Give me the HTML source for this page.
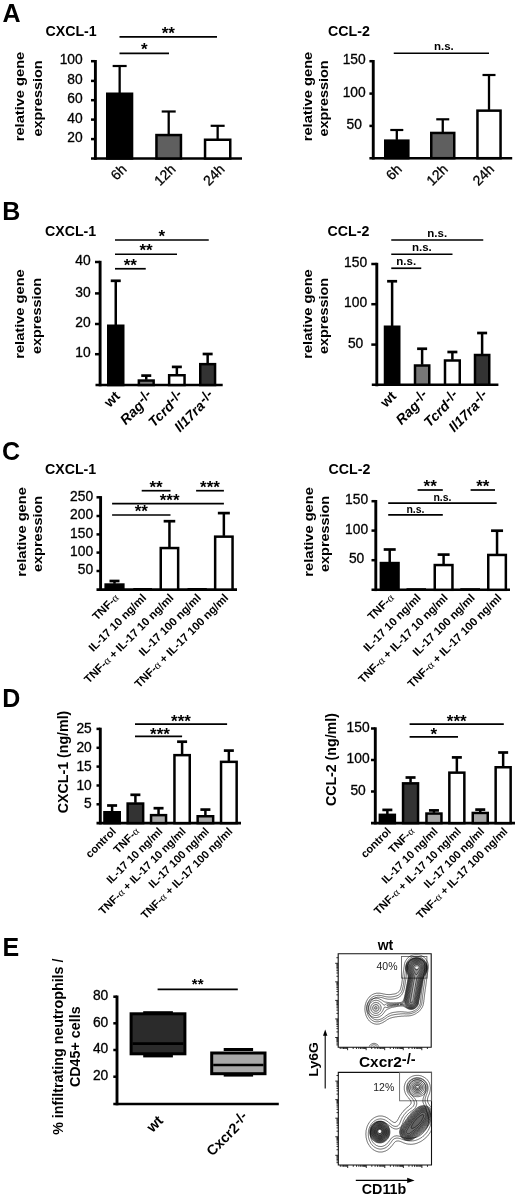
<!DOCTYPE html>
<html><head><meta charset="utf-8"><title>Figure</title>
<style>
html,body{margin:0;padding:0;background:#fff;}
svg{display:block;}
svg text{font-family:'Liberation Sans', Arial, Helvetica, sans-serif;}
</style></head>
<body>
<svg width="520" height="1200" viewBox="0 0 520 1200">
<rect width="520" height="1200" fill="#fff"/>
<text x="2.4" y="21.5" font-size="25" font-weight="bold">A</text>
<text x="45.5" y="35.8" font-size="14.2" font-weight="bold">CXCL-1</text>
<text transform="translate(24.3,96.5) rotate(-90)" font-size="13.2" font-weight="bold" text-anchor="middle" textLength="89.5" lengthAdjust="spacingAndGlyphs">relative gene</text>
<text transform="translate(42.2,98.5) rotate(-90)" font-size="13.2" font-weight="bold" text-anchor="middle" textLength="76" lengthAdjust="spacingAndGlyphs">expression</text>
<line x1="95.4" y1="60" x2="95.4" y2="159.8" stroke="#000" stroke-width="2.9"/>
<line x1="91" y1="61.2" x2="95.4" y2="61.2" stroke="#000" stroke-width="2.5"/>
<text x="82.7" y="64.4" font-size="13.8" text-anchor="end" stroke="#000" stroke-width="0.3">100</text>
<line x1="91" y1="80.9" x2="95.4" y2="80.9" stroke="#000" stroke-width="2.5"/>
<text x="82.7" y="84.1" font-size="13.8" text-anchor="end" stroke="#000" stroke-width="0.3">80</text>
<line x1="91" y1="100.2" x2="95.4" y2="100.2" stroke="#000" stroke-width="2.5"/>
<text x="82.7" y="103.4" font-size="13.8" text-anchor="end" stroke="#000" stroke-width="0.3">60</text>
<line x1="91" y1="119.6" x2="95.4" y2="119.6" stroke="#000" stroke-width="2.5"/>
<text x="82.7" y="122.8" font-size="13.8" text-anchor="end" stroke="#000" stroke-width="0.3">40</text>
<line x1="91" y1="139.1" x2="95.4" y2="139.1" stroke="#000" stroke-width="2.5"/>
<text x="82.7" y="142.3" font-size="13.8" text-anchor="end" stroke="#000" stroke-width="0.3">20</text>
<line x1="91" y1="158.5" x2="242" y2="158.5" stroke="#000" stroke-width="2.6"/>
<rect x="107.25" y="93.75" width="24.8" height="64.75" fill="#000" stroke="#000" stroke-width="2.5"/>
<line x1="119.65" y1="93" x2="119.65" y2="66" stroke="#000" stroke-width="2.3"/>
<line x1="112.65" y1="66" x2="126.65" y2="66" stroke="#000" stroke-width="2.2"/>
<rect x="156.45" y="135.05" width="24.5" height="23.45" fill="#5f5f5f" stroke="#000" stroke-width="2.5"/>
<line x1="168.7" y1="134.3" x2="168.7" y2="111.5" stroke="#000" stroke-width="2.3"/>
<line x1="161.7" y1="111.5" x2="175.7" y2="111.5" stroke="#000" stroke-width="2.2"/>
<rect x="205.05" y="139.75" width="25.2" height="18.75" fill="#fff" stroke="#000" stroke-width="2.5"/>
<line x1="217.65" y1="139" x2="217.65" y2="125.8" stroke="#000" stroke-width="2.3"/>
<line x1="210.65" y1="125.8" x2="224.65" y2="125.8" stroke="#000" stroke-width="2.2"/>
<line x1="119.5" y1="36.8" x2="217" y2="36.8" stroke="#000" stroke-width="1.7"/>
<text x="168.25" y="38.6" font-size="17" font-weight="bold" text-anchor="middle">**</text>
<line x1="119.5" y1="53.3" x2="169" y2="53.3" stroke="#000" stroke-width="1.7"/>
<text x="144.25" y="55.1" font-size="17" font-weight="bold" text-anchor="middle">*</text>
<text transform="translate(127.4,170) rotate(-45)" font-size="14" text-anchor="end" stroke="#000" stroke-width="0.3">6h</text>
<text transform="translate(176.5,170) rotate(-45)" font-size="14" text-anchor="end" stroke="#000" stroke-width="0.3">12h</text>
<text transform="translate(225.4,170) rotate(-45)" font-size="14" text-anchor="end" stroke="#000" stroke-width="0.3">24h</text>
<text x="328" y="35.8" font-size="14.2" font-weight="bold">CCL-2</text>
<text transform="translate(311.7,96.5) rotate(-90)" font-size="13.2" font-weight="bold" text-anchor="middle" textLength="89.5" lengthAdjust="spacingAndGlyphs">relative gene</text>
<text transform="translate(328.1,98.5) rotate(-90)" font-size="13.2" font-weight="bold" text-anchor="middle" textLength="76" lengthAdjust="spacingAndGlyphs">expression</text>
<line x1="373.25" y1="60" x2="373.25" y2="159.5" stroke="#000" stroke-width="2.9"/>
<line x1="369.4" y1="61.2" x2="373.25" y2="61.2" stroke="#000" stroke-width="2.5"/>
<text x="354.2" y="64.4" font-size="13.8" text-anchor="middle" stroke="#000" stroke-width="0.3">150</text>
<line x1="369.4" y1="93.6" x2="373.25" y2="93.6" stroke="#000" stroke-width="2.5"/>
<text x="354.2" y="96.8" font-size="13.8" text-anchor="middle" stroke="#000" stroke-width="0.3">100</text>
<line x1="369.4" y1="125.9" x2="373.25" y2="125.9" stroke="#000" stroke-width="2.5"/>
<text x="354.2" y="129.1" font-size="13.8" text-anchor="middle" stroke="#000" stroke-width="0.3">50</text>
<line x1="369.4" y1="158.2" x2="512.2" y2="158.2" stroke="#000" stroke-width="2.6"/>
<rect x="385.25" y="140.65" width="23.1" height="17.55" fill="#000" stroke="#000" stroke-width="2.5"/>
<line x1="396.8" y1="139.9" x2="396.8" y2="130" stroke="#000" stroke-width="2.3"/>
<line x1="390.3" y1="130" x2="403.3" y2="130" stroke="#000" stroke-width="2.2"/>
<rect x="431.25" y="132.95" width="23" height="25.25" fill="#5f5f5f" stroke="#000" stroke-width="2.5"/>
<line x1="442.75" y1="132.2" x2="442.75" y2="119.3" stroke="#000" stroke-width="2.3"/>
<line x1="436.25" y1="119.3" x2="449.25" y2="119.3" stroke="#000" stroke-width="2.2"/>
<rect x="477.45" y="110.65" width="23.1" height="47.55" fill="#fff" stroke="#000" stroke-width="2.5"/>
<line x1="489" y1="109.9" x2="489" y2="75" stroke="#000" stroke-width="2.3"/>
<line x1="482.5" y1="75" x2="495.5" y2="75" stroke="#000" stroke-width="2.2"/>
<line x1="393.75" y1="53.25" x2="489" y2="53.25" stroke="#000" stroke-width="1.7"/>
<text x="443.88" y="50.05" font-size="11.5" font-weight="bold" text-anchor="middle">n.s.</text>
<text transform="translate(402.8,170) rotate(-45)" font-size="14" text-anchor="end" stroke="#000" stroke-width="0.3">6h</text>
<text transform="translate(448.7,170) rotate(-45)" font-size="14" text-anchor="end" stroke="#000" stroke-width="0.3">12h</text>
<text transform="translate(495,170) rotate(-45)" font-size="14" text-anchor="end" stroke="#000" stroke-width="0.3">24h</text>
<text x="2.2" y="220.2" font-size="25" font-weight="bold">B</text>
<text x="45" y="235.5" font-size="14.2" font-weight="bold">CXCL-1</text>
<text transform="translate(24.4,314) rotate(-90)" font-size="13.2" font-weight="bold" text-anchor="middle" textLength="89.5" lengthAdjust="spacingAndGlyphs">relative gene</text>
<text transform="translate(41.3,316) rotate(-90)" font-size="13.2" font-weight="bold" text-anchor="middle" textLength="76" lengthAdjust="spacingAndGlyphs">expression</text>
<line x1="100.1" y1="260.8" x2="100.1" y2="386.3" stroke="#000" stroke-width="2.9"/>
<line x1="95" y1="262" x2="100.1" y2="262" stroke="#000" stroke-width="2.5"/>
<text x="90.6" y="265.2" font-size="13.8" text-anchor="end" stroke="#000" stroke-width="0.3">40</text>
<line x1="95" y1="293.4" x2="100.1" y2="293.4" stroke="#000" stroke-width="2.5"/>
<text x="90.6" y="296.6" font-size="13.8" text-anchor="end" stroke="#000" stroke-width="0.3">30</text>
<line x1="95" y1="324" x2="100.1" y2="324" stroke="#000" stroke-width="2.5"/>
<text x="90.6" y="327.2" font-size="13.8" text-anchor="end" stroke="#000" stroke-width="0.3">20</text>
<line x1="95" y1="354.2" x2="100.1" y2="354.2" stroke="#000" stroke-width="2.5"/>
<text x="90.6" y="357.4" font-size="13.8" text-anchor="end" stroke="#000" stroke-width="0.3">10</text>
<line x1="95.5" y1="385" x2="222.7" y2="385" stroke="#000" stroke-width="2.6"/>
<rect x="108.25" y="325.75" width="15" height="59.25" fill="#000" stroke="#000" stroke-width="2.5"/>
<line x1="115.75" y1="325" x2="115.75" y2="280.8" stroke="#000" stroke-width="2.5"/>
<line x1="110.75" y1="280.8" x2="120.75" y2="280.8" stroke="#000" stroke-width="2.7"/>
<rect x="138.85" y="380.55" width="14.8" height="4.45" fill="#777777" stroke="#000" stroke-width="2.5"/>
<line x1="146.25" y1="379.8" x2="146.25" y2="375.6" stroke="#000" stroke-width="2.5"/>
<line x1="141.25" y1="375.6" x2="151.25" y2="375.6" stroke="#000" stroke-width="2.7"/>
<rect x="169.15" y="375.25" width="15.4" height="9.75" fill="#fff" stroke="#000" stroke-width="2.5"/>
<line x1="176.85" y1="374.5" x2="176.85" y2="366.9" stroke="#000" stroke-width="2.5"/>
<line x1="171.85" y1="366.9" x2="181.85" y2="366.9" stroke="#000" stroke-width="2.7"/>
<rect x="200.25" y="364.15" width="14.8" height="20.85" fill="#333333" stroke="#000" stroke-width="2.5"/>
<line x1="207.65" y1="363.4" x2="207.65" y2="354" stroke="#000" stroke-width="2.5"/>
<line x1="202.65" y1="354" x2="212.65" y2="354" stroke="#000" stroke-width="2.7"/>
<line x1="115" y1="240" x2="208.75" y2="240" stroke="#000" stroke-width="1.7"/>
<text x="161.88" y="241.8" font-size="17" font-weight="bold" text-anchor="middle">*</text>
<line x1="115" y1="254.25" x2="177" y2="254.25" stroke="#000" stroke-width="1.7"/>
<text x="146" y="256.05" font-size="17" font-weight="bold" text-anchor="middle">**</text>
<line x1="115" y1="268.75" x2="145.75" y2="268.75" stroke="#000" stroke-width="1.7"/>
<text x="130.38" y="270.55" font-size="17" font-weight="bold" text-anchor="middle">**</text>
<text transform="translate(120.7,397) rotate(-45)" font-size="14" font-weight="bold" text-anchor="end">wt</text>
<text transform="translate(154.2,397) rotate(-45)" font-size="14" font-weight="bold" text-anchor="end"><tspan font-style="italic">Rag</tspan><tspan dx="0.6" dy="-3" font-style="normal">-/-</tspan></text>
<text transform="translate(184.8,397) rotate(-45)" font-size="14" font-weight="bold" text-anchor="end"><tspan font-style="italic">Tcrd</tspan><tspan dx="0.6" dy="-3" font-style="normal">-/-</tspan></text>
<text transform="translate(215.6,397) rotate(-45)" font-size="14" font-weight="bold" text-anchor="end"><tspan font-style="italic">Il17ra</tspan><tspan dx="0.6" dy="-3" font-style="normal">-/-</tspan></text>
<text x="327.5" y="235.5" font-size="14.2" font-weight="bold">CCL-2</text>
<text transform="translate(312.1,314) rotate(-90)" font-size="13.2" font-weight="bold" text-anchor="middle" textLength="89.5" lengthAdjust="spacingAndGlyphs">relative gene</text>
<text transform="translate(328.4,316) rotate(-90)" font-size="13.2" font-weight="bold" text-anchor="middle" textLength="76" lengthAdjust="spacingAndGlyphs">expression</text>
<line x1="376.8" y1="262.8" x2="376.8" y2="386.3" stroke="#000" stroke-width="2.9"/>
<line x1="371.3" y1="264" x2="376.8" y2="264" stroke="#000" stroke-width="2.5"/>
<text x="355.6" y="267.2" font-size="13.8" text-anchor="middle" stroke="#000" stroke-width="0.3">150</text>
<line x1="371.3" y1="304.2" x2="376.8" y2="304.2" stroke="#000" stroke-width="2.5"/>
<text x="355.6" y="307.4" font-size="13.8" text-anchor="middle" stroke="#000" stroke-width="0.3">100</text>
<line x1="371.3" y1="344.6" x2="376.8" y2="344.6" stroke="#000" stroke-width="2.5"/>
<text x="355.6" y="347.8" font-size="13.8" text-anchor="middle" stroke="#000" stroke-width="0.3">50</text>
<line x1="371.8" y1="384.7" x2="498.4" y2="384.7" stroke="#000" stroke-width="2.6"/>
<rect x="385" y="326.75" width="14.25" height="57.95" fill="#000" stroke="#000" stroke-width="2.5"/>
<line x1="392.12" y1="326" x2="392.12" y2="281.25" stroke="#000" stroke-width="2.5"/>
<line x1="387.12" y1="281.25" x2="397.12" y2="281.25" stroke="#000" stroke-width="2.7"/>
<rect x="415" y="365.5" width="14.25" height="19.2" fill="#777777" stroke="#000" stroke-width="2.5"/>
<line x1="422.12" y1="364.75" x2="422.12" y2="348.75" stroke="#000" stroke-width="2.5"/>
<line x1="417.12" y1="348.75" x2="427.12" y2="348.75" stroke="#000" stroke-width="2.7"/>
<rect x="445" y="360.5" width="14.75" height="24.2" fill="#fff" stroke="#000" stroke-width="2.5"/>
<line x1="452.38" y1="359.75" x2="452.38" y2="352" stroke="#000" stroke-width="2.5"/>
<line x1="447.38" y1="352" x2="457.38" y2="352" stroke="#000" stroke-width="2.7"/>
<rect x="475" y="355" width="14.25" height="29.7" fill="#333333" stroke="#000" stroke-width="2.5"/>
<line x1="482.12" y1="354.25" x2="482.12" y2="333" stroke="#000" stroke-width="2.5"/>
<line x1="477.12" y1="333" x2="487.12" y2="333" stroke="#000" stroke-width="2.7"/>
<line x1="391.25" y1="240" x2="483.25" y2="240" stroke="#000" stroke-width="1.7"/>
<text x="437.25" y="236.8" font-size="11.5" font-weight="bold" text-anchor="middle">n.s.</text>
<line x1="391.25" y1="254.25" x2="452.5" y2="254.25" stroke="#000" stroke-width="1.7"/>
<text x="421.88" y="251.05" font-size="11.5" font-weight="bold" text-anchor="middle">n.s.</text>
<line x1="391.25" y1="268.25" x2="421.25" y2="268.25" stroke="#000" stroke-width="1.7"/>
<text x="406.25" y="265.05" font-size="11.5" font-weight="bold" text-anchor="middle">n.s.</text>
<text transform="translate(397,397) rotate(-45)" font-size="14" font-weight="bold" text-anchor="end">wt</text>
<text transform="translate(430,397) rotate(-45)" font-size="14" font-weight="bold" text-anchor="end"><tspan font-style="italic">Rag</tspan><tspan dx="0.6" dy="-3" font-style="normal">-/-</tspan></text>
<text transform="translate(460.4,397) rotate(-45)" font-size="14" font-weight="bold" text-anchor="end"><tspan font-style="italic">Tcrd</tspan><tspan dx="0.6" dy="-3" font-style="normal">-/-</tspan></text>
<text transform="translate(490,397) rotate(-45)" font-size="14" font-weight="bold" text-anchor="end"><tspan font-style="italic">Il17ra</tspan><tspan dx="0.6" dy="-3" font-style="normal">-/-</tspan></text>
<text x="2" y="460.2" font-size="25" font-weight="bold">C</text>
<text x="45" y="474.3" font-size="14.2" font-weight="bold">CXCL-1</text>
<text transform="translate(25.6,531.9) rotate(-90)" font-size="13.2" font-weight="bold" text-anchor="middle" textLength="89.5" lengthAdjust="spacingAndGlyphs">relative gene</text>
<text transform="translate(41.7,533.9) rotate(-90)" font-size="13.2" font-weight="bold" text-anchor="middle" textLength="76" lengthAdjust="spacingAndGlyphs">expression</text>
<line x1="100.6" y1="496.1" x2="100.6" y2="590.9" stroke="#000" stroke-width="2.9"/>
<line x1="96.5" y1="497.3" x2="100.6" y2="497.3" stroke="#000" stroke-width="2.5"/>
<text x="93.1" y="500.5" font-size="13.8" text-anchor="end" stroke="#000" stroke-width="0.3">250</text>
<line x1="96.5" y1="516" x2="100.6" y2="516" stroke="#000" stroke-width="2.5"/>
<text x="93.1" y="519.2" font-size="13.8" text-anchor="end" stroke="#000" stroke-width="0.3">200</text>
<line x1="96.5" y1="534.4" x2="100.6" y2="534.4" stroke="#000" stroke-width="2.5"/>
<text x="93.1" y="537.6" font-size="13.8" text-anchor="end" stroke="#000" stroke-width="0.3">150</text>
<line x1="96.5" y1="552.6" x2="100.6" y2="552.6" stroke="#000" stroke-width="2.5"/>
<text x="93.1" y="555.8" font-size="13.8" text-anchor="end" stroke="#000" stroke-width="0.3">100</text>
<line x1="96.5" y1="571" x2="100.6" y2="571" stroke="#000" stroke-width="2.5"/>
<text x="93.1" y="574.2" font-size="13.8" text-anchor="end" stroke="#000" stroke-width="0.3">50</text>
<line x1="96.5" y1="589.6" x2="237" y2="589.6" stroke="#000" stroke-width="2.6"/>
<rect x="105.65" y="584.55" width="17.7" height="5.05" fill="#000" stroke="#000" stroke-width="2.5"/>
<line x1="114.5" y1="583.8" x2="114.5" y2="581" stroke="#000" stroke-width="2.5"/>
<line x1="109.5" y1="581" x2="119.5" y2="581" stroke="#000" stroke-width="2.7"/>
<rect x="133.3" y="588" width="18.7" height="1.6" fill="#000"/>
<rect x="160.75" y="548.05" width="17.4" height="41.55" fill="#fff" stroke="#000" stroke-width="2.5"/>
<line x1="169.45" y1="547.3" x2="169.45" y2="521.2" stroke="#000" stroke-width="2.5"/>
<line x1="163.65" y1="521.2" x2="175.25" y2="521.2" stroke="#000" stroke-width="2.7"/>
<rect x="187.5" y="588" width="19.3" height="1.6" fill="#000"/>
<rect x="215.15" y="536.65" width="17.4" height="52.95" fill="#fff" stroke="#000" stroke-width="2.5"/>
<line x1="223.85" y1="535.9" x2="223.85" y2="513.1" stroke="#000" stroke-width="2.5"/>
<line x1="217.85" y1="513.1" x2="229.85" y2="513.1" stroke="#000" stroke-width="2.7"/>
<line x1="141.7" y1="490.7" x2="170.5" y2="490.7" stroke="#000" stroke-width="1.7"/>
<text x="156.1" y="492.5" font-size="17" font-weight="bold" text-anchor="middle">**</text>
<line x1="196.1" y1="490.7" x2="223.9" y2="490.7" stroke="#000" stroke-width="1.7"/>
<text x="210" y="492.5" font-size="17" font-weight="bold" text-anchor="middle">***</text>
<line x1="112.1" y1="503.7" x2="223.9" y2="503.7" stroke="#000" stroke-width="1.7"/>
<text x="169.6" y="505.5" font-size="17" font-weight="bold" text-anchor="middle">***</text>
<line x1="112.1" y1="515" x2="170.5" y2="515" stroke="#000" stroke-width="1.7"/>
<text x="141.3" y="516.8" font-size="17" font-weight="bold" text-anchor="middle">**</text>
<text transform="translate(119.5,598.5) rotate(-45)" font-size="11.4" font-weight="bold" text-anchor="end">TNF-<tspan font-family="'Liberation Serif', serif" font-weight="normal">&#945;</tspan></text>
<text transform="translate(146.9,598.5) rotate(-45)" font-size="11.4" font-weight="bold" text-anchor="end">IL-17 10 ng/ml</text>
<text transform="translate(174.3,598.5) rotate(-45)" font-size="11.4" font-weight="bold" text-anchor="end">TNF-<tspan font-family="'Liberation Serif', serif" font-weight="normal">&#945;</tspan> + IL-17 10 ng/ml</text>
<text transform="translate(201.7,598.5) rotate(-45)" font-size="11.4" font-weight="bold" text-anchor="end">IL-17 100 ng/ml</text>
<text transform="translate(229.1,598.5) rotate(-45)" font-size="11.4" font-weight="bold" text-anchor="end">TNF-<tspan font-family="'Liberation Serif', serif" font-weight="normal">&#945;</tspan> + IL-17 100 ng/ml</text>
<text x="328.5" y="474.3" font-size="14.2" font-weight="bold">CCL-2</text>
<text transform="translate(312.8,531.9) rotate(-90)" font-size="13.2" font-weight="bold" text-anchor="middle" textLength="89.5" lengthAdjust="spacingAndGlyphs">relative gene</text>
<text transform="translate(329.3,533.9) rotate(-90)" font-size="13.2" font-weight="bold" text-anchor="middle" textLength="76" lengthAdjust="spacingAndGlyphs">expression</text>
<line x1="375.8" y1="500" x2="375.8" y2="591.1" stroke="#000" stroke-width="2.9"/>
<line x1="371.5" y1="501.2" x2="375.8" y2="501.2" stroke="#000" stroke-width="2.5"/>
<text x="356.6" y="504.4" font-size="13.8" text-anchor="middle" stroke="#000" stroke-width="0.3">150</text>
<line x1="371.5" y1="530.6" x2="375.8" y2="530.6" stroke="#000" stroke-width="2.5"/>
<text x="356.6" y="533.8" font-size="13.8" text-anchor="middle" stroke="#000" stroke-width="0.3">100</text>
<line x1="371.5" y1="560.2" x2="375.8" y2="560.2" stroke="#000" stroke-width="2.5"/>
<text x="356.6" y="563.4" font-size="13.8" text-anchor="middle" stroke="#000" stroke-width="0.3">50</text>
<line x1="371.5" y1="589.8" x2="510" y2="589.8" stroke="#000" stroke-width="2.6"/>
<rect x="380.85" y="563.05" width="17.7" height="26.75" fill="#000" stroke="#000" stroke-width="2.5"/>
<line x1="389.7" y1="562.3" x2="389.7" y2="549.5" stroke="#000" stroke-width="2.5"/>
<line x1="383.7" y1="549.5" x2="395.7" y2="549.5" stroke="#000" stroke-width="2.7"/>
<rect x="406.5" y="588.2" width="19.5" height="1.6" fill="#000"/>
<rect x="434.75" y="565.05" width="17.7" height="24.75" fill="#fff" stroke="#000" stroke-width="2.5"/>
<line x1="443.6" y1="564.3" x2="443.6" y2="554.6" stroke="#000" stroke-width="2.5"/>
<line x1="437.6" y1="554.6" x2="449.6" y2="554.6" stroke="#000" stroke-width="2.7"/>
<rect x="460.3" y="588.2" width="19.7" height="1.6" fill="#000"/>
<rect x="488.25" y="554.95" width="17.6" height="34.85" fill="#fff" stroke="#000" stroke-width="2.5"/>
<line x1="497.05" y1="554.2" x2="497.05" y2="530.7" stroke="#000" stroke-width="2.5"/>
<line x1="491.05" y1="530.7" x2="503.05" y2="530.7" stroke="#000" stroke-width="2.7"/>
<line x1="417.6" y1="490" x2="442.8" y2="490" stroke="#000" stroke-width="1.7"/>
<text x="430.2" y="491.8" font-size="17" font-weight="bold" text-anchor="middle">**</text>
<line x1="470.6" y1="490" x2="495" y2="490" stroke="#000" stroke-width="1.7"/>
<text x="482.8" y="491.8" font-size="17" font-weight="bold" text-anchor="middle">**</text>
<line x1="388.2" y1="503.2" x2="496.7" y2="503.2" stroke="#000" stroke-width="1.7"/>
<text x="442.45" y="501.2" font-size="10.5" font-weight="bold" text-anchor="middle">n.s.</text>
<line x1="388.2" y1="514.9" x2="442.8" y2="514.9" stroke="#000" stroke-width="1.7"/>
<text x="415.5" y="512.9" font-size="10.5" font-weight="bold" text-anchor="middle">n.s.</text>
<text transform="translate(394.7,598.5) rotate(-45)" font-size="11.4" font-weight="bold" text-anchor="end">TNF-<tspan font-family="'Liberation Serif', serif" font-weight="normal">&#945;</tspan></text>
<text transform="translate(421.6,598.5) rotate(-45)" font-size="11.4" font-weight="bold" text-anchor="end">IL-17 10 ng/ml</text>
<text transform="translate(448.5,598.5) rotate(-45)" font-size="11.4" font-weight="bold" text-anchor="end">TNF-<tspan font-family="'Liberation Serif', serif" font-weight="normal">&#945;</tspan> + IL-17 10 ng/ml</text>
<text transform="translate(475.4,598.5) rotate(-45)" font-size="11.4" font-weight="bold" text-anchor="end">IL-17 100 ng/ml</text>
<text transform="translate(502.3,598.5) rotate(-45)" font-size="11.4" font-weight="bold" text-anchor="end">TNF-<tspan font-family="'Liberation Serif', serif" font-weight="normal">&#945;</tspan> + IL-17 100 ng/ml</text>
<text x="2.2" y="706.9" font-size="25" font-weight="bold">D</text>
<text transform="translate(67.6,761.9) rotate(-90)" font-size="14.2" font-weight="bold" text-anchor="middle">CXCL-1 (ng/ml)</text>
<line x1="100.3" y1="727.7" x2="100.3" y2="824.4" stroke="#000" stroke-width="2.9"/>
<line x1="96.5" y1="728.9" x2="100.3" y2="728.9" stroke="#000" stroke-width="2.5"/>
<text x="91.8" y="732.9" font-size="13.8" text-anchor="end" stroke="#000" stroke-width="0.3">25</text>
<line x1="96.5" y1="747.8" x2="100.3" y2="747.8" stroke="#000" stroke-width="2.5"/>
<text x="91.8" y="751.8" font-size="13.8" text-anchor="end" stroke="#000" stroke-width="0.3">20</text>
<line x1="96.5" y1="766.6" x2="100.3" y2="766.6" stroke="#000" stroke-width="2.5"/>
<text x="91.8" y="770.6" font-size="13.8" text-anchor="end" stroke="#000" stroke-width="0.3">15</text>
<line x1="96.5" y1="785.5" x2="100.3" y2="785.5" stroke="#000" stroke-width="2.5"/>
<text x="91.8" y="789.5" font-size="13.8" text-anchor="end" stroke="#000" stroke-width="0.3">10</text>
<line x1="96.5" y1="804.3" x2="100.3" y2="804.3" stroke="#000" stroke-width="2.5"/>
<text x="91.8" y="808.3" font-size="13.8" text-anchor="end" stroke="#000" stroke-width="0.3">5</text>
<line x1="96.5" y1="823.1" x2="241" y2="823.1" stroke="#000" stroke-width="2.6"/>
<rect x="104.45" y="812.25" width="15.3" height="10.85" fill="#000" stroke="#000" stroke-width="2.5"/>
<line x1="112.1" y1="811.5" x2="112.1" y2="805.5" stroke="#000" stroke-width="2.5"/>
<line x1="107.1" y1="805.5" x2="117.1" y2="805.5" stroke="#000" stroke-width="2.7"/>
<rect x="127.65" y="803.55" width="15.5" height="19.55" fill="#333333" stroke="#000" stroke-width="2.5"/>
<line x1="135.4" y1="802.8" x2="135.4" y2="794.8" stroke="#000" stroke-width="2.5"/>
<line x1="130.4" y1="794.8" x2="140.4" y2="794.8" stroke="#000" stroke-width="2.7"/>
<rect x="151.05" y="815.15" width="15" height="7.95" fill="#a8a8a8" stroke="#000" stroke-width="2.5"/>
<line x1="158.55" y1="814.4" x2="158.55" y2="808.2" stroke="#000" stroke-width="2.5"/>
<line x1="153.55" y1="808.2" x2="163.55" y2="808.2" stroke="#000" stroke-width="2.7"/>
<rect x="174.45" y="755.15" width="15.3" height="67.95" fill="#fff" stroke="#000" stroke-width="2.5"/>
<line x1="182.1" y1="754.4" x2="182.1" y2="741.7" stroke="#000" stroke-width="2.5"/>
<line x1="177.1" y1="741.7" x2="187.1" y2="741.7" stroke="#000" stroke-width="2.7"/>
<rect x="197.65" y="816.25" width="15.5" height="6.85" fill="#a8a8a8" stroke="#000" stroke-width="2.5"/>
<line x1="205.4" y1="815.5" x2="205.4" y2="809.6" stroke="#000" stroke-width="2.5"/>
<line x1="200.4" y1="809.6" x2="210.4" y2="809.6" stroke="#000" stroke-width="2.7"/>
<rect x="221.05" y="761.85" width="15.6" height="61.25" fill="#fff" stroke="#000" stroke-width="2.5"/>
<line x1="228.85" y1="761.1" x2="228.85" y2="750.6" stroke="#000" stroke-width="2.5"/>
<line x1="223.85" y1="750.6" x2="233.85" y2="750.6" stroke="#000" stroke-width="2.7"/>
<line x1="135" y1="724.2" x2="227.1" y2="724.2" stroke="#000" stroke-width="1.7"/>
<text x="181.05" y="727.2" font-size="17" font-weight="bold" text-anchor="middle">***</text>
<line x1="135" y1="736.3" x2="182.1" y2="736.3" stroke="#000" stroke-width="1.7"/>
<text x="160.05" y="739.5" font-size="17" font-weight="bold" text-anchor="middle">***</text>
<text transform="translate(116.6,832) rotate(-45)" font-size="11.1" font-weight="bold" text-anchor="end">control</text>
<text transform="translate(139.9,832) rotate(-45)" font-size="11.1" font-weight="bold" text-anchor="end">TNF-<tspan font-family="'Liberation Serif', serif" font-weight="normal">&#945;</tspan></text>
<text transform="translate(163.2,832) rotate(-45)" font-size="11.1" font-weight="bold" text-anchor="end">IL-17 10 ng/ml</text>
<text transform="translate(186.5,832) rotate(-45)" font-size="11.1" font-weight="bold" text-anchor="end">TNF-<tspan font-family="'Liberation Serif', serif" font-weight="normal">&#945;</tspan> + IL-17 10 ng/ml</text>
<text transform="translate(209.8,832) rotate(-45)" font-size="11.1" font-weight="bold" text-anchor="end">IL-17 100 ng/ml</text>
<text transform="translate(233.1,832) rotate(-45)" font-size="11.1" font-weight="bold" text-anchor="end">TNF-<tspan font-family="'Liberation Serif', serif" font-weight="normal">&#945;</tspan> + IL-17 100 ng/ml</text>
<text transform="translate(336.2,759.6) rotate(-90)" font-size="14.2" font-weight="bold" text-anchor="middle">CCL-2 (ng/ml)</text>
<line x1="375.3" y1="727.3" x2="375.3" y2="824.4" stroke="#000" stroke-width="2.9"/>
<line x1="371" y1="728.5" x2="375.3" y2="728.5" stroke="#000" stroke-width="2.5"/>
<text x="358.1" y="731.7" font-size="13.8" text-anchor="middle" stroke="#000" stroke-width="0.3">150</text>
<line x1="371" y1="760" x2="375.3" y2="760" stroke="#000" stroke-width="2.5"/>
<text x="358.1" y="763.2" font-size="13.8" text-anchor="middle" stroke="#000" stroke-width="0.3">100</text>
<line x1="371" y1="791.5" x2="375.3" y2="791.5" stroke="#000" stroke-width="2.5"/>
<text x="358.1" y="794.7" font-size="13.8" text-anchor="middle" stroke="#000" stroke-width="0.3">50</text>
<line x1="371" y1="823.1" x2="515" y2="823.1" stroke="#000" stroke-width="2.6"/>
<rect x="379.85" y="814.85" width="15" height="8.25" fill="#000" stroke="#000" stroke-width="2.5"/>
<line x1="387.35" y1="814.1" x2="387.35" y2="809.9" stroke="#000" stroke-width="2.5"/>
<line x1="382.35" y1="809.9" x2="392.35" y2="809.9" stroke="#000" stroke-width="2.7"/>
<rect x="403.05" y="783.35" width="15" height="39.75" fill="#333333" stroke="#000" stroke-width="2.5"/>
<line x1="410.55" y1="782.6" x2="410.55" y2="777.5" stroke="#000" stroke-width="2.5"/>
<line x1="405.55" y1="777.5" x2="415.55" y2="777.5" stroke="#000" stroke-width="2.7"/>
<rect x="426.45" y="813.55" width="15" height="9.55" fill="#a8a8a8" stroke="#000" stroke-width="2.5"/>
<line x1="433.95" y1="812.8" x2="433.95" y2="810.4" stroke="#000" stroke-width="2.5"/>
<line x1="428.95" y1="810.4" x2="438.95" y2="810.4" stroke="#000" stroke-width="2.7"/>
<rect x="449.35" y="772.65" width="15" height="50.45" fill="#fff" stroke="#000" stroke-width="2.5"/>
<line x1="456.85" y1="771.9" x2="456.85" y2="757.4" stroke="#000" stroke-width="2.5"/>
<line x1="451.85" y1="757.4" x2="461.85" y2="757.4" stroke="#000" stroke-width="2.7"/>
<rect x="472.75" y="812.95" width="15" height="10.15" fill="#a8a8a8" stroke="#000" stroke-width="2.5"/>
<line x1="480.25" y1="812.2" x2="480.25" y2="809.6" stroke="#000" stroke-width="2.5"/>
<line x1="475.25" y1="809.6" x2="485.25" y2="809.6" stroke="#000" stroke-width="2.7"/>
<rect x="495.65" y="767.25" width="15" height="55.85" fill="#fff" stroke="#000" stroke-width="2.5"/>
<line x1="503.15" y1="766.5" x2="503.15" y2="752.5" stroke="#000" stroke-width="2.5"/>
<line x1="498.15" y1="752.5" x2="508.15" y2="752.5" stroke="#000" stroke-width="2.7"/>
<line x1="409.6" y1="724.2" x2="503.8" y2="724.2" stroke="#000" stroke-width="1.7"/>
<text x="456.7" y="727.2" font-size="17" font-weight="bold" text-anchor="middle">***</text>
<line x1="409.6" y1="736.9" x2="458" y2="736.9" stroke="#000" stroke-width="1.7"/>
<text x="433.8" y="739.9" font-size="17" font-weight="bold" text-anchor="middle">*</text>
<text transform="translate(391.8,832) rotate(-45)" font-size="11.1" font-weight="bold" text-anchor="end">control</text>
<text transform="translate(415.1,832) rotate(-45)" font-size="11.1" font-weight="bold" text-anchor="end">TNF-<tspan font-family="'Liberation Serif', serif" font-weight="normal">&#945;</tspan></text>
<text transform="translate(438.4,832) rotate(-45)" font-size="11.1" font-weight="bold" text-anchor="end">IL-17 10 ng/ml</text>
<text transform="translate(461.7,832) rotate(-45)" font-size="11.1" font-weight="bold" text-anchor="end">TNF-<tspan font-family="'Liberation Serif', serif" font-weight="normal">&#945;</tspan> + IL-17 10 ng/ml</text>
<text transform="translate(485,832) rotate(-45)" font-size="11.1" font-weight="bold" text-anchor="end">IL-17 100 ng/ml</text>
<text transform="translate(508.3,832) rotate(-45)" font-size="11.1" font-weight="bold" text-anchor="end">TNF-<tspan font-family="'Liberation Serif', serif" font-weight="normal">&#945;</tspan> + IL-17 100 ng/ml</text>
<text x="2.6" y="955.8" font-size="25" font-weight="bold">E</text>
<text transform="translate(62.5,1046.7) rotate(-90)" font-size="14.3" font-weight="bold" text-anchor="middle">% infiltrating neutrophils /</text>
<text transform="translate(79.7,1046.7) rotate(-90)" font-size="14.3" font-weight="bold" text-anchor="middle">CD45+ cells</text>
<line x1="117" y1="995.5" x2="117" y2="1105.3" stroke="#000" stroke-width="2.9"/>
<line x1="113.3" y1="996.7" x2="117" y2="996.7" stroke="#000" stroke-width="2.5"/>
<text x="108.3" y="999.9" font-size="13.8" text-anchor="end" stroke="#000" stroke-width="0.3">80</text>
<line x1="113.3" y1="1023.3" x2="117" y2="1023.3" stroke="#000" stroke-width="2.5"/>
<text x="108.3" y="1026.5" font-size="13.8" text-anchor="end" stroke="#000" stroke-width="0.3">60</text>
<line x1="113.3" y1="1050" x2="117" y2="1050" stroke="#000" stroke-width="2.5"/>
<text x="108.3" y="1053.2" font-size="13.8" text-anchor="end" stroke="#000" stroke-width="0.3">40</text>
<line x1="113.3" y1="1076.7" x2="117" y2="1076.7" stroke="#000" stroke-width="2.5"/>
<text x="108.3" y="1079.9" font-size="13.8" text-anchor="end" stroke="#000" stroke-width="0.3">20</text>
<line x1="113.3" y1="1104" x2="278.8" y2="1104" stroke="#000" stroke-width="2.6"/>
<line x1="143.2" y1="1012.7" x2="172.9" y2="1012.7" stroke="#000" stroke-width="3"/>
<line x1="143.2" y1="1055.9" x2="172.9" y2="1055.9" stroke="#000" stroke-width="3"/>
<rect x="131.1" y="1013.8" width="53.8" height="40" fill="#2b2b2b" stroke="#000" stroke-width="3"/>
<line x1="132.6" y1="1043.6" x2="183.4" y2="1043.6" stroke="#000" stroke-width="2.6"/>
<line x1="223.7" y1="1049.5" x2="253.1" y2="1049.5" stroke="#000" stroke-width="3"/>
<line x1="223.7" y1="1075.1" x2="253.1" y2="1075.1" stroke="#000" stroke-width="3"/>
<rect x="211.7" y="1053" width="53.3" height="20.7" fill="#a8a8a8" stroke="#000" stroke-width="3"/>
<line x1="213.2" y1="1065" x2="263.5" y2="1065" stroke="#000" stroke-width="2.6"/>
<line x1="157.6" y1="989.3" x2="237.8" y2="989.3" stroke="#000" stroke-width="1.7"/>
<text x="197.7" y="988.8" font-size="15" font-weight="bold" text-anchor="middle">**</text>
<text transform="translate(164,1121.5) rotate(-45)" font-size="14.5" font-weight="bold" text-anchor="end">wt</text>
<text transform="translate(250,1119) rotate(-45)" font-size="14.2" font-weight="bold" text-anchor="end">Cxcr2<tspan dx="0.6" dy="-3" font-style="normal">-/-</tspan></text>
<text x="385.5" y="949.7" font-size="14" font-weight="bold" text-anchor="middle">wt</text>
<text x="359" y="1066.8" font-size="15.4" font-weight="bold">Cxcr2<tspan font-size="95%" dy="-2.5">-/-</tspan></text>
<text transform="translate(318.3,1059.4) rotate(-90)" font-size="12.6" font-weight="bold" text-anchor="middle" textLength="34.5" lengthAdjust="spacingAndGlyphs">Ly6G</text>
<text x="384" y="1194" font-size="14.3" font-weight="bold" text-anchor="middle">CD11b</text>
<line x1="325.2" y1="1088.5" x2="325.2" y2="1034.5" stroke="#000" stroke-width="1.1"/>
<path d="M325.2 1029.4 L323 1035.8 L327.4 1035.8 Z" fill="#000"/>
<line x1="355.8" y1="1180.4" x2="409" y2="1180.4" stroke="#000" stroke-width="1.1"/>
<path d="M414.6 1180.4 L407.2 1177.8 L407.2 1183 Z" fill="#000"/>
<path d="M338.2 953.8 H431.2 V1047.2 H338.2 Z" fill="none" stroke="#111" stroke-width="1.1"/>
<line x1="336.4" y1="1044.88" x2="338.2" y2="1044.88" stroke="#111" stroke-width="0.9"/>
<line x1="340.22" y1="1047.2" x2="340.22" y2="1049" stroke="#111" stroke-width="0.9"/>
<line x1="336.4" y1="1043.08" x2="338.2" y2="1043.08" stroke="#111" stroke-width="0.9"/>
<line x1="342.02" y1="1047.2" x2="342.02" y2="1049" stroke="#111" stroke-width="0.9"/>
<line x1="336.4" y1="1041.62" x2="338.2" y2="1041.62" stroke="#111" stroke-width="0.9"/>
<line x1="343.48" y1="1047.2" x2="343.48" y2="1049" stroke="#111" stroke-width="0.9"/>
<line x1="336.4" y1="1040.37" x2="338.2" y2="1040.37" stroke="#111" stroke-width="0.9"/>
<line x1="344.73" y1="1047.2" x2="344.73" y2="1049" stroke="#111" stroke-width="0.9"/>
<line x1="336.4" y1="1039.3" x2="338.2" y2="1039.3" stroke="#111" stroke-width="0.9"/>
<line x1="345.8" y1="1047.2" x2="345.8" y2="1049" stroke="#111" stroke-width="0.9"/>
<line x1="336.4" y1="1038.35" x2="338.2" y2="1038.35" stroke="#111" stroke-width="0.9"/>
<line x1="346.75" y1="1047.2" x2="346.75" y2="1049" stroke="#111" stroke-width="0.9"/>
<line x1="335.2" y1="1037.5" x2="338.2" y2="1037.5" stroke="#111" stroke-width="0.9"/>
<line x1="347.6" y1="1047.2" x2="347.6" y2="1050.2" stroke="#111" stroke-width="0.9"/>
<line x1="336.4" y1="1031.92" x2="338.2" y2="1031.92" stroke="#111" stroke-width="0.9"/>
<line x1="353.18" y1="1047.2" x2="353.18" y2="1049" stroke="#111" stroke-width="0.9"/>
<line x1="336.4" y1="1028.65" x2="338.2" y2="1028.65" stroke="#111" stroke-width="0.9"/>
<line x1="356.45" y1="1047.2" x2="356.45" y2="1049" stroke="#111" stroke-width="0.9"/>
<line x1="336.4" y1="1026.33" x2="338.2" y2="1026.33" stroke="#111" stroke-width="0.9"/>
<line x1="358.77" y1="1047.2" x2="358.77" y2="1049" stroke="#111" stroke-width="0.9"/>
<line x1="336.4" y1="1024.53" x2="338.2" y2="1024.53" stroke="#111" stroke-width="0.9"/>
<line x1="360.57" y1="1047.2" x2="360.57" y2="1049" stroke="#111" stroke-width="0.9"/>
<line x1="336.4" y1="1023.07" x2="338.2" y2="1023.07" stroke="#111" stroke-width="0.9"/>
<line x1="362.03" y1="1047.2" x2="362.03" y2="1049" stroke="#111" stroke-width="0.9"/>
<line x1="336.4" y1="1021.82" x2="338.2" y2="1021.82" stroke="#111" stroke-width="0.9"/>
<line x1="363.28" y1="1047.2" x2="363.28" y2="1049" stroke="#111" stroke-width="0.9"/>
<line x1="336.4" y1="1020.75" x2="338.2" y2="1020.75" stroke="#111" stroke-width="0.9"/>
<line x1="364.35" y1="1047.2" x2="364.35" y2="1049" stroke="#111" stroke-width="0.9"/>
<line x1="336.4" y1="1019.8" x2="338.2" y2="1019.8" stroke="#111" stroke-width="0.9"/>
<line x1="365.3" y1="1047.2" x2="365.3" y2="1049" stroke="#111" stroke-width="0.9"/>
<line x1="335.2" y1="1018.95" x2="338.2" y2="1018.95" stroke="#111" stroke-width="0.9"/>
<line x1="366.15" y1="1047.2" x2="366.15" y2="1050.2" stroke="#111" stroke-width="0.9"/>
<line x1="336.4" y1="1013.37" x2="338.2" y2="1013.37" stroke="#111" stroke-width="0.9"/>
<line x1="371.73" y1="1047.2" x2="371.73" y2="1049" stroke="#111" stroke-width="0.9"/>
<line x1="336.4" y1="1010.1" x2="338.2" y2="1010.1" stroke="#111" stroke-width="0.9"/>
<line x1="375" y1="1047.2" x2="375" y2="1049" stroke="#111" stroke-width="0.9"/>
<line x1="336.4" y1="1007.78" x2="338.2" y2="1007.78" stroke="#111" stroke-width="0.9"/>
<line x1="377.32" y1="1047.2" x2="377.32" y2="1049" stroke="#111" stroke-width="0.9"/>
<line x1="336.4" y1="1005.98" x2="338.2" y2="1005.98" stroke="#111" stroke-width="0.9"/>
<line x1="379.12" y1="1047.2" x2="379.12" y2="1049" stroke="#111" stroke-width="0.9"/>
<line x1="336.4" y1="1004.52" x2="338.2" y2="1004.52" stroke="#111" stroke-width="0.9"/>
<line x1="380.58" y1="1047.2" x2="380.58" y2="1049" stroke="#111" stroke-width="0.9"/>
<line x1="336.4" y1="1003.27" x2="338.2" y2="1003.27" stroke="#111" stroke-width="0.9"/>
<line x1="381.83" y1="1047.2" x2="381.83" y2="1049" stroke="#111" stroke-width="0.9"/>
<line x1="336.4" y1="1002.2" x2="338.2" y2="1002.2" stroke="#111" stroke-width="0.9"/>
<line x1="382.9" y1="1047.2" x2="382.9" y2="1049" stroke="#111" stroke-width="0.9"/>
<line x1="336.4" y1="1001.25" x2="338.2" y2="1001.25" stroke="#111" stroke-width="0.9"/>
<line x1="383.85" y1="1047.2" x2="383.85" y2="1049" stroke="#111" stroke-width="0.9"/>
<line x1="335.2" y1="1000.4" x2="338.2" y2="1000.4" stroke="#111" stroke-width="0.9"/>
<line x1="384.7" y1="1047.2" x2="384.7" y2="1050.2" stroke="#111" stroke-width="0.9"/>
<line x1="336.4" y1="994.82" x2="338.2" y2="994.82" stroke="#111" stroke-width="0.9"/>
<line x1="390.28" y1="1047.2" x2="390.28" y2="1049" stroke="#111" stroke-width="0.9"/>
<line x1="336.4" y1="991.55" x2="338.2" y2="991.55" stroke="#111" stroke-width="0.9"/>
<line x1="393.55" y1="1047.2" x2="393.55" y2="1049" stroke="#111" stroke-width="0.9"/>
<line x1="336.4" y1="989.23" x2="338.2" y2="989.23" stroke="#111" stroke-width="0.9"/>
<line x1="395.87" y1="1047.2" x2="395.87" y2="1049" stroke="#111" stroke-width="0.9"/>
<line x1="336.4" y1="987.43" x2="338.2" y2="987.43" stroke="#111" stroke-width="0.9"/>
<line x1="397.67" y1="1047.2" x2="397.67" y2="1049" stroke="#111" stroke-width="0.9"/>
<line x1="336.4" y1="985.97" x2="338.2" y2="985.97" stroke="#111" stroke-width="0.9"/>
<line x1="399.13" y1="1047.2" x2="399.13" y2="1049" stroke="#111" stroke-width="0.9"/>
<line x1="336.4" y1="984.72" x2="338.2" y2="984.72" stroke="#111" stroke-width="0.9"/>
<line x1="400.38" y1="1047.2" x2="400.38" y2="1049" stroke="#111" stroke-width="0.9"/>
<line x1="336.4" y1="983.65" x2="338.2" y2="983.65" stroke="#111" stroke-width="0.9"/>
<line x1="401.45" y1="1047.2" x2="401.45" y2="1049" stroke="#111" stroke-width="0.9"/>
<line x1="336.4" y1="982.7" x2="338.2" y2="982.7" stroke="#111" stroke-width="0.9"/>
<line x1="402.4" y1="1047.2" x2="402.4" y2="1049" stroke="#111" stroke-width="0.9"/>
<line x1="335.2" y1="981.85" x2="338.2" y2="981.85" stroke="#111" stroke-width="0.9"/>
<line x1="403.25" y1="1047.2" x2="403.25" y2="1050.2" stroke="#111" stroke-width="0.9"/>
<line x1="336.4" y1="976.27" x2="338.2" y2="976.27" stroke="#111" stroke-width="0.9"/>
<line x1="408.83" y1="1047.2" x2="408.83" y2="1049" stroke="#111" stroke-width="0.9"/>
<line x1="336.4" y1="973" x2="338.2" y2="973" stroke="#111" stroke-width="0.9"/>
<line x1="412.1" y1="1047.2" x2="412.1" y2="1049" stroke="#111" stroke-width="0.9"/>
<line x1="336.4" y1="970.68" x2="338.2" y2="970.68" stroke="#111" stroke-width="0.9"/>
<line x1="414.42" y1="1047.2" x2="414.42" y2="1049" stroke="#111" stroke-width="0.9"/>
<line x1="336.4" y1="968.88" x2="338.2" y2="968.88" stroke="#111" stroke-width="0.9"/>
<line x1="416.22" y1="1047.2" x2="416.22" y2="1049" stroke="#111" stroke-width="0.9"/>
<line x1="336.4" y1="967.42" x2="338.2" y2="967.42" stroke="#111" stroke-width="0.9"/>
<line x1="417.68" y1="1047.2" x2="417.68" y2="1049" stroke="#111" stroke-width="0.9"/>
<line x1="336.4" y1="966.17" x2="338.2" y2="966.17" stroke="#111" stroke-width="0.9"/>
<line x1="418.93" y1="1047.2" x2="418.93" y2="1049" stroke="#111" stroke-width="0.9"/>
<line x1="336.4" y1="965.1" x2="338.2" y2="965.1" stroke="#111" stroke-width="0.9"/>
<line x1="420" y1="1047.2" x2="420" y2="1049" stroke="#111" stroke-width="0.9"/>
<line x1="336.4" y1="964.15" x2="338.2" y2="964.15" stroke="#111" stroke-width="0.9"/>
<line x1="420.95" y1="1047.2" x2="420.95" y2="1049" stroke="#111" stroke-width="0.9"/>
<line x1="335.2" y1="963.3" x2="338.2" y2="963.3" stroke="#111" stroke-width="0.9"/>
<line x1="421.8" y1="1047.2" x2="421.8" y2="1050.2" stroke="#111" stroke-width="0.9"/>
<line x1="336.4" y1="957.72" x2="338.2" y2="957.72" stroke="#111" stroke-width="0.9"/>
<line x1="427.38" y1="1047.2" x2="427.38" y2="1049" stroke="#111" stroke-width="0.9"/>
<path d="M338.3 1072.4 H431.5 V1165 H338.3 Z" fill="none" stroke="#111" stroke-width="1.1"/>
<line x1="336.5" y1="1162.68" x2="338.3" y2="1162.68" stroke="#111" stroke-width="0.9"/>
<line x1="340.32" y1="1165" x2="340.32" y2="1166.8" stroke="#111" stroke-width="0.9"/>
<line x1="336.5" y1="1160.88" x2="338.3" y2="1160.88" stroke="#111" stroke-width="0.9"/>
<line x1="342.12" y1="1165" x2="342.12" y2="1166.8" stroke="#111" stroke-width="0.9"/>
<line x1="336.5" y1="1159.42" x2="338.3" y2="1159.42" stroke="#111" stroke-width="0.9"/>
<line x1="343.58" y1="1165" x2="343.58" y2="1166.8" stroke="#111" stroke-width="0.9"/>
<line x1="336.5" y1="1158.17" x2="338.3" y2="1158.17" stroke="#111" stroke-width="0.9"/>
<line x1="344.83" y1="1165" x2="344.83" y2="1166.8" stroke="#111" stroke-width="0.9"/>
<line x1="336.5" y1="1157.1" x2="338.3" y2="1157.1" stroke="#111" stroke-width="0.9"/>
<line x1="345.9" y1="1165" x2="345.9" y2="1166.8" stroke="#111" stroke-width="0.9"/>
<line x1="336.5" y1="1156.15" x2="338.3" y2="1156.15" stroke="#111" stroke-width="0.9"/>
<line x1="346.85" y1="1165" x2="346.85" y2="1166.8" stroke="#111" stroke-width="0.9"/>
<line x1="335.3" y1="1155.3" x2="338.3" y2="1155.3" stroke="#111" stroke-width="0.9"/>
<line x1="347.7" y1="1165" x2="347.7" y2="1168" stroke="#111" stroke-width="0.9"/>
<line x1="336.5" y1="1149.72" x2="338.3" y2="1149.72" stroke="#111" stroke-width="0.9"/>
<line x1="353.28" y1="1165" x2="353.28" y2="1166.8" stroke="#111" stroke-width="0.9"/>
<line x1="336.5" y1="1146.45" x2="338.3" y2="1146.45" stroke="#111" stroke-width="0.9"/>
<line x1="356.55" y1="1165" x2="356.55" y2="1166.8" stroke="#111" stroke-width="0.9"/>
<line x1="336.5" y1="1144.13" x2="338.3" y2="1144.13" stroke="#111" stroke-width="0.9"/>
<line x1="358.87" y1="1165" x2="358.87" y2="1166.8" stroke="#111" stroke-width="0.9"/>
<line x1="336.5" y1="1142.33" x2="338.3" y2="1142.33" stroke="#111" stroke-width="0.9"/>
<line x1="360.67" y1="1165" x2="360.67" y2="1166.8" stroke="#111" stroke-width="0.9"/>
<line x1="336.5" y1="1140.87" x2="338.3" y2="1140.87" stroke="#111" stroke-width="0.9"/>
<line x1="362.13" y1="1165" x2="362.13" y2="1166.8" stroke="#111" stroke-width="0.9"/>
<line x1="336.5" y1="1139.62" x2="338.3" y2="1139.62" stroke="#111" stroke-width="0.9"/>
<line x1="363.38" y1="1165" x2="363.38" y2="1166.8" stroke="#111" stroke-width="0.9"/>
<line x1="336.5" y1="1138.55" x2="338.3" y2="1138.55" stroke="#111" stroke-width="0.9"/>
<line x1="364.45" y1="1165" x2="364.45" y2="1166.8" stroke="#111" stroke-width="0.9"/>
<line x1="336.5" y1="1137.6" x2="338.3" y2="1137.6" stroke="#111" stroke-width="0.9"/>
<line x1="365.4" y1="1165" x2="365.4" y2="1166.8" stroke="#111" stroke-width="0.9"/>
<line x1="335.3" y1="1136.75" x2="338.3" y2="1136.75" stroke="#111" stroke-width="0.9"/>
<line x1="366.25" y1="1165" x2="366.25" y2="1168" stroke="#111" stroke-width="0.9"/>
<line x1="336.5" y1="1131.17" x2="338.3" y2="1131.17" stroke="#111" stroke-width="0.9"/>
<line x1="371.83" y1="1165" x2="371.83" y2="1166.8" stroke="#111" stroke-width="0.9"/>
<line x1="336.5" y1="1127.9" x2="338.3" y2="1127.9" stroke="#111" stroke-width="0.9"/>
<line x1="375.1" y1="1165" x2="375.1" y2="1166.8" stroke="#111" stroke-width="0.9"/>
<line x1="336.5" y1="1125.58" x2="338.3" y2="1125.58" stroke="#111" stroke-width="0.9"/>
<line x1="377.42" y1="1165" x2="377.42" y2="1166.8" stroke="#111" stroke-width="0.9"/>
<line x1="336.5" y1="1123.78" x2="338.3" y2="1123.78" stroke="#111" stroke-width="0.9"/>
<line x1="379.22" y1="1165" x2="379.22" y2="1166.8" stroke="#111" stroke-width="0.9"/>
<line x1="336.5" y1="1122.32" x2="338.3" y2="1122.32" stroke="#111" stroke-width="0.9"/>
<line x1="380.68" y1="1165" x2="380.68" y2="1166.8" stroke="#111" stroke-width="0.9"/>
<line x1="336.5" y1="1121.07" x2="338.3" y2="1121.07" stroke="#111" stroke-width="0.9"/>
<line x1="381.93" y1="1165" x2="381.93" y2="1166.8" stroke="#111" stroke-width="0.9"/>
<line x1="336.5" y1="1120" x2="338.3" y2="1120" stroke="#111" stroke-width="0.9"/>
<line x1="383" y1="1165" x2="383" y2="1166.8" stroke="#111" stroke-width="0.9"/>
<line x1="336.5" y1="1119.05" x2="338.3" y2="1119.05" stroke="#111" stroke-width="0.9"/>
<line x1="383.95" y1="1165" x2="383.95" y2="1166.8" stroke="#111" stroke-width="0.9"/>
<line x1="335.3" y1="1118.2" x2="338.3" y2="1118.2" stroke="#111" stroke-width="0.9"/>
<line x1="384.8" y1="1165" x2="384.8" y2="1168" stroke="#111" stroke-width="0.9"/>
<line x1="336.5" y1="1112.62" x2="338.3" y2="1112.62" stroke="#111" stroke-width="0.9"/>
<line x1="390.38" y1="1165" x2="390.38" y2="1166.8" stroke="#111" stroke-width="0.9"/>
<line x1="336.5" y1="1109.35" x2="338.3" y2="1109.35" stroke="#111" stroke-width="0.9"/>
<line x1="393.65" y1="1165" x2="393.65" y2="1166.8" stroke="#111" stroke-width="0.9"/>
<line x1="336.5" y1="1107.03" x2="338.3" y2="1107.03" stroke="#111" stroke-width="0.9"/>
<line x1="395.97" y1="1165" x2="395.97" y2="1166.8" stroke="#111" stroke-width="0.9"/>
<line x1="336.5" y1="1105.23" x2="338.3" y2="1105.23" stroke="#111" stroke-width="0.9"/>
<line x1="397.77" y1="1165" x2="397.77" y2="1166.8" stroke="#111" stroke-width="0.9"/>
<line x1="336.5" y1="1103.77" x2="338.3" y2="1103.77" stroke="#111" stroke-width="0.9"/>
<line x1="399.23" y1="1165" x2="399.23" y2="1166.8" stroke="#111" stroke-width="0.9"/>
<line x1="336.5" y1="1102.52" x2="338.3" y2="1102.52" stroke="#111" stroke-width="0.9"/>
<line x1="400.48" y1="1165" x2="400.48" y2="1166.8" stroke="#111" stroke-width="0.9"/>
<line x1="336.5" y1="1101.45" x2="338.3" y2="1101.45" stroke="#111" stroke-width="0.9"/>
<line x1="401.55" y1="1165" x2="401.55" y2="1166.8" stroke="#111" stroke-width="0.9"/>
<line x1="336.5" y1="1100.5" x2="338.3" y2="1100.5" stroke="#111" stroke-width="0.9"/>
<line x1="402.5" y1="1165" x2="402.5" y2="1166.8" stroke="#111" stroke-width="0.9"/>
<line x1="335.3" y1="1099.65" x2="338.3" y2="1099.65" stroke="#111" stroke-width="0.9"/>
<line x1="403.35" y1="1165" x2="403.35" y2="1168" stroke="#111" stroke-width="0.9"/>
<line x1="336.5" y1="1094.07" x2="338.3" y2="1094.07" stroke="#111" stroke-width="0.9"/>
<line x1="408.93" y1="1165" x2="408.93" y2="1166.8" stroke="#111" stroke-width="0.9"/>
<line x1="336.5" y1="1090.8" x2="338.3" y2="1090.8" stroke="#111" stroke-width="0.9"/>
<line x1="412.2" y1="1165" x2="412.2" y2="1166.8" stroke="#111" stroke-width="0.9"/>
<line x1="336.5" y1="1088.48" x2="338.3" y2="1088.48" stroke="#111" stroke-width="0.9"/>
<line x1="414.52" y1="1165" x2="414.52" y2="1166.8" stroke="#111" stroke-width="0.9"/>
<line x1="336.5" y1="1086.68" x2="338.3" y2="1086.68" stroke="#111" stroke-width="0.9"/>
<line x1="416.32" y1="1165" x2="416.32" y2="1166.8" stroke="#111" stroke-width="0.9"/>
<line x1="336.5" y1="1085.22" x2="338.3" y2="1085.22" stroke="#111" stroke-width="0.9"/>
<line x1="417.78" y1="1165" x2="417.78" y2="1166.8" stroke="#111" stroke-width="0.9"/>
<line x1="336.5" y1="1083.97" x2="338.3" y2="1083.97" stroke="#111" stroke-width="0.9"/>
<line x1="419.03" y1="1165" x2="419.03" y2="1166.8" stroke="#111" stroke-width="0.9"/>
<line x1="336.5" y1="1082.9" x2="338.3" y2="1082.9" stroke="#111" stroke-width="0.9"/>
<line x1="420.1" y1="1165" x2="420.1" y2="1166.8" stroke="#111" stroke-width="0.9"/>
<line x1="336.5" y1="1081.95" x2="338.3" y2="1081.95" stroke="#111" stroke-width="0.9"/>
<line x1="421.05" y1="1165" x2="421.05" y2="1166.8" stroke="#111" stroke-width="0.9"/>
<line x1="335.3" y1="1081.1" x2="338.3" y2="1081.1" stroke="#111" stroke-width="0.9"/>
<line x1="421.9" y1="1165" x2="421.9" y2="1168" stroke="#111" stroke-width="0.9"/>
<line x1="336.5" y1="1075.52" x2="338.3" y2="1075.52" stroke="#111" stroke-width="0.9"/>
<line x1="427.48" y1="1165" x2="427.48" y2="1166.8" stroke="#111" stroke-width="0.9"/>
<rect x="401.5" y="956.5" width="25.4" height="21.6" fill="none" stroke="#666" stroke-width="0.9"/>
<rect x="399.6" y="1072.4" width="31.9" height="28.4" fill="none" stroke="#666" stroke-width="0.9"/>
<text x="387" y="970.3" font-size="10.5" text-anchor="middle" fill="#222">40%</text>
<text x="383.8" y="1091.3" font-size="10.5" text-anchor="middle" fill="#222">12%</text>
<defs><clipPath id="cp1"><rect x="338.8" y="954.4" width="91.8" height="92.2"/></clipPath><clipPath id="cp2"><rect x="338.9" y="1073" width="92" height="91.5"/></clipPath></defs>
<path d="M378.8 1024.0 L378.2 1024.1 L377.8 1024.1 L377.2 1024.2 L376.8 1024.2 L376.2 1024.2 L375.8 1024.1 L375.2 1024.0 L375.0 1024.0 L374.5 1023.9 L374.0 1023.8 L373.8 1023.7 L373.3 1023.5 L373.0 1023.4 L372.7 1023.2 L372.2 1023.0 L372.0 1022.9 L371.8 1022.7 L371.4 1022.5 L371.0 1022.2 L370.8 1022.1 L370.5 1021.9 L370.2 1021.7 L370.0 1021.4 L369.8 1021.2 L369.5 1021.0 L369.2 1020.7 L369.0 1020.4 L368.8 1020.1 L368.5 1019.8 L368.2 1019.5 L368.1 1019.2 L367.9 1019.0 L367.7 1018.8 L367.5 1018.4 L367.3 1018.0 L367.1 1017.8 L367.0 1017.5 L366.8 1017.1 L366.6 1016.8 L366.5 1016.5 L366.3 1016.0 L366.2 1015.8 L366.0 1015.3 L365.9 1015.0 L365.8 1014.5 L365.7 1014.2 L365.5 1013.8 L365.5 1013.5 L365.4 1013.0 L365.3 1012.5 L365.2 1012.2 L365.1 1011.8 L365.1 1011.2 L365.0 1010.8 L365.0 1010.5 L364.9 1010.0 L364.9 1009.5 L364.9 1009.0 L364.9 1008.5 L364.9 1008.0 L365.0 1007.5 L365.0 1007.1 L365.0 1006.8 L365.1 1006.2 L365.2 1005.8 L365.2 1005.3 L365.3 1005.0 L365.4 1004.5 L365.5 1004.2 L365.6 1003.8 L365.8 1003.3 L365.8 1003.0 L366.0 1002.5 L366.1 1002.2 L366.2 1001.9 L366.4 1001.5 L366.5 1001.2 L366.7 1000.8 L366.9 1000.5 L367.0 1000.2 L367.2 999.8 L367.4 999.5 L367.6 999.2 L367.8 999.0 L368.0 998.6 L368.2 998.3 L368.5 998.0 L368.7 997.8 L368.9 997.5 L369.1 997.2 L369.3 997.0 L369.6 996.8 L369.8 996.5 L370.1 996.2 L370.4 996.0 L370.7 995.8 L371.0 995.5 L371.2 995.3 L371.5 995.1 L371.8 995.0 L372.1 994.8 L372.5 994.5 L372.8 994.4 L373.1 994.2 L373.5 994.1 L373.8 994.0 L374.2 993.8 L374.5 993.7 L375.0 993.6 L375.3 993.5 L375.8 993.4 L376.2 993.3 L376.6 993.2 L377.0 993.2 L377.5 993.2 L378.0 993.2 L378.5 993.2 L379.0 993.2 L379.5 993.2 L380.0 993.2 L380.2 993.3 L380.8 993.3 L381.2 993.4 L381.6 993.5 L382.0 993.6 L382.5 993.7 L382.8 993.8 L383.2 993.9 L383.8 994.0 L384.0 994.0 L384.5 994.1 L385.0 994.2 L385.2 994.3 L385.8 994.3 L386.2 994.4 L386.8 994.5 L387.0 994.5 L387.5 994.5 L388.0 994.6 L388.5 994.6 L389.0 994.6 L389.5 994.6 L390.0 994.5 L390.5 994.5 L390.8 994.5 L391.2 994.4 L391.8 994.4 L392.2 994.3 L392.7 994.2 L393.0 994.2 L393.5 994.1 L394.0 994.0 L394.2 994.0 L394.8 993.9 L395.2 993.8 L395.5 993.7 L396.0 993.5 L396.2 993.4 L396.6 993.2 L397.0 993.1 L397.2 992.9 L397.6 992.8 L397.9 992.5 L398.2 992.3 L398.5 992.0 L398.8 991.8 L399.0 991.5 L399.2 991.2 L399.4 991.0 L399.6 990.8 L399.8 990.5 L400.0 990.1 L400.1 989.8 L400.3 989.5 L400.5 989.0 L400.6 988.8 L400.7 988.2 L400.8 988.0 L400.9 987.5 L401.0 987.2 L401.1 986.8 L401.2 986.2 L401.3 986.0 L401.4 985.5 L401.5 985.0 L401.5 984.8 L401.6 984.2 L401.7 983.8 L401.8 983.5 L401.8 983.0 L401.9 982.5 L402.0 982.0 L402.0 981.8 L402.1 981.2 L402.2 980.8 L402.2 980.2 L402.3 980.0 L402.3 979.5 L402.4 979.0 L402.5 978.5 L402.5 978.2 L402.6 977.8 L402.6 977.2 L402.7 976.8 L402.8 976.5 L402.8 976.0 L402.9 975.5 L403.0 975.0 L403.0 974.7 L403.1 974.2 L403.1 973.8 L403.2 973.2 L403.2 972.9 L403.3 972.5 L403.4 972.0 L403.4 971.5 L403.5 971.1 L403.6 970.8 L403.6 970.2 L403.7 969.8 L403.8 969.3 L403.8 969.0 L403.9 968.5 L403.9 968.0 L404.0 967.5 L404.0 967.2 L404.1 966.8 L404.2 966.2 L404.2 965.8 L404.3 965.5 L404.4 965.0 L404.4 964.5 L404.5 964.1 L404.6 963.8 L404.7 963.2 L404.8 963.0 L404.9 962.5 L405.0 962.2 L405.2 961.8 L405.3 961.5 L405.5 961.2 L405.7 960.8 L405.9 960.5 L406.0 960.2 L406.2 959.9 L406.5 959.5 L406.7 959.2 L406.9 959.0 L407.1 958.8 L407.3 958.5 L407.5 958.2 L407.8 958.0 L408.0 957.8 L408.3 957.5 L408.6 957.2 L408.9 957.0 L409.2 956.8 L409.5 956.6 L409.8 956.4 L410.0 956.2 L410.4 956.0 L410.8 955.8 L411.0 955.7 L411.4 955.5 L411.8 955.4 L412.0 955.2 L412.5 955.1 L412.8 955.0 L413.2 954.9 L413.7 954.8 L414.0 954.7 L414.5 954.6 L415.0 954.5 L415.3 954.5 L415.8 954.5 L416.2 954.5 L416.8 954.5 L417.2 954.5 L417.5 954.5 L418.0 954.6 L418.5 954.7 L418.9 954.8 L419.2 954.8 L419.8 955.0 L420.0 955.0 L420.5 955.2 L420.8 955.3 L421.2 955.5 L421.5 955.6 L421.8 955.8 L422.2 956.0 L422.5 956.2 L422.8 956.3 L423.0 956.5 L423.4 956.8 L423.7 957.0 L424.0 957.2 L424.2 957.5 L424.5 957.7 L424.8 957.9 L425.0 958.2 L425.2 958.4 L425.5 958.7 L425.7 959.0 L425.9 959.2 L426.1 959.5 L426.3 959.8 L426.5 960.1 L426.7 960.5 L426.9 960.8 L427.0 961.0 L427.2 961.5 L427.4 961.8 L427.5 962.1 L427.7 962.5 L427.8 962.8 L427.9 963.2 L428.0 963.7 L428.1 964.0 L428.2 964.5 L428.2 965.0 L428.3 965.2 L428.3 965.8 L428.3 966.2 L428.3 966.8 L428.3 967.2 L428.3 967.8 L428.2 968.0 L428.2 968.5 L428.1 969.0 L428.0 969.5 L428.0 969.8 L427.9 970.2 L427.9 970.8 L427.8 971.2 L427.8 971.6 L427.7 972.0 L427.6 972.5 L427.6 973.0 L427.5 973.4 L427.4 973.8 L427.4 974.2 L427.3 974.8 L427.2 975.2 L427.2 975.5 L427.1 976.0 L427.1 976.5 L427.0 977.0 L427.0 977.2 L426.9 977.8 L426.8 978.2 L426.8 978.7 L426.7 979.0 L426.6 979.5 L426.6 980.0 L426.5 980.5 L426.5 980.8 L426.4 981.2 L426.3 981.8 L426.3 982.2 L426.2 982.5 L426.2 983.0 L426.1 983.5 L426.0 984.0 L426.0 984.2 L425.9 984.8 L425.8 985.2 L425.8 985.8 L425.7 986.0 L425.7 986.5 L425.6 987.0 L425.5 987.5 L425.5 987.8 L425.4 988.2 L425.4 988.8 L425.3 989.2 L425.2 989.6 L425.2 990.0 L425.1 990.5 L425.1 991.0 L425.0 991.4 L425.0 991.8 L424.9 992.2 L424.8 992.8 L424.8 993.2 L424.7 993.5 L424.7 994.0 L424.6 994.5 L424.5 995.0 L424.5 995.2 L424.4 995.8 L424.4 996.2 L424.3 996.8 L424.3 997.2 L424.2 997.5 L424.2 998.0 L424.1 998.5 L424.0 999.0 L424.0 999.4 L424.0 999.8 L423.9 1000.2 L423.8 1000.8 L423.8 1001.2 L423.8 1001.6 L423.7 1002.0 L423.6 1002.5 L423.6 1003.0 L423.5 1003.5 L423.4 1003.8 L423.3 1004.2 L423.2 1004.6 L423.1 1005.0 L423.0 1005.4 L422.9 1005.8 L422.8 1006.0 L422.6 1006.5 L422.4 1006.8 L422.2 1007.1 L422.1 1007.5 L421.9 1007.8 L421.8 1008.0 L421.5 1008.4 L421.3 1008.8 L421.1 1009.0 L420.9 1009.2 L420.7 1009.5 L420.5 1009.8 L420.2 1010.1 L420.0 1010.4 L419.8 1010.6 L419.5 1010.9 L419.2 1011.1 L419.0 1011.4 L418.8 1011.6 L418.5 1011.8 L418.2 1012.0 L417.9 1012.2 L417.6 1012.5 L417.2 1012.7 L417.0 1012.9 L416.8 1013.1 L416.5 1013.2 L416.0 1013.5 L415.8 1013.7 L415.5 1013.8 L415.1 1014.0 L414.8 1014.2 L414.5 1014.3 L414.0 1014.5 L413.8 1014.6 L413.4 1014.8 L413.0 1014.9 L412.7 1015.0 L412.2 1015.2 L412.0 1015.2 L411.5 1015.4 L411.0 1015.5 L410.8 1015.6 L410.2 1015.7 L409.8 1015.7 L409.5 1015.8 L409.0 1015.8 L408.5 1015.9 L408.0 1015.9 L407.5 1015.9 L407.0 1016.0 L406.5 1016.0 L406.0 1016.0 L405.5 1016.0 L405.2 1016.0 L404.8 1016.0 L404.2 1016.0 L403.8 1016.1 L403.2 1016.1 L402.8 1016.1 L402.2 1016.2 L401.8 1016.2 L401.2 1016.2 L401.0 1016.3 L400.5 1016.3 L400.0 1016.4 L399.5 1016.4 L399.0 1016.5 L398.7 1016.5 L398.2 1016.6 L397.8 1016.6 L397.2 1016.7 L396.8 1016.8 L396.5 1016.8 L396.0 1016.9 L395.5 1016.9 L395.1 1017.0 L394.8 1017.1 L394.2 1017.1 L393.8 1017.2 L393.5 1017.3 L393.0 1017.4 L392.5 1017.5 L392.2 1017.6 L391.8 1017.7 L391.5 1017.8 L391.0 1017.9 L390.8 1018.0 L390.2 1018.2 L390.0 1018.3 L389.5 1018.5 L389.2 1018.6 L389.0 1018.8 L388.5 1019.0 L388.2 1019.2 L388.0 1019.3 L387.6 1019.5 L387.2 1019.7 L387.0 1019.9 L386.8 1020.1 L386.5 1020.2 L386.1 1020.5 L385.8 1020.7 L385.5 1020.9 L385.2 1021.1 L385.0 1021.2 L384.6 1021.5 L384.2 1021.7 L384.0 1021.9 L383.8 1022.0 L383.3 1022.2 L383.0 1022.4 L382.8 1022.6 L382.4 1022.8 L382.0 1022.9 L381.8 1023.1 L381.3 1023.2 L381.0 1023.4 L380.7 1023.5 L380.2 1023.6 L379.9 1023.8 L379.5 1023.9 L379.0 1024.0 L378.8 1024.0Z M377.8 1050.0 L377.2 1050.0 L376.8 1050.1 L376.2 1050.1 L375.8 1050.1 L375.2 1050.1 L374.8 1050.1 L374.2 1050.1 L373.8 1050.1 L373.2 1050.1 L372.8 1050.1 L372.2 1050.1 L371.8 1050.1 L371.2 1050.1 L370.8 1050.0 L370.2 1050.0 L370.0 1049.8 L369.8 1049.5 L369.7 1049.2 L369.5 1048.8 L369.4 1048.5 L369.3 1048.0 L369.3 1047.5 L369.3 1047.0 L369.4 1046.5 L369.5 1046.2 L369.7 1045.8 L369.8 1045.5 L370.0 1045.2 L370.2 1045.0 L370.5 1044.7 L370.8 1044.5 L371.1 1044.2 L371.5 1044.0 L371.8 1043.9 L372.0 1043.8 L372.5 1043.6 L372.9 1043.5 L373.2 1043.4 L373.8 1043.4 L374.2 1043.4 L374.8 1043.4 L375.1 1043.5 L375.5 1043.6 L376.0 1043.8 L376.2 1043.9 L376.5 1044.0 L376.9 1044.2 L377.2 1044.5 L377.5 1044.7 L377.8 1045.0 L378.0 1045.2 L378.2 1045.5 L378.3 1045.8 L378.5 1046.2 L378.6 1046.5 L378.7 1047.0 L378.7 1047.5 L378.7 1048.0 L378.6 1048.5 L378.5 1048.8 L378.3 1049.2 L378.2 1049.5 L378.0 1049.8 L377.8 1050.0Z M378.2 1021.8 L377.8 1021.8 L377.2 1021.8 L376.8 1021.8 L376.2 1021.8 L375.8 1021.8 L375.5 1021.7 L375.0 1021.6 L374.7 1021.5 L374.2 1021.4 L373.9 1021.2 L373.5 1021.1 L373.2 1021.0 L372.9 1020.8 L372.5 1020.5 L372.2 1020.4 L372.0 1020.2 L371.7 1020.0 L371.4 1019.8 L371.1 1019.5 L370.8 1019.2 L370.6 1019.0 L370.3 1018.8 L370.1 1018.5 L369.9 1018.2 L369.7 1018.0 L369.5 1017.7 L369.2 1017.4 L369.0 1017.0 L368.8 1016.8 L368.7 1016.5 L368.5 1016.1 L368.3 1015.8 L368.2 1015.5 L368.0 1015.1 L367.9 1014.8 L367.8 1014.4 L367.6 1014.0 L367.5 1013.7 L367.4 1013.2 L367.2 1012.8 L367.2 1012.5 L367.1 1012.0 L367.0 1011.6 L366.9 1011.2 L366.9 1010.8 L366.8 1010.2 L366.8 1009.8 L366.8 1009.2 L366.8 1008.8 L366.8 1008.2 L366.8 1007.8 L366.8 1007.2 L366.9 1006.8 L367.0 1006.2 L367.0 1006.0 L367.1 1005.5 L367.2 1005.0 L367.3 1004.8 L367.4 1004.2 L367.5 1004.0 L367.7 1003.5 L367.8 1003.2 L368.0 1002.8 L368.1 1002.5 L368.2 1002.1 L368.4 1001.8 L368.6 1001.5 L368.8 1001.1 L369.0 1000.8 L369.1 1000.5 L369.3 1000.2 L369.5 1000.0 L369.8 999.6 L370.0 999.3 L370.2 999.0 L370.5 998.8 L370.8 998.5 L371.0 998.3 L371.2 998.0 L371.5 997.8 L371.8 997.6 L372.0 997.4 L372.2 997.2 L372.6 997.0 L373.0 996.8 L373.2 996.6 L373.5 996.5 L374.0 996.3 L374.2 996.1 L374.6 996.0 L375.0 995.9 L375.4 995.8 L375.8 995.7 L376.2 995.6 L376.6 995.5 L377.0 995.4 L377.5 995.4 L378.0 995.4 L378.5 995.3 L379.0 995.4 L379.5 995.4 L380.0 995.4 L380.5 995.5 L380.8 995.5 L381.2 995.6 L381.8 995.7 L382.0 995.8 L382.5 995.9 L382.9 996.0 L383.2 996.1 L383.8 996.2 L384.0 996.3 L384.5 996.4 L384.9 996.5 L385.2 996.6 L385.8 996.7 L386.2 996.8 L386.5 996.8 L387.0 996.9 L387.5 996.9 L388.0 997.0 L388.5 997.0 L389.0 997.0 L389.5 997.0 L390.0 997.0 L390.5 997.0 L391.0 996.9 L391.5 996.9 L392.0 996.8 L392.5 996.8 L392.8 996.7 L393.2 996.7 L393.8 996.6 L394.2 996.5 L394.5 996.4 L395.0 996.3 L395.4 996.2 L395.8 996.1 L396.2 996.0 L396.5 995.9 L397.0 995.8 L397.2 995.6 L397.6 995.5 L398.0 995.3 L398.2 995.1 L398.5 995.0 L398.9 994.8 L399.2 994.5 L399.5 994.2 L399.8 994.0 L400.0 993.8 L400.2 993.5 L400.5 993.2 L400.6 993.0 L400.8 992.8 L401.0 992.5 L401.2 992.1 L401.4 991.8 L401.6 991.5 L401.8 991.1 L401.9 990.8 L402.0 990.5 L402.2 990.0 L402.3 989.8 L402.4 989.2 L402.5 989.0 L402.6 988.5 L402.8 988.1 L402.8 987.8 L402.9 987.2 L403.0 986.9 L403.1 986.5 L403.2 986.0 L403.2 985.6 L403.3 985.2 L403.4 984.8 L403.5 984.2 L403.5 984.0 L403.6 983.5 L403.7 983.0 L403.7 982.5 L403.8 982.2 L403.8 981.8 L403.9 981.2 L404.0 980.8 L404.0 980.5 L404.1 980.0 L404.2 979.5 L404.2 979.0 L404.3 978.8 L404.3 978.2 L404.4 977.8 L404.5 977.2 L404.5 977.0 L404.6 976.5 L404.7 976.0 L404.7 975.5 L404.8 975.2 L404.8 974.8 L404.9 974.2 L405.0 973.8 L405.0 973.5 L405.1 973.0 L405.1 972.5 L405.2 972.0 L405.2 971.7 L405.3 971.2 L405.4 970.8 L405.5 970.2 L405.5 969.9 L405.6 969.5 L405.6 969.0 L405.7 968.5 L405.8 968.1 L405.8 967.8 L405.9 967.2 L405.9 966.8 L406.0 966.4 L406.0 966.0 L406.1 965.5 L406.2 965.0 L406.2 964.6 L406.3 964.2 L406.5 963.8 L406.5 963.5 L406.7 963.0 L406.8 962.8 L407.0 962.3 L407.1 962.0 L407.2 961.7 L407.5 961.3 L407.7 961.0 L407.8 960.8 L408.0 960.5 L408.2 960.2 L408.5 959.9 L408.8 959.6 L409.0 959.3 L409.2 959.1 L409.5 958.9 L409.8 958.7 L410.0 958.4 L410.3 958.2 L410.6 958.0 L411.0 957.8 L411.2 957.6 L411.5 957.5 L411.9 957.2 L412.2 957.1 L412.5 957.0 L413.0 956.8 L413.2 956.7 L413.8 956.6 L414.2 956.5 L414.5 956.4 L415.0 956.4 L415.5 956.3 L416.0 956.3 L416.5 956.3 L417.0 956.3 L417.5 956.3 L418.0 956.4 L418.4 956.5 L418.8 956.6 L419.2 956.7 L419.5 956.8 L420.0 957.0 L420.2 957.1 L420.7 957.2 L421.0 957.4 L421.2 957.6 L421.6 957.8 L422.0 958.0 L422.2 958.2 L422.5 958.4 L422.8 958.6 L423.0 958.8 L423.2 959.0 L423.5 959.2 L423.8 959.5 L424.0 959.8 L424.2 960.1 L424.5 960.4 L424.8 960.7 L424.9 961.0 L425.1 961.2 L425.2 961.6 L425.5 962.0 L425.6 962.2 L425.8 962.6 L425.9 963.0 L426.0 963.3 L426.1 963.8 L426.2 964.2 L426.3 964.5 L426.4 965.0 L426.5 965.5 L426.5 965.8 L426.5 966.2 L426.5 966.8 L426.5 967.2 L426.5 967.5 L426.4 968.0 L426.3 968.5 L426.3 969.0 L426.2 969.2 L426.2 969.8 L426.1 970.2 L426.0 970.8 L426.0 971.0 L425.9 971.5 L425.9 972.0 L425.8 972.5 L425.8 972.8 L425.7 973.2 L425.6 973.8 L425.5 974.2 L425.5 974.6 L425.4 975.0 L425.4 975.5 L425.3 976.0 L425.2 976.4 L425.2 976.8 L425.1 977.2 L425.1 977.8 L425.0 978.1 L425.0 978.5 L424.9 979.0 L424.8 979.5 L424.8 979.9 L424.7 980.2 L424.6 980.8 L424.6 981.2 L424.5 981.7 L424.5 982.0 L424.4 982.5 L424.3 983.0 L424.3 983.5 L424.2 983.8 L424.2 984.2 L424.1 984.8 L424.0 985.2 L424.0 985.5 L423.9 986.0 L423.8 986.5 L423.8 987.0 L423.7 987.2 L423.7 987.8 L423.6 988.2 L423.5 988.8 L423.5 989.0 L423.4 989.5 L423.4 990.0 L423.3 990.5 L423.2 990.8 L423.2 991.2 L423.1 991.8 L423.1 992.2 L423.0 992.7 L423.0 993.0 L422.9 993.5 L422.8 994.0 L422.8 994.5 L422.7 994.8 L422.7 995.2 L422.6 995.8 L422.6 996.2 L422.5 996.8 L422.5 997.0 L422.4 997.5 L422.4 998.0 L422.3 998.5 L422.3 999.0 L422.2 999.2 L422.2 999.8 L422.1 1000.2 L422.1 1000.8 L422.0 1001.2 L422.0 1001.5 L421.9 1002.0 L421.9 1002.5 L421.8 1003.0 L421.8 1003.3 L421.7 1003.8 L421.5 1004.2 L421.4 1004.5 L421.3 1005.0 L421.2 1005.2 L421.0 1005.7 L420.9 1006.0 L420.7 1006.2 L420.5 1006.7 L420.3 1007.0 L420.2 1007.2 L420.0 1007.5 L419.8 1007.9 L419.5 1008.2 L419.3 1008.5 L419.1 1008.8 L418.9 1009.0 L418.6 1009.2 L418.4 1009.5 L418.2 1009.8 L417.9 1010.0 L417.6 1010.2 L417.3 1010.5 L417.0 1010.7 L416.8 1010.9 L416.5 1011.1 L416.2 1011.3 L415.9 1011.5 L415.5 1011.8 L415.2 1011.9 L415.0 1012.0 L414.6 1012.2 L414.2 1012.4 L414.0 1012.5 L413.5 1012.7 L413.2 1012.9 L412.8 1013.0 L412.5 1013.1 L412.1 1013.2 L411.8 1013.4 L411.2 1013.5 L411.0 1013.5 L410.5 1013.7 L410.0 1013.7 L409.8 1013.8 L409.2 1013.8 L408.8 1013.9 L408.2 1013.9 L407.8 1013.9 L407.2 1013.9 L406.8 1013.9 L406.2 1013.9 L405.8 1013.9 L405.2 1013.9 L404.8 1013.8 L404.2 1013.8 L403.8 1013.8 L403.2 1013.8 L402.8 1013.8 L402.2 1013.8 L401.8 1013.8 L401.2 1013.9 L400.8 1013.9 L400.2 1013.9 L399.8 1014.0 L399.3 1014.0 L399.0 1014.0 L398.5 1014.1 L398.0 1014.1 L397.5 1014.2 L397.0 1014.2 L396.8 1014.3 L396.2 1014.3 L395.8 1014.4 L395.2 1014.5 L395.0 1014.5 L394.5 1014.6 L394.0 1014.7 L393.7 1014.8 L393.2 1014.8 L392.8 1015.0 L392.5 1015.0 L392.0 1015.1 L391.6 1015.2 L391.2 1015.3 L390.8 1015.5 L390.5 1015.6 L390.1 1015.8 L389.8 1015.9 L389.5 1016.0 L389.0 1016.2 L388.8 1016.3 L388.4 1016.5 L388.0 1016.7 L387.8 1016.9 L387.5 1017.0 L387.2 1017.2 L386.8 1017.5 L386.5 1017.7 L386.2 1017.9 L386.0 1018.0 L385.7 1018.2 L385.4 1018.5 L385.0 1018.8 L384.8 1018.9 L384.5 1019.1 L384.2 1019.3 L383.9 1019.5 L383.5 1019.7 L383.2 1019.9 L383.0 1020.0 L382.6 1020.2 L382.2 1020.4 L382.0 1020.5 L381.6 1020.8 L381.2 1020.9 L381.0 1021.0 L380.5 1021.2 L380.2 1021.3 L379.8 1021.4 L379.5 1021.5 L379.0 1021.6 L378.5 1021.7 L378.2 1021.8Z M375.2 1050.0 L374.8 1050.0 L374.2 1050.0 L373.8 1050.0 L373.2 1050.0 L372.8 1050.0 L372.5 1049.9 L372.2 1049.8 L371.8 1049.5 L371.6 1049.2 L371.3 1049.0 L371.2 1048.8 L371.0 1048.4 L370.9 1048.0 L370.8 1047.5 L370.9 1047.0 L371.0 1046.6 L371.2 1046.2 L371.3 1046.0 L371.6 1045.8 L371.8 1045.5 L372.2 1045.2 L372.5 1045.1 L372.8 1045.0 L373.2 1044.8 L373.8 1044.8 L374.0 1044.7 L374.2 1044.8 L374.8 1044.8 L375.2 1045.0 L375.5 1045.1 L375.8 1045.2 L376.2 1045.5 L376.4 1045.8 L376.7 1046.0 L376.8 1046.2 L377.0 1046.6 L377.1 1047.0 L377.2 1047.5 L377.1 1048.0 L377.0 1048.4 L376.8 1048.8 L376.7 1049.0 L376.4 1049.2 L376.2 1049.5 L375.8 1049.8 L375.5 1049.9 L375.2 1050.0Z M378.5 1019.8 L378.0 1019.8 L377.5 1019.9 L377.0 1019.9 L376.5 1019.8 L376.0 1019.8 L375.8 1019.7 L375.2 1019.6 L374.9 1019.5 L374.5 1019.4 L374.2 1019.2 L373.8 1019.0 L373.5 1018.9 L373.2 1018.8 L372.9 1018.5 L372.5 1018.2 L372.2 1018.0 L372.0 1017.8 L371.8 1017.6 L371.5 1017.3 L371.2 1017.1 L371.0 1016.8 L370.8 1016.5 L370.6 1016.2 L370.4 1016.0 L370.2 1015.7 L370.0 1015.3 L369.8 1015.0 L369.7 1014.8 L369.5 1014.3 L369.3 1014.0 L369.2 1013.8 L369.1 1013.2 L369.0 1013.0 L368.8 1012.5 L368.8 1012.2 L368.7 1011.8 L368.6 1011.2 L368.5 1010.9 L368.4 1010.5 L368.4 1010.0 L368.4 1009.5 L368.3 1009.0 L368.4 1008.5 L368.4 1008.0 L368.4 1007.5 L368.5 1007.0 L368.5 1006.8 L368.6 1006.2 L368.7 1005.8 L368.8 1005.5 L368.9 1005.0 L369.0 1004.6 L369.1 1004.2 L369.2 1003.9 L369.4 1003.5 L369.5 1003.2 L369.8 1002.8 L369.9 1002.5 L370.0 1002.2 L370.2 1001.9 L370.5 1001.5 L370.7 1001.2 L370.9 1001.0 L371.1 1000.8 L371.3 1000.5 L371.5 1000.2 L371.8 1000.0 L372.0 999.8 L372.3 999.5 L372.6 999.2 L372.9 999.0 L373.2 998.8 L373.5 998.6 L373.8 998.5 L374.1 998.2 L374.5 998.1 L374.8 998.0 L375.2 997.8 L375.5 997.7 L376.0 997.5 L376.2 997.5 L376.8 997.4 L377.2 997.3 L377.5 997.2 L378.0 997.2 L378.5 997.2 L379.0 997.2 L379.5 997.2 L379.9 997.2 L380.2 997.3 L380.8 997.4 L381.2 997.5 L381.5 997.5 L382.0 997.6 L382.4 997.8 L382.8 997.8 L383.2 998.0 L383.5 998.1 L384.0 998.2 L384.2 998.3 L384.8 998.5 L385.0 998.5 L385.5 998.7 L385.8 998.8 L386.2 998.8 L386.8 999.0 L387.0 999.0 L387.5 999.1 L388.0 999.2 L388.5 999.2 L389.0 999.2 L389.4 999.2 L389.8 999.3 L390.2 999.3 L390.5 999.2 L391.0 999.2 L391.5 999.2 L392.0 999.2 L392.5 999.1 L393.0 999.0 L393.3 999.0 L393.8 998.9 L394.2 998.8 L394.7 998.8 L395.0 998.7 L395.5 998.6 L395.8 998.5 L396.2 998.4 L396.6 998.2 L397.0 998.1 L397.3 998.0 L397.8 997.8 L398.0 997.7 L398.4 997.5 L398.8 997.3 L399.0 997.1 L399.2 997.0 L399.6 996.8 L399.9 996.5 L400.2 996.2 L400.5 996.0 L400.7 995.8 L401.0 995.5 L401.2 995.2 L401.4 995.0 L401.6 994.8 L401.8 994.5 L402.0 994.2 L402.2 993.8 L402.4 993.5 L402.6 993.2 L402.8 992.9 L402.9 992.5 L403.1 992.2 L403.2 991.8 L403.4 991.5 L403.5 991.2 L403.6 990.8 L403.8 990.4 L403.9 990.0 L404.0 989.6 L404.1 989.2 L404.2 988.8 L404.3 988.5 L404.4 988.0 L404.5 987.5 L404.5 987.2 L404.6 986.8 L404.7 986.2 L404.8 986.0 L404.8 985.5 L404.9 985.0 L405.0 984.5 L405.0 984.2 L405.1 983.8 L405.2 983.2 L405.2 982.9 L405.3 982.5 L405.4 982.0 L405.4 981.5 L405.5 981.1 L405.6 980.8 L405.6 980.2 L405.7 979.8 L405.8 979.4 L405.8 979.0 L405.9 978.5 L405.9 978.0 L406.0 977.6 L406.0 977.2 L406.1 976.8 L406.2 976.2 L406.2 975.8 L406.3 975.5 L406.4 975.0 L406.4 974.5 L406.5 974.0 L406.5 973.8 L406.6 973.2 L406.7 972.8 L406.7 972.2 L406.8 972.0 L406.8 971.5 L406.9 971.0 L407.0 970.5 L407.0 970.2 L407.1 969.8 L407.2 969.2 L407.2 968.8 L407.3 968.5 L407.3 968.0 L407.4 967.5 L407.5 967.0 L407.5 966.8 L407.6 966.2 L407.6 965.8 L407.7 965.2 L407.8 965.0 L407.9 964.5 L408.0 964.0 L408.1 963.8 L408.2 963.3 L408.4 963.0 L408.5 962.7 L408.7 962.2 L408.9 962.0 L409.0 961.8 L409.2 961.4 L409.5 961.1 L409.8 960.8 L410.0 960.5 L410.2 960.3 L410.5 960.0 L410.8 959.8 L411.0 959.6 L411.2 959.4 L411.5 959.2 L411.9 959.0 L412.2 958.8 L412.5 958.7 L412.9 958.5 L413.2 958.4 L413.6 958.2 L414.0 958.1 L414.5 958.0 L414.8 958.0 L415.2 957.9 L415.8 957.8 L416.2 957.8 L416.8 957.8 L417.2 957.9 L417.8 957.9 L418.0 958.0 L418.5 958.1 L419.0 958.2 L419.2 958.3 L419.7 958.5 L420.0 958.7 L420.2 958.8 L420.7 959.0 L421.0 959.2 L421.2 959.4 L421.5 959.6 L421.8 959.8 L422.0 960.0 L422.3 960.2 L422.6 960.5 L422.8 960.8 L423.0 961.0 L423.2 961.3 L423.5 961.7 L423.7 962.0 L423.9 962.2 L424.0 962.5 L424.2 963.0 L424.3 963.2 L424.5 963.7 L424.6 964.0 L424.7 964.5 L424.8 964.8 L424.9 965.2 L424.9 965.8 L425.0 966.2 L425.0 966.8 L424.9 967.2 L424.9 967.8 L424.8 968.2 L424.8 968.7 L424.7 969.0 L424.6 969.5 L424.6 970.0 L424.5 970.5 L424.5 970.8 L424.4 971.2 L424.3 971.8 L424.3 972.2 L424.2 972.5 L424.2 973.0 L424.1 973.5 L424.0 974.0 L424.0 974.2 L423.9 974.8 L423.8 975.2 L423.8 975.8 L423.7 976.0 L423.7 976.5 L423.6 977.0 L423.5 977.5 L423.5 977.8 L423.4 978.2 L423.4 978.8 L423.3 979.2 L423.2 979.5 L423.2 980.0 L423.1 980.5 L423.0 981.0 L423.0 981.3 L422.9 981.8 L422.9 982.2 L422.8 982.8 L422.8 983.1 L422.7 983.5 L422.6 984.0 L422.6 984.5 L422.5 984.9 L422.5 985.2 L422.4 985.8 L422.3 986.2 L422.2 986.7 L422.2 987.0 L422.1 987.5 L422.1 988.0 L422.0 988.5 L422.0 988.8 L421.9 989.2 L421.8 989.8 L421.8 990.2 L421.7 990.5 L421.7 991.0 L421.6 991.5 L421.5 992.0 L421.5 992.3 L421.4 992.8 L421.4 993.2 L421.3 993.8 L421.3 994.2 L421.2 994.5 L421.2 995.0 L421.1 995.5 L421.1 996.0 L421.0 996.5 L421.0 996.8 L420.9 997.2 L420.9 997.8 L420.8 998.2 L420.8 998.8 L420.8 999.1 L420.7 999.5 L420.7 1000.0 L420.6 1000.5 L420.6 1001.0 L420.5 1001.5 L420.5 1001.8 L420.4 1002.2 L420.4 1002.8 L420.3 1003.2 L420.2 1003.5 L420.1 1004.0 L420.0 1004.2 L419.8 1004.8 L419.7 1005.0 L419.5 1005.5 L419.4 1005.8 L419.2 1006.0 L419.0 1006.4 L418.8 1006.8 L418.6 1007.0 L418.4 1007.2 L418.2 1007.5 L418.0 1007.8 L417.8 1008.1 L417.5 1008.3 L417.2 1008.6 L417.0 1008.8 L416.8 1009.1 L416.5 1009.3 L416.2 1009.5 L415.9 1009.8 L415.5 1010.0 L415.2 1010.2 L415.0 1010.3 L414.7 1010.5 L414.3 1010.8 L414.0 1010.9 L413.7 1011.0 L413.2 1011.2 L413.0 1011.3 L412.5 1011.5 L412.2 1011.6 L411.8 1011.7 L411.5 1011.8 L411.0 1011.9 L410.7 1012.0 L410.2 1012.1 L409.8 1012.2 L409.2 1012.2 L408.8 1012.2 L408.5 1012.3 L408.0 1012.3 L407.5 1012.3 L407.2 1012.2 L406.8 1012.2 L406.2 1012.1 L405.8 1012.1 L405.2 1012.0 L404.9 1012.0 L404.5 1012.0 L404.0 1011.9 L403.5 1011.9 L403.0 1011.8 L402.5 1011.8 L402.0 1011.8 L401.7 1011.8 L401.2 1011.7 L400.8 1011.7 L400.2 1011.7 L399.8 1011.7 L399.4 1011.8 L399.0 1011.8 L398.5 1011.8 L398.0 1011.8 L397.5 1011.9 L397.0 1011.9 L396.5 1012.0 L396.2 1012.0 L395.8 1012.1 L395.2 1012.2 L394.8 1012.2 L394.5 1012.3 L394.0 1012.4 L393.5 1012.4 L393.2 1012.5 L392.8 1012.6 L392.2 1012.7 L392.0 1012.8 L391.5 1012.9 L391.2 1013.0 L390.8 1013.2 L390.5 1013.2 L390.0 1013.4 L389.8 1013.5 L389.3 1013.8 L389.0 1013.9 L388.8 1014.0 L388.4 1014.2 L388.0 1014.5 L387.8 1014.6 L387.5 1014.8 L387.2 1015.0 L386.8 1015.2 L386.5 1015.5 L386.2 1015.6 L386.0 1015.8 L385.8 1016.0 L385.5 1016.2 L385.1 1016.5 L384.8 1016.8 L384.5 1017.0 L384.2 1017.1 L384.0 1017.3 L383.7 1017.5 L383.3 1017.8 L383.0 1018.0 L382.8 1018.1 L382.5 1018.3 L382.0 1018.5 L381.8 1018.7 L381.5 1018.8 L381.0 1019.0 L380.8 1019.1 L380.4 1019.2 L380.0 1019.4 L379.6 1019.5 L379.2 1019.6 L378.8 1019.7 L378.5 1019.8Z M374.5 1048.3 L374.2 1048.4 L374.0 1048.4 L373.8 1048.4 L373.5 1048.3 L373.5 1048.2 L373.2 1048.1 L373.2 1048.0 L373.0 1047.8 L373.0 1047.7 L373.0 1047.5 L373.0 1047.3 L373.0 1047.2 L373.2 1047.0 L373.2 1046.9 L373.5 1046.8 L373.5 1046.7 L373.8 1046.6 L374.0 1046.6 L374.2 1046.6 L374.5 1046.7 L374.5 1046.8 L374.8 1046.9 L374.8 1047.0 L375.0 1047.2 L375.0 1047.3 L375.0 1047.5 L375.0 1047.7 L375.0 1047.8 L374.8 1048.0 L374.8 1048.1 L374.5 1048.2 L374.5 1048.3Z" fill="none" stroke="#000" stroke-width="0.6" stroke-linejoin="round" clip-path="url(#cp1)"/>
<path d="M411.8 1008.5 L411.2 1008.5 L410.8 1008.5 L410.5 1008.5 L410.0 1008.4 L409.5 1008.3 L409.2 1008.2 L408.8 1008.1 L408.5 1008.0 L408.0 1007.8 L407.8 1007.6 L407.5 1007.5 L407.1 1007.2 L406.8 1007.0 L406.5 1006.8 L406.2 1006.6 L406.0 1006.4 L405.8 1006.1 L405.5 1005.9 L405.2 1005.6 L405.0 1005.4 L404.8 1005.1 L404.5 1004.9 L404.2 1004.7 L403.8 1004.5 L403.5 1004.5 L403.0 1004.4 L402.5 1004.3 L402.0 1004.3 L401.5 1004.3 L401.0 1004.3 L400.5 1004.3 L400.0 1004.3 L400.0 1004.2 L400.5 1004.2 L401.0 1004.2 L401.5 1004.1 L401.8 1004.0 L402.2 1003.8 L402.5 1003.7 L402.9 1003.5 L403.2 1003.3 L403.5 1003.1 L403.8 1002.9 L403.9 1002.5 L404.0 1002.2 L404.2 1001.8 L404.3 1001.5 L404.4 1001.0 L404.5 1000.7 L404.6 1000.2 L404.8 999.9 L404.9 999.5 L405.0 999.0 L405.0 998.8 L405.2 998.2 L405.2 997.9 L405.3 997.5 L405.4 997.0 L405.5 996.7 L405.6 996.2 L405.7 995.8 L405.8 995.5 L405.8 995.0 L405.9 994.5 L406.0 994.2 L406.1 993.8 L406.2 993.2 L406.2 992.9 L406.3 992.5 L406.4 992.0 L406.5 991.6 L406.6 991.2 L406.7 990.8 L406.7 990.2 L406.8 990.0 L406.9 989.5 L407.0 989.0 L407.0 988.8 L407.1 988.2 L407.2 987.8 L407.3 987.5 L407.4 987.0 L407.4 986.5 L407.5 986.2 L407.6 985.8 L407.7 985.2 L407.8 984.9 L407.8 984.5 L407.9 984.0 L408.0 983.5 L408.0 983.2 L408.1 982.8 L408.2 982.2 L408.3 982.0 L408.4 981.5 L408.5 981.0 L408.5 980.8 L408.6 980.2 L408.7 979.8 L408.8 979.3 L408.8 979.0 L408.9 978.5 L408.9 978.0 L409.0 977.5 L409.0 977.2 L409.0 976.8 L409.0 976.2 L409.0 976.0 L408.9 975.5 L408.8 975.0 L408.8 974.7 L408.6 974.2 L408.5 974.0 L408.3 973.5 L408.2 973.2 L408.0 972.8 L407.9 972.5 L407.8 972.2 L407.6 971.8 L407.5 971.5 L407.3 971.0 L407.2 970.8 L407.0 970.2 L407.0 970.0 L406.9 969.5 L406.8 969.0 L406.8 968.6 L406.7 968.2 L406.7 967.8 L406.7 967.2 L406.8 967.0 L406.8 966.5 L406.9 966.0 L407.0 965.6 L407.1 965.2 L407.2 964.8 L407.4 964.5 L407.5 964.2 L407.7 963.8 L407.9 963.5 L408.0 963.2 L408.2 962.9 L408.5 962.6 L408.8 962.3 L409.0 962.0 L409.2 961.8 L409.5 961.5 L409.7 961.2 L410.0 961.0 L410.2 960.8 L410.5 960.6 L410.8 960.4 L411.1 960.2 L411.5 960.0 L411.8 959.8 L412.0 959.7 L412.5 959.5 L412.8 959.4 L413.2 959.2 L413.5 959.1 L414.0 959.0 L414.2 958.9 L414.8 958.8 L415.2 958.8 L415.5 958.7 L416.0 958.7 L416.5 958.7 L417.0 958.7 L417.5 958.7 L417.8 958.8 L418.2 958.8 L418.8 958.9 L419.2 959.0 L419.5 959.1 L420.0 959.2 L420.2 959.3 L420.7 959.5 L421.0 959.6 L421.2 959.8 L421.7 960.0 L422.0 960.2 L422.2 960.3 L422.5 960.5 L422.9 960.8 L423.2 961.0 L423.5 961.2 L423.7 961.5 L424.0 961.8 L424.2 962.0 L424.4 962.2 L424.6 962.5 L424.8 962.8 L425.0 963.0 L425.2 963.4 L425.5 963.8 L425.6 964.0 L425.8 964.4 L425.9 964.8 L426.0 965.0 L426.2 965.5 L426.2 965.8 L426.3 966.2 L426.4 966.8 L426.5 967.2 L426.5 967.8 L426.5 968.2 L426.4 968.8 L426.4 969.2 L426.3 969.8 L426.2 970.0 L426.1 970.5 L426.0 970.8 L425.8 971.2 L425.7 971.5 L425.5 971.9 L425.3 972.2 L425.2 972.5 L425.0 972.9 L424.8 973.2 L424.6 973.5 L424.5 973.8 L424.2 974.2 L424.1 974.5 L424.0 974.8 L423.8 975.1 L423.6 975.5 L423.4 975.8 L423.2 976.1 L423.1 976.5 L423.0 976.8 L422.8 977.2 L422.6 977.5 L422.5 977.9 L422.4 978.2 L422.2 978.7 L422.2 979.0 L422.1 979.5 L422.0 979.8 L421.9 980.2 L421.8 980.8 L421.7 981.0 L421.6 981.5 L421.5 982.0 L421.5 982.2 L421.4 982.8 L421.3 983.2 L421.2 983.5 L421.2 984.0 L421.1 984.5 L421.0 984.8 L420.9 985.2 L420.8 985.8 L420.8 986.2 L420.7 986.5 L420.6 987.0 L420.5 987.5 L420.5 987.8 L420.4 988.2 L420.3 988.8 L420.2 989.0 L420.1 989.5 L420.0 990.0 L420.0 990.2 L419.9 990.8 L419.8 991.2 L419.8 991.6 L419.7 992.0 L419.6 992.5 L419.5 992.9 L419.4 993.2 L419.4 993.8 L419.3 994.2 L419.2 994.5 L419.1 995.0 L419.0 995.5 L419.0 995.8 L418.9 996.2 L418.8 996.8 L418.7 997.0 L418.7 997.5 L418.6 998.0 L418.5 998.3 L418.4 998.8 L418.3 999.2 L418.2 999.7 L418.2 1000.0 L418.1 1000.5 L418.0 1001.0 L418.0 1001.2 L417.9 1001.8 L417.8 1002.2 L417.7 1002.5 L417.6 1003.0 L417.5 1003.5 L417.5 1003.8 L417.3 1004.2 L417.2 1004.5 L417.0 1005.0 L416.8 1005.2 L416.7 1005.5 L416.5 1005.8 L416.2 1006.1 L416.0 1006.4 L415.8 1006.7 L415.5 1006.9 L415.2 1007.1 L415.0 1007.3 L414.7 1007.5 L414.3 1007.8 L414.0 1007.9 L413.8 1008.0 L413.2 1008.2 L413.0 1008.3 L412.5 1008.4 L412.0 1008.5 L411.8 1008.5Z M376.8 1013.3 L376.2 1013.3 L375.8 1013.4 L375.2 1013.3 L374.8 1013.2 L374.5 1013.2 L374.0 1013.0 L373.8 1012.9 L373.5 1012.8 L373.1 1012.5 L372.8 1012.3 L372.5 1012.1 L372.2 1011.8 L372.0 1011.5 L371.8 1011.2 L371.6 1011.0 L371.5 1010.8 L371.2 1010.3 L371.1 1010.0 L371.0 1009.7 L370.9 1009.2 L370.8 1008.8 L370.7 1008.5 L370.7 1008.0 L370.7 1007.5 L370.8 1007.2 L370.8 1006.8 L370.9 1006.2 L371.0 1006.0 L371.2 1005.5 L371.4 1005.2 L371.5 1005.0 L371.8 1004.6 L372.0 1004.3 L372.2 1004.0 L372.5 1003.8 L372.8 1003.5 L373.0 1003.3 L373.2 1003.2 L373.6 1003.0 L374.0 1002.8 L374.2 1002.7 L374.8 1002.6 L375.0 1002.5 L375.5 1002.4 L376.0 1002.4 L376.5 1002.5 L376.8 1002.5 L377.2 1002.6 L377.6 1002.8 L378.0 1002.9 L378.2 1003.0 L378.6 1003.2 L379.0 1003.5 L379.2 1003.7 L379.5 1004.0 L379.8 1004.2 L380.0 1004.5 L380.2 1004.8 L380.3 1005.0 L380.5 1005.3 L380.7 1005.8 L380.8 1006.0 L381.0 1006.5 L381.0 1006.8 L381.1 1007.2 L381.1 1007.8 L381.1 1008.2 L381.0 1008.8 L381.0 1009.0 L380.8 1009.5 L380.7 1009.8 L380.5 1010.2 L380.4 1010.5 L380.2 1010.8 L380.0 1011.1 L379.8 1011.4 L379.5 1011.7 L379.2 1012.0 L379.0 1012.2 L378.8 1012.4 L378.5 1012.6 L378.2 1012.8 L377.8 1013.0 L377.5 1013.1 L377.0 1013.2 L376.8 1013.3Z M398.8 1004.5 L398.5 1004.5 L398.2 1004.6 L398.0 1004.6 L397.8 1004.6 L397.5 1004.6 L397.2 1004.6 L397.0 1004.5 L396.9 1004.5 L397.0 1004.5 L397.2 1004.5 L397.5 1004.4 L397.8 1004.4 L398.0 1004.4 L398.2 1004.4 L398.5 1004.4 L398.8 1004.5 L398.8 1004.5 L398.8 1004.5Z M388.8 1006.0 L388.2 1006.2 L387.8 1006.2 L387.3 1006.0 L387.2 1005.8 L387.2 1005.2 L387.4 1005.0 L387.8 1004.8 L388.2 1004.8 L388.8 1004.8 L389.2 1004.8 L389.8 1004.8 L390.2 1004.8 L390.8 1004.8 L391.2 1004.8 L391.8 1004.8 L392.2 1004.8 L392.8 1004.8 L393.0 1004.7 L393.5 1004.7 L394.0 1004.7 L394.5 1004.7 L395.0 1004.6 L395.5 1004.6 L396.0 1004.6 L396.5 1004.6 L396.5 1004.8 L396.0 1004.8 L395.5 1004.9 L395.0 1004.9 L394.8 1005.0 L394.2 1005.1 L393.8 1005.1 L393.2 1005.2 L393.0 1005.3 L392.5 1005.3 L392.0 1005.4 L391.5 1005.5 L391.2 1005.5 L390.8 1005.6 L390.2 1005.7 L390.0 1005.8 L389.5 1005.9 L389.0 1006.0 L388.8 1006.0Z" fill="#000" fill-opacity="0.060" fill-rule="evenodd" stroke="none" clip-path="url(#cp1)"/><path d="M412.0 1008.0 L411.5 1008.1 L411.0 1008.1 L410.5 1008.0 L410.2 1008.0 L409.8 1007.9 L409.2 1007.8 L409.0 1007.7 L408.6 1007.5 L408.2 1007.4 L408.0 1007.2 L407.6 1007.0 L407.3 1006.8 L407.0 1006.5 L406.8 1006.3 L406.5 1006.1 L406.2 1005.8 L406.0 1005.5 L405.8 1005.2 L405.6 1005.0 L405.4 1004.8 L405.2 1004.5 L405.0 1004.0 L404.9 1003.8 L404.8 1003.2 L404.8 1002.8 L404.8 1002.2 L404.9 1001.8 L405.0 1001.2 L405.0 1001.0 L405.1 1000.5 L405.2 1000.1 L405.3 999.8 L405.5 999.2 L405.5 999.0 L405.6 998.5 L405.7 998.0 L405.8 997.8 L405.9 997.2 L406.0 996.8 L406.0 996.5 L406.1 996.0 L406.2 995.5 L406.3 995.2 L406.4 994.8 L406.5 994.2 L406.5 994.0 L406.6 993.5 L406.7 993.0 L406.8 992.8 L406.9 992.2 L406.9 991.8 L407.0 991.5 L407.1 991.0 L407.2 990.5 L407.2 990.1 L407.3 989.8 L407.4 989.2 L407.5 988.8 L407.6 988.5 L407.6 988.0 L407.7 987.5 L407.8 987.2 L407.9 986.8 L408.0 986.2 L408.0 986.0 L408.1 985.5 L408.2 985.0 L408.3 984.8 L408.3 984.2 L408.4 983.8 L408.5 983.4 L408.6 983.0 L408.7 982.5 L408.8 982.1 L408.8 981.8 L408.9 981.2 L409.0 980.8 L409.0 980.5 L409.1 980.0 L409.2 979.5 L409.2 979.2 L409.3 978.8 L409.4 978.2 L409.4 977.8 L409.5 977.2 L409.5 977.0 L409.5 976.5 L409.5 976.2 L409.5 975.8 L409.4 975.2 L409.3 974.8 L409.2 974.5 L409.0 974.0 L408.9 973.8 L408.8 973.3 L408.6 973.0 L408.5 972.7 L408.3 972.2 L408.2 972.0 L408.0 971.5 L407.9 971.2 L407.8 970.8 L407.7 970.5 L407.5 970.0 L407.5 969.8 L407.4 969.2 L407.3 968.8 L407.3 968.2 L407.3 967.8 L407.3 967.2 L407.3 966.8 L407.4 966.2 L407.5 965.9 L407.6 965.5 L407.8 965.1 L407.9 964.8 L408.0 964.5 L408.2 964.0 L408.4 963.8 L408.5 963.5 L408.8 963.1 L409.0 962.8 L409.2 962.5 L409.5 962.2 L409.7 962.0 L410.0 961.8 L410.2 961.5 L410.5 961.3 L410.8 961.1 L411.0 960.9 L411.2 960.7 L411.7 960.5 L412.0 960.3 L412.2 960.2 L412.6 960.0 L413.0 959.9 L413.3 959.8 L413.8 959.6 L414.1 959.5 L414.5 959.4 L415.0 959.3 L415.5 959.2 L415.8 959.2 L416.2 959.2 L416.8 959.2 L417.2 959.2 L417.7 959.2 L418.0 959.3 L418.5 959.4 L419.0 959.5 L419.2 959.5 L419.8 959.7 L420.0 959.8 L420.5 960.0 L420.8 960.1 L421.1 960.2 L421.5 960.5 L421.8 960.6 L422.0 960.8 L422.3 961.0 L422.7 961.2 L423.0 961.5 L423.2 961.8 L423.5 962.0 L423.7 962.2 L424.0 962.5 L424.2 962.8 L424.3 963.0 L424.5 963.2 L424.8 963.6 L425.0 964.0 L425.1 964.2 L425.2 964.6 L425.4 965.0 L425.5 965.2 L425.7 965.8 L425.8 966.1 L425.8 966.5 L425.9 967.0 L425.9 967.5 L425.9 968.0 L425.9 968.5 L425.8 969.0 L425.8 969.5 L425.7 969.8 L425.6 970.2 L425.5 970.5 L425.3 971.0 L425.2 971.2 L425.0 971.7 L424.9 972.0 L424.7 972.2 L424.5 972.7 L424.3 973.0 L424.2 973.2 L424.0 973.6 L423.8 974.0 L423.6 974.2 L423.5 974.5 L423.3 975.0 L423.1 975.2 L423.0 975.5 L422.8 976.0 L422.7 976.2 L422.5 976.6 L422.3 977.0 L422.2 977.2 L422.1 977.8 L422.0 978.0 L421.8 978.5 L421.7 978.8 L421.6 979.2 L421.5 979.8 L421.5 980.0 L421.3 980.5 L421.2 981.0 L421.2 981.2 L421.1 981.8 L421.0 982.2 L421.0 982.5 L420.9 983.0 L420.8 983.5 L420.7 983.8 L420.6 984.2 L420.5 984.8 L420.5 985.0 L420.4 985.5 L420.3 986.0 L420.2 986.3 L420.2 986.8 L420.1 987.2 L420.0 987.6 L419.9 988.0 L419.8 988.5 L419.8 989.0 L419.7 989.2 L419.6 989.8 L419.5 990.2 L419.5 990.5 L419.4 991.0 L419.3 991.5 L419.2 991.8 L419.2 992.2 L419.1 992.8 L419.0 993.0 L418.9 993.5 L418.8 994.0 L418.8 994.4 L418.7 994.8 L418.6 995.2 L418.5 995.7 L418.5 996.0 L418.4 996.5 L418.3 997.0 L418.2 997.2 L418.1 997.8 L418.0 998.2 L418.0 998.5 L417.9 999.0 L417.8 999.5 L417.8 999.8 L417.7 1000.2 L417.6 1000.8 L417.5 1001.2 L417.4 1001.5 L417.3 1002.0 L417.3 1002.5 L417.2 1002.8 L417.1 1003.2 L417.0 1003.7 L416.9 1004.0 L416.8 1004.4 L416.6 1004.8 L416.4 1005.0 L416.2 1005.3 L416.0 1005.7 L415.8 1006.0 L415.5 1006.2 L415.2 1006.5 L415.0 1006.7 L414.8 1006.9 L414.5 1007.1 L414.2 1007.2 L413.8 1007.5 L413.5 1007.6 L413.1 1007.8 L412.8 1007.9 L412.2 1008.0 L412.0 1008.0Z M376.0 1011.3 L375.7 1011.2 L375.2 1011.2 L374.8 1011.1 L374.5 1010.9 L374.2 1010.8 L373.8 1010.5 L373.6 1010.2 L373.4 1010.0 L373.2 1009.8 L373.0 1009.4 L372.8 1009.0 L372.8 1008.6 L372.7 1008.2 L372.7 1007.8 L372.7 1007.2 L372.8 1007.0 L373.0 1006.5 L373.1 1006.2 L373.2 1006.0 L373.5 1005.6 L373.8 1005.4 L374.0 1005.2 L374.2 1005.0 L374.7 1004.8 L375.0 1004.7 L375.5 1004.6 L376.0 1004.5 L376.5 1004.6 L376.9 1004.8 L377.2 1004.9 L377.5 1005.0 L377.8 1005.2 L378.0 1005.5 L378.3 1005.8 L378.5 1006.1 L378.7 1006.5 L378.8 1006.8 L378.9 1007.2 L379.0 1007.8 L379.0 1008.2 L378.9 1008.8 L378.8 1009.1 L378.6 1009.5 L378.5 1009.8 L378.2 1010.0 L378.0 1010.3 L377.8 1010.5 L377.5 1010.8 L377.0 1011.0 L376.8 1011.1 L376.2 1011.2 L376.0 1011.3Z" fill="#000" fill-opacity="0.060" fill-rule="evenodd" stroke="none" clip-path="url(#cp1)"/><path d="M411.8 1007.5 L411.2 1007.5 L410.8 1007.5 L410.4 1007.5 L410.0 1007.4 L409.5 1007.3 L409.2 1007.2 L408.8 1007.0 L408.5 1006.9 L408.2 1006.7 L407.9 1006.5 L407.5 1006.2 L407.2 1006.0 L407.0 1005.8 L406.8 1005.5 L406.5 1005.2 L406.3 1005.0 L406.2 1004.8 L406.0 1004.4 L405.8 1004.0 L405.7 1003.8 L405.5 1003.2 L405.5 1003.0 L405.5 1002.5 L405.5 1002.0 L405.5 1001.7 L405.6 1001.2 L405.7 1000.8 L405.8 1000.4 L405.8 1000.0 L406.0 999.5 L406.0 999.2 L406.1 998.8 L406.2 998.2 L406.3 998.0 L406.4 997.5 L406.5 997.0 L406.5 996.8 L406.6 996.2 L406.7 995.8 L406.8 995.5 L406.9 995.0 L407.0 994.5 L407.0 994.2 L407.1 993.8 L407.2 993.2 L407.2 992.9 L407.3 992.5 L407.4 992.0 L407.5 991.6 L407.6 991.2 L407.7 990.8 L407.8 990.3 L407.8 990.0 L407.9 989.5 L408.0 989.0 L408.0 988.8 L408.1 988.2 L408.2 987.8 L408.3 987.5 L408.4 987.0 L408.4 986.5 L408.5 986.2 L408.6 985.8 L408.7 985.2 L408.8 984.9 L408.8 984.5 L408.9 984.0 L409.0 983.5 L409.0 983.2 L409.1 982.8 L409.2 982.2 L409.3 982.0 L409.4 981.5 L409.5 981.0 L409.5 980.8 L409.6 980.2 L409.7 979.8 L409.8 979.3 L409.8 979.0 L409.9 978.5 L409.9 978.0 L410.0 977.5 L410.0 977.2 L410.0 976.8 L410.0 976.2 L410.0 975.8 L410.0 975.5 L409.9 975.0 L409.8 974.5 L409.7 974.2 L409.5 973.8 L409.4 973.5 L409.2 973.0 L409.1 972.8 L409.0 972.4 L408.8 972.0 L408.7 971.8 L408.5 971.2 L408.4 971.0 L408.3 970.5 L408.2 970.2 L408.1 969.8 L408.0 969.4 L407.9 969.0 L407.9 968.5 L407.9 968.0 L407.9 967.5 L407.9 967.0 L408.0 966.5 L408.0 966.2 L408.1 965.8 L408.2 965.4 L408.4 965.0 L408.5 964.8 L408.8 964.3 L408.9 964.0 L409.0 963.8 L409.2 963.4 L409.5 963.1 L409.8 962.8 L410.0 962.5 L410.2 962.3 L410.5 962.0 L410.8 961.8 L411.0 961.6 L411.2 961.4 L411.5 961.2 L411.9 961.0 L412.2 960.8 L412.5 960.7 L412.9 960.5 L413.2 960.3 L413.5 960.2 L414.0 960.1 L414.4 960.0 L414.8 959.9 L415.2 959.8 L415.8 959.8 L416.1 959.8 L416.5 959.7 L417.0 959.7 L417.2 959.8 L417.8 959.8 L418.2 959.9 L418.8 960.0 L419.0 960.0 L419.5 960.2 L419.8 960.3 L420.2 960.5 L420.5 960.6 L420.8 960.8 L421.2 961.0 L421.5 961.1 L421.8 961.3 L422.1 961.5 L422.4 961.8 L422.7 962.0 L422.9 962.2 L423.2 962.5 L423.4 962.8 L423.6 963.0 L423.8 963.2 L424.0 963.5 L424.2 963.9 L424.4 964.2 L424.6 964.5 L424.8 964.9 L424.9 965.2 L425.0 965.6 L425.1 966.0 L425.2 966.5 L425.3 966.8 L425.3 967.2 L425.3 967.8 L425.3 968.2 L425.3 968.8 L425.2 969.0 L425.2 969.5 L425.0 970.0 L425.0 970.2 L424.8 970.8 L424.7 971.0 L424.5 971.4 L424.4 971.8 L424.2 972.0 L424.0 972.4 L423.8 972.8 L423.7 973.0 L423.5 973.4 L423.3 973.8 L423.2 974.0 L423.0 974.3 L422.8 974.8 L422.7 975.0 L422.5 975.4 L422.3 975.8 L422.2 976.0 L422.0 976.5 L421.9 976.8 L421.8 977.1 L421.6 977.5 L421.5 977.8 L421.4 978.2 L421.2 978.6 L421.2 979.0 L421.0 979.5 L421.0 979.8 L420.9 980.2 L420.8 980.8 L420.7 981.0 L420.6 981.5 L420.5 982.0 L420.5 982.2 L420.4 982.8 L420.3 983.2 L420.2 983.5 L420.2 984.0 L420.1 984.5 L420.0 984.8 L419.9 985.2 L419.8 985.8 L419.8 986.2 L419.7 986.5 L419.6 987.0 L419.5 987.5 L419.5 987.8 L419.4 988.2 L419.3 988.8 L419.2 989.0 L419.1 989.5 L419.0 990.0 L419.0 990.2 L418.9 990.8 L418.8 991.2 L418.8 991.6 L418.7 992.0 L418.6 992.5 L418.5 992.9 L418.4 993.2 L418.4 993.8 L418.3 994.2 L418.2 994.5 L418.1 995.0 L418.0 995.5 L418.0 995.8 L417.9 996.2 L417.8 996.8 L417.7 997.0 L417.7 997.5 L417.6 998.0 L417.5 998.3 L417.4 998.8 L417.3 999.2 L417.2 999.7 L417.2 1000.0 L417.1 1000.5 L417.0 1001.0 L417.0 1001.2 L416.9 1001.8 L416.8 1002.2 L416.7 1002.5 L416.6 1003.0 L416.5 1003.5 L416.4 1003.8 L416.3 1004.2 L416.1 1004.5 L416.0 1004.8 L415.8 1005.1 L415.5 1005.5 L415.3 1005.8 L415.0 1006.0 L414.8 1006.2 L414.5 1006.4 L414.2 1006.6 L414.0 1006.8 L413.6 1007.0 L413.2 1007.1 L413.0 1007.2 L412.5 1007.4 L412.0 1007.5 L411.8 1007.5Z M376.2 1009.1 L376.0 1009.1 L375.8 1009.2 L375.5 1009.1 L375.2 1009.0 L375.2 1009.0 L375.0 1008.8 L374.9 1008.8 L374.8 1008.5 L374.8 1008.4 L374.7 1008.2 L374.6 1008.0 L374.6 1007.8 L374.7 1007.5 L374.8 1007.4 L374.8 1007.2 L375.0 1007.0 L375.0 1007.0 L375.2 1006.8 L375.4 1006.8 L375.5 1006.7 L375.8 1006.6 L376.0 1006.7 L376.2 1006.7 L376.3 1006.8 L376.5 1006.9 L376.6 1007.0 L376.8 1007.2 L376.8 1007.2 L376.9 1007.5 L377.0 1007.8 L377.0 1008.0 L376.9 1008.2 L376.8 1008.5 L376.8 1008.6 L376.7 1008.8 L376.5 1008.9 L376.4 1009.0 L376.2 1009.1Z" fill="#000" fill-opacity="0.060" fill-rule="evenodd" stroke="none" clip-path="url(#cp1)"/><path d="M412.5 1006.8 L412.0 1006.9 L411.5 1007.0 L411.0 1007.0 L410.5 1006.9 L410.0 1006.8 L409.7 1006.8 L409.2 1006.6 L409.0 1006.5 L408.5 1006.2 L408.2 1006.1 L408.0 1005.9 L407.8 1005.7 L407.5 1005.4 L407.2 1005.2 L407.0 1004.8 L406.8 1004.5 L406.6 1004.2 L406.5 1004.0 L406.3 1003.5 L406.2 1003.2 L406.1 1002.8 L406.1 1002.2 L406.1 1001.8 L406.2 1001.2 L406.2 1001.0 L406.3 1000.5 L406.5 1000.0 L406.5 999.8 L406.6 999.2 L406.7 998.8 L406.8 998.5 L406.9 998.0 L407.0 997.5 L407.0 997.2 L407.1 996.8 L407.2 996.2 L407.2 996.0 L407.3 995.5 L407.4 995.0 L407.5 994.7 L407.6 994.2 L407.7 993.8 L407.8 993.3 L407.8 993.0 L407.9 992.5 L408.0 992.0 L408.0 991.8 L408.1 991.2 L408.2 990.8 L408.3 990.5 L408.4 990.0 L408.5 989.5 L408.5 989.2 L408.6 988.8 L408.7 988.2 L408.8 988.0 L408.8 987.5 L408.9 987.0 L409.0 986.6 L409.1 986.2 L409.2 985.8 L409.2 985.3 L409.3 985.0 L409.4 984.5 L409.5 984.0 L409.5 983.8 L409.6 983.2 L409.7 982.8 L409.8 982.5 L409.8 982.0 L409.9 981.5 L410.0 981.2 L410.1 980.8 L410.2 980.2 L410.2 979.8 L410.3 979.5 L410.4 979.0 L410.4 978.5 L410.5 978.1 L410.5 977.8 L410.6 977.2 L410.6 976.8 L410.6 976.2 L410.6 975.8 L410.5 975.2 L410.5 975.0 L410.4 974.5 L410.2 974.1 L410.1 973.8 L410.0 973.4 L409.9 973.0 L409.8 972.7 L409.6 972.2 L409.5 972.0 L409.3 971.5 L409.2 971.2 L409.0 970.8 L408.9 970.5 L408.8 970.0 L408.7 969.8 L408.6 969.2 L408.5 968.8 L408.5 968.3 L408.5 968.0 L408.5 967.5 L408.5 967.2 L408.6 966.8 L408.7 966.2 L408.8 965.9 L408.9 965.5 L409.0 965.2 L409.2 964.8 L409.3 964.5 L409.5 964.2 L409.8 963.8 L410.0 963.5 L410.2 963.2 L410.4 963.0 L410.6 962.8 L410.9 962.5 L411.2 962.2 L411.5 962.0 L411.8 961.8 L412.0 961.6 L412.2 961.5 L412.7 961.2 L413.0 961.1 L413.2 961.0 L413.8 960.8 L414.0 960.7 L414.5 960.6 L414.8 960.5 L415.2 960.4 L415.8 960.4 L416.2 960.3 L416.8 960.3 L417.2 960.3 L417.8 960.4 L418.2 960.5 L418.5 960.5 L419.0 960.7 L419.3 960.8 L419.8 960.9 L420.0 961.0 L420.5 961.2 L420.8 961.4 L421.0 961.5 L421.4 961.8 L421.7 962.0 L422.0 962.2 L422.2 962.4 L422.5 962.7 L422.8 962.9 L423.0 963.2 L423.2 963.5 L423.4 963.8 L423.6 964.0 L423.8 964.3 L424.0 964.8 L424.1 965.0 L424.2 965.3 L424.4 965.8 L424.5 966.1 L424.6 966.5 L424.7 967.0 L424.7 967.5 L424.7 968.0 L424.7 968.5 L424.6 969.0 L424.5 969.5 L424.5 969.8 L424.3 970.2 L424.2 970.5 L424.0 971.0 L423.9 971.2 L423.8 971.6 L423.5 972.0 L423.4 972.2 L423.2 972.6 L423.0 973.0 L422.9 973.2 L422.8 973.5 L422.5 974.0 L422.4 974.2 L422.2 974.6 L422.1 975.0 L422.0 975.2 L421.8 975.7 L421.6 976.0 L421.5 976.2 L421.3 976.8 L421.2 977.0 L421.0 977.5 L420.9 977.8 L420.8 978.2 L420.7 978.5 L420.6 979.0 L420.5 979.3 L420.4 979.8 L420.3 980.2 L420.2 980.5 L420.2 981.0 L420.1 981.5 L420.0 981.8 L419.9 982.2 L419.8 982.8 L419.8 983.1 L419.7 983.5 L419.6 984.0 L419.5 984.4 L419.4 984.8 L419.4 985.2 L419.3 985.8 L419.2 986.0 L419.1 986.5 L419.0 987.0 L419.0 987.2 L418.9 987.8 L418.8 988.2 L418.7 988.5 L418.7 989.0 L418.6 989.5 L418.5 989.8 L418.4 990.2 L418.3 990.8 L418.2 991.2 L418.2 991.5 L418.1 992.0 L418.0 992.5 L418.0 992.8 L417.9 993.2 L417.8 993.8 L417.7 994.0 L417.6 994.5 L417.5 995.0 L417.5 995.3 L417.4 995.8 L417.3 996.2 L417.2 996.6 L417.2 997.0 L417.1 997.5 L417.0 998.0 L416.9 998.2 L416.9 998.8 L416.8 999.2 L416.7 999.5 L416.6 1000.0 L416.5 1000.5 L416.5 1000.8 L416.4 1001.2 L416.3 1001.8 L416.2 1002.0 L416.2 1002.5 L416.1 1003.0 L416.0 1003.3 L415.9 1003.8 L415.7 1004.0 L415.5 1004.5 L415.3 1004.8 L415.2 1005.0 L415.0 1005.2 L414.7 1005.5 L414.5 1005.8 L414.2 1006.0 L413.8 1006.2 L413.5 1006.4 L413.2 1006.5 L412.8 1006.7 L412.5 1006.8Z" fill="#000" fill-opacity="0.060" fill-rule="evenodd" stroke="none" clip-path="url(#cp1)"/><path d="M412.0 1006.3 L411.5 1006.3 L411.0 1006.3 L410.5 1006.3 L410.2 1006.2 L409.8 1006.1 L409.5 1006.0 L409.0 1005.8 L408.8 1005.6 L408.5 1005.4 L408.2 1005.2 L408.0 1005.0 L407.8 1004.7 L407.5 1004.4 L407.3 1004.0 L407.1 1003.8 L407.0 1003.4 L406.9 1003.0 L406.8 1002.5 L406.8 1002.0 L406.8 1001.5 L406.9 1001.0 L407.0 1000.6 L407.1 1000.2 L407.2 999.8 L407.2 999.4 L407.3 999.0 L407.4 998.5 L407.5 998.1 L407.6 997.8 L407.7 997.2 L407.8 996.8 L407.8 996.5 L407.9 996.0 L408.0 995.5 L408.0 995.2 L408.1 994.8 L408.2 994.2 L408.3 994.0 L408.4 993.5 L408.5 993.0 L408.5 992.8 L408.6 992.2 L408.7 991.8 L408.8 991.4 L408.8 991.0 L408.9 990.5 L409.0 990.1 L409.1 989.8 L409.2 989.2 L409.2 988.8 L409.3 988.5 L409.4 988.0 L409.5 987.5 L409.5 987.2 L409.6 986.8 L409.7 986.2 L409.8 986.0 L409.8 985.5 L409.9 985.0 L410.0 984.7 L410.1 984.2 L410.2 983.8 L410.2 983.3 L410.3 983.0 L410.4 982.5 L410.5 982.0 L410.5 981.8 L410.6 981.2 L410.7 980.8 L410.8 980.5 L410.9 980.0 L410.9 979.5 L411.0 979.1 L411.1 978.8 L411.1 978.2 L411.2 977.8 L411.2 977.2 L411.2 976.8 L411.3 976.5 L411.2 976.2 L411.2 975.8 L411.2 975.2 L411.1 974.8 L411.0 974.5 L410.9 974.0 L410.8 973.6 L410.6 973.2 L410.5 972.9 L410.4 972.5 L410.2 972.2 L410.1 971.8 L410.0 971.5 L409.8 971.0 L409.7 970.8 L409.5 970.2 L409.5 970.0 L409.3 969.5 L409.3 969.0 L409.2 968.8 L409.2 968.2 L409.2 967.8 L409.2 967.2 L409.2 966.8 L409.3 966.5 L409.4 966.0 L409.5 965.8 L409.7 965.2 L409.8 965.0 L410.0 964.7 L410.2 964.3 L410.4 964.0 L410.6 963.8 L410.8 963.5 L411.1 963.2 L411.3 963.0 L411.6 962.8 L411.9 962.5 L412.2 962.3 L412.5 962.1 L412.8 961.9 L413.1 961.8 L413.5 961.6 L413.8 961.5 L414.2 961.3 L414.5 961.2 L415.0 961.1 L415.5 961.0 L415.8 961.0 L416.2 961.0 L416.8 961.0 L417.2 961.0 L417.5 961.0 L418.0 961.1 L418.5 961.2 L418.8 961.2 L419.2 961.4 L419.5 961.5 L420.0 961.7 L420.2 961.8 L420.5 962.0 L420.9 962.2 L421.2 962.5 L421.5 962.7 L421.8 962.9 L422.0 963.1 L422.2 963.4 L422.5 963.7 L422.8 964.0 L422.9 964.2 L423.1 964.5 L423.2 964.8 L423.5 965.2 L423.6 965.5 L423.8 966.0 L423.8 966.2 L423.9 966.8 L424.0 967.2 L424.0 967.5 L424.0 968.0 L424.0 968.4 L424.0 968.8 L423.9 969.2 L423.8 969.8 L423.7 970.0 L423.5 970.5 L423.4 970.8 L423.2 971.1 L423.1 971.5 L422.9 971.8 L422.8 972.1 L422.6 972.5 L422.4 972.8 L422.2 973.1 L422.1 973.5 L421.9 973.8 L421.8 974.2 L421.6 974.5 L421.5 974.8 L421.3 975.2 L421.2 975.5 L421.0 975.9 L420.8 976.2 L420.7 976.5 L420.5 977.0 L420.4 977.2 L420.3 977.8 L420.2 978.0 L420.1 978.5 L420.0 978.8 L419.9 979.2 L419.8 979.8 L419.7 980.0 L419.6 980.5 L419.5 981.0 L419.5 981.2 L419.4 981.8 L419.3 982.2 L419.2 982.5 L419.1 983.0 L419.0 983.5 L419.0 983.8 L418.9 984.2 L418.8 984.8 L418.8 985.0 L418.7 985.5 L418.6 986.0 L418.5 986.4 L418.4 986.8 L418.3 987.2 L418.2 987.7 L418.2 988.0 L418.1 988.5 L418.0 989.0 L418.0 989.2 L417.9 989.8 L417.8 990.2 L417.7 990.5 L417.6 991.0 L417.6 991.5 L417.5 991.8 L417.4 992.2 L417.3 992.8 L417.2 993.1 L417.2 993.5 L417.1 994.0 L417.0 994.5 L416.9 994.8 L416.9 995.2 L416.8 995.8 L416.7 996.0 L416.6 996.5 L416.5 997.0 L416.5 997.2 L416.4 997.8 L416.3 998.2 L416.2 998.5 L416.2 999.0 L416.1 999.5 L416.0 999.9 L415.9 1000.2 L415.8 1000.8 L415.8 1001.2 L415.7 1001.5 L415.6 1002.0 L415.5 1002.5 L415.5 1002.8 L415.4 1003.2 L415.2 1003.5 L415.0 1004.0 L414.9 1004.2 L414.7 1004.5 L414.5 1004.8 L414.2 1005.1 L414.0 1005.3 L413.8 1005.5 L413.4 1005.8 L413.0 1005.9 L412.8 1006.1 L412.2 1006.2 L412.0 1006.3Z" fill="#000" fill-opacity="0.060" fill-rule="evenodd" stroke="none" clip-path="url(#cp1)"/><path d="M412.0 1005.5 L411.5 1005.6 L411.0 1005.6 L410.5 1005.5 L410.2 1005.5 L409.8 1005.3 L409.5 1005.2 L409.2 1005.0 L408.8 1004.8 L408.6 1004.5 L408.4 1004.2 L408.2 1004.0 L408.0 1003.7 L407.8 1003.2 L407.7 1003.0 L407.6 1002.5 L407.6 1002.0 L407.6 1001.5 L407.7 1001.0 L407.8 1000.7 L407.8 1000.2 L407.9 999.8 L408.0 999.5 L408.1 999.0 L408.2 998.5 L408.2 998.2 L408.3 997.8 L408.4 997.2 L408.5 996.8 L408.6 996.5 L408.7 996.0 L408.8 995.5 L408.8 995.2 L408.9 994.8 L409.0 994.2 L409.0 994.0 L409.1 993.5 L409.2 993.0 L409.3 992.8 L409.4 992.2 L409.4 991.8 L409.5 991.5 L409.6 991.0 L409.7 990.5 L409.8 990.1 L409.8 989.8 L409.9 989.2 L410.0 988.8 L410.1 988.5 L410.1 988.0 L410.2 987.5 L410.3 987.2 L410.4 986.8 L410.5 986.2 L410.5 986.0 L410.6 985.5 L410.7 985.0 L410.8 984.7 L410.8 984.2 L410.9 983.8 L411.0 983.4 L411.1 983.0 L411.2 982.5 L411.2 982.0 L411.3 981.8 L411.4 981.2 L411.5 980.8 L411.5 980.5 L411.6 980.0 L411.7 979.5 L411.8 979.2 L411.8 978.8 L411.9 978.2 L411.9 977.8 L412.0 977.2 L412.0 976.8 L412.0 976.2 L412.0 975.8 L411.9 975.2 L411.8 974.8 L411.7 974.5 L411.6 974.0 L411.5 973.7 L411.4 973.2 L411.2 972.9 L411.1 972.5 L411.0 972.2 L410.8 971.8 L410.8 971.5 L410.6 971.0 L410.5 970.8 L410.3 970.2 L410.2 970.0 L410.1 969.5 L410.0 969.0 L410.0 968.8 L409.9 968.2 L409.9 967.8 L410.0 967.2 L410.0 966.9 L410.1 966.5 L410.2 966.0 L410.3 965.8 L410.5 965.3 L410.7 965.0 L410.8 964.8 L411.0 964.5 L411.2 964.1 L411.5 963.8 L411.8 963.6 L412.0 963.4 L412.2 963.1 L412.5 963.0 L412.8 962.8 L413.2 962.5 L413.5 962.4 L413.8 962.2 L414.2 962.0 L414.5 962.0 L415.0 961.8 L415.4 961.8 L415.8 961.7 L416.2 961.7 L416.8 961.7 L417.2 961.7 L417.8 961.7 L418.0 961.8 L418.5 961.9 L418.8 962.0 L419.2 962.2 L419.5 962.3 L420.0 962.5 L420.2 962.7 L420.5 962.8 L420.8 963.0 L421.1 963.2 L421.4 963.5 L421.6 963.8 L421.8 964.0 L422.0 964.2 L422.2 964.5 L422.5 964.9 L422.7 965.2 L422.8 965.5 L423.0 966.0 L423.0 966.2 L423.2 966.8 L423.2 967.2 L423.3 967.5 L423.3 968.0 L423.2 968.3 L423.2 968.8 L423.1 969.2 L423.0 969.7 L422.9 970.0 L422.8 970.4 L422.6 970.8 L422.5 971.0 L422.3 971.5 L422.1 971.8 L422.0 972.0 L421.8 972.5 L421.6 972.8 L421.5 973.0 L421.3 973.5 L421.2 973.8 L421.0 974.2 L420.9 974.5 L420.8 974.8 L420.5 975.2 L420.4 975.5 L420.2 975.9 L420.1 976.2 L420.0 976.5 L419.8 977.0 L419.7 977.2 L419.5 977.8 L419.4 978.0 L419.3 978.5 L419.2 978.8 L419.1 979.2 L419.0 979.8 L418.9 980.0 L418.8 980.5 L418.8 981.0 L418.7 981.2 L418.6 981.8 L418.5 982.2 L418.5 982.5 L418.4 983.0 L418.3 983.5 L418.2 983.8 L418.1 984.2 L418.0 984.8 L418.0 985.0 L417.9 985.5 L417.8 986.0 L417.8 986.3 L417.7 986.8 L417.6 987.2 L417.5 987.7 L417.4 988.0 L417.3 988.5 L417.3 989.0 L417.2 989.2 L417.1 989.8 L417.0 990.2 L417.0 990.5 L416.9 991.0 L416.8 991.5 L416.7 991.8 L416.7 992.2 L416.6 992.8 L416.5 993.1 L416.4 993.5 L416.3 994.0 L416.2 994.4 L416.2 994.8 L416.1 995.2 L416.0 995.8 L416.0 996.0 L415.9 996.5 L415.8 997.0 L415.7 997.2 L415.6 997.8 L415.5 998.2 L415.5 998.5 L415.4 999.0 L415.3 999.5 L415.2 999.8 L415.2 1000.2 L415.1 1000.8 L415.0 1001.2 L414.9 1001.5 L414.9 1002.0 L414.8 1002.5 L414.7 1002.8 L414.6 1003.2 L414.5 1003.5 L414.2 1003.9 L414.0 1004.2 L413.8 1004.5 L413.5 1004.8 L413.2 1004.9 L413.0 1005.1 L412.7 1005.2 L412.2 1005.4 L412.0 1005.5Z" fill="#000" fill-opacity="0.060" fill-rule="evenodd" stroke="none" clip-path="url(#cp1)"/><path d="M412.0 1004.5 L411.5 1004.6 L411.0 1004.6 L410.5 1004.6 L410.2 1004.5 L409.8 1004.2 L409.5 1004.0 L409.2 1003.8 L409.0 1003.5 L408.8 1003.2 L408.7 1003.0 L408.6 1002.5 L408.5 1002.0 L408.6 1001.5 L408.7 1001.0 L408.8 1000.6 L408.8 1000.2 L408.9 999.8 L409.0 999.3 L409.1 999.0 L409.2 998.5 L409.2 998.0 L409.3 997.8 L409.4 997.2 L409.5 996.8 L409.5 996.5 L409.6 996.0 L409.7 995.5 L409.8 995.2 L409.9 994.8 L409.9 994.2 L410.0 994.0 L410.1 993.5 L410.2 993.0 L410.2 992.6 L410.3 992.2 L410.4 991.8 L410.5 991.3 L410.6 991.0 L410.6 990.5 L410.7 990.0 L410.8 989.8 L410.9 989.2 L411.0 988.8 L411.0 988.5 L411.1 988.0 L411.2 987.5 L411.2 987.2 L411.3 986.8 L411.4 986.2 L411.5 985.9 L411.6 985.5 L411.7 985.0 L411.8 984.5 L411.8 984.2 L411.9 983.8 L412.0 983.2 L412.0 983.0 L412.1 982.5 L412.2 982.0 L412.3 981.8 L412.4 981.2 L412.4 980.8 L412.5 980.4 L412.6 980.0 L412.7 979.5 L412.7 979.0 L412.8 978.8 L412.8 978.2 L412.9 977.8 L412.9 977.2 L412.9 976.8 L412.9 976.2 L412.8 975.8 L412.8 975.2 L412.7 975.0 L412.6 974.5 L412.5 974.2 L412.4 973.8 L412.2 973.4 L412.1 973.0 L412.0 972.6 L411.9 972.2 L411.8 971.8 L411.6 971.5 L411.5 971.2 L411.3 970.8 L411.2 970.5 L411.1 970.0 L411.0 969.7 L410.9 969.2 L410.8 968.8 L410.8 968.2 L410.8 967.8 L410.8 967.2 L410.9 966.8 L411.0 966.4 L411.1 966.0 L411.2 965.7 L411.5 965.2 L411.6 965.0 L411.8 964.8 L412.0 964.5 L412.3 964.2 L412.5 964.0 L412.8 963.8 L413.1 963.5 L413.5 963.3 L413.8 963.1 L414.0 963.0 L414.5 962.8 L414.8 962.7 L415.2 962.6 L415.8 962.5 L416.0 962.5 L416.5 962.4 L417.0 962.5 L417.4 962.5 L417.8 962.5 L418.2 962.7 L418.5 962.8 L419.0 962.9 L419.2 963.0 L419.7 963.2 L420.0 963.5 L420.2 963.6 L420.5 963.8 L420.8 964.1 L421.0 964.3 L421.2 964.6 L421.5 964.9 L421.7 965.2 L421.8 965.5 L422.0 965.8 L422.2 966.2 L422.2 966.6 L422.3 967.0 L422.4 967.5 L422.4 968.0 L422.4 968.5 L422.3 969.0 L422.2 969.3 L422.1 969.8 L422.0 970.1 L421.8 970.5 L421.7 970.8 L421.5 971.2 L421.4 971.5 L421.2 971.8 L421.0 972.2 L420.9 972.5 L420.7 972.8 L420.5 973.2 L420.4 973.5 L420.2 973.9 L420.1 974.2 L420.0 974.5 L419.8 975.0 L419.7 975.2 L419.5 975.6 L419.3 976.0 L419.2 976.2 L419.0 976.6 L418.8 977.0 L418.7 977.2 L418.6 977.8 L418.5 978.0 L418.3 978.5 L418.2 978.9 L418.2 979.2 L418.0 979.8 L418.0 980.0 L417.9 980.5 L417.8 981.0 L417.7 981.2 L417.6 981.8 L417.5 982.2 L417.5 982.5 L417.4 983.0 L417.3 983.5 L417.2 983.8 L417.2 984.2 L417.1 984.8 L417.0 985.2 L416.9 985.5 L416.8 986.0 L416.8 986.5 L416.7 986.8 L416.6 987.2 L416.5 987.8 L416.5 988.0 L416.4 988.5 L416.3 989.0 L416.2 989.2 L416.2 989.8 L416.1 990.2 L416.0 990.6 L415.9 991.0 L415.8 991.5 L415.8 991.9 L415.7 992.2 L415.6 992.8 L415.5 993.2 L415.5 993.5 L415.4 994.0 L415.3 994.5 L415.2 994.8 L415.1 995.2 L415.0 995.8 L415.0 996.0 L414.9 996.5 L414.8 997.0 L414.8 997.3 L414.7 997.8 L414.6 998.2 L414.5 998.7 L414.4 999.0 L414.3 999.5 L414.3 1000.0 L414.2 1000.2 L414.1 1000.8 L414.0 1001.2 L414.0 1001.5 L413.9 1002.0 L413.8 1002.5 L413.7 1002.8 L413.5 1003.2 L413.4 1003.5 L413.2 1003.8 L412.9 1004.0 L412.6 1004.2 L412.2 1004.4 L412.0 1004.5Z" fill="#000" fill-opacity="0.060" fill-rule="evenodd" stroke="none" clip-path="url(#cp1)"/><path d="M411.5 1003.0 L411.0 1003.0 L410.8 1002.9 L410.5 1002.8 L410.2 1002.5 L410.1 1002.0 L410.2 1001.5 L410.3 1001.2 L410.4 1000.8 L410.5 1000.2 L410.5 1000.0 L410.6 999.5 L410.7 999.0 L410.8 998.7 L410.8 998.2 L410.9 997.8 L411.0 997.4 L411.1 997.0 L411.2 996.5 L411.2 996.0 L411.3 995.8 L411.4 995.2 L411.5 994.8 L411.5 994.5 L411.6 994.0 L411.7 993.5 L411.8 993.2 L411.9 992.8 L412.0 992.2 L412.0 992.0 L412.1 991.5 L412.2 991.0 L412.2 990.7 L412.3 990.2 L412.4 989.8 L412.5 989.3 L412.6 989.0 L412.7 988.5 L412.7 988.0 L412.8 987.8 L412.9 987.2 L413.0 986.8 L413.0 986.5 L413.1 986.0 L413.2 985.5 L413.3 985.2 L413.4 984.8 L413.4 984.2 L413.5 983.9 L413.6 983.5 L413.7 983.0 L413.8 982.6 L413.8 982.2 L413.9 981.8 L414.0 981.2 L414.0 981.0 L414.1 980.5 L414.2 980.0 L414.2 979.5 L414.3 979.2 L414.3 978.8 L414.4 978.2 L414.4 977.8 L414.3 977.2 L414.3 976.8 L414.2 976.5 L414.1 976.0 L414.0 975.5 L413.9 975.2 L413.8 974.8 L413.7 974.5 L413.5 974.0 L413.4 973.8 L413.3 973.2 L413.2 973.0 L413.0 972.5 L412.9 972.2 L412.8 971.8 L412.7 971.5 L412.5 971.1 L412.4 970.8 L412.2 970.4 L412.1 970.0 L412.0 969.6 L411.9 969.2 L411.8 968.8 L411.8 968.2 L411.8 967.8 L411.8 967.2 L411.9 966.8 L412.0 966.5 L412.2 966.0 L412.3 965.8 L412.5 965.5 L412.8 965.2 L413.0 964.9 L413.2 964.6 L413.5 964.4 L413.8 964.2 L414.1 964.0 L414.5 963.8 L414.8 963.7 L415.2 963.6 L415.5 963.5 L416.0 963.4 L416.5 963.4 L417.0 963.4 L417.5 963.5 L417.8 963.5 L418.2 963.6 L418.5 963.8 L419.0 964.0 L419.2 964.1 L419.5 964.3 L419.8 964.5 L420.1 964.8 L420.3 965.0 L420.5 965.2 L420.8 965.6 L421.0 966.0 L421.1 966.2 L421.2 966.7 L421.3 967.0 L421.4 967.5 L421.4 968.0 L421.4 968.5 L421.3 969.0 L421.2 969.2 L421.1 969.8 L421.0 970.0 L420.8 970.5 L420.7 970.8 L420.5 971.0 L420.3 971.5 L420.1 971.8 L420.0 972.0 L419.8 972.5 L419.6 972.8 L419.5 973.1 L419.3 973.5 L419.2 973.8 L419.0 974.2 L418.9 974.5 L418.8 974.8 L418.5 975.2 L418.3 975.5 L418.2 975.8 L418.0 976.0 L417.8 976.4 L417.6 976.8 L417.4 977.0 L417.2 977.4 L417.1 977.8 L417.0 978.0 L416.8 978.5 L416.7 978.8 L416.6 979.2 L416.5 979.5 L416.4 980.0 L416.3 980.5 L416.2 980.8 L416.1 981.2 L416.0 981.8 L416.0 982.0 L415.9 982.5 L415.8 983.0 L415.7 983.2 L415.6 983.8 L415.5 984.2 L415.5 984.5 L415.4 985.0 L415.3 985.5 L415.2 985.8 L415.2 986.2 L415.1 986.8 L415.0 987.1 L414.9 987.5 L414.8 988.0 L414.8 988.5 L414.7 988.8 L414.6 989.2 L414.5 989.8 L414.5 990.0 L414.4 990.5 L414.3 991.0 L414.2 991.2 L414.1 991.8 L414.0 992.2 L414.0 992.5 L413.9 993.0 L413.8 993.5 L413.8 993.9 L413.7 994.2 L413.6 994.8 L413.5 995.2 L413.4 995.5 L413.4 996.0 L413.3 996.5 L413.2 996.8 L413.1 997.2 L413.0 997.8 L413.0 998.0 L412.9 998.5 L412.8 999.0 L412.8 999.3 L412.7 999.8 L412.6 1000.2 L412.5 1000.7 L412.4 1001.0 L412.3 1001.5 L412.3 1002.0 L412.2 1002.2 L412.0 1002.7 L411.8 1002.9 L411.5 1003.0Z" fill="#000" fill-opacity="0.060" fill-rule="evenodd" stroke="none" clip-path="url(#cp1)"/><path d="M416.5 974.5 L416.0 974.5 L415.8 974.4 L415.5 974.2 L415.2 973.9 L415.0 973.5 L414.9 973.2 L414.8 972.9 L414.6 972.5 L414.5 972.2 L414.2 971.8 L414.1 971.5 L414.0 971.2 L413.8 970.8 L413.6 970.5 L413.5 970.2 L413.3 969.8 L413.2 969.5 L413.1 969.0 L413.0 968.5 L413.0 968.1 L413.0 968.0 L413.0 967.5 L413.2 967.0 L413.2 966.7 L413.5 966.2 L413.7 966.0 L413.9 965.8 L414.1 965.5 L414.4 965.2 L414.8 965.0 L415.0 964.9 L415.4 964.8 L415.8 964.6 L416.2 964.6 L416.8 964.6 L417.2 964.6 L417.8 964.7 L418.0 964.8 L418.4 965.0 L418.8 965.2 L419.0 965.4 L419.2 965.7 L419.5 966.0 L419.7 966.2 L419.8 966.5 L420.0 966.9 L420.1 967.2 L420.2 967.8 L420.2 968.2 L420.1 968.8 L420.0 969.1 L419.9 969.5 L419.8 969.8 L419.5 970.2 L419.4 970.5 L419.2 970.8 L419.0 971.2 L418.8 971.5 L418.6 971.8 L418.5 972.0 L418.2 972.4 L418.0 972.8 L417.9 973.0 L417.7 973.2 L417.5 973.6 L417.2 974.0 L417.0 974.2 L416.8 974.4 L416.5 974.5Z" fill="#000" fill-opacity="0.060" fill-rule="evenodd" stroke="none" clip-path="url(#cp1)"/><path d="M417.0 969.8 L416.5 969.9 L416.0 969.8 L415.8 969.6 L415.5 969.4 L415.2 969.0 L415.1 968.8 L415.0 968.2 L415.1 967.8 L415.2 967.3 L415.5 967.0 L415.8 966.8 L416.0 966.7 L416.5 966.5 L417.0 966.6 L417.4 966.8 L417.7 967.0 L417.9 967.2 L418.0 967.5 L418.1 968.0 L418.1 968.5 L418.0 968.8 L417.8 969.2 L417.5 969.5 L417.2 969.7 L417.0 969.8Z" fill="#000" fill-opacity="0.060" fill-rule="evenodd" stroke="none" clip-path="url(#cp1)"/><path d="M376.8 1017.5 L376.2 1017.6 L375.8 1017.6 L375.2 1017.5 L374.8 1017.5 L374.5 1017.5 L374.0 1017.4 L373.5 1017.2 L373.2 1017.2 L372.8 1017.0 L372.5 1016.9 L372.2 1016.8 L371.8 1016.5 L371.5 1016.4 L371.2 1016.2 L370.9 1016.0 L370.5 1015.8 L370.2 1015.5 L370.0 1015.3 L369.8 1015.1 L369.5 1014.8 L369.2 1014.5 L369.0 1014.2 L368.8 1014.0 L368.6 1013.8 L368.5 1013.5 L368.2 1013.2 L368.0 1012.8 L367.9 1012.5 L367.8 1012.2 L367.5 1011.8 L367.4 1011.5 L367.3 1011.0 L367.2 1010.8 L367.1 1010.2 L367.0 1010.0 L366.9 1009.5 L366.8 1009.0 L366.8 1008.5 L366.8 1008.0 L366.8 1007.5 L366.8 1007.0 L366.9 1006.5 L367.0 1006.0 L367.0 1005.8 L367.1 1005.2 L367.2 1004.8 L367.4 1004.5 L367.5 1004.1 L367.7 1003.8 L367.8 1003.5 L368.0 1003.1 L368.2 1002.8 L368.3 1002.5 L368.5 1002.2 L368.8 1001.9 L369.0 1001.6 L369.2 1001.3 L369.5 1001.0 L369.7 1000.8 L370.0 1000.5 L370.2 1000.3 L370.5 1000.1 L370.8 999.9 L371.0 999.7 L371.3 999.5 L371.8 999.3 L372.0 999.1 L372.3 999.0 L372.8 998.8 L373.0 998.7 L373.5 998.6 L373.8 998.5 L374.2 998.4 L374.8 998.3 L375.1 998.2 L375.5 998.2 L376.0 998.2 L376.5 998.2 L376.8 998.3 L377.2 998.3 L377.8 998.4 L378.1 998.5 L378.5 998.6 L378.9 998.8 L379.2 998.9 L379.6 999.0 L380.0 999.2 L380.2 999.3 L380.6 999.5 L381.0 999.7 L381.2 999.9 L381.5 1000.0 L381.8 1000.2 L382.2 1000.5 L382.5 1000.7 L382.8 1000.8 L383.0 1001.0 L383.4 1001.2 L383.8 1001.5 L384.0 1001.6 L384.4 1001.8 L384.8 1001.9 L385.2 1002.0 L385.5 1002.1 L386.0 1002.1 L386.5 1002.2 L387.0 1002.2 L387.2 1002.3 L387.8 1002.4 L388.2 1002.5 L388.5 1002.5 L389.0 1002.6 L389.5 1002.7 L390.0 1002.7 L390.3 1002.8 L390.8 1002.8 L391.2 1002.8 L391.8 1002.8 L392.2 1002.8 L392.8 1002.9 L393.2 1002.9 L393.8 1002.9 L394.2 1002.8 L394.8 1002.8 L395.2 1002.8 L395.8 1002.8 L396.2 1002.8 L396.8 1002.8 L397.0 1002.7 L397.5 1002.7 L398.0 1002.7 L398.5 1002.7 L399.0 1002.6 L399.5 1002.6 L400.0 1002.5 L400.2 1002.5 L400.8 1002.4 L401.2 1002.3 L401.5 1002.2 L401.9 1002.0 L402.2 1001.8 L402.5 1001.6 L402.8 1001.3 L403.0 1001.0 L403.1 1000.8 L403.3 1000.5 L403.5 1000.1 L403.7 999.8 L403.8 999.5 L403.9 999.0 L404.0 998.8 L404.2 998.2 L404.3 998.0 L404.4 997.5 L404.5 997.0 L404.6 996.8 L404.7 996.2 L404.8 995.9 L404.8 995.5 L404.9 995.0 L405.0 994.7 L405.1 994.2 L405.2 993.8 L405.3 993.5 L405.3 993.0 L405.4 992.5 L405.5 992.2 L405.6 991.8 L405.7 991.2 L405.8 990.9 L405.8 990.5 L405.9 990.0 L406.0 989.6 L406.1 989.2 L406.2 988.8 L406.2 988.3 L406.3 988.0 L406.4 987.5 L406.5 987.0 L406.5 986.8 L406.6 986.2 L406.7 985.8 L406.8 985.5 L406.9 985.0 L406.9 984.5 L407.0 984.2 L407.1 983.8 L407.2 983.2 L407.2 982.9 L407.3 982.5 L407.4 982.0 L407.5 981.5 L407.5 981.2 L407.6 980.8 L407.7 980.2 L407.8 980.0 L407.9 979.5 L407.9 979.0 L408.0 978.5 L408.0 978.2 L408.1 977.8 L408.1 977.2 L408.1 976.8 L408.1 976.2 L408.0 975.8 L408.0 975.5 L407.8 975.0 L407.8 974.7 L407.6 974.2 L407.5 974.0 L407.3 973.5 L407.1 973.2 L407.0 972.9 L406.8 972.5 L406.7 972.2 L406.5 971.8 L406.4 971.5 L406.2 971.1 L406.1 970.8 L406.0 970.3 L405.9 970.0 L405.8 969.5 L405.8 969.0 L405.7 968.8 L405.7 968.2 L405.7 967.8 L405.7 967.2 L405.7 966.8 L405.8 966.5 L405.9 966.0 L406.0 965.5 L406.0 965.2 L406.2 964.8 L406.3 964.5 L406.5 964.0 L406.6 963.8 L406.8 963.5 L407.0 963.0 L407.2 962.8 L407.3 962.5 L407.5 962.2 L407.8 961.9 L408.0 961.6 L408.2 961.3 L408.5 961.1 L408.8 960.8 L409.0 960.6 L409.2 960.4 L409.5 960.2 L409.8 960.0 L410.0 959.8 L410.4 959.5 L410.8 959.3 L411.0 959.2 L411.3 959.0 L411.8 958.8 L412.0 958.7 L412.4 958.5 L412.8 958.4 L413.1 958.2 L413.5 958.1 L414.0 958.0 L414.2 958.0 L414.8 957.9 L415.2 957.8 L415.8 957.8 L416.0 957.7 L416.5 957.7 L417.0 957.7 L417.3 957.8 L417.8 957.8 L418.2 957.8 L418.8 957.9 L419.1 958.0 L419.5 958.1 L420.0 958.2 L420.2 958.3 L420.8 958.5 L421.0 958.6 L421.4 958.8 L421.8 958.9 L422.0 959.0 L422.4 959.2 L422.8 959.5 L423.0 959.6 L423.2 959.8 L423.5 960.0 L423.8 960.2 L424.1 960.5 L424.4 960.8 L424.6 961.0 L424.9 961.2 L425.1 961.5 L425.3 961.8 L425.5 962.0 L425.8 962.3 L426.0 962.7 L426.2 963.0 L426.3 963.2 L426.5 963.6 L426.7 964.0 L426.8 964.2 L427.0 964.8 L427.1 965.0 L427.2 965.5 L427.3 965.8 L427.4 966.2 L427.5 966.8 L427.5 967.2 L427.5 967.5 L427.5 968.0 L427.5 968.2 L427.5 968.8 L427.4 969.2 L427.3 969.8 L427.2 970.0 L427.1 970.5 L427.0 970.9 L426.9 971.2 L426.8 971.5 L426.6 972.0 L426.4 972.2 L426.2 972.6 L426.0 973.0 L425.9 973.2 L425.8 973.5 L425.5 973.9 L425.3 974.2 L425.2 974.5 L425.0 974.8 L424.8 975.2 L424.6 975.5 L424.5 975.8 L424.2 976.1 L424.0 976.5 L423.9 976.8 L423.8 977.1 L423.6 977.5 L423.5 977.8 L423.3 978.2 L423.2 978.5 L423.1 979.0 L423.0 979.2 L422.9 979.8 L422.8 980.2 L422.7 980.5 L422.6 981.0 L422.5 981.5 L422.4 981.8 L422.4 982.2 L422.3 982.8 L422.2 983.0 L422.1 983.5 L422.0 984.0 L422.0 984.2 L421.9 984.8 L421.8 985.2 L421.7 985.5 L421.7 986.0 L421.6 986.5 L421.5 986.8 L421.4 987.2 L421.3 987.8 L421.2 988.1 L421.2 988.5 L421.1 989.0 L421.0 989.5 L421.0 989.8 L420.9 990.2 L420.8 990.8 L420.7 991.0 L420.6 991.5 L420.5 992.0 L420.5 992.2 L420.4 992.8 L420.3 993.2 L420.2 993.5 L420.2 994.0 L420.1 994.5 L420.0 994.9 L419.9 995.2 L419.8 995.8 L419.8 996.2 L419.7 996.5 L419.6 997.0 L419.5 997.5 L419.5 997.8 L419.4 998.2 L419.3 998.8 L419.2 999.0 L419.2 999.5 L419.1 1000.0 L419.0 1000.3 L418.9 1000.8 L418.8 1001.2 L418.8 1001.7 L418.7 1002.0 L418.6 1002.5 L418.5 1003.0 L418.5 1003.2 L418.4 1003.8 L418.2 1004.1 L418.1 1004.5 L418.0 1004.8 L417.8 1005.2 L417.7 1005.5 L417.5 1005.8 L417.2 1006.2 L417.0 1006.5 L416.8 1006.8 L416.6 1007.0 L416.4 1007.2 L416.1 1007.5 L415.8 1007.8 L415.5 1008.0 L415.2 1008.2 L415.0 1008.3 L414.7 1008.5 L414.2 1008.7 L414.0 1008.8 L413.5 1009.0 L413.2 1009.1 L412.8 1009.2 L412.5 1009.3 L412.0 1009.4 L411.5 1009.4 L411.0 1009.4 L410.5 1009.4 L410.0 1009.3 L409.6 1009.2 L409.2 1009.2 L408.8 1009.0 L408.5 1009.0 L408.0 1008.8 L407.8 1008.7 L407.4 1008.5 L407.0 1008.3 L406.8 1008.2 L406.5 1008.0 L406.1 1007.8 L405.8 1007.5 L405.5 1007.4 L405.2 1007.2 L404.9 1007.0 L404.5 1006.8 L404.2 1006.6 L404.0 1006.5 L403.5 1006.3 L403.2 1006.2 L402.8 1006.1 L402.3 1006.0 L402.0 1006.0 L401.5 1006.0 L401.0 1006.0 L400.8 1006.0 L400.2 1006.0 L399.8 1006.1 L399.2 1006.2 L398.8 1006.2 L398.5 1006.3 L398.0 1006.3 L397.5 1006.4 L397.0 1006.5 L396.8 1006.5 L396.2 1006.6 L395.8 1006.7 L395.3 1006.8 L395.0 1006.8 L394.5 1006.9 L394.0 1007.0 L393.8 1007.1 L393.2 1007.2 L392.8 1007.2 L392.5 1007.3 L392.0 1007.5 L391.8 1007.5 L391.2 1007.7 L390.9 1007.8 L390.5 1007.9 L390.2 1008.0 L389.8 1008.2 L389.5 1008.3 L389.0 1008.5 L388.8 1008.6 L388.5 1008.8 L388.0 1009.0 L387.8 1009.1 L387.5 1009.2 L387.0 1009.5 L386.8 1009.6 L386.5 1009.8 L386.2 1010.0 L385.9 1010.2 L385.6 1010.5 L385.4 1010.8 L385.2 1011.0 L385.0 1011.3 L384.8 1011.6 L384.5 1012.0 L384.3 1012.2 L384.1 1012.5 L384.0 1012.8 L383.8 1013.0 L383.5 1013.4 L383.2 1013.7 L383.0 1014.0 L382.8 1014.2 L382.5 1014.5 L382.3 1014.8 L382.0 1015.0 L381.8 1015.2 L381.5 1015.5 L381.2 1015.7 L381.0 1015.9 L380.8 1016.0 L380.4 1016.2 L380.0 1016.5 L379.8 1016.6 L379.5 1016.8 L379.0 1017.0 L378.8 1017.0 L378.2 1017.2 L378.0 1017.3 L377.5 1017.4 L377.0 1017.5 L376.8 1017.5Z M377.2 1015.3 L376.8 1015.4 L376.2 1015.4 L375.8 1015.5 L375.2 1015.4 L374.8 1015.4 L374.2 1015.3 L374.0 1015.2 L373.5 1015.0 L373.2 1014.9 L372.8 1014.8 L372.5 1014.6 L372.2 1014.4 L372.0 1014.2 L371.6 1014.0 L371.3 1013.8 L371.1 1013.5 L370.8 1013.2 L370.6 1013.0 L370.4 1012.8 L370.2 1012.5 L370.0 1012.2 L369.8 1011.8 L369.6 1011.5 L369.5 1011.2 L369.3 1010.8 L369.2 1010.5 L369.0 1010.0 L369.0 1009.8 L368.9 1009.2 L368.8 1008.8 L368.8 1008.2 L368.7 1008.0 L368.8 1007.8 L368.8 1007.2 L368.8 1006.8 L368.9 1006.2 L369.0 1005.9 L369.1 1005.5 L369.2 1005.1 L369.4 1004.8 L369.5 1004.5 L369.8 1004.0 L369.9 1003.8 L370.1 1003.5 L370.2 1003.2 L370.5 1002.9 L370.8 1002.6 L371.0 1002.4 L371.2 1002.1 L371.5 1001.9 L371.8 1001.7 L372.0 1001.5 L372.4 1001.2 L372.8 1001.1 L373.0 1001.0 L373.5 1000.8 L373.8 1000.7 L374.2 1000.5 L374.5 1000.5 L375.0 1000.4 L375.5 1000.3 L376.0 1000.3 L376.5 1000.3 L377.0 1000.4 L377.4 1000.5 L377.8 1000.6 L378.2 1000.7 L378.5 1000.8 L378.9 1001.0 L379.2 1001.2 L379.5 1001.3 L379.8 1001.5 L380.2 1001.8 L380.5 1002.0 L380.8 1002.2 L381.0 1002.4 L381.2 1002.6 L381.5 1002.8 L381.8 1003.0 L382.0 1003.3 L382.2 1003.5 L382.5 1003.8 L382.8 1004.0 L383.0 1004.3 L383.2 1004.5 L383.5 1004.8 L383.9 1005.0 L384.2 1005.1 L384.7 1005.0 L385.0 1004.8 L385.2 1004.6 L385.5 1004.4 L385.8 1004.2 L386.2 1004.0 L386.5 1003.9 L386.8 1003.8 L387.2 1003.7 L387.8 1003.7 L388.2 1003.7 L388.7 1003.8 L389.0 1003.8 L389.5 1003.8 L390.0 1003.8 L390.5 1003.8 L391.0 1003.8 L391.5 1003.8 L392.0 1003.8 L392.5 1003.8 L393.0 1003.8 L393.5 1003.8 L394.0 1003.8 L394.5 1003.8 L395.0 1003.8 L395.2 1003.7 L395.8 1003.7 L396.2 1003.7 L396.8 1003.6 L397.2 1003.6 L397.8 1003.6 L398.2 1003.5 L398.7 1003.5 L399.0 1003.5 L399.5 1003.4 L400.0 1003.4 L400.5 1003.3 L400.9 1003.2 L401.2 1003.2 L401.8 1003.1 L402.0 1003.0 L402.4 1002.8 L402.7 1002.5 L403.0 1002.2 L403.2 1002.0 L403.4 1001.8 L403.5 1001.5 L403.7 1001.0 L403.9 1000.8 L404.0 1000.4 L404.2 1000.0 L404.2 999.7 L404.4 999.2 L404.5 998.9 L404.6 998.5 L404.7 998.0 L404.8 997.8 L404.9 997.2 L405.0 996.9 L405.1 996.5 L405.2 996.0 L405.2 995.7 L405.3 995.2 L405.4 994.8 L405.5 994.4 L405.6 994.0 L405.7 993.5 L405.8 993.1 L405.8 992.8 L405.9 992.2 L406.0 991.8 L406.1 991.5 L406.2 991.0 L406.2 990.5 L406.3 990.2 L406.4 989.8 L406.5 989.2 L406.5 989.0 L406.6 988.5 L406.7 988.0 L406.8 987.8 L406.9 987.2 L407.0 986.8 L407.0 986.5 L407.1 986.0 L407.2 985.5 L407.2 985.2 L407.3 984.8 L407.4 984.2 L407.5 983.8 L407.6 983.5 L407.6 983.0 L407.7 982.5 L407.8 982.2 L407.9 981.8 L408.0 981.2 L408.0 981.0 L408.1 980.5 L408.2 980.0 L408.2 979.7 L408.3 979.2 L408.4 978.8 L408.5 978.2 L408.5 977.9 L408.5 977.5 L408.5 977.0 L408.5 976.5 L408.5 976.0 L408.5 975.8 L408.4 975.2 L408.3 974.8 L408.2 974.5 L408.0 974.0 L407.9 973.8 L407.8 973.5 L407.5 973.0 L407.4 972.8 L407.2 972.3 L407.1 972.0 L407.0 971.7 L406.8 971.2 L406.7 971.0 L406.6 970.5 L406.5 970.2 L406.4 969.8 L406.3 969.2 L406.2 968.9 L406.2 968.5 L406.2 968.0 L406.2 967.5 L406.2 967.0 L406.3 966.8 L406.3 966.2 L406.4 965.8 L406.5 965.5 L406.6 965.0 L406.8 964.7 L406.9 964.2 L407.0 964.0 L407.2 963.6 L407.4 963.2 L407.6 963.0 L407.8 962.7 L408.0 962.4 L408.2 962.1 L408.5 961.8 L408.7 961.5 L409.0 961.2 L409.2 961.0 L409.5 960.8 L409.8 960.6 L410.0 960.4 L410.2 960.2 L410.5 960.0 L410.9 959.8 L411.2 959.6 L411.5 959.4 L411.9 959.2 L412.2 959.1 L412.5 959.0 L413.0 958.8 L413.2 958.7 L413.8 958.6 L414.0 958.5 L414.5 958.4 L415.0 958.3 L415.5 958.2 L415.8 958.2 L416.2 958.2 L416.8 958.2 L417.2 958.2 L417.7 958.2 L418.0 958.3 L418.5 958.3 L419.0 958.4 L419.2 958.5 L419.8 958.6 L420.1 958.8 L420.5 958.9 L420.8 959.0 L421.2 959.2 L421.5 959.3 L421.8 959.5 L422.2 959.7 L422.5 959.9 L422.8 960.0 L423.0 960.2 L423.4 960.5 L423.7 960.8 L424.0 961.0 L424.2 961.2 L424.5 961.5 L424.7 961.8 L424.9 962.0 L425.1 962.2 L425.3 962.5 L425.5 962.8 L425.8 963.2 L425.9 963.5 L426.0 963.8 L426.2 964.2 L426.4 964.5 L426.5 964.8 L426.6 965.2 L426.8 965.7 L426.8 966.0 L426.9 966.5 L427.0 967.0 L427.0 967.4 L427.0 967.8 L427.0 968.2 L427.0 968.5 L426.9 969.0 L426.9 969.5 L426.8 970.0 L426.7 970.2 L426.5 970.8 L426.4 971.0 L426.2 971.5 L426.1 971.8 L426.0 972.0 L425.8 972.5 L425.6 972.8 L425.5 973.0 L425.2 973.4 L425.1 973.8 L424.9 974.0 L424.8 974.3 L424.5 974.7 L424.4 975.0 L424.2 975.2 L424.0 975.7 L423.8 976.0 L423.7 976.2 L423.5 976.6 L423.3 977.0 L423.2 977.2 L423.0 977.8 L422.9 978.0 L422.8 978.5 L422.7 978.8 L422.6 979.2 L422.5 979.5 L422.4 980.0 L422.3 980.5 L422.2 980.8 L422.1 981.2 L422.0 981.8 L422.0 982.0 L421.9 982.5 L421.8 983.0 L421.7 983.2 L421.7 983.8 L421.6 984.2 L421.5 984.5 L421.4 985.0 L421.3 985.5 L421.2 985.9 L421.2 986.2 L421.1 986.8 L421.0 987.2 L421.0 987.5 L420.9 988.0 L420.8 988.5 L420.7 988.8 L420.6 989.2 L420.5 989.8 L420.5 990.0 L420.4 990.5 L420.3 991.0 L420.2 991.3 L420.2 991.8 L420.1 992.2 L420.0 992.6 L419.9 993.0 L419.8 993.5 L419.8 994.0 L419.7 994.2 L419.6 994.8 L419.5 995.2 L419.5 995.5 L419.4 996.0 L419.3 996.5 L419.2 996.8 L419.2 997.2 L419.1 997.8 L419.0 998.0 L418.9 998.5 L418.8 999.0 L418.8 999.4 L418.7 999.8 L418.6 1000.2 L418.5 1000.7 L418.5 1001.0 L418.4 1001.5 L418.3 1002.0 L418.2 1002.2 L418.1 1002.8 L418.0 1003.2 L418.0 1003.5 L417.9 1004.0 L417.8 1004.3 L417.6 1004.8 L417.5 1005.0 L417.2 1005.4 L417.1 1005.8 L416.9 1006.0 L416.7 1006.2 L416.5 1006.5 L416.2 1006.8 L416.0 1007.0 L415.8 1007.3 L415.5 1007.5 L415.1 1007.8 L414.8 1008.0 L414.5 1008.1 L414.2 1008.3 L413.8 1008.5 L413.5 1008.6 L413.0 1008.7 L412.8 1008.8 L412.2 1008.9 L411.8 1009.0 L411.2 1009.0 L410.8 1009.0 L410.2 1008.9 L409.8 1008.9 L409.3 1008.8 L409.0 1008.7 L408.5 1008.5 L408.2 1008.4 L407.9 1008.2 L407.5 1008.1 L407.2 1007.9 L407.0 1007.8 L406.6 1007.5 L406.2 1007.3 L406.0 1007.1 L405.8 1006.9 L405.5 1006.7 L405.2 1006.5 L405.0 1006.2 L404.6 1006.0 L404.2 1005.8 L404.0 1005.6 L403.6 1005.5 L403.2 1005.4 L402.8 1005.2 L402.5 1005.2 L402.0 1005.1 L401.5 1005.1 L401.0 1005.1 L400.5 1005.2 L400.0 1005.2 L399.7 1005.2 L399.2 1005.3 L398.8 1005.4 L398.2 1005.4 L397.8 1005.5 L397.5 1005.5 L397.0 1005.6 L396.5 1005.7 L396.0 1005.7 L395.8 1005.8 L395.2 1005.8 L394.8 1005.9 L394.2 1006.0 L394.0 1006.0 L393.5 1006.1 L393.0 1006.2 L392.7 1006.2 L392.2 1006.3 L391.8 1006.4 L391.5 1006.5 L391.0 1006.6 L390.5 1006.7 L390.2 1006.8 L389.8 1006.9 L389.4 1007.0 L389.0 1007.1 L388.6 1007.2 L388.2 1007.4 L387.8 1007.5 L387.5 1007.5 L387.0 1007.5 L386.7 1007.5 L386.2 1007.4 L385.8 1007.3 L385.5 1007.2 L385.0 1007.1 L384.5 1007.2 L384.2 1007.5 L384.1 1007.8 L383.9 1008.0 L383.8 1008.4 L383.6 1008.8 L383.5 1009.0 L383.3 1009.5 L383.2 1009.8 L383.0 1010.1 L382.8 1010.5 L382.7 1010.8 L382.5 1011.1 L382.2 1011.5 L382.1 1011.8 L381.9 1012.0 L381.7 1012.2 L381.5 1012.6 L381.2 1012.9 L381.0 1013.1 L380.8 1013.4 L380.5 1013.6 L380.2 1013.8 L380.0 1014.0 L379.7 1014.2 L379.3 1014.5 L379.0 1014.7 L378.8 1014.8 L378.3 1015.0 L378.0 1015.1 L377.5 1015.2 L377.2 1015.3Z M411.8 1008.5 L411.2 1008.5 L410.8 1008.5 L410.5 1008.5 L410.0 1008.4 L409.5 1008.3 L409.2 1008.2 L408.8 1008.1 L408.5 1008.0 L408.0 1007.8 L407.8 1007.6 L407.5 1007.5 L407.1 1007.2 L406.8 1007.0 L406.5 1006.8 L406.2 1006.6 L406.0 1006.4 L405.8 1006.1 L405.5 1005.9 L405.2 1005.6 L405.0 1005.4 L404.8 1005.1 L404.5 1004.9 L404.2 1004.7 L403.8 1004.5 L403.5 1004.5 L403.0 1004.4 L402.5 1004.3 L402.0 1004.3 L401.5 1004.3 L401.0 1004.3 L400.5 1004.3 L400.0 1004.3 L400.0 1004.2 L400.5 1004.2 L401.0 1004.2 L401.5 1004.1 L401.8 1004.0 L402.2 1003.8 L402.5 1003.7 L402.9 1003.5 L403.2 1003.3 L403.5 1003.1 L403.8 1002.9 L403.9 1002.5 L404.0 1002.2 L404.2 1001.8 L404.3 1001.5 L404.4 1001.0 L404.5 1000.7 L404.6 1000.2 L404.8 999.9 L404.9 999.5 L405.0 999.0 L405.0 998.8 L405.2 998.2 L405.2 997.9 L405.3 997.5 L405.4 997.0 L405.5 996.7 L405.6 996.2 L405.7 995.8 L405.8 995.5 L405.8 995.0 L405.9 994.5 L406.0 994.2 L406.1 993.8 L406.2 993.2 L406.2 992.9 L406.3 992.5 L406.4 992.0 L406.5 991.6 L406.6 991.2 L406.7 990.8 L406.7 990.2 L406.8 990.0 L406.9 989.5 L407.0 989.0 L407.0 988.8 L407.1 988.2 L407.2 987.8 L407.3 987.5 L407.4 987.0 L407.4 986.5 L407.5 986.2 L407.6 985.8 L407.7 985.2 L407.8 984.9 L407.8 984.5 L407.9 984.0 L408.0 983.5 L408.0 983.2 L408.1 982.8 L408.2 982.2 L408.3 982.0 L408.4 981.5 L408.5 981.0 L408.5 980.8 L408.6 980.2 L408.7 979.8 L408.8 979.3 L408.8 979.0 L408.9 978.5 L408.9 978.0 L409.0 977.5 L409.0 977.2 L409.0 976.8 L409.0 976.2 L409.0 976.0 L408.9 975.5 L408.8 975.0 L408.8 974.7 L408.6 974.2 L408.5 974.0 L408.3 973.5 L408.2 973.2 L408.0 972.8 L407.9 972.5 L407.8 972.2 L407.6 971.8 L407.5 971.5 L407.3 971.0 L407.2 970.8 L407.0 970.2 L407.0 970.0 L406.9 969.5 L406.8 969.0 L406.8 968.6 L406.7 968.2 L406.7 967.8 L406.7 967.2 L406.8 967.0 L406.8 966.5 L406.9 966.0 L407.0 965.6 L407.1 965.2 L407.2 964.8 L407.4 964.5 L407.5 964.2 L407.7 963.8 L407.9 963.5 L408.0 963.2 L408.2 962.9 L408.5 962.6 L408.8 962.3 L409.0 962.0 L409.2 961.8 L409.5 961.5 L409.7 961.2 L410.0 961.0 L410.2 960.8 L410.5 960.6 L410.8 960.4 L411.1 960.2 L411.5 960.0 L411.8 959.8 L412.0 959.7 L412.5 959.5 L412.8 959.4 L413.2 959.2 L413.5 959.1 L414.0 959.0 L414.2 958.9 L414.8 958.8 L415.2 958.8 L415.5 958.7 L416.0 958.7 L416.5 958.7 L417.0 958.7 L417.5 958.7 L417.8 958.8 L418.2 958.8 L418.8 958.9 L419.2 959.0 L419.5 959.1 L420.0 959.2 L420.2 959.3 L420.7 959.5 L421.0 959.6 L421.2 959.8 L421.7 960.0 L422.0 960.2 L422.2 960.3 L422.5 960.5 L422.9 960.8 L423.2 961.0 L423.5 961.2 L423.7 961.5 L424.0 961.8 L424.2 962.0 L424.4 962.2 L424.6 962.5 L424.8 962.8 L425.0 963.0 L425.2 963.4 L425.5 963.8 L425.6 964.0 L425.8 964.4 L425.9 964.8 L426.0 965.0 L426.2 965.5 L426.2 965.8 L426.3 966.2 L426.4 966.8 L426.5 967.2 L426.5 967.8 L426.5 968.2 L426.4 968.8 L426.4 969.2 L426.3 969.8 L426.2 970.0 L426.1 970.5 L426.0 970.8 L425.8 971.2 L425.7 971.5 L425.5 971.9 L425.3 972.2 L425.2 972.5 L425.0 972.9 L424.8 973.2 L424.6 973.5 L424.5 973.8 L424.2 974.2 L424.1 974.5 L424.0 974.8 L423.8 975.1 L423.6 975.5 L423.4 975.8 L423.2 976.1 L423.1 976.5 L423.0 976.8 L422.8 977.2 L422.6 977.5 L422.5 977.9 L422.4 978.2 L422.2 978.7 L422.2 979.0 L422.1 979.5 L422.0 979.8 L421.9 980.2 L421.8 980.8 L421.7 981.0 L421.6 981.5 L421.5 982.0 L421.5 982.2 L421.4 982.8 L421.3 983.2 L421.2 983.5 L421.2 984.0 L421.1 984.5 L421.0 984.8 L420.9 985.2 L420.8 985.8 L420.8 986.2 L420.7 986.5 L420.6 987.0 L420.5 987.5 L420.5 987.8 L420.4 988.2 L420.3 988.8 L420.2 989.0 L420.1 989.5 L420.0 990.0 L420.0 990.2 L419.9 990.8 L419.8 991.2 L419.8 991.6 L419.7 992.0 L419.6 992.5 L419.5 992.9 L419.4 993.2 L419.4 993.8 L419.3 994.2 L419.2 994.5 L419.1 995.0 L419.0 995.5 L419.0 995.8 L418.9 996.2 L418.8 996.8 L418.7 997.0 L418.7 997.5 L418.6 998.0 L418.5 998.3 L418.4 998.8 L418.3 999.2 L418.2 999.7 L418.2 1000.0 L418.1 1000.5 L418.0 1001.0 L418.0 1001.2 L417.9 1001.8 L417.8 1002.2 L417.7 1002.5 L417.6 1003.0 L417.5 1003.5 L417.5 1003.8 L417.3 1004.2 L417.2 1004.5 L417.0 1005.0 L416.8 1005.2 L416.7 1005.5 L416.5 1005.8 L416.2 1006.1 L416.0 1006.4 L415.8 1006.7 L415.5 1006.9 L415.2 1007.1 L415.0 1007.3 L414.7 1007.5 L414.3 1007.8 L414.0 1007.9 L413.8 1008.0 L413.2 1008.2 L413.0 1008.3 L412.5 1008.4 L412.0 1008.5 L411.8 1008.5Z M376.8 1013.3 L376.2 1013.3 L375.8 1013.4 L375.2 1013.3 L374.8 1013.2 L374.5 1013.2 L374.0 1013.0 L373.8 1012.9 L373.5 1012.8 L373.1 1012.5 L372.8 1012.3 L372.5 1012.1 L372.2 1011.8 L372.0 1011.5 L371.8 1011.2 L371.6 1011.0 L371.5 1010.8 L371.2 1010.3 L371.1 1010.0 L371.0 1009.7 L370.9 1009.2 L370.8 1008.8 L370.7 1008.5 L370.7 1008.0 L370.7 1007.5 L370.8 1007.2 L370.8 1006.8 L370.9 1006.2 L371.0 1006.0 L371.2 1005.5 L371.4 1005.2 L371.5 1005.0 L371.8 1004.6 L372.0 1004.3 L372.2 1004.0 L372.5 1003.8 L372.8 1003.5 L373.0 1003.3 L373.2 1003.2 L373.6 1003.0 L374.0 1002.8 L374.2 1002.7 L374.8 1002.6 L375.0 1002.5 L375.5 1002.4 L376.0 1002.4 L376.5 1002.5 L376.8 1002.5 L377.2 1002.6 L377.6 1002.8 L378.0 1002.9 L378.2 1003.0 L378.6 1003.2 L379.0 1003.5 L379.2 1003.7 L379.5 1004.0 L379.8 1004.2 L380.0 1004.5 L380.2 1004.8 L380.3 1005.0 L380.5 1005.3 L380.7 1005.8 L380.8 1006.0 L381.0 1006.5 L381.0 1006.8 L381.1 1007.2 L381.1 1007.8 L381.1 1008.2 L381.0 1008.8 L381.0 1009.0 L380.8 1009.5 L380.7 1009.8 L380.5 1010.2 L380.4 1010.5 L380.2 1010.8 L380.0 1011.1 L379.8 1011.4 L379.5 1011.7 L379.2 1012.0 L379.0 1012.2 L378.8 1012.4 L378.5 1012.6 L378.2 1012.8 L377.8 1013.0 L377.5 1013.1 L377.0 1013.2 L376.8 1013.3Z M398.8 1004.5 L398.5 1004.5 L398.2 1004.6 L398.0 1004.6 L397.8 1004.6 L397.5 1004.6 L397.2 1004.6 L397.0 1004.5 L396.9 1004.5 L397.0 1004.5 L397.2 1004.5 L397.5 1004.4 L397.8 1004.4 L398.0 1004.4 L398.2 1004.4 L398.5 1004.4 L398.8 1004.5 L398.8 1004.5 L398.8 1004.5Z M388.8 1006.0 L388.2 1006.2 L387.8 1006.2 L387.3 1006.0 L387.2 1005.8 L387.2 1005.2 L387.4 1005.0 L387.8 1004.8 L388.2 1004.8 L388.8 1004.8 L389.2 1004.8 L389.8 1004.8 L390.2 1004.8 L390.8 1004.8 L391.2 1004.8 L391.8 1004.8 L392.2 1004.8 L392.8 1004.8 L393.0 1004.7 L393.5 1004.7 L394.0 1004.7 L394.5 1004.7 L395.0 1004.6 L395.5 1004.6 L396.0 1004.6 L396.5 1004.6 L396.5 1004.8 L396.0 1004.8 L395.5 1004.9 L395.0 1004.9 L394.8 1005.0 L394.2 1005.1 L393.8 1005.1 L393.2 1005.2 L393.0 1005.3 L392.5 1005.3 L392.0 1005.4 L391.5 1005.5 L391.2 1005.5 L390.8 1005.6 L390.2 1005.7 L390.0 1005.8 L389.5 1005.9 L389.0 1006.0 L388.8 1006.0Z M412.0 1008.0 L411.5 1008.1 L411.0 1008.1 L410.5 1008.0 L410.2 1008.0 L409.8 1007.9 L409.2 1007.8 L409.0 1007.7 L408.6 1007.5 L408.2 1007.4 L408.0 1007.2 L407.6 1007.0 L407.3 1006.8 L407.0 1006.5 L406.8 1006.3 L406.5 1006.1 L406.2 1005.8 L406.0 1005.5 L405.8 1005.2 L405.6 1005.0 L405.4 1004.8 L405.2 1004.5 L405.0 1004.0 L404.9 1003.8 L404.8 1003.2 L404.8 1002.8 L404.8 1002.2 L404.9 1001.8 L405.0 1001.2 L405.0 1001.0 L405.1 1000.5 L405.2 1000.1 L405.3 999.8 L405.5 999.2 L405.5 999.0 L405.6 998.5 L405.7 998.0 L405.8 997.8 L405.9 997.2 L406.0 996.8 L406.0 996.5 L406.1 996.0 L406.2 995.5 L406.3 995.2 L406.4 994.8 L406.5 994.2 L406.5 994.0 L406.6 993.5 L406.7 993.0 L406.8 992.8 L406.9 992.2 L406.9 991.8 L407.0 991.5 L407.1 991.0 L407.2 990.5 L407.2 990.1 L407.3 989.8 L407.4 989.2 L407.5 988.8 L407.6 988.5 L407.6 988.0 L407.7 987.5 L407.8 987.2 L407.9 986.8 L408.0 986.2 L408.0 986.0 L408.1 985.5 L408.2 985.0 L408.3 984.8 L408.3 984.2 L408.4 983.8 L408.5 983.4 L408.6 983.0 L408.7 982.5 L408.8 982.1 L408.8 981.8 L408.9 981.2 L409.0 980.8 L409.0 980.5 L409.1 980.0 L409.2 979.5 L409.2 979.2 L409.3 978.8 L409.4 978.2 L409.4 977.8 L409.5 977.2 L409.5 977.0 L409.5 976.5 L409.5 976.2 L409.5 975.8 L409.4 975.2 L409.3 974.8 L409.2 974.5 L409.0 974.0 L408.9 973.8 L408.8 973.3 L408.6 973.0 L408.5 972.7 L408.3 972.2 L408.2 972.0 L408.0 971.5 L407.9 971.2 L407.8 970.8 L407.7 970.5 L407.5 970.0 L407.5 969.8 L407.4 969.2 L407.3 968.8 L407.3 968.2 L407.3 967.8 L407.3 967.2 L407.3 966.8 L407.4 966.2 L407.5 965.9 L407.6 965.5 L407.8 965.1 L407.9 964.8 L408.0 964.5 L408.2 964.0 L408.4 963.8 L408.5 963.5 L408.8 963.1 L409.0 962.8 L409.2 962.5 L409.5 962.2 L409.7 962.0 L410.0 961.8 L410.2 961.5 L410.5 961.3 L410.8 961.1 L411.0 960.9 L411.2 960.7 L411.7 960.5 L412.0 960.3 L412.2 960.2 L412.6 960.0 L413.0 959.9 L413.3 959.8 L413.8 959.6 L414.1 959.5 L414.5 959.4 L415.0 959.3 L415.5 959.2 L415.8 959.2 L416.2 959.2 L416.8 959.2 L417.2 959.2 L417.7 959.2 L418.0 959.3 L418.5 959.4 L419.0 959.5 L419.2 959.5 L419.8 959.7 L420.0 959.8 L420.5 960.0 L420.8 960.1 L421.1 960.2 L421.5 960.5 L421.8 960.6 L422.0 960.8 L422.3 961.0 L422.7 961.2 L423.0 961.5 L423.2 961.8 L423.5 962.0 L423.7 962.2 L424.0 962.5 L424.2 962.8 L424.3 963.0 L424.5 963.2 L424.8 963.6 L425.0 964.0 L425.1 964.2 L425.2 964.6 L425.4 965.0 L425.5 965.2 L425.7 965.8 L425.8 966.1 L425.8 966.5 L425.9 967.0 L425.9 967.5 L425.9 968.0 L425.9 968.5 L425.8 969.0 L425.8 969.5 L425.7 969.8 L425.6 970.2 L425.5 970.5 L425.3 971.0 L425.2 971.2 L425.0 971.7 L424.9 972.0 L424.7 972.2 L424.5 972.7 L424.3 973.0 L424.2 973.2 L424.0 973.6 L423.8 974.0 L423.6 974.2 L423.5 974.5 L423.3 975.0 L423.1 975.2 L423.0 975.5 L422.8 976.0 L422.7 976.2 L422.5 976.6 L422.3 977.0 L422.2 977.2 L422.1 977.8 L422.0 978.0 L421.8 978.5 L421.7 978.8 L421.6 979.2 L421.5 979.8 L421.5 980.0 L421.3 980.5 L421.2 981.0 L421.2 981.2 L421.1 981.8 L421.0 982.2 L421.0 982.5 L420.9 983.0 L420.8 983.5 L420.7 983.8 L420.6 984.2 L420.5 984.8 L420.5 985.0 L420.4 985.5 L420.3 986.0 L420.2 986.3 L420.2 986.8 L420.1 987.2 L420.0 987.6 L419.9 988.0 L419.8 988.5 L419.8 989.0 L419.7 989.2 L419.6 989.8 L419.5 990.2 L419.5 990.5 L419.4 991.0 L419.3 991.5 L419.2 991.8 L419.2 992.2 L419.1 992.8 L419.0 993.0 L418.9 993.5 L418.8 994.0 L418.8 994.4 L418.7 994.8 L418.6 995.2 L418.5 995.7 L418.5 996.0 L418.4 996.5 L418.3 997.0 L418.2 997.2 L418.1 997.8 L418.0 998.2 L418.0 998.5 L417.9 999.0 L417.8 999.5 L417.8 999.8 L417.7 1000.2 L417.6 1000.8 L417.5 1001.2 L417.4 1001.5 L417.3 1002.0 L417.3 1002.5 L417.2 1002.8 L417.1 1003.2 L417.0 1003.7 L416.9 1004.0 L416.8 1004.4 L416.6 1004.8 L416.4 1005.0 L416.2 1005.3 L416.0 1005.7 L415.8 1006.0 L415.5 1006.2 L415.2 1006.5 L415.0 1006.7 L414.8 1006.9 L414.5 1007.1 L414.2 1007.2 L413.8 1007.5 L413.5 1007.6 L413.1 1007.8 L412.8 1007.9 L412.2 1008.0 L412.0 1008.0Z M376.0 1011.3 L375.7 1011.2 L375.2 1011.2 L374.8 1011.1 L374.5 1010.9 L374.2 1010.8 L373.8 1010.5 L373.6 1010.2 L373.4 1010.0 L373.2 1009.8 L373.0 1009.4 L372.8 1009.0 L372.8 1008.6 L372.7 1008.2 L372.7 1007.8 L372.7 1007.2 L372.8 1007.0 L373.0 1006.5 L373.1 1006.2 L373.2 1006.0 L373.5 1005.6 L373.8 1005.4 L374.0 1005.2 L374.2 1005.0 L374.7 1004.8 L375.0 1004.7 L375.5 1004.6 L376.0 1004.5 L376.5 1004.6 L376.9 1004.8 L377.2 1004.9 L377.5 1005.0 L377.8 1005.2 L378.0 1005.5 L378.3 1005.8 L378.5 1006.1 L378.7 1006.5 L378.8 1006.8 L378.9 1007.2 L379.0 1007.8 L379.0 1008.2 L378.9 1008.8 L378.8 1009.1 L378.6 1009.5 L378.5 1009.8 L378.2 1010.0 L378.0 1010.3 L377.8 1010.5 L377.5 1010.8 L377.0 1011.0 L376.8 1011.1 L376.2 1011.2 L376.0 1011.3Z M411.8 1007.5 L411.2 1007.5 L410.8 1007.5 L410.4 1007.5 L410.0 1007.4 L409.5 1007.3 L409.2 1007.2 L408.8 1007.0 L408.5 1006.9 L408.2 1006.7 L407.9 1006.5 L407.5 1006.2 L407.2 1006.0 L407.0 1005.8 L406.8 1005.5 L406.5 1005.2 L406.3 1005.0 L406.2 1004.8 L406.0 1004.4 L405.8 1004.0 L405.7 1003.8 L405.5 1003.2 L405.5 1003.0 L405.5 1002.5 L405.5 1002.0 L405.5 1001.7 L405.6 1001.2 L405.7 1000.8 L405.8 1000.4 L405.8 1000.0 L406.0 999.5 L406.0 999.2 L406.1 998.8 L406.2 998.2 L406.3 998.0 L406.4 997.5 L406.5 997.0 L406.5 996.8 L406.6 996.2 L406.7 995.8 L406.8 995.5 L406.9 995.0 L407.0 994.5 L407.0 994.2 L407.1 993.8 L407.2 993.2 L407.2 992.9 L407.3 992.5 L407.4 992.0 L407.5 991.6 L407.6 991.2 L407.7 990.8 L407.8 990.3 L407.8 990.0 L407.9 989.5 L408.0 989.0 L408.0 988.8 L408.1 988.2 L408.2 987.8 L408.3 987.5 L408.4 987.0 L408.4 986.5 L408.5 986.2 L408.6 985.8 L408.7 985.2 L408.8 984.9 L408.8 984.5 L408.9 984.0 L409.0 983.5 L409.0 983.2 L409.1 982.8 L409.2 982.2 L409.3 982.0 L409.4 981.5 L409.5 981.0 L409.5 980.8 L409.6 980.2 L409.7 979.8 L409.8 979.3 L409.8 979.0 L409.9 978.5 L409.9 978.0 L410.0 977.5 L410.0 977.2 L410.0 976.8 L410.0 976.2 L410.0 975.8 L410.0 975.5 L409.9 975.0 L409.8 974.5 L409.7 974.2 L409.5 973.8 L409.4 973.5 L409.2 973.0 L409.1 972.8 L409.0 972.4 L408.8 972.0 L408.7 971.8 L408.5 971.2 L408.4 971.0 L408.3 970.5 L408.2 970.2 L408.1 969.8 L408.0 969.4 L407.9 969.0 L407.9 968.5 L407.9 968.0 L407.9 967.5 L407.9 967.0 L408.0 966.5 L408.0 966.2 L408.1 965.8 L408.2 965.4 L408.4 965.0 L408.5 964.8 L408.8 964.3 L408.9 964.0 L409.0 963.8 L409.2 963.4 L409.5 963.1 L409.8 962.8 L410.0 962.5 L410.2 962.3 L410.5 962.0 L410.8 961.8 L411.0 961.6 L411.2 961.4 L411.5 961.2 L411.9 961.0 L412.2 960.8 L412.5 960.7 L412.9 960.5 L413.2 960.3 L413.5 960.2 L414.0 960.1 L414.4 960.0 L414.8 959.9 L415.2 959.8 L415.8 959.8 L416.1 959.8 L416.5 959.7 L417.0 959.7 L417.2 959.8 L417.8 959.8 L418.2 959.9 L418.8 960.0 L419.0 960.0 L419.5 960.2 L419.8 960.3 L420.2 960.5 L420.5 960.6 L420.8 960.8 L421.2 961.0 L421.5 961.1 L421.8 961.3 L422.1 961.5 L422.4 961.8 L422.7 962.0 L422.9 962.2 L423.2 962.5 L423.4 962.8 L423.6 963.0 L423.8 963.2 L424.0 963.5 L424.2 963.9 L424.4 964.2 L424.6 964.5 L424.8 964.9 L424.9 965.2 L425.0 965.6 L425.1 966.0 L425.2 966.5 L425.3 966.8 L425.3 967.2 L425.3 967.8 L425.3 968.2 L425.3 968.8 L425.2 969.0 L425.2 969.5 L425.0 970.0 L425.0 970.2 L424.8 970.8 L424.7 971.0 L424.5 971.4 L424.4 971.8 L424.2 972.0 L424.0 972.4 L423.8 972.8 L423.7 973.0 L423.5 973.4 L423.3 973.8 L423.2 974.0 L423.0 974.3 L422.8 974.8 L422.7 975.0 L422.5 975.4 L422.3 975.8 L422.2 976.0 L422.0 976.5 L421.9 976.8 L421.8 977.1 L421.6 977.5 L421.5 977.8 L421.4 978.2 L421.2 978.6 L421.2 979.0 L421.0 979.5 L421.0 979.8 L420.9 980.2 L420.8 980.8 L420.7 981.0 L420.6 981.5 L420.5 982.0 L420.5 982.2 L420.4 982.8 L420.3 983.2 L420.2 983.5 L420.2 984.0 L420.1 984.5 L420.0 984.8 L419.9 985.2 L419.8 985.8 L419.8 986.2 L419.7 986.5 L419.6 987.0 L419.5 987.5 L419.5 987.8 L419.4 988.2 L419.3 988.8 L419.2 989.0 L419.1 989.5 L419.0 990.0 L419.0 990.2 L418.9 990.8 L418.8 991.2 L418.8 991.6 L418.7 992.0 L418.6 992.5 L418.5 992.9 L418.4 993.2 L418.4 993.8 L418.3 994.2 L418.2 994.5 L418.1 995.0 L418.0 995.5 L418.0 995.8 L417.9 996.2 L417.8 996.8 L417.7 997.0 L417.7 997.5 L417.6 998.0 L417.5 998.3 L417.4 998.8 L417.3 999.2 L417.2 999.7 L417.2 1000.0 L417.1 1000.5 L417.0 1001.0 L417.0 1001.2 L416.9 1001.8 L416.8 1002.2 L416.7 1002.5 L416.6 1003.0 L416.5 1003.5 L416.4 1003.8 L416.3 1004.2 L416.1 1004.5 L416.0 1004.8 L415.8 1005.1 L415.5 1005.5 L415.3 1005.8 L415.0 1006.0 L414.8 1006.2 L414.5 1006.4 L414.2 1006.6 L414.0 1006.8 L413.6 1007.0 L413.2 1007.1 L413.0 1007.2 L412.5 1007.4 L412.0 1007.5 L411.8 1007.5Z M376.2 1009.1 L376.0 1009.1 L375.8 1009.2 L375.5 1009.1 L375.2 1009.0 L375.2 1009.0 L375.0 1008.8 L374.9 1008.8 L374.8 1008.5 L374.8 1008.4 L374.7 1008.2 L374.6 1008.0 L374.6 1007.8 L374.7 1007.5 L374.8 1007.4 L374.8 1007.2 L375.0 1007.0 L375.0 1007.0 L375.2 1006.8 L375.4 1006.8 L375.5 1006.7 L375.8 1006.6 L376.0 1006.7 L376.2 1006.7 L376.3 1006.8 L376.5 1006.9 L376.6 1007.0 L376.8 1007.2 L376.8 1007.2 L376.9 1007.5 L377.0 1007.8 L377.0 1008.0 L376.9 1008.2 L376.8 1008.5 L376.8 1008.6 L376.7 1008.8 L376.5 1008.9 L376.4 1009.0 L376.2 1009.1Z M412.5 1006.8 L412.0 1006.9 L411.5 1007.0 L411.0 1007.0 L410.5 1006.9 L410.0 1006.8 L409.7 1006.8 L409.2 1006.6 L409.0 1006.5 L408.5 1006.2 L408.2 1006.1 L408.0 1005.9 L407.8 1005.7 L407.5 1005.4 L407.2 1005.2 L407.0 1004.8 L406.8 1004.5 L406.6 1004.2 L406.5 1004.0 L406.3 1003.5 L406.2 1003.2 L406.1 1002.8 L406.1 1002.2 L406.1 1001.8 L406.2 1001.2 L406.2 1001.0 L406.3 1000.5 L406.5 1000.0 L406.5 999.8 L406.6 999.2 L406.7 998.8 L406.8 998.5 L406.9 998.0 L407.0 997.5 L407.0 997.2 L407.1 996.8 L407.2 996.2 L407.2 996.0 L407.3 995.5 L407.4 995.0 L407.5 994.7 L407.6 994.2 L407.7 993.8 L407.8 993.3 L407.8 993.0 L407.9 992.5 L408.0 992.0 L408.0 991.8 L408.1 991.2 L408.2 990.8 L408.3 990.5 L408.4 990.0 L408.5 989.5 L408.5 989.2 L408.6 988.8 L408.7 988.2 L408.8 988.0 L408.8 987.5 L408.9 987.0 L409.0 986.6 L409.1 986.2 L409.2 985.8 L409.2 985.3 L409.3 985.0 L409.4 984.5 L409.5 984.0 L409.5 983.8 L409.6 983.2 L409.7 982.8 L409.8 982.5 L409.8 982.0 L409.9 981.5 L410.0 981.2 L410.1 980.8 L410.2 980.2 L410.2 979.8 L410.3 979.5 L410.4 979.0 L410.4 978.5 L410.5 978.1 L410.5 977.8 L410.6 977.2 L410.6 976.8 L410.6 976.2 L410.6 975.8 L410.5 975.2 L410.5 975.0 L410.4 974.5 L410.2 974.1 L410.1 973.8 L410.0 973.4 L409.9 973.0 L409.8 972.7 L409.6 972.2 L409.5 972.0 L409.3 971.5 L409.2 971.2 L409.0 970.8 L408.9 970.5 L408.8 970.0 L408.7 969.8 L408.6 969.2 L408.5 968.8 L408.5 968.3 L408.5 968.0 L408.5 967.5 L408.5 967.2 L408.6 966.8 L408.7 966.2 L408.8 965.9 L408.9 965.5 L409.0 965.2 L409.2 964.8 L409.3 964.5 L409.5 964.2 L409.8 963.8 L410.0 963.5 L410.2 963.2 L410.4 963.0 L410.6 962.8 L410.9 962.5 L411.2 962.2 L411.5 962.0 L411.8 961.8 L412.0 961.6 L412.2 961.5 L412.7 961.2 L413.0 961.1 L413.2 961.0 L413.8 960.8 L414.0 960.7 L414.5 960.6 L414.8 960.5 L415.2 960.4 L415.8 960.4 L416.2 960.3 L416.8 960.3 L417.2 960.3 L417.8 960.4 L418.2 960.5 L418.5 960.5 L419.0 960.7 L419.3 960.8 L419.8 960.9 L420.0 961.0 L420.5 961.2 L420.8 961.4 L421.0 961.5 L421.4 961.8 L421.7 962.0 L422.0 962.2 L422.2 962.4 L422.5 962.7 L422.8 962.9 L423.0 963.2 L423.2 963.5 L423.4 963.8 L423.6 964.0 L423.8 964.3 L424.0 964.8 L424.1 965.0 L424.2 965.3 L424.4 965.8 L424.5 966.1 L424.6 966.5 L424.7 967.0 L424.7 967.5 L424.7 968.0 L424.7 968.5 L424.6 969.0 L424.5 969.5 L424.5 969.8 L424.3 970.2 L424.2 970.5 L424.0 971.0 L423.9 971.2 L423.8 971.6 L423.5 972.0 L423.4 972.2 L423.2 972.6 L423.0 973.0 L422.9 973.2 L422.8 973.5 L422.5 974.0 L422.4 974.2 L422.2 974.6 L422.1 975.0 L422.0 975.2 L421.8 975.7 L421.6 976.0 L421.5 976.2 L421.3 976.8 L421.2 977.0 L421.0 977.5 L420.9 977.8 L420.8 978.2 L420.7 978.5 L420.6 979.0 L420.5 979.3 L420.4 979.8 L420.3 980.2 L420.2 980.5 L420.2 981.0 L420.1 981.5 L420.0 981.8 L419.9 982.2 L419.8 982.8 L419.8 983.1 L419.7 983.5 L419.6 984.0 L419.5 984.4 L419.4 984.8 L419.4 985.2 L419.3 985.8 L419.2 986.0 L419.1 986.5 L419.0 987.0 L419.0 987.2 L418.9 987.8 L418.8 988.2 L418.7 988.5 L418.7 989.0 L418.6 989.5 L418.5 989.8 L418.4 990.2 L418.3 990.8 L418.2 991.2 L418.2 991.5 L418.1 992.0 L418.0 992.5 L418.0 992.8 L417.9 993.2 L417.8 993.8 L417.7 994.0 L417.6 994.5 L417.5 995.0 L417.5 995.3 L417.4 995.8 L417.3 996.2 L417.2 996.6 L417.2 997.0 L417.1 997.5 L417.0 998.0 L416.9 998.2 L416.9 998.8 L416.8 999.2 L416.7 999.5 L416.6 1000.0 L416.5 1000.5 L416.5 1000.8 L416.4 1001.2 L416.3 1001.8 L416.2 1002.0 L416.2 1002.5 L416.1 1003.0 L416.0 1003.3 L415.9 1003.8 L415.7 1004.0 L415.5 1004.5 L415.3 1004.8 L415.2 1005.0 L415.0 1005.2 L414.7 1005.5 L414.5 1005.8 L414.2 1006.0 L413.8 1006.2 L413.5 1006.4 L413.2 1006.5 L412.8 1006.7 L412.5 1006.8Z M412.0 1006.3 L411.5 1006.3 L411.0 1006.3 L410.5 1006.3 L410.2 1006.2 L409.8 1006.1 L409.5 1006.0 L409.0 1005.8 L408.8 1005.6 L408.5 1005.4 L408.2 1005.2 L408.0 1005.0 L407.8 1004.7 L407.5 1004.4 L407.3 1004.0 L407.1 1003.8 L407.0 1003.4 L406.9 1003.0 L406.8 1002.5 L406.8 1002.0 L406.8 1001.5 L406.9 1001.0 L407.0 1000.6 L407.1 1000.2 L407.2 999.8 L407.2 999.4 L407.3 999.0 L407.4 998.5 L407.5 998.1 L407.6 997.8 L407.7 997.2 L407.8 996.8 L407.8 996.5 L407.9 996.0 L408.0 995.5 L408.0 995.2 L408.1 994.8 L408.2 994.2 L408.3 994.0 L408.4 993.5 L408.5 993.0 L408.5 992.8 L408.6 992.2 L408.7 991.8 L408.8 991.4 L408.8 991.0 L408.9 990.5 L409.0 990.1 L409.1 989.8 L409.2 989.2 L409.2 988.8 L409.3 988.5 L409.4 988.0 L409.5 987.5 L409.5 987.2 L409.6 986.8 L409.7 986.2 L409.8 986.0 L409.8 985.5 L409.9 985.0 L410.0 984.7 L410.1 984.2 L410.2 983.8 L410.2 983.3 L410.3 983.0 L410.4 982.5 L410.5 982.0 L410.5 981.8 L410.6 981.2 L410.7 980.8 L410.8 980.5 L410.9 980.0 L410.9 979.5 L411.0 979.1 L411.1 978.8 L411.1 978.2 L411.2 977.8 L411.2 977.2 L411.2 976.8 L411.3 976.5 L411.2 976.2 L411.2 975.8 L411.2 975.2 L411.1 974.8 L411.0 974.5 L410.9 974.0 L410.8 973.6 L410.6 973.2 L410.5 972.9 L410.4 972.5 L410.2 972.2 L410.1 971.8 L410.0 971.5 L409.8 971.0 L409.7 970.8 L409.5 970.2 L409.5 970.0 L409.3 969.5 L409.3 969.0 L409.2 968.8 L409.2 968.2 L409.2 967.8 L409.2 967.2 L409.2 966.8 L409.3 966.5 L409.4 966.0 L409.5 965.8 L409.7 965.2 L409.8 965.0 L410.0 964.7 L410.2 964.3 L410.4 964.0 L410.6 963.8 L410.8 963.5 L411.1 963.2 L411.3 963.0 L411.6 962.8 L411.9 962.5 L412.2 962.3 L412.5 962.1 L412.8 961.9 L413.1 961.8 L413.5 961.6 L413.8 961.5 L414.2 961.3 L414.5 961.2 L415.0 961.1 L415.5 961.0 L415.8 961.0 L416.2 961.0 L416.8 961.0 L417.2 961.0 L417.5 961.0 L418.0 961.1 L418.5 961.2 L418.8 961.2 L419.2 961.4 L419.5 961.5 L420.0 961.7 L420.2 961.8 L420.5 962.0 L420.9 962.2 L421.2 962.5 L421.5 962.7 L421.8 962.9 L422.0 963.1 L422.2 963.4 L422.5 963.7 L422.8 964.0 L422.9 964.2 L423.1 964.5 L423.2 964.8 L423.5 965.2 L423.6 965.5 L423.8 966.0 L423.8 966.2 L423.9 966.8 L424.0 967.2 L424.0 967.5 L424.0 968.0 L424.0 968.4 L424.0 968.8 L423.9 969.2 L423.8 969.8 L423.7 970.0 L423.5 970.5 L423.4 970.8 L423.2 971.1 L423.1 971.5 L422.9 971.8 L422.8 972.1 L422.6 972.5 L422.4 972.8 L422.2 973.1 L422.1 973.5 L421.9 973.8 L421.8 974.2 L421.6 974.5 L421.5 974.8 L421.3 975.2 L421.2 975.5 L421.0 975.9 L420.8 976.2 L420.7 976.5 L420.5 977.0 L420.4 977.2 L420.3 977.8 L420.2 978.0 L420.1 978.5 L420.0 978.8 L419.9 979.2 L419.8 979.8 L419.7 980.0 L419.6 980.5 L419.5 981.0 L419.5 981.2 L419.4 981.8 L419.3 982.2 L419.2 982.5 L419.1 983.0 L419.0 983.5 L419.0 983.8 L418.9 984.2 L418.8 984.8 L418.8 985.0 L418.7 985.5 L418.6 986.0 L418.5 986.4 L418.4 986.8 L418.3 987.2 L418.2 987.7 L418.2 988.0 L418.1 988.5 L418.0 989.0 L418.0 989.2 L417.9 989.8 L417.8 990.2 L417.7 990.5 L417.6 991.0 L417.6 991.5 L417.5 991.8 L417.4 992.2 L417.3 992.8 L417.2 993.1 L417.2 993.5 L417.1 994.0 L417.0 994.5 L416.9 994.8 L416.9 995.2 L416.8 995.8 L416.7 996.0 L416.6 996.5 L416.5 997.0 L416.5 997.2 L416.4 997.8 L416.3 998.2 L416.2 998.5 L416.2 999.0 L416.1 999.5 L416.0 999.9 L415.9 1000.2 L415.8 1000.8 L415.8 1001.2 L415.7 1001.5 L415.6 1002.0 L415.5 1002.5 L415.5 1002.8 L415.4 1003.2 L415.2 1003.5 L415.0 1004.0 L414.9 1004.2 L414.7 1004.5 L414.5 1004.8 L414.2 1005.1 L414.0 1005.3 L413.8 1005.5 L413.4 1005.8 L413.0 1005.9 L412.8 1006.1 L412.2 1006.2 L412.0 1006.3Z M412.0 1005.5 L411.5 1005.6 L411.0 1005.6 L410.5 1005.5 L410.2 1005.5 L409.8 1005.3 L409.5 1005.2 L409.2 1005.0 L408.8 1004.8 L408.6 1004.5 L408.4 1004.2 L408.2 1004.0 L408.0 1003.7 L407.8 1003.2 L407.7 1003.0 L407.6 1002.5 L407.6 1002.0 L407.6 1001.5 L407.7 1001.0 L407.8 1000.7 L407.8 1000.2 L407.9 999.8 L408.0 999.5 L408.1 999.0 L408.2 998.5 L408.2 998.2 L408.3 997.8 L408.4 997.2 L408.5 996.8 L408.6 996.5 L408.7 996.0 L408.8 995.5 L408.8 995.2 L408.9 994.8 L409.0 994.2 L409.0 994.0 L409.1 993.5 L409.2 993.0 L409.3 992.8 L409.4 992.2 L409.4 991.8 L409.5 991.5 L409.6 991.0 L409.7 990.5 L409.8 990.1 L409.8 989.8 L409.9 989.2 L410.0 988.8 L410.1 988.5 L410.1 988.0 L410.2 987.5 L410.3 987.2 L410.4 986.8 L410.5 986.2 L410.5 986.0 L410.6 985.5 L410.7 985.0 L410.8 984.7 L410.8 984.2 L410.9 983.8 L411.0 983.4 L411.1 983.0 L411.2 982.5 L411.2 982.0 L411.3 981.8 L411.4 981.2 L411.5 980.8 L411.5 980.5 L411.6 980.0 L411.7 979.5 L411.8 979.2 L411.8 978.8 L411.9 978.2 L411.9 977.8 L412.0 977.2 L412.0 976.8 L412.0 976.2 L412.0 975.8 L411.9 975.2 L411.8 974.8 L411.7 974.5 L411.6 974.0 L411.5 973.7 L411.4 973.2 L411.2 972.9 L411.1 972.5 L411.0 972.2 L410.8 971.8 L410.8 971.5 L410.6 971.0 L410.5 970.8 L410.3 970.2 L410.2 970.0 L410.1 969.5 L410.0 969.0 L410.0 968.8 L409.9 968.2 L409.9 967.8 L410.0 967.2 L410.0 966.9 L410.1 966.5 L410.2 966.0 L410.3 965.8 L410.5 965.3 L410.7 965.0 L410.8 964.8 L411.0 964.5 L411.2 964.1 L411.5 963.8 L411.8 963.6 L412.0 963.4 L412.2 963.1 L412.5 963.0 L412.8 962.8 L413.2 962.5 L413.5 962.4 L413.8 962.2 L414.2 962.0 L414.5 962.0 L415.0 961.8 L415.4 961.8 L415.8 961.7 L416.2 961.7 L416.8 961.7 L417.2 961.7 L417.8 961.7 L418.0 961.8 L418.5 961.9 L418.8 962.0 L419.2 962.2 L419.5 962.3 L420.0 962.5 L420.2 962.7 L420.5 962.8 L420.8 963.0 L421.1 963.2 L421.4 963.5 L421.6 963.8 L421.8 964.0 L422.0 964.2 L422.2 964.5 L422.5 964.9 L422.7 965.2 L422.8 965.5 L423.0 966.0 L423.0 966.2 L423.2 966.8 L423.2 967.2 L423.3 967.5 L423.3 968.0 L423.2 968.3 L423.2 968.8 L423.1 969.2 L423.0 969.7 L422.9 970.0 L422.8 970.4 L422.6 970.8 L422.5 971.0 L422.3 971.5 L422.1 971.8 L422.0 972.0 L421.8 972.5 L421.6 972.8 L421.5 973.0 L421.3 973.5 L421.2 973.8 L421.0 974.2 L420.9 974.5 L420.8 974.8 L420.5 975.2 L420.4 975.5 L420.2 975.9 L420.1 976.2 L420.0 976.5 L419.8 977.0 L419.7 977.2 L419.5 977.8 L419.4 978.0 L419.3 978.5 L419.2 978.8 L419.1 979.2 L419.0 979.8 L418.9 980.0 L418.8 980.5 L418.8 981.0 L418.7 981.2 L418.6 981.8 L418.5 982.2 L418.5 982.5 L418.4 983.0 L418.3 983.5 L418.2 983.8 L418.1 984.2 L418.0 984.8 L418.0 985.0 L417.9 985.5 L417.8 986.0 L417.8 986.3 L417.7 986.8 L417.6 987.2 L417.5 987.7 L417.4 988.0 L417.3 988.5 L417.3 989.0 L417.2 989.2 L417.1 989.8 L417.0 990.2 L417.0 990.5 L416.9 991.0 L416.8 991.5 L416.7 991.8 L416.7 992.2 L416.6 992.8 L416.5 993.1 L416.4 993.5 L416.3 994.0 L416.2 994.4 L416.2 994.8 L416.1 995.2 L416.0 995.8 L416.0 996.0 L415.9 996.5 L415.8 997.0 L415.7 997.2 L415.6 997.8 L415.5 998.2 L415.5 998.5 L415.4 999.0 L415.3 999.5 L415.2 999.8 L415.2 1000.2 L415.1 1000.8 L415.0 1001.2 L414.9 1001.5 L414.9 1002.0 L414.8 1002.5 L414.7 1002.8 L414.6 1003.2 L414.5 1003.5 L414.2 1003.9 L414.0 1004.2 L413.8 1004.5 L413.5 1004.8 L413.2 1004.9 L413.0 1005.1 L412.7 1005.2 L412.2 1005.4 L412.0 1005.5Z M412.0 1004.5 L411.5 1004.6 L411.0 1004.6 L410.5 1004.6 L410.2 1004.5 L409.8 1004.2 L409.5 1004.0 L409.2 1003.8 L409.0 1003.5 L408.8 1003.2 L408.7 1003.0 L408.6 1002.5 L408.5 1002.0 L408.6 1001.5 L408.7 1001.0 L408.8 1000.6 L408.8 1000.2 L408.9 999.8 L409.0 999.3 L409.1 999.0 L409.2 998.5 L409.2 998.0 L409.3 997.8 L409.4 997.2 L409.5 996.8 L409.5 996.5 L409.6 996.0 L409.7 995.5 L409.8 995.2 L409.9 994.8 L409.9 994.2 L410.0 994.0 L410.1 993.5 L410.2 993.0 L410.2 992.6 L410.3 992.2 L410.4 991.8 L410.5 991.3 L410.6 991.0 L410.6 990.5 L410.7 990.0 L410.8 989.8 L410.9 989.2 L411.0 988.8 L411.0 988.5 L411.1 988.0 L411.2 987.5 L411.2 987.2 L411.3 986.8 L411.4 986.2 L411.5 985.9 L411.6 985.5 L411.7 985.0 L411.8 984.5 L411.8 984.2 L411.9 983.8 L412.0 983.2 L412.0 983.0 L412.1 982.5 L412.2 982.0 L412.3 981.8 L412.4 981.2 L412.4 980.8 L412.5 980.4 L412.6 980.0 L412.7 979.5 L412.7 979.0 L412.8 978.8 L412.8 978.2 L412.9 977.8 L412.9 977.2 L412.9 976.8 L412.9 976.2 L412.8 975.8 L412.8 975.2 L412.7 975.0 L412.6 974.5 L412.5 974.2 L412.4 973.8 L412.2 973.4 L412.1 973.0 L412.0 972.6 L411.9 972.2 L411.8 971.8 L411.6 971.5 L411.5 971.2 L411.3 970.8 L411.2 970.5 L411.1 970.0 L411.0 969.7 L410.9 969.2 L410.8 968.8 L410.8 968.2 L410.8 967.8 L410.8 967.2 L410.9 966.8 L411.0 966.4 L411.1 966.0 L411.2 965.7 L411.5 965.2 L411.6 965.0 L411.8 964.8 L412.0 964.5 L412.3 964.2 L412.5 964.0 L412.8 963.8 L413.1 963.5 L413.5 963.3 L413.8 963.1 L414.0 963.0 L414.5 962.8 L414.8 962.7 L415.2 962.6 L415.8 962.5 L416.0 962.5 L416.5 962.4 L417.0 962.5 L417.4 962.5 L417.8 962.5 L418.2 962.7 L418.5 962.8 L419.0 962.9 L419.2 963.0 L419.7 963.2 L420.0 963.5 L420.2 963.6 L420.5 963.8 L420.8 964.1 L421.0 964.3 L421.2 964.6 L421.5 964.9 L421.7 965.2 L421.8 965.5 L422.0 965.8 L422.2 966.2 L422.2 966.6 L422.3 967.0 L422.4 967.5 L422.4 968.0 L422.4 968.5 L422.3 969.0 L422.2 969.3 L422.1 969.8 L422.0 970.1 L421.8 970.5 L421.7 970.8 L421.5 971.2 L421.4 971.5 L421.2 971.8 L421.0 972.2 L420.9 972.5 L420.7 972.8 L420.5 973.2 L420.4 973.5 L420.2 973.9 L420.1 974.2 L420.0 974.5 L419.8 975.0 L419.7 975.2 L419.5 975.6 L419.3 976.0 L419.2 976.2 L419.0 976.6 L418.8 977.0 L418.7 977.2 L418.6 977.8 L418.5 978.0 L418.3 978.5 L418.2 978.9 L418.2 979.2 L418.0 979.8 L418.0 980.0 L417.9 980.5 L417.8 981.0 L417.7 981.2 L417.6 981.8 L417.5 982.2 L417.5 982.5 L417.4 983.0 L417.3 983.5 L417.2 983.8 L417.2 984.2 L417.1 984.8 L417.0 985.2 L416.9 985.5 L416.8 986.0 L416.8 986.5 L416.7 986.8 L416.6 987.2 L416.5 987.8 L416.5 988.0 L416.4 988.5 L416.3 989.0 L416.2 989.2 L416.2 989.8 L416.1 990.2 L416.0 990.6 L415.9 991.0 L415.8 991.5 L415.8 991.9 L415.7 992.2 L415.6 992.8 L415.5 993.2 L415.5 993.5 L415.4 994.0 L415.3 994.5 L415.2 994.8 L415.1 995.2 L415.0 995.8 L415.0 996.0 L414.9 996.5 L414.8 997.0 L414.8 997.3 L414.7 997.8 L414.6 998.2 L414.5 998.7 L414.4 999.0 L414.3 999.5 L414.3 1000.0 L414.2 1000.2 L414.1 1000.8 L414.0 1001.2 L414.0 1001.5 L413.9 1002.0 L413.8 1002.5 L413.7 1002.8 L413.5 1003.2 L413.4 1003.5 L413.2 1003.8 L412.9 1004.0 L412.6 1004.2 L412.2 1004.4 L412.0 1004.5Z M411.5 1003.0 L411.0 1003.0 L410.8 1002.9 L410.5 1002.8 L410.2 1002.5 L410.1 1002.0 L410.2 1001.5 L410.3 1001.2 L410.4 1000.8 L410.5 1000.2 L410.5 1000.0 L410.6 999.5 L410.7 999.0 L410.8 998.7 L410.8 998.2 L410.9 997.8 L411.0 997.4 L411.1 997.0 L411.2 996.5 L411.2 996.0 L411.3 995.8 L411.4 995.2 L411.5 994.8 L411.5 994.5 L411.6 994.0 L411.7 993.5 L411.8 993.2 L411.9 992.8 L412.0 992.2 L412.0 992.0 L412.1 991.5 L412.2 991.0 L412.2 990.7 L412.3 990.2 L412.4 989.8 L412.5 989.3 L412.6 989.0 L412.7 988.5 L412.7 988.0 L412.8 987.8 L412.9 987.2 L413.0 986.8 L413.0 986.5 L413.1 986.0 L413.2 985.5 L413.3 985.2 L413.4 984.8 L413.4 984.2 L413.5 983.9 L413.6 983.5 L413.7 983.0 L413.8 982.6 L413.8 982.2 L413.9 981.8 L414.0 981.2 L414.0 981.0 L414.1 980.5 L414.2 980.0 L414.2 979.5 L414.3 979.2 L414.3 978.8 L414.4 978.2 L414.4 977.8 L414.3 977.2 L414.3 976.8 L414.2 976.5 L414.1 976.0 L414.0 975.5 L413.9 975.2 L413.8 974.8 L413.7 974.5 L413.5 974.0 L413.4 973.8 L413.3 973.2 L413.2 973.0 L413.0 972.5 L412.9 972.2 L412.8 971.8 L412.7 971.5 L412.5 971.1 L412.4 970.8 L412.2 970.4 L412.1 970.0 L412.0 969.6 L411.9 969.2 L411.8 968.8 L411.8 968.2 L411.8 967.8 L411.8 967.2 L411.9 966.8 L412.0 966.5 L412.2 966.0 L412.3 965.8 L412.5 965.5 L412.8 965.2 L413.0 964.9 L413.2 964.6 L413.5 964.4 L413.8 964.2 L414.1 964.0 L414.5 963.8 L414.8 963.7 L415.2 963.6 L415.5 963.5 L416.0 963.4 L416.5 963.4 L417.0 963.4 L417.5 963.5 L417.8 963.5 L418.2 963.6 L418.5 963.8 L419.0 964.0 L419.2 964.1 L419.5 964.3 L419.8 964.5 L420.1 964.8 L420.3 965.0 L420.5 965.2 L420.8 965.6 L421.0 966.0 L421.1 966.2 L421.2 966.7 L421.3 967.0 L421.4 967.5 L421.4 968.0 L421.4 968.5 L421.3 969.0 L421.2 969.2 L421.1 969.8 L421.0 970.0 L420.8 970.5 L420.7 970.8 L420.5 971.0 L420.3 971.5 L420.1 971.8 L420.0 972.0 L419.8 972.5 L419.6 972.8 L419.5 973.1 L419.3 973.5 L419.2 973.8 L419.0 974.2 L418.9 974.5 L418.8 974.8 L418.5 975.2 L418.3 975.5 L418.2 975.8 L418.0 976.0 L417.8 976.4 L417.6 976.8 L417.4 977.0 L417.2 977.4 L417.1 977.8 L417.0 978.0 L416.8 978.5 L416.7 978.8 L416.6 979.2 L416.5 979.5 L416.4 980.0 L416.3 980.5 L416.2 980.8 L416.1 981.2 L416.0 981.8 L416.0 982.0 L415.9 982.5 L415.8 983.0 L415.7 983.2 L415.6 983.8 L415.5 984.2 L415.5 984.5 L415.4 985.0 L415.3 985.5 L415.2 985.8 L415.2 986.2 L415.1 986.8 L415.0 987.1 L414.9 987.5 L414.8 988.0 L414.8 988.5 L414.7 988.8 L414.6 989.2 L414.5 989.8 L414.5 990.0 L414.4 990.5 L414.3 991.0 L414.2 991.2 L414.1 991.8 L414.0 992.2 L414.0 992.5 L413.9 993.0 L413.8 993.5 L413.8 993.9 L413.7 994.2 L413.6 994.8 L413.5 995.2 L413.4 995.5 L413.4 996.0 L413.3 996.5 L413.2 996.8 L413.1 997.2 L413.0 997.8 L413.0 998.0 L412.9 998.5 L412.8 999.0 L412.8 999.3 L412.7 999.8 L412.6 1000.2 L412.5 1000.7 L412.4 1001.0 L412.3 1001.5 L412.3 1002.0 L412.2 1002.2 L412.0 1002.7 L411.8 1002.9 L411.5 1003.0Z M416.5 974.5 L416.0 974.5 L415.8 974.4 L415.5 974.2 L415.2 973.9 L415.0 973.5 L414.9 973.2 L414.8 972.9 L414.6 972.5 L414.5 972.2 L414.2 971.8 L414.1 971.5 L414.0 971.2 L413.8 970.8 L413.6 970.5 L413.5 970.2 L413.3 969.8 L413.2 969.5 L413.1 969.0 L413.0 968.5 L413.0 968.1 L413.0 968.0 L413.0 967.5 L413.2 967.0 L413.2 966.7 L413.5 966.2 L413.7 966.0 L413.9 965.8 L414.1 965.5 L414.4 965.2 L414.8 965.0 L415.0 964.9 L415.4 964.8 L415.8 964.6 L416.2 964.6 L416.8 964.6 L417.2 964.6 L417.8 964.7 L418.0 964.8 L418.4 965.0 L418.8 965.2 L419.0 965.4 L419.2 965.7 L419.5 966.0 L419.7 966.2 L419.8 966.5 L420.0 966.9 L420.1 967.2 L420.2 967.8 L420.2 968.2 L420.1 968.8 L420.0 969.1 L419.9 969.5 L419.8 969.8 L419.5 970.2 L419.4 970.5 L419.2 970.8 L419.0 971.2 L418.8 971.5 L418.6 971.8 L418.5 972.0 L418.2 972.4 L418.0 972.8 L417.9 973.0 L417.7 973.2 L417.5 973.6 L417.2 974.0 L417.0 974.2 L416.8 974.4 L416.5 974.5Z M417.0 969.8 L416.5 969.9 L416.0 969.8 L415.8 969.6 L415.5 969.4 L415.2 969.0 L415.1 968.8 L415.0 968.2 L415.1 967.8 L415.2 967.3 L415.5 967.0 L415.8 966.8 L416.0 966.7 L416.5 966.5 L417.0 966.6 L417.4 966.8 L417.7 967.0 L417.9 967.2 L418.0 967.5 L418.1 968.0 L418.1 968.5 L418.0 968.8 L417.8 969.2 L417.5 969.5 L417.2 969.7 L417.0 969.8Z" fill="none" stroke="#000" stroke-width="0.6" stroke-linejoin="round" clip-path="url(#cp1)"/>
<path d="M381.2 1152.0 L380.8 1152.0 L380.2 1152.0 L379.8 1152.0 L379.5 1152.0 L379.0 1151.9 L378.5 1151.9 L378.0 1151.8 L377.8 1151.7 L377.2 1151.6 L377.0 1151.5 L376.5 1151.3 L376.2 1151.2 L375.8 1151.0 L375.5 1150.9 L375.1 1150.8 L374.8 1150.6 L374.5 1150.4 L374.2 1150.2 L373.8 1150.0 L373.5 1149.8 L373.2 1149.6 L373.0 1149.5 L372.7 1149.2 L372.4 1149.0 L372.1 1148.8 L371.8 1148.5 L371.6 1148.2 L371.3 1148.0 L371.1 1147.8 L370.8 1147.5 L370.6 1147.2 L370.4 1147.0 L370.2 1146.8 L370.0 1146.5 L369.8 1146.2 L369.5 1145.8 L369.3 1145.5 L369.1 1145.2 L368.9 1145.0 L368.8 1144.7 L368.5 1144.3 L368.4 1144.0 L368.2 1143.8 L368.0 1143.3 L367.9 1143.0 L367.7 1142.8 L367.5 1142.2 L367.4 1142.0 L367.2 1141.6 L367.1 1141.2 L367.0 1140.8 L366.9 1140.5 L366.8 1140.0 L366.7 1139.8 L366.5 1139.2 L366.5 1139.0 L366.4 1138.5 L366.3 1138.0 L366.2 1137.8 L366.1 1137.2 L366.1 1136.8 L366.0 1136.2 L366.0 1136.0 L366.0 1135.5 L365.9 1135.0 L365.9 1134.5 L365.9 1134.0 L365.9 1133.5 L365.9 1133.0 L366.0 1132.5 L366.0 1132.0 L366.0 1131.8 L366.1 1131.2 L366.1 1130.8 L366.2 1130.2 L366.3 1130.0 L366.4 1129.5 L366.5 1129.0 L366.5 1128.8 L366.7 1128.2 L366.8 1128.0 L366.9 1127.5 L367.0 1127.2 L367.1 1126.8 L367.2 1126.4 L367.4 1126.0 L367.5 1125.8 L367.7 1125.2 L367.9 1125.0 L368.0 1124.7 L368.2 1124.2 L368.4 1124.0 L368.5 1123.7 L368.8 1123.3 L368.9 1123.0 L369.1 1122.8 L369.3 1122.5 L369.5 1122.2 L369.8 1121.8 L370.0 1121.5 L370.2 1121.2 L370.4 1121.0 L370.6 1120.8 L370.8 1120.5 L371.1 1120.2 L371.3 1120.0 L371.6 1119.8 L371.8 1119.5 L372.1 1119.2 L372.4 1119.0 L372.7 1118.8 L373.0 1118.5 L373.2 1118.4 L373.5 1118.2 L373.8 1118.0 L374.2 1117.8 L374.5 1117.6 L374.8 1117.4 L375.1 1117.2 L375.5 1117.1 L375.8 1117.0 L376.2 1116.8 L376.5 1116.7 L377.0 1116.5 L377.2 1116.4 L377.8 1116.3 L378.0 1116.2 L378.5 1116.1 L379.0 1116.1 L379.5 1116.0 L379.8 1116.0 L380.2 1116.0 L380.8 1116.0 L381.2 1116.0 L381.5 1116.0 L382.0 1116.1 L382.5 1116.1 L383.0 1116.2 L383.2 1116.3 L383.8 1116.4 L384.1 1116.5 L384.5 1116.6 L384.8 1116.8 L385.2 1116.9 L385.5 1117.0 L386.0 1117.2 L386.2 1117.4 L386.5 1117.5 L387.0 1117.8 L387.2 1117.9 L387.5 1118.1 L387.8 1118.2 L388.2 1118.5 L388.5 1118.7 L388.8 1118.9 L389.0 1119.1 L389.2 1119.3 L389.6 1119.5 L389.9 1119.8 L390.2 1120.0 L390.5 1120.2 L390.8 1120.4 L391.0 1120.6 L391.2 1120.8 L391.5 1121.0 L391.8 1121.2 L392.1 1121.5 L392.5 1121.7 L392.8 1121.9 L393.0 1122.0 L393.4 1122.2 L393.8 1122.4 L394.2 1122.5 L394.5 1122.5 L395.0 1122.5 L395.2 1122.4 L395.7 1122.2 L396.0 1122.1 L396.2 1121.9 L396.5 1121.6 L396.8 1121.3 L397.0 1121.0 L397.2 1120.8 L397.3 1120.5 L397.5 1120.2 L397.8 1119.8 L397.9 1119.5 L398.0 1119.2 L398.2 1118.9 L398.5 1118.5 L398.6 1118.2 L398.8 1118.0 L399.0 1117.5 L399.2 1117.2 L399.3 1117.0 L399.5 1116.6 L399.7 1116.2 L399.9 1116.0 L400.0 1115.8 L400.2 1115.4 L400.5 1115.0 L400.7 1114.8 L400.8 1114.5 L401.0 1114.2 L401.2 1113.9 L401.5 1113.5 L401.7 1113.2 L401.9 1113.0 L402.1 1112.8 L402.3 1112.5 L402.5 1112.2 L402.8 1111.9 L403.0 1111.6 L403.2 1111.3 L403.5 1111.0 L403.8 1110.8 L404.0 1110.5 L404.2 1110.2 L404.5 1110.0 L404.7 1109.8 L405.0 1109.5 L405.2 1109.2 L405.5 1109.0 L405.7 1108.8 L406.0 1108.5 L406.2 1108.3 L406.5 1108.1 L406.8 1107.9 L407.0 1107.6 L407.2 1107.4 L407.5 1107.2 L407.8 1107.0 L408.1 1106.8 L408.4 1106.5 L408.7 1106.2 L409.0 1106.0 L409.2 1105.8 L409.5 1105.5 L409.8 1105.3 L410.0 1105.0 L410.2 1104.8 L410.4 1104.5 L410.6 1104.2 L410.8 1104.0 L411.0 1103.5 L411.0 1103.2 L411.1 1102.8 L411.1 1102.2 L411.0 1101.8 L411.0 1101.5 L410.8 1101.0 L410.7 1100.8 L410.5 1100.5 L410.2 1100.1 L410.0 1099.8 L409.8 1099.5 L409.6 1099.2 L409.4 1099.0 L409.2 1098.8 L409.0 1098.5 L408.8 1098.2 L408.5 1097.9 L408.2 1097.6 L408.0 1097.3 L407.8 1097.0 L407.6 1096.8 L407.4 1096.5 L407.2 1096.2 L407.0 1096.0 L406.8 1095.7 L406.5 1095.3 L406.3 1095.0 L406.2 1094.8 L406.0 1094.5 L405.8 1094.0 L405.6 1093.8 L405.5 1093.5 L405.3 1093.0 L405.2 1092.8 L405.0 1092.3 L404.9 1092.0 L404.8 1091.5 L404.7 1091.2 L404.5 1090.8 L404.5 1090.5 L404.4 1090.0 L404.3 1089.5 L404.3 1089.0 L404.3 1088.5 L404.2 1088.2 L404.2 1087.8 L404.3 1087.5 L404.3 1087.0 L404.3 1086.5 L404.4 1086.0 L404.5 1085.5 L404.6 1085.2 L404.7 1084.8 L404.8 1084.5 L404.9 1084.0 L405.0 1083.8 L405.2 1083.2 L405.3 1083.0 L405.5 1082.6 L405.7 1082.2 L405.8 1082.0 L406.0 1081.7 L406.2 1081.3 L406.4 1081.0 L406.6 1080.8 L406.8 1080.5 L407.0 1080.2 L407.2 1079.9 L407.5 1079.6 L407.8 1079.4 L408.0 1079.1 L408.2 1078.9 L408.5 1078.7 L408.8 1078.4 L409.0 1078.2 L409.3 1078.0 L409.7 1077.8 L410.0 1077.5 L410.2 1077.4 L410.5 1077.2 L410.9 1077.0 L411.2 1076.8 L411.5 1076.7 L411.9 1076.5 L412.2 1076.3 L412.5 1076.2 L413.0 1076.1 L413.2 1076.0 L413.8 1075.8 L414.1 1075.8 L414.5 1075.6 L415.0 1075.6 L415.3 1075.5 L415.8 1075.4 L416.2 1075.4 L416.8 1075.4 L417.2 1075.4 L417.8 1075.4 L418.2 1075.4 L418.8 1075.4 L419.2 1075.5 L419.5 1075.5 L420.0 1075.6 L420.5 1075.7 L420.8 1075.8 L421.2 1075.9 L421.5 1076.0 L422.0 1076.2 L422.2 1076.3 L422.7 1076.5 L423.0 1076.6 L423.3 1076.8 L423.7 1077.0 L424.0 1077.1 L424.2 1077.3 L424.6 1077.5 L424.9 1077.8 L425.2 1078.0 L425.5 1078.2 L425.8 1078.4 L426.0 1078.6 L426.2 1078.8 L426.5 1079.0 L426.8 1079.3 L427.0 1079.5 L427.2 1079.8 L427.5 1080.1 L427.8 1080.4 L428.0 1080.8 L428.2 1081.0 L428.3 1081.2 L428.5 1081.5 L428.8 1081.9 L428.9 1082.2 L429.1 1082.5 L429.2 1082.9 L429.4 1083.2 L429.5 1083.5 L429.7 1084.0 L429.8 1084.2 L429.9 1084.8 L430.0 1085.0 L430.1 1085.5 L430.2 1086.0 L430.2 1086.3 L430.3 1086.8 L430.4 1087.2 L430.4 1087.8 L430.4 1088.2 L430.4 1088.8 L430.3 1089.2 L430.3 1089.8 L430.2 1090.0 L430.2 1090.5 L430.1 1091.0 L430.0 1091.4 L429.9 1091.8 L429.8 1092.2 L429.7 1092.5 L429.5 1093.0 L429.5 1093.2 L429.3 1093.8 L429.2 1094.0 L429.0 1094.5 L428.9 1094.8 L428.8 1095.1 L428.6 1095.5 L428.5 1095.8 L428.3 1096.2 L428.2 1096.5 L428.0 1097.0 L427.9 1097.2 L427.8 1097.8 L427.7 1098.0 L427.6 1098.5 L427.5 1099.0 L427.5 1099.2 L427.5 1099.8 L427.5 1100.2 L427.5 1100.5 L427.6 1101.0 L427.7 1101.5 L427.8 1101.8 L427.9 1102.2 L428.0 1102.5 L428.2 1103.0 L428.4 1103.2 L428.5 1103.5 L428.8 1104.0 L428.9 1104.2 L429.1 1104.5 L429.2 1104.8 L429.5 1105.1 L429.7 1105.5 L429.9 1105.8 L430.1 1106.0 L430.3 1106.2 L430.5 1106.6 L430.8 1106.9 L431.0 1107.2 L431.1 1107.5 L431.3 1107.8 L431.5 1108.1 L431.8 1108.5 L431.9 1108.8 L432.0 1109.0 L432.0 1109.5 L432.0 1110.0 L432.0 1110.5 L432.0 1111.0 L432.1 1111.5 L432.1 1112.0 L432.1 1112.5 L432.1 1113.0 L432.1 1113.5 L432.1 1114.0 L432.1 1114.5 L432.1 1115.0 L432.1 1115.5 L432.1 1116.0 L432.1 1116.5 L432.1 1117.0 L432.1 1117.5 L432.1 1118.0 L432.1 1118.5 L432.1 1119.0 L432.1 1119.5 L432.1 1120.0 L432.1 1120.5 L432.1 1121.0 L432.1 1121.5 L432.1 1122.0 L432.1 1122.5 L432.1 1123.0 L432.1 1123.5 L432.1 1124.0 L432.1 1124.5 L432.1 1125.0 L432.1 1125.5 L432.1 1126.0 L432.1 1126.5 L432.0 1127.0 L432.0 1127.5 L432.0 1128.0 L432.0 1128.5 L432.0 1129.0 L432.0 1129.2 L431.8 1129.7 L431.6 1130.0 L431.5 1130.2 L431.2 1130.6 L431.0 1131.0 L430.9 1131.2 L430.8 1131.5 L430.5 1131.9 L430.3 1132.2 L430.1 1132.5 L430.0 1132.8 L429.8 1133.1 L429.5 1133.4 L429.3 1133.8 L429.1 1134.0 L428.9 1134.2 L428.7 1134.5 L428.5 1134.8 L428.2 1135.1 L428.0 1135.4 L427.8 1135.7 L427.5 1136.0 L427.2 1136.2 L427.0 1136.5 L426.8 1136.8 L426.5 1137.0 L426.3 1137.2 L426.0 1137.5 L425.8 1137.8 L425.5 1138.0 L425.2 1138.2 L425.0 1138.4 L424.8 1138.7 L424.5 1138.9 L424.2 1139.1 L424.0 1139.3 L423.7 1139.5 L423.4 1139.8 L423.0 1140.0 L422.8 1140.2 L422.5 1140.4 L422.2 1140.6 L421.9 1140.8 L421.6 1141.0 L421.2 1141.2 L421.0 1141.3 L420.7 1141.5 L420.3 1141.8 L420.0 1141.9 L419.8 1142.0 L419.3 1142.2 L419.0 1142.4 L418.7 1142.5 L418.2 1142.7 L418.0 1142.8 L417.5 1143.0 L417.2 1143.1 L416.8 1143.2 L416.5 1143.4 L416.0 1143.5 L415.8 1143.6 L415.2 1143.7 L415.0 1143.8 L414.5 1143.9 L414.0 1144.0 L413.8 1144.0 L413.2 1144.1 L412.8 1144.2 L412.2 1144.2 L411.8 1144.2 L411.5 1144.3 L411.0 1144.3 L410.5 1144.3 L410.0 1144.3 L409.8 1144.2 L409.2 1144.2 L408.8 1144.2 L408.2 1144.1 L407.8 1144.0 L407.5 1144.0 L407.0 1143.9 L406.5 1143.8 L406.2 1143.7 L405.8 1143.5 L405.5 1143.5 L405.0 1143.3 L404.8 1143.2 L404.2 1143.1 L404.0 1143.0 L403.5 1142.8 L403.2 1142.7 L402.9 1142.5 L402.5 1142.3 L402.2 1142.2 L401.8 1142.0 L401.5 1141.9 L401.1 1141.8 L400.8 1141.6 L400.4 1141.5 L400.0 1141.4 L399.6 1141.2 L399.2 1141.2 L398.8 1141.0 L398.4 1141.0 L398.0 1141.0 L397.5 1141.0 L397.1 1141.0 L396.8 1141.1 L396.2 1141.2 L396.0 1141.3 L395.6 1141.5 L395.3 1141.8 L395.0 1142.0 L394.8 1142.2 L394.5 1142.4 L394.2 1142.7 L394.0 1143.0 L393.8 1143.2 L393.6 1143.5 L393.4 1143.8 L393.2 1144.0 L393.0 1144.3 L392.8 1144.6 L392.5 1144.9 L392.3 1145.2 L392.1 1145.5 L391.9 1145.8 L391.7 1146.0 L391.5 1146.2 L391.2 1146.5 L391.0 1146.8 L390.8 1147.1 L390.5 1147.3 L390.2 1147.6 L390.0 1147.8 L389.8 1148.1 L389.5 1148.3 L389.2 1148.5 L389.0 1148.8 L388.7 1149.0 L388.4 1149.2 L388.0 1149.5 L387.8 1149.7 L387.5 1149.9 L387.2 1150.0 L386.9 1150.2 L386.5 1150.5 L386.2 1150.6 L385.9 1150.8 L385.5 1151.0 L385.2 1151.1 L384.8 1151.2 L384.5 1151.3 L384.0 1151.5 L383.8 1151.6 L383.2 1151.7 L383.0 1151.8 L382.5 1151.9 L382.0 1151.9 L381.5 1152.0 L381.2 1152.0Z M381.5 1149.0 L381.0 1149.1 L380.5 1149.1 L380.0 1149.1 L379.5 1149.0 L379.2 1149.0 L378.8 1148.9 L378.2 1148.8 L378.0 1148.8 L377.5 1148.6 L377.2 1148.5 L376.8 1148.3 L376.5 1148.2 L376.0 1148.0 L375.8 1147.9 L375.5 1147.7 L375.1 1147.5 L374.8 1147.3 L374.5 1147.1 L374.2 1146.9 L374.0 1146.8 L373.7 1146.5 L373.4 1146.2 L373.1 1146.0 L372.9 1145.8 L372.6 1145.5 L372.4 1145.2 L372.2 1145.0 L371.9 1144.8 L371.7 1144.5 L371.5 1144.2 L371.2 1143.8 L371.0 1143.5 L370.9 1143.2 L370.7 1143.0 L370.5 1142.6 L370.3 1142.2 L370.2 1142.0 L370.0 1141.7 L369.8 1141.2 L369.7 1141.0 L369.5 1140.5 L369.4 1140.2 L369.2 1139.8 L369.1 1139.5 L369.0 1139.0 L368.9 1138.8 L368.8 1138.2 L368.7 1138.0 L368.6 1137.5 L368.5 1137.0 L368.5 1136.7 L368.4 1136.2 L368.4 1135.8 L368.3 1135.2 L368.3 1134.8 L368.3 1134.2 L368.3 1133.8 L368.3 1133.2 L368.3 1132.8 L368.4 1132.2 L368.4 1131.8 L368.5 1131.3 L368.5 1131.0 L368.6 1130.5 L368.7 1130.0 L368.8 1129.8 L368.9 1129.2 L369.0 1129.0 L369.1 1128.5 L369.2 1128.2 L369.4 1127.8 L369.5 1127.5 L369.7 1127.0 L369.8 1126.8 L370.0 1126.3 L370.2 1126.0 L370.3 1125.8 L370.5 1125.4 L370.7 1125.0 L370.9 1124.8 L371.0 1124.5 L371.2 1124.2 L371.5 1123.8 L371.7 1123.5 L371.9 1123.2 L372.2 1123.0 L372.4 1122.8 L372.6 1122.5 L372.9 1122.2 L373.1 1122.0 L373.4 1121.8 L373.7 1121.5 L374.0 1121.2 L374.2 1121.1 L374.5 1120.9 L374.8 1120.7 L375.1 1120.5 L375.5 1120.3 L375.8 1120.1 L376.0 1120.0 L376.5 1119.8 L376.8 1119.7 L377.2 1119.5 L377.5 1119.4 L378.0 1119.2 L378.2 1119.2 L378.8 1119.1 L379.2 1119.0 L379.5 1119.0 L380.0 1118.9 L380.5 1118.9 L381.0 1118.9 L381.5 1119.0 L381.8 1119.0 L382.2 1119.1 L382.8 1119.2 L383.1 1119.2 L383.5 1119.4 L383.9 1119.5 L384.2 1119.6 L384.6 1119.8 L385.0 1119.9 L385.2 1120.1 L385.6 1120.2 L386.0 1120.5 L386.2 1120.6 L386.5 1120.8 L386.9 1121.0 L387.2 1121.2 L387.5 1121.5 L387.8 1121.6 L388.0 1121.8 L388.2 1122.0 L388.5 1122.2 L388.8 1122.5 L389.1 1122.8 L389.4 1123.0 L389.7 1123.2 L390.0 1123.5 L390.2 1123.8 L390.5 1124.0 L390.8 1124.2 L391.0 1124.4 L391.2 1124.6 L391.5 1124.8 L391.8 1125.0 L392.2 1125.2 L392.5 1125.5 L392.8 1125.6 L393.0 1125.8 L393.5 1126.0 L393.8 1126.1 L394.2 1126.2 L394.5 1126.3 L395.0 1126.4 L395.5 1126.4 L396.0 1126.4 L396.5 1126.3 L396.8 1126.2 L397.2 1126.1 L397.5 1126.0 L397.8 1125.8 L398.2 1125.5 L398.5 1125.2 L398.7 1125.0 L398.9 1124.8 L399.1 1124.5 L399.2 1124.2 L399.5 1123.8 L399.6 1123.5 L399.8 1123.2 L400.0 1122.8 L400.1 1122.5 L400.2 1122.1 L400.4 1121.8 L400.5 1121.4 L400.7 1121.0 L400.8 1120.8 L401.0 1120.2 L401.1 1120.0 L401.2 1119.7 L401.4 1119.2 L401.6 1119.0 L401.8 1118.6 L401.9 1118.2 L402.1 1118.0 L402.2 1117.6 L402.5 1117.2 L402.6 1117.0 L402.8 1116.8 L403.0 1116.4 L403.2 1116.0 L403.4 1115.8 L403.6 1115.5 L403.8 1115.2 L404.0 1114.9 L404.2 1114.6 L404.5 1114.2 L404.7 1114.0 L404.9 1113.8 L405.1 1113.5 L405.3 1113.2 L405.5 1113.0 L405.8 1112.8 L406.0 1112.5 L406.2 1112.2 L406.5 1112.0 L406.8 1111.7 L407.0 1111.5 L407.3 1111.2 L407.6 1111.0 L407.8 1110.8 L408.1 1110.5 L408.4 1110.2 L408.7 1110.0 L409.0 1109.8 L409.2 1109.6 L409.5 1109.4 L409.8 1109.2 L410.1 1109.0 L410.4 1108.8 L410.8 1108.5 L411.0 1108.3 L411.2 1108.1 L411.5 1107.9 L411.8 1107.7 L412.0 1107.5 L412.3 1107.2 L412.6 1107.0 L412.8 1106.8 L413.0 1106.5 L413.2 1106.2 L413.5 1105.9 L413.7 1105.5 L413.8 1105.2 L414.0 1104.8 L414.1 1104.5 L414.2 1104.0 L414.3 1103.8 L414.3 1103.2 L414.3 1102.8 L414.2 1102.3 L414.2 1102.0 L414.1 1101.5 L414.0 1101.2 L413.8 1100.8 L413.6 1100.5 L413.5 1100.2 L413.2 1099.8 L413.0 1099.5 L412.9 1099.2 L412.7 1099.0 L412.5 1098.8 L412.2 1098.5 L412.0 1098.2 L411.8 1097.9 L411.5 1097.7 L411.2 1097.4 L411.0 1097.1 L410.8 1096.8 L410.5 1096.6 L410.2 1096.3 L410.0 1096.0 L409.8 1095.8 L409.6 1095.5 L409.4 1095.2 L409.2 1095.0 L409.0 1094.7 L408.8 1094.4 L408.5 1094.0 L408.3 1093.8 L408.2 1093.5 L408.0 1093.2 L407.8 1092.8 L407.7 1092.5 L407.5 1092.1 L407.3 1091.8 L407.2 1091.5 L407.1 1091.0 L407.0 1090.7 L406.9 1090.2 L406.8 1089.8 L406.7 1089.5 L406.7 1089.0 L406.6 1088.5 L406.6 1088.0 L406.7 1087.5 L406.7 1087.0 L406.8 1086.5 L406.8 1086.2 L406.9 1085.8 L407.0 1085.3 L407.1 1085.0 L407.2 1084.6 L407.4 1084.2 L407.5 1083.9 L407.7 1083.5 L407.8 1083.2 L408.0 1083.0 L408.2 1082.5 L408.4 1082.2 L408.6 1082.0 L408.8 1081.8 L409.0 1081.5 L409.2 1081.2 L409.5 1081.0 L409.8 1080.7 L410.0 1080.5 L410.3 1080.2 L410.6 1080.0 L410.9 1079.8 L411.2 1079.5 L411.5 1079.3 L411.8 1079.2 L412.1 1079.0 L412.5 1078.8 L412.8 1078.7 L413.1 1078.5 L413.5 1078.4 L413.8 1078.2 L414.2 1078.1 L414.7 1078.0 L415.0 1077.9 L415.5 1077.8 L416.0 1077.8 L416.2 1077.7 L416.8 1077.7 L417.2 1077.7 L417.8 1077.7 L418.2 1077.7 L418.6 1077.8 L419.0 1077.8 L419.5 1077.9 L419.9 1078.0 L420.2 1078.1 L420.8 1078.2 L421.0 1078.3 L421.5 1078.5 L421.8 1078.6 L422.0 1078.8 L422.5 1079.0 L422.8 1079.1 L423.0 1079.3 L423.3 1079.5 L423.7 1079.8 L424.0 1080.0 L424.2 1080.2 L424.5 1080.4 L424.8 1080.6 L425.0 1080.9 L425.2 1081.1 L425.5 1081.4 L425.8 1081.7 L426.0 1082.0 L426.2 1082.2 L426.3 1082.5 L426.5 1082.8 L426.8 1083.2 L426.9 1083.5 L427.0 1083.8 L427.2 1084.2 L427.3 1084.5 L427.5 1085.0 L427.6 1085.2 L427.7 1085.8 L427.8 1086.0 L427.9 1086.5 L427.9 1087.0 L428.0 1087.5 L428.0 1088.0 L428.0 1088.5 L428.0 1089.0 L427.9 1089.5 L427.9 1090.0 L427.8 1090.5 L427.7 1090.8 L427.6 1091.2 L427.5 1091.6 L427.4 1092.0 L427.2 1092.5 L427.2 1092.8 L427.0 1093.2 L426.9 1093.5 L426.8 1093.9 L426.6 1094.2 L426.5 1094.6 L426.3 1095.0 L426.2 1095.2 L426.0 1095.8 L425.9 1096.0 L425.8 1096.5 L425.7 1096.8 L425.5 1097.2 L425.4 1097.5 L425.3 1098.0 L425.2 1098.3 L425.2 1098.8 L425.1 1099.2 L425.1 1099.8 L425.1 1100.2 L425.1 1100.8 L425.1 1101.2 L425.2 1101.8 L425.3 1102.0 L425.4 1102.5 L425.5 1102.8 L425.6 1103.2 L425.8 1103.6 L425.9 1104.0 L426.0 1104.2 L426.2 1104.7 L426.4 1105.0 L426.5 1105.2 L426.8 1105.7 L426.9 1106.0 L427.1 1106.2 L427.2 1106.6 L427.5 1107.0 L427.6 1107.2 L427.8 1107.5 L428.0 1108.0 L428.1 1108.2 L428.3 1108.5 L428.5 1109.0 L428.6 1109.2 L428.8 1109.6 L428.9 1110.0 L429.1 1110.2 L429.2 1110.7 L429.4 1111.0 L429.5 1111.3 L429.7 1111.8 L429.8 1112.0 L430.0 1112.4 L430.1 1112.8 L430.2 1113.1 L430.4 1113.5 L430.5 1113.8 L430.6 1114.2 L430.8 1114.6 L430.9 1115.0 L431.0 1115.5 L431.0 1115.8 L431.1 1116.2 L431.2 1116.8 L431.2 1117.0 L431.3 1117.5 L431.4 1118.0 L431.4 1118.5 L431.4 1119.0 L431.4 1119.5 L431.4 1120.0 L431.4 1120.5 L431.3 1121.0 L431.3 1121.5 L431.2 1121.8 L431.2 1122.2 L431.1 1122.8 L431.0 1123.2 L430.9 1123.5 L430.8 1124.0 L430.7 1124.2 L430.6 1124.8 L430.5 1125.1 L430.4 1125.5 L430.2 1125.9 L430.1 1126.2 L430.0 1126.6 L429.8 1127.0 L429.7 1127.2 L429.5 1127.8 L429.4 1128.0 L429.2 1128.3 L429.0 1128.8 L428.9 1129.0 L428.8 1129.3 L428.5 1129.8 L428.4 1130.0 L428.2 1130.2 L428.0 1130.6 L427.8 1131.0 L427.6 1131.2 L427.4 1131.5 L427.2 1131.8 L427.0 1132.1 L426.8 1132.4 L426.5 1132.8 L426.3 1133.0 L426.1 1133.2 L425.9 1133.5 L425.7 1133.8 L425.5 1134.0 L425.2 1134.2 L425.0 1134.5 L424.8 1134.8 L424.5 1135.0 L424.2 1135.3 L424.0 1135.5 L423.7 1135.8 L423.4 1136.0 L423.1 1136.2 L422.8 1136.5 L422.5 1136.8 L422.2 1137.0 L422.0 1137.2 L421.8 1137.3 L421.5 1137.5 L421.2 1137.8 L420.8 1138.0 L420.5 1138.2 L420.2 1138.3 L419.9 1138.5 L419.5 1138.7 L419.2 1138.9 L419.0 1139.0 L418.5 1139.2 L418.2 1139.4 L417.9 1139.5 L417.5 1139.7 L417.2 1139.8 L416.8 1140.0 L416.5 1140.0 L416.0 1140.2 L415.8 1140.3 L415.2 1140.4 L414.9 1140.5 L414.5 1140.6 L414.0 1140.7 L413.5 1140.8 L413.2 1140.8 L412.8 1140.8 L412.2 1140.9 L411.8 1140.9 L411.2 1140.9 L410.8 1140.9 L410.2 1140.9 L409.8 1140.9 L409.2 1140.9 L408.8 1140.8 L408.2 1140.8 L408.0 1140.7 L407.5 1140.7 L407.0 1140.6 L406.5 1140.5 L406.2 1140.5 L405.8 1140.4 L405.2 1140.3 L405.0 1140.2 L404.5 1140.1 L404.2 1140.0 L403.8 1139.8 L403.5 1139.8 L403.0 1139.6 L402.8 1139.5 L402.2 1139.3 L402.0 1139.2 L401.5 1139.0 L401.2 1139.0 L400.8 1138.8 L400.5 1138.7 L400.0 1138.6 L399.7 1138.5 L399.2 1138.4 L398.8 1138.3 L398.5 1138.2 L398.0 1138.2 L397.5 1138.1 L397.0 1138.1 L396.5 1138.1 L396.0 1138.2 L395.8 1138.3 L395.2 1138.4 L395.0 1138.5 L394.5 1138.7 L394.2 1138.8 L394.0 1139.0 L393.6 1139.2 L393.3 1139.5 L393.0 1139.8 L392.8 1140.0 L392.5 1140.2 L392.3 1140.5 L392.1 1140.8 L391.9 1141.0 L391.8 1141.3 L391.5 1141.6 L391.2 1142.0 L391.1 1142.2 L390.9 1142.5 L390.7 1142.8 L390.5 1143.0 L390.2 1143.4 L390.0 1143.7 L389.8 1144.0 L389.6 1144.2 L389.4 1144.5 L389.2 1144.8 L388.9 1145.0 L388.7 1145.2 L388.5 1145.5 L388.2 1145.8 L388.0 1146.0 L387.7 1146.2 L387.4 1146.5 L387.1 1146.8 L386.8 1147.0 L386.5 1147.2 L386.2 1147.3 L386.0 1147.5 L385.5 1147.8 L385.2 1147.9 L385.0 1148.0 L384.5 1148.2 L384.2 1148.4 L383.8 1148.5 L383.5 1148.6 L383.0 1148.8 L382.8 1148.8 L382.2 1148.9 L381.8 1149.0 L381.5 1149.0Z M380.8 1146.5 L380.2 1146.5 L380.0 1146.5 L379.5 1146.4 L379.0 1146.4 L378.5 1146.3 L378.2 1146.2 L377.8 1146.0 L377.5 1145.9 L377.0 1145.8 L376.8 1145.6 L376.5 1145.5 L376.1 1145.2 L375.8 1145.0 L375.5 1144.9 L375.2 1144.7 L375.0 1144.5 L374.7 1144.2 L374.4 1144.0 L374.2 1143.8 L373.9 1143.5 L373.7 1143.2 L373.5 1143.0 L373.2 1142.7 L373.0 1142.4 L372.8 1142.1 L372.6 1141.8 L372.4 1141.5 L372.2 1141.2 L372.0 1140.8 L371.8 1140.5 L371.7 1140.2 L371.5 1139.8 L371.4 1139.5 L371.2 1139.1 L371.1 1138.8 L371.0 1138.3 L370.9 1138.0 L370.8 1137.5 L370.7 1137.2 L370.6 1136.8 L370.5 1136.2 L370.5 1136.0 L370.4 1135.5 L370.4 1135.0 L370.4 1134.5 L370.4 1134.0 L370.4 1133.5 L370.4 1133.0 L370.4 1132.5 L370.5 1132.0 L370.5 1131.8 L370.6 1131.2 L370.7 1130.8 L370.8 1130.5 L370.9 1130.0 L371.0 1129.7 L371.1 1129.2 L371.2 1128.9 L371.4 1128.5 L371.5 1128.2 L371.7 1127.8 L371.8 1127.5 L372.0 1127.2 L372.2 1126.8 L372.4 1126.5 L372.6 1126.2 L372.8 1125.9 L373.0 1125.6 L373.2 1125.3 L373.5 1125.0 L373.7 1124.8 L373.9 1124.5 L374.2 1124.2 L374.4 1124.0 L374.7 1123.8 L375.0 1123.5 L375.2 1123.3 L375.5 1123.1 L375.8 1122.9 L376.1 1122.8 L376.5 1122.5 L376.8 1122.4 L377.0 1122.2 L377.5 1122.0 L377.8 1122.0 L378.2 1121.8 L378.5 1121.7 L379.0 1121.6 L379.5 1121.5 L379.9 1121.5 L380.2 1121.5 L380.8 1121.5 L381.2 1121.5 L381.5 1121.5 L382.0 1121.6 L382.5 1121.7 L382.8 1121.8 L383.2 1121.9 L383.6 1122.0 L384.0 1122.2 L384.2 1122.3 L384.8 1122.5 L385.0 1122.6 L385.3 1122.8 L385.7 1123.0 L386.0 1123.2 L386.2 1123.3 L386.5 1123.5 L386.8 1123.8 L387.2 1124.0 L387.5 1124.2 L387.8 1124.4 L388.0 1124.6 L388.2 1124.8 L388.5 1125.0 L388.8 1125.2 L389.1 1125.5 L389.4 1125.8 L389.7 1126.0 L390.0 1126.2 L390.2 1126.4 L390.5 1126.6 L390.8 1126.8 L391.0 1127.0 L391.4 1127.2 L391.8 1127.5 L392.0 1127.6 L392.2 1127.8 L392.7 1128.0 L393.0 1128.2 L393.2 1128.3 L393.7 1128.5 L394.0 1128.6 L394.5 1128.8 L394.8 1128.8 L395.2 1128.9 L395.8 1129.0 L396.2 1129.0 L396.8 1129.0 L397.2 1128.9 L397.8 1128.8 L398.0 1128.7 L398.5 1128.5 L398.8 1128.4 L399.0 1128.2 L399.5 1128.0 L399.8 1127.8 L400.0 1127.6 L400.2 1127.4 L400.5 1127.2 L400.8 1126.9 L401.0 1126.6 L401.2 1126.2 L401.4 1126.0 L401.6 1125.8 L401.8 1125.4 L401.9 1125.0 L402.0 1124.8 L402.2 1124.2 L402.3 1124.0 L402.5 1123.5 L402.6 1123.2 L402.8 1122.8 L402.9 1122.5 L403.0 1122.1 L403.1 1121.8 L403.2 1121.4 L403.4 1121.0 L403.5 1120.8 L403.7 1120.2 L403.8 1120.0 L404.0 1119.7 L404.2 1119.2 L404.3 1119.0 L404.5 1118.7 L404.7 1118.2 L404.9 1118.0 L405.0 1117.8 L405.2 1117.4 L405.5 1117.0 L405.7 1116.8 L405.9 1116.5 L406.0 1116.2 L406.2 1116.0 L406.5 1115.7 L406.8 1115.3 L407.0 1115.1 L407.2 1114.8 L407.5 1114.5 L407.7 1114.2 L408.0 1114.0 L408.2 1113.8 L408.5 1113.5 L408.8 1113.3 L409.0 1113.0 L409.2 1112.8 L409.5 1112.6 L409.8 1112.4 L410.0 1112.2 L410.3 1112.0 L410.6 1111.8 L411.0 1111.5 L411.2 1111.3 L411.5 1111.1 L411.8 1110.9 L412.0 1110.8 L412.4 1110.5 L412.7 1110.2 L413.0 1110.0 L413.2 1109.8 L413.5 1109.6 L413.8 1109.4 L414.0 1109.2 L414.2 1109.0 L414.5 1108.7 L414.8 1108.4 L415.0 1108.1 L415.2 1107.8 L415.4 1107.5 L415.6 1107.2 L415.8 1107.0 L416.0 1106.5 L416.1 1106.2 L416.2 1105.9 L416.4 1105.5 L416.5 1105.1 L416.6 1104.8 L416.7 1104.2 L416.7 1103.8 L416.8 1103.5 L416.8 1103.0 L416.7 1102.8 L416.7 1102.2 L416.6 1101.8 L416.5 1101.5 L416.3 1101.0 L416.2 1100.8 L416.0 1100.4 L415.8 1100.0 L415.7 1099.8 L415.5 1099.5 L415.2 1099.2 L415.0 1098.8 L414.8 1098.5 L414.6 1098.2 L414.3 1098.0 L414.1 1097.8 L413.9 1097.5 L413.7 1097.2 L413.4 1097.0 L413.2 1096.8 L413.0 1096.5 L412.8 1096.2 L412.5 1095.9 L412.2 1095.6 L412.0 1095.3 L411.8 1095.0 L411.5 1094.8 L411.3 1094.5 L411.2 1094.2 L411.0 1094.0 L410.8 1093.7 L410.5 1093.3 L410.3 1093.0 L410.2 1092.8 L410.0 1092.5 L409.8 1092.0 L409.6 1091.8 L409.5 1091.5 L409.3 1091.0 L409.2 1090.8 L409.1 1090.2 L409.0 1090.0 L408.9 1089.5 L408.8 1089.0 L408.8 1088.5 L408.8 1088.0 L408.8 1087.5 L408.8 1087.0 L408.9 1086.5 L409.0 1086.1 L409.1 1085.8 L409.2 1085.3 L409.4 1085.0 L409.5 1084.7 L409.7 1084.2 L409.8 1084.0 L410.0 1083.7 L410.2 1083.4 L410.5 1083.0 L410.7 1082.8 L411.0 1082.5 L411.2 1082.2 L411.5 1082.0 L411.7 1081.8 L412.0 1081.5 L412.2 1081.4 L412.5 1081.2 L412.8 1081.0 L413.2 1080.8 L413.5 1080.6 L413.8 1080.5 L414.2 1080.3 L414.5 1080.2 L415.0 1080.1 L415.2 1080.0 L415.8 1079.9 L416.2 1079.8 L416.8 1079.8 L417.2 1079.8 L417.4 1079.8 L417.8 1079.8 L418.2 1079.8 L418.8 1079.9 L419.2 1080.0 L419.5 1080.0 L420.0 1080.2 L420.2 1080.3 L420.8 1080.5 L421.0 1080.6 L421.4 1080.8 L421.8 1081.0 L422.0 1081.1 L422.2 1081.3 L422.5 1081.5 L422.9 1081.8 L423.1 1082.0 L423.4 1082.2 L423.7 1082.5 L423.9 1082.8 L424.1 1083.0 L424.3 1083.2 L424.5 1083.6 L424.8 1084.0 L424.9 1084.2 L425.0 1084.5 L425.2 1085.0 L425.3 1085.2 L425.5 1085.7 L425.6 1086.0 L425.7 1086.5 L425.8 1086.8 L425.8 1087.2 L425.9 1087.8 L425.9 1088.2 L425.9 1088.8 L425.8 1089.2 L425.8 1089.8 L425.8 1090.1 L425.7 1090.5 L425.6 1091.0 L425.5 1091.4 L425.4 1091.8 L425.3 1092.2 L425.2 1092.5 L425.1 1093.0 L425.0 1093.2 L424.8 1093.8 L424.7 1094.0 L424.6 1094.5 L424.5 1094.8 L424.3 1095.2 L424.2 1095.5 L424.0 1096.0 L423.9 1096.2 L423.8 1096.7 L423.6 1097.0 L423.5 1097.4 L423.4 1097.8 L423.2 1098.2 L423.2 1098.5 L423.1 1099.0 L423.0 1099.5 L423.0 1099.8 L422.9 1100.2 L422.9 1100.8 L422.9 1101.2 L423.0 1101.8 L423.0 1102.0 L423.1 1102.5 L423.2 1102.9 L423.4 1103.2 L423.5 1103.6 L423.7 1104.0 L423.8 1104.2 L424.0 1104.8 L424.1 1105.0 L424.2 1105.3 L424.5 1105.8 L424.6 1106.0 L424.8 1106.3 L425.0 1106.7 L425.1 1107.0 L425.3 1107.2 L425.5 1107.7 L425.7 1108.0 L425.8 1108.2 L425.9 1108.8 L426.0 1109.0 L426.2 1109.5 L426.3 1109.8 L426.4 1110.2 L426.5 1110.6 L426.6 1111.0 L426.7 1111.5 L426.8 1111.8 L426.9 1112.2 L427.0 1112.5 L427.2 1113.0 L427.3 1113.2 L427.4 1113.8 L427.5 1114.0 L427.7 1114.5 L427.8 1114.8 L427.9 1115.2 L428.0 1115.5 L428.2 1116.0 L428.2 1116.4 L428.3 1116.8 L428.4 1117.2 L428.5 1117.6 L428.6 1118.0 L428.6 1118.5 L428.7 1119.0 L428.7 1119.5 L428.7 1120.0 L428.7 1120.5 L428.7 1121.0 L428.6 1121.5 L428.6 1122.0 L428.5 1122.5 L428.5 1122.8 L428.4 1123.2 L428.2 1123.7 L428.2 1124.0 L428.1 1124.5 L428.0 1124.8 L427.8 1125.2 L427.7 1125.5 L427.6 1126.0 L427.5 1126.2 L427.3 1126.8 L427.1 1127.0 L427.0 1127.3 L426.8 1127.8 L426.7 1128.0 L426.5 1128.3 L426.3 1128.8 L426.1 1129.0 L426.0 1129.2 L425.8 1129.6 L425.5 1130.0 L425.3 1130.2 L425.1 1130.5 L425.0 1130.8 L424.8 1131.0 L424.5 1131.3 L424.2 1131.7 L424.0 1131.9 L423.8 1132.2 L423.5 1132.5 L423.3 1132.8 L423.0 1133.0 L422.8 1133.2 L422.5 1133.5 L422.2 1133.7 L422.0 1133.9 L421.8 1134.2 L421.5 1134.4 L421.2 1134.6 L421.0 1134.8 L420.7 1135.0 L420.3 1135.2 L420.0 1135.5 L419.8 1135.6 L419.5 1135.8 L419.1 1136.0 L418.8 1136.2 L418.5 1136.3 L418.1 1136.5 L417.8 1136.7 L417.5 1136.8 L417.0 1137.0 L416.8 1137.1 L416.3 1137.2 L416.0 1137.3 L415.5 1137.5 L415.2 1137.6 L414.8 1137.7 L414.4 1137.8 L414.0 1137.8 L413.5 1137.9 L413.0 1138.0 L412.7 1138.0 L412.2 1138.0 L411.8 1138.1 L411.2 1138.1 L410.8 1138.1 L410.2 1138.2 L409.8 1138.2 L409.2 1138.2 L408.8 1138.2 L408.2 1138.2 L407.8 1138.2 L407.2 1138.2 L406.8 1138.2 L406.2 1138.2 L405.8 1138.1 L405.2 1138.1 L404.8 1138.0 L404.5 1137.9 L404.0 1137.8 L403.8 1137.7 L403.2 1137.5 L403.0 1137.4 L402.5 1137.3 L402.2 1137.2 L401.8 1137.0 L401.5 1136.9 L401.0 1136.8 L400.8 1136.7 L400.3 1136.5 L400.0 1136.4 L399.5 1136.3 L399.2 1136.2 L398.8 1136.1 L398.3 1136.0 L398.0 1135.9 L397.5 1135.9 L397.0 1135.8 L396.5 1135.8 L396.0 1135.9 L395.5 1136.0 L395.2 1136.0 L394.8 1136.1 L394.4 1136.2 L394.0 1136.4 L393.8 1136.5 L393.4 1136.8 L393.0 1137.0 L392.8 1137.1 L392.5 1137.3 L392.2 1137.5 L392.0 1137.8 L391.7 1138.0 L391.4 1138.2 L391.2 1138.5 L391.0 1138.8 L390.7 1139.0 L390.5 1139.3 L390.2 1139.6 L390.0 1139.9 L389.8 1140.2 L389.6 1140.5 L389.4 1140.8 L389.2 1141.0 L389.0 1141.3 L388.8 1141.6 L388.5 1142.0 L388.3 1142.2 L388.1 1142.5 L387.9 1142.8 L387.6 1143.0 L387.4 1143.2 L387.2 1143.5 L386.9 1143.8 L386.6 1144.0 L386.4 1144.2 L386.1 1144.5 L385.8 1144.7 L385.5 1144.9 L385.2 1145.1 L385.0 1145.2 L384.5 1145.5 L384.2 1145.6 L384.0 1145.8 L383.5 1146.0 L383.2 1146.0 L382.8 1146.2 L382.5 1146.3 L382.0 1146.4 L381.5 1146.5 L381.0 1146.5 L380.8 1146.5Z" fill="none" stroke="#000" stroke-width="0.6" stroke-linejoin="round" clip-path="url(#cp2)"/>
<path d="M418.8 1093.8 L418.2 1093.8 L417.8 1093.9 L417.2 1093.9 L416.8 1093.9 L416.2 1093.8 L415.8 1093.8 L415.5 1093.7 L415.0 1093.5 L414.8 1093.5 L414.3 1093.2 L414.0 1093.1 L413.8 1093.0 L413.4 1092.8 L413.0 1092.5 L412.8 1092.3 L412.5 1092.1 L412.2 1091.9 L412.0 1091.6 L411.8 1091.3 L411.5 1091.0 L411.4 1090.8 L411.2 1090.5 L411.0 1090.1 L410.9 1089.8 L410.8 1089.5 L410.6 1089.0 L410.5 1088.5 L410.5 1088.2 L410.4 1087.8 L410.4 1087.2 L410.5 1086.8 L410.5 1086.5 L410.6 1086.0 L410.8 1085.5 L410.9 1085.2 L411.0 1084.9 L411.2 1084.5 L411.4 1084.2 L411.5 1084.0 L411.8 1083.7 L412.0 1083.4 L412.2 1083.1 L412.5 1082.9 L412.8 1082.7 L413.0 1082.5 L413.4 1082.2 L413.8 1082.0 L414.0 1081.9 L414.3 1081.8 L414.8 1081.5 L415.0 1081.5 L415.5 1081.3 L415.8 1081.2 L416.2 1081.2 L416.8 1081.1 L417.2 1081.1 L417.8 1081.1 L418.2 1081.2 L418.8 1081.2 L419.0 1081.3 L419.5 1081.4 L419.8 1081.5 L420.2 1081.7 L420.5 1081.8 L420.8 1082.0 L421.2 1082.2 L421.5 1082.4 L421.8 1082.6 L422.0 1082.8 L422.2 1083.0 L422.5 1083.3 L422.8 1083.6 L423.0 1083.9 L423.2 1084.2 L423.4 1084.5 L423.5 1084.8 L423.7 1085.2 L423.8 1085.5 L424.0 1086.0 L424.1 1086.2 L424.1 1086.8 L424.2 1087.2 L424.2 1087.8 L424.1 1088.2 L424.1 1088.8 L424.0 1089.0 L423.8 1089.5 L423.7 1089.8 L423.5 1090.2 L423.4 1090.5 L423.2 1090.8 L423.0 1091.1 L422.8 1091.4 L422.5 1091.7 L422.2 1092.0 L422.0 1092.2 L421.8 1092.4 L421.5 1092.6 L421.2 1092.8 L420.8 1093.0 L420.5 1093.2 L420.2 1093.3 L419.8 1093.5 L419.5 1093.6 L419.0 1093.7 L418.8 1093.8Z M409.2 1139.3 L408.8 1139.3 L408.2 1139.4 L407.8 1139.3 L407.2 1139.3 L407.0 1139.2 L406.5 1139.2 L406.0 1139.0 L405.8 1139.0 L405.2 1138.8 L405.0 1138.6 L404.7 1138.5 L404.3 1138.2 L404.0 1138.1 L403.8 1137.9 L403.5 1137.7 L403.2 1137.5 L403.0 1137.2 L402.7 1137.0 L402.5 1136.7 L402.2 1136.4 L402.0 1136.1 L401.8 1135.8 L401.7 1135.5 L401.5 1135.2 L401.3 1134.8 L401.2 1134.5 L401.0 1134.0 L401.0 1133.8 L400.9 1133.2 L400.8 1132.8 L400.8 1132.2 L400.8 1131.8 L400.8 1131.2 L400.9 1130.8 L401.0 1130.2 L401.0 1130.0 L401.2 1129.5 L401.3 1129.2 L401.5 1128.8 L401.6 1128.5 L401.8 1128.2 L402.0 1127.8 L402.1 1127.5 L402.3 1127.2 L402.5 1127.0 L402.8 1126.7 L403.0 1126.3 L403.2 1126.0 L403.4 1125.8 L403.6 1125.5 L403.8 1125.2 L404.0 1124.9 L404.2 1124.6 L404.5 1124.2 L404.6 1124.0 L404.8 1123.8 L405.0 1123.5 L405.2 1123.1 L405.5 1122.8 L405.6 1122.5 L405.8 1122.2 L406.0 1122.0 L406.2 1121.6 L406.5 1121.2 L406.7 1121.0 L406.8 1120.8 L407.0 1120.5 L407.2 1120.2 L407.5 1119.8 L407.7 1119.5 L407.9 1119.2 L408.1 1119.0 L408.3 1118.8 L408.5 1118.4 L408.8 1118.1 L409.0 1117.8 L409.2 1117.5 L409.4 1117.2 L409.6 1117.0 L409.8 1116.8 L410.0 1116.5 L410.2 1116.2 L410.5 1115.9 L410.8 1115.6 L411.0 1115.3 L411.2 1115.1 L411.5 1114.8 L411.8 1114.5 L412.0 1114.2 L412.2 1114.0 L412.5 1113.8 L412.7 1113.5 L412.9 1113.2 L413.2 1113.0 L413.4 1112.8 L413.7 1112.5 L414.0 1112.2 L414.2 1112.0 L414.5 1111.8 L414.8 1111.5 L415.0 1111.3 L415.2 1111.0 L415.5 1110.8 L415.8 1110.6 L416.0 1110.4 L416.2 1110.1 L416.5 1109.9 L416.8 1109.7 L417.0 1109.5 L417.3 1109.2 L417.6 1109.0 L417.9 1108.8 L418.2 1108.5 L418.5 1108.4 L418.8 1108.2 L419.2 1108.0 L419.5 1107.8 L419.8 1107.7 L420.2 1107.5 L420.5 1107.4 L421.0 1107.3 L421.2 1107.2 L421.8 1107.1 L422.2 1107.0 L422.8 1107.0 L423.0 1107.0 L423.5 1107.0 L423.8 1107.0 L424.2 1107.0 L424.8 1107.1 L425.2 1107.2 L425.5 1107.3 L426.0 1107.4 L426.2 1107.5 L426.8 1107.7 L427.0 1107.8 L427.3 1108.0 L427.7 1108.2 L428.0 1108.5 L428.2 1108.6 L428.5 1108.8 L428.8 1109.1 L429.0 1109.3 L429.2 1109.6 L429.5 1109.9 L429.8 1110.2 L430.0 1110.5 L430.1 1110.8 L430.3 1111.0 L430.5 1111.5 L430.6 1111.8 L430.8 1112.1 L430.9 1112.5 L431.0 1112.9 L431.1 1113.2 L431.2 1113.8 L431.2 1114.2 L431.2 1114.5 L431.3 1115.0 L431.3 1115.5 L431.2 1115.8 L431.2 1116.2 L431.1 1116.8 L431.0 1117.2 L431.0 1117.5 L430.8 1118.0 L430.8 1118.3 L430.6 1118.8 L430.5 1119.0 L430.3 1119.5 L430.2 1119.8 L430.0 1120.1 L429.8 1120.5 L429.7 1120.8 L429.5 1121.1 L429.3 1121.5 L429.1 1121.8 L429.0 1122.0 L428.8 1122.4 L428.5 1122.8 L428.4 1123.0 L428.2 1123.2 L428.0 1123.6 L427.8 1124.0 L427.6 1124.2 L427.4 1124.5 L427.2 1124.8 L427.0 1125.2 L426.8 1125.5 L426.6 1125.8 L426.4 1126.0 L426.2 1126.2 L426.0 1126.5 L425.8 1126.9 L425.5 1127.2 L425.2 1127.5 L425.0 1127.8 L424.8 1128.0 L424.6 1128.2 L424.4 1128.5 L424.2 1128.8 L423.9 1129.0 L423.7 1129.2 L423.4 1129.5 L423.2 1129.8 L422.9 1130.0 L422.7 1130.2 L422.4 1130.5 L422.2 1130.8 L421.9 1131.0 L421.6 1131.2 L421.3 1131.5 L421.0 1131.8 L420.8 1132.0 L420.5 1132.2 L420.2 1132.4 L420.0 1132.6 L419.8 1132.8 L419.4 1133.0 L419.1 1133.2 L418.8 1133.5 L418.5 1133.7 L418.2 1133.9 L418.0 1134.1 L417.8 1134.3 L417.4 1134.5 L417.1 1134.8 L416.8 1135.0 L416.5 1135.2 L416.2 1135.3 L416.0 1135.5 L415.7 1135.8 L415.4 1136.0 L415.0 1136.2 L414.8 1136.5 L414.5 1136.7 L414.2 1136.9 L414.0 1137.1 L413.8 1137.3 L413.4 1137.5 L413.1 1137.8 L412.8 1138.0 L412.5 1138.1 L412.2 1138.3 L411.8 1138.5 L411.5 1138.6 L411.2 1138.8 L410.8 1138.9 L410.5 1139.0 L410.0 1139.1 L409.5 1139.2 L409.2 1139.3Z M381.2 1141.8 L380.8 1141.8 L380.2 1141.9 L379.8 1141.9 L379.2 1141.9 L378.8 1141.8 L378.3 1141.8 L378.0 1141.7 L377.5 1141.6 L377.2 1141.5 L376.8 1141.3 L376.5 1141.2 L376.0 1141.0 L375.8 1140.9 L375.5 1140.7 L375.1 1140.5 L374.8 1140.2 L374.5 1140.0 L374.2 1139.8 L374.0 1139.6 L373.8 1139.4 L373.5 1139.2 L373.2 1138.9 L373.0 1138.6 L372.8 1138.3 L372.5 1138.0 L372.4 1137.8 L372.2 1137.5 L372.0 1137.1 L371.8 1136.8 L371.7 1136.5 L371.5 1136.1 L371.4 1135.8 L371.2 1135.4 L371.1 1135.0 L371.0 1134.6 L370.9 1134.2 L370.8 1133.8 L370.8 1133.2 L370.7 1133.0 L370.7 1132.5 L370.7 1132.0 L370.7 1131.5 L370.7 1131.0 L370.8 1130.8 L370.8 1130.2 L370.9 1129.8 L371.0 1129.4 L371.1 1129.0 L371.2 1128.6 L371.4 1128.2 L371.5 1127.9 L371.7 1127.5 L371.8 1127.2 L372.0 1126.9 L372.2 1126.5 L372.4 1126.2 L372.5 1126.0 L372.8 1125.7 L373.0 1125.4 L373.2 1125.1 L373.5 1124.8 L373.8 1124.6 L374.0 1124.4 L374.2 1124.2 L374.5 1124.0 L374.8 1123.8 L375.1 1123.5 L375.5 1123.3 L375.8 1123.1 L376.0 1123.0 L376.5 1122.8 L376.8 1122.7 L377.2 1122.5 L377.5 1122.4 L378.0 1122.3 L378.3 1122.2 L378.8 1122.2 L379.2 1122.1 L379.8 1122.1 L380.2 1122.1 L380.8 1122.2 L381.2 1122.2 L381.5 1122.3 L382.0 1122.4 L382.3 1122.5 L382.8 1122.6 L383.0 1122.8 L383.5 1123.0 L383.8 1123.1 L384.0 1123.2 L384.5 1123.5 L384.8 1123.7 L385.0 1123.9 L385.2 1124.1 L385.5 1124.3 L385.8 1124.5 L386.0 1124.8 L386.2 1125.0 L386.5 1125.3 L386.8 1125.6 L387.0 1125.9 L387.2 1126.2 L387.4 1126.5 L387.5 1126.8 L387.8 1127.2 L387.9 1127.5 L388.0 1127.8 L388.2 1128.2 L388.3 1128.5 L388.5 1129.0 L388.6 1129.2 L388.7 1129.8 L388.8 1130.1 L388.8 1130.5 L388.9 1131.0 L388.9 1131.5 L388.9 1132.0 L388.9 1132.5 L388.9 1133.0 L388.8 1133.5 L388.8 1133.9 L388.7 1134.2 L388.6 1134.8 L388.5 1135.0 L388.3 1135.5 L388.2 1135.8 L388.0 1136.2 L387.9 1136.5 L387.8 1136.8 L387.5 1137.2 L387.4 1137.5 L387.2 1137.8 L387.0 1138.1 L386.8 1138.4 L386.5 1138.7 L386.2 1139.0 L386.0 1139.2 L385.8 1139.5 L385.5 1139.7 L385.2 1139.9 L385.0 1140.1 L384.8 1140.3 L384.5 1140.5 L384.0 1140.8 L383.8 1140.9 L383.5 1141.0 L383.0 1141.2 L382.8 1141.4 L382.3 1141.5 L382.0 1141.6 L381.5 1141.7 L381.2 1141.8Z" fill="#000" fill-opacity="0.110" fill-rule="evenodd" stroke="none" clip-path="url(#cp2)"/><path d="M417.2 1092.5 L417.0 1092.5 L416.5 1092.4 L416.0 1092.4 L415.6 1092.2 L415.2 1092.1 L415.0 1092.0 L414.5 1091.8 L414.2 1091.6 L414.0 1091.5 L413.7 1091.2 L413.5 1091.0 L413.2 1090.8 L413.0 1090.5 L412.8 1090.2 L412.5 1089.8 L412.4 1089.5 L412.2 1089.2 L412.1 1088.8 L412.0 1088.3 L411.9 1088.0 L411.9 1087.5 L411.9 1087.0 L412.0 1086.7 L412.1 1086.2 L412.2 1085.8 L412.4 1085.5 L412.5 1085.2 L412.8 1084.8 L413.0 1084.5 L413.2 1084.2 L413.5 1084.0 L413.7 1083.8 L414.0 1083.5 L414.2 1083.4 L414.5 1083.2 L415.0 1083.0 L415.2 1082.9 L415.6 1082.8 L416.0 1082.6 L416.5 1082.6 L417.0 1082.5 L417.2 1082.5 L417.5 1082.5 L418.0 1082.5 L418.5 1082.6 L419.0 1082.8 L419.2 1082.8 L419.6 1083.0 L420.0 1083.2 L420.2 1083.3 L420.5 1083.5 L420.9 1083.8 L421.1 1084.0 L421.4 1084.2 L421.6 1084.5 L421.8 1084.8 L422.0 1085.1 L422.2 1085.5 L422.3 1085.8 L422.5 1086.2 L422.6 1086.5 L422.7 1087.0 L422.7 1087.5 L422.7 1088.0 L422.6 1088.5 L422.5 1088.8 L422.3 1089.2 L422.2 1089.5 L422.0 1089.9 L421.8 1090.2 L421.6 1090.5 L421.4 1090.8 L421.1 1091.0 L420.9 1091.2 L420.5 1091.5 L420.2 1091.7 L420.0 1091.8 L419.6 1092.0 L419.2 1092.2 L419.0 1092.2 L418.5 1092.4 L418.0 1092.5 L417.5 1092.5 L417.2 1092.5Z M410.0 1138.5 L409.5 1138.6 L409.0 1138.7 L408.5 1138.7 L408.0 1138.7 L407.5 1138.7 L407.0 1138.6 L406.5 1138.5 L406.2 1138.5 L405.8 1138.3 L405.5 1138.2 L405.1 1138.0 L404.8 1137.8 L404.5 1137.7 L404.2 1137.5 L403.9 1137.2 L403.6 1137.0 L403.3 1136.8 L403.1 1136.5 L402.9 1136.2 L402.7 1136.0 L402.5 1135.7 L402.2 1135.3 L402.1 1135.0 L402.0 1134.8 L401.8 1134.2 L401.7 1134.0 L401.5 1133.5 L401.5 1133.2 L401.4 1132.8 L401.4 1132.2 L401.4 1131.8 L401.4 1131.2 L401.5 1130.8 L401.5 1130.5 L401.6 1130.0 L401.8 1129.6 L401.9 1129.2 L402.0 1129.0 L402.2 1128.5 L402.4 1128.2 L402.5 1128.0 L402.8 1127.7 L403.0 1127.4 L403.2 1127.0 L403.4 1126.8 L403.6 1126.5 L403.8 1126.2 L404.0 1126.0 L404.2 1125.6 L404.5 1125.3 L404.7 1125.0 L404.9 1124.8 L405.0 1124.5 L405.2 1124.2 L405.5 1123.8 L405.7 1123.5 L405.9 1123.2 L406.1 1123.0 L406.2 1122.7 L406.5 1122.4 L406.8 1122.0 L406.9 1121.8 L407.1 1121.5 L407.3 1121.2 L407.5 1120.9 L407.8 1120.6 L408.0 1120.2 L408.1 1120.0 L408.3 1119.8 L408.5 1119.5 L408.8 1119.2 L409.0 1118.8 L409.2 1118.5 L409.4 1118.2 L409.6 1118.0 L409.8 1117.8 L410.0 1117.5 L410.2 1117.2 L410.5 1116.9 L410.8 1116.6 L411.0 1116.3 L411.2 1116.0 L411.5 1115.8 L411.7 1115.5 L412.0 1115.2 L412.2 1115.0 L412.4 1114.8 L412.6 1114.5 L412.9 1114.2 L413.1 1114.0 L413.4 1113.8 L413.6 1113.5 L413.9 1113.2 L414.1 1113.0 L414.4 1112.8 L414.6 1112.5 L414.9 1112.2 L415.2 1112.0 L415.4 1111.8 L415.7 1111.5 L416.0 1111.2 L416.2 1111.0 L416.5 1110.8 L416.8 1110.6 L417.0 1110.3 L417.2 1110.1 L417.5 1109.9 L417.8 1109.7 L418.0 1109.5 L418.3 1109.2 L418.7 1109.0 L419.0 1108.8 L419.2 1108.7 L419.6 1108.5 L420.0 1108.3 L420.2 1108.2 L420.8 1108.0 L421.0 1108.0 L421.5 1107.8 L422.0 1107.8 L422.2 1107.7 L422.8 1107.7 L423.2 1107.7 L423.8 1107.7 L424.2 1107.7 L424.5 1107.8 L425.0 1107.9 L425.5 1108.0 L425.8 1108.1 L426.1 1108.2 L426.5 1108.4 L426.8 1108.5 L427.1 1108.8 L427.5 1109.0 L427.8 1109.2 L428.0 1109.4 L428.2 1109.6 L428.5 1109.8 L428.8 1110.1 L429.0 1110.4 L429.2 1110.8 L429.4 1111.0 L429.6 1111.2 L429.8 1111.6 L429.9 1112.0 L430.0 1112.2 L430.2 1112.8 L430.3 1113.0 L430.4 1113.5 L430.5 1114.0 L430.5 1114.2 L430.6 1114.8 L430.6 1115.2 L430.6 1115.8 L430.5 1116.2 L430.5 1116.5 L430.4 1117.0 L430.3 1117.5 L430.2 1117.8 L430.1 1118.2 L430.0 1118.5 L429.8 1119.0 L429.7 1119.2 L429.5 1119.6 L429.3 1120.0 L429.1 1120.2 L429.0 1120.5 L428.8 1120.9 L428.6 1121.2 L428.4 1121.5 L428.2 1121.8 L428.0 1122.2 L427.8 1122.5 L427.7 1122.8 L427.5 1123.0 L427.2 1123.4 L427.1 1123.8 L426.9 1124.0 L426.7 1124.2 L426.5 1124.6 L426.2 1124.9 L426.0 1125.2 L425.9 1125.5 L425.7 1125.8 L425.5 1126.0 L425.2 1126.3 L425.0 1126.6 L424.8 1126.9 L424.5 1127.2 L424.3 1127.5 L424.0 1127.8 L423.8 1128.0 L423.6 1128.2 L423.4 1128.5 L423.1 1128.8 L422.9 1129.0 L422.6 1129.2 L422.4 1129.5 L422.1 1129.8 L421.9 1130.0 L421.6 1130.2 L421.3 1130.5 L421.0 1130.8 L420.8 1131.0 L420.5 1131.2 L420.2 1131.4 L420.0 1131.6 L419.8 1131.8 L419.5 1132.0 L419.2 1132.2 L418.9 1132.5 L418.6 1132.8 L418.2 1133.0 L418.0 1133.2 L417.8 1133.4 L417.5 1133.5 L417.2 1133.8 L416.9 1134.0 L416.6 1134.2 L416.2 1134.5 L416.0 1134.7 L415.8 1134.9 L415.5 1135.0 L415.2 1135.2 L414.9 1135.5 L414.6 1135.8 L414.3 1136.0 L414.0 1136.2 L413.8 1136.4 L413.5 1136.6 L413.2 1136.8 L413.0 1137.0 L412.7 1137.2 L412.3 1137.5 L412.0 1137.7 L411.8 1137.8 L411.4 1138.0 L411.0 1138.2 L410.8 1138.3 L410.2 1138.4 L410.0 1138.5Z M380.8 1141.3 L380.2 1141.3 L379.8 1141.3 L379.2 1141.3 L378.8 1141.3 L378.5 1141.2 L378.0 1141.1 L377.5 1141.0 L377.2 1140.9 L376.8 1140.8 L376.5 1140.6 L376.2 1140.5 L375.8 1140.2 L375.5 1140.1 L375.2 1139.9 L375.0 1139.7 L374.7 1139.5 L374.4 1139.2 L374.1 1139.0 L373.9 1138.8 L373.6 1138.5 L373.4 1138.2 L373.2 1138.0 L373.0 1137.7 L372.8 1137.4 L372.5 1137.0 L372.4 1136.8 L372.2 1136.5 L372.0 1136.0 L371.9 1135.8 L371.8 1135.3 L371.6 1135.0 L371.5 1134.5 L371.4 1134.2 L371.3 1133.8 L371.3 1133.2 L371.2 1133.0 L371.2 1132.5 L371.2 1132.0 L371.2 1131.5 L371.2 1131.0 L371.3 1130.8 L371.3 1130.2 L371.4 1129.8 L371.5 1129.5 L371.6 1129.0 L371.8 1128.7 L371.9 1128.2 L372.0 1128.0 L372.2 1127.5 L372.4 1127.2 L372.5 1127.0 L372.8 1126.6 L373.0 1126.3 L373.2 1126.0 L373.4 1125.8 L373.6 1125.5 L373.9 1125.2 L374.1 1125.0 L374.4 1124.8 L374.7 1124.5 L375.0 1124.3 L375.2 1124.1 L375.5 1123.9 L375.8 1123.8 L376.2 1123.5 L376.5 1123.4 L376.8 1123.2 L377.2 1123.1 L377.5 1123.0 L378.0 1122.9 L378.5 1122.8 L378.8 1122.7 L379.2 1122.7 L379.8 1122.7 L380.2 1122.7 L380.8 1122.7 L381.0 1122.8 L381.5 1122.9 L382.0 1123.0 L382.2 1123.1 L382.8 1123.2 L383.0 1123.3 L383.3 1123.5 L383.8 1123.7 L384.0 1123.9 L384.2 1124.0 L384.6 1124.2 L384.9 1124.5 L385.2 1124.8 L385.5 1125.0 L385.7 1125.2 L386.0 1125.5 L386.2 1125.8 L386.4 1126.0 L386.6 1126.2 L386.8 1126.5 L387.0 1126.9 L387.2 1127.2 L387.3 1127.5 L387.5 1127.8 L387.7 1128.2 L387.8 1128.5 L388.0 1129.0 L388.0 1129.2 L388.2 1129.8 L388.2 1130.2 L388.3 1130.5 L388.4 1131.0 L388.4 1131.5 L388.4 1132.0 L388.4 1132.5 L388.4 1133.0 L388.3 1133.5 L388.2 1133.8 L388.2 1134.2 L388.0 1134.8 L388.0 1135.0 L387.8 1135.5 L387.7 1135.8 L387.5 1136.2 L387.3 1136.5 L387.2 1136.8 L387.0 1137.1 L386.8 1137.5 L386.6 1137.8 L386.4 1138.0 L386.2 1138.2 L386.0 1138.5 L385.7 1138.8 L385.5 1139.0 L385.2 1139.2 L384.9 1139.5 L384.6 1139.8 L384.2 1140.0 L384.0 1140.1 L383.8 1140.3 L383.3 1140.5 L383.0 1140.7 L382.8 1140.8 L382.2 1140.9 L382.0 1141.0 L381.5 1141.1 L381.0 1141.2 L380.8 1141.3Z" fill="#000" fill-opacity="0.110" fill-rule="evenodd" stroke="none" clip-path="url(#cp2)"/><path d="M418.0 1091.0 L417.5 1091.1 L417.0 1091.1 L416.5 1091.0 L416.2 1091.0 L415.8 1090.8 L415.5 1090.7 L415.2 1090.5 L414.8 1090.2 L414.5 1090.0 L414.3 1089.8 L414.1 1089.5 L413.9 1089.2 L413.8 1088.9 L413.6 1088.5 L413.5 1088.2 L413.4 1087.8 L413.4 1087.2 L413.5 1086.8 L413.6 1086.5 L413.8 1086.1 L413.9 1085.8 L414.1 1085.5 L414.3 1085.2 L414.5 1085.0 L414.8 1084.8 L415.2 1084.5 L415.5 1084.3 L415.8 1084.2 L416.2 1084.0 L416.5 1084.0 L417.0 1083.9 L417.5 1083.9 L418.0 1084.0 L418.2 1084.0 L418.8 1084.2 L419.0 1084.3 L419.4 1084.5 L419.8 1084.7 L420.0 1084.9 L420.2 1085.2 L420.5 1085.5 L420.7 1085.8 L420.8 1086.0 L421.0 1086.4 L421.1 1086.8 L421.2 1087.2 L421.2 1087.8 L421.1 1088.2 L421.0 1088.6 L420.8 1089.0 L420.7 1089.2 L420.5 1089.5 L420.2 1089.8 L420.0 1090.1 L419.8 1090.3 L419.4 1090.5 L419.0 1090.7 L418.8 1090.8 L418.2 1091.0 L418.0 1091.0Z M409.0 1138.0 L408.5 1138.1 L408.0 1138.1 L407.5 1138.0 L407.2 1138.0 L406.8 1137.9 L406.2 1137.8 L406.0 1137.7 L405.6 1137.5 L405.2 1137.3 L405.0 1137.2 L404.7 1137.0 L404.3 1136.8 L404.0 1136.5 L403.8 1136.2 L403.5 1136.0 L403.3 1135.8 L403.1 1135.5 L403.0 1135.2 L402.8 1134.9 L402.6 1134.5 L402.5 1134.2 L402.3 1133.8 L402.2 1133.5 L402.1 1133.0 L402.0 1132.5 L402.0 1132.0 L402.0 1131.5 L402.1 1131.0 L402.2 1130.5 L402.2 1130.2 L402.4 1129.8 L402.5 1129.5 L402.7 1129.0 L402.9 1128.8 L403.0 1128.5 L403.2 1128.1 L403.5 1127.8 L403.7 1127.5 L403.9 1127.2 L404.1 1127.0 L404.3 1126.8 L404.5 1126.4 L404.8 1126.1 L405.0 1125.8 L405.2 1125.5 L405.3 1125.2 L405.5 1125.0 L405.8 1124.7 L406.0 1124.3 L406.2 1124.0 L406.4 1123.8 L406.5 1123.5 L406.8 1123.2 L407.0 1122.8 L407.2 1122.5 L407.4 1122.2 L407.6 1122.0 L407.8 1121.7 L408.0 1121.4 L408.2 1121.0 L408.5 1120.8 L408.6 1120.5 L408.8 1120.2 L409.0 1120.0 L409.2 1119.7 L409.5 1119.3 L409.7 1119.0 L409.9 1118.8 L410.1 1118.5 L410.3 1118.2 L410.5 1118.0 L410.8 1117.7 L411.0 1117.4 L411.2 1117.1 L411.5 1116.8 L411.8 1116.5 L412.0 1116.2 L412.2 1116.0 L412.4 1115.8 L412.7 1115.5 L412.9 1115.2 L413.1 1115.0 L413.4 1114.8 L413.6 1114.5 L413.9 1114.2 L414.1 1114.0 L414.4 1113.8 L414.6 1113.5 L414.9 1113.2 L415.1 1113.0 L415.4 1112.8 L415.7 1112.5 L415.9 1112.2 L416.2 1112.0 L416.5 1111.8 L416.7 1111.5 L417.0 1111.3 L417.2 1111.0 L417.5 1110.8 L417.8 1110.6 L418.0 1110.4 L418.2 1110.2 L418.5 1110.0 L418.8 1109.8 L419.2 1109.5 L419.5 1109.3 L419.8 1109.2 L420.2 1109.0 L420.5 1108.9 L420.8 1108.8 L421.2 1108.6 L421.8 1108.5 L422.0 1108.5 L422.5 1108.4 L423.0 1108.4 L423.5 1108.4 L424.0 1108.4 L424.5 1108.5 L424.8 1108.6 L425.2 1108.7 L425.5 1108.8 L426.0 1109.0 L426.2 1109.1 L426.5 1109.3 L426.9 1109.5 L427.2 1109.7 L427.5 1110.0 L427.8 1110.2 L428.0 1110.4 L428.2 1110.7 L428.5 1111.0 L428.7 1111.2 L428.8 1111.5 L429.0 1111.8 L429.2 1112.2 L429.3 1112.5 L429.5 1112.9 L429.6 1113.2 L429.7 1113.8 L429.8 1114.0 L429.8 1114.5 L429.9 1115.0 L429.9 1115.5 L429.8 1116.0 L429.8 1116.5 L429.7 1116.8 L429.6 1117.2 L429.5 1117.6 L429.4 1118.0 L429.2 1118.3 L429.1 1118.8 L429.0 1119.0 L428.8 1119.4 L428.6 1119.8 L428.4 1120.0 L428.2 1120.3 L428.0 1120.7 L427.8 1121.0 L427.7 1121.2 L427.5 1121.6 L427.2 1122.0 L427.1 1122.2 L426.9 1122.5 L426.8 1122.8 L426.5 1123.2 L426.3 1123.5 L426.1 1123.8 L426.0 1124.0 L425.8 1124.3 L425.5 1124.7 L425.2 1125.0 L425.1 1125.2 L424.9 1125.5 L424.7 1125.8 L424.5 1126.0 L424.2 1126.3 L424.0 1126.6 L423.8 1126.9 L423.5 1127.2 L423.2 1127.5 L423.0 1127.7 L422.8 1128.0 L422.5 1128.2 L422.3 1128.5 L422.0 1128.8 L421.8 1129.0 L421.5 1129.2 L421.2 1129.5 L421.0 1129.7 L420.8 1129.9 L420.5 1130.2 L420.2 1130.4 L420.0 1130.6 L419.8 1130.8 L419.5 1131.0 L419.2 1131.2 L418.9 1131.5 L418.6 1131.8 L418.3 1132.0 L418.0 1132.2 L417.8 1132.4 L417.5 1132.6 L417.2 1132.8 L417.0 1133.0 L416.6 1133.2 L416.3 1133.5 L416.0 1133.7 L415.8 1133.9 L415.5 1134.1 L415.2 1134.3 L415.0 1134.5 L414.7 1134.8 L414.4 1135.0 L414.0 1135.2 L413.8 1135.5 L413.5 1135.7 L413.2 1135.9 L413.0 1136.1 L412.8 1136.3 L412.5 1136.5 L412.2 1136.8 L411.8 1137.0 L411.5 1137.2 L411.2 1137.3 L410.9 1137.5 L410.5 1137.6 L410.2 1137.8 L409.8 1137.9 L409.2 1138.0 L409.0 1138.0Z M381.5 1140.5 L381.0 1140.6 L380.5 1140.7 L380.0 1140.7 L379.5 1140.7 L379.0 1140.7 L378.5 1140.6 L378.0 1140.5 L377.8 1140.5 L377.2 1140.3 L377.0 1140.2 L376.6 1140.0 L376.2 1139.8 L376.0 1139.7 L375.7 1139.5 L375.3 1139.2 L375.0 1139.0 L374.8 1138.8 L374.5 1138.6 L374.2 1138.3 L374.0 1138.1 L373.8 1137.8 L373.5 1137.5 L373.4 1137.2 L373.2 1137.0 L373.0 1136.7 L372.8 1136.2 L372.6 1136.0 L372.5 1135.7 L372.3 1135.2 L372.2 1135.0 L372.1 1134.5 L372.0 1134.2 L371.9 1133.8 L371.8 1133.2 L371.8 1132.8 L371.7 1132.5 L371.7 1132.0 L371.7 1131.5 L371.8 1131.2 L371.8 1130.8 L371.9 1130.2 L372.0 1129.8 L372.1 1129.5 L372.2 1129.0 L372.3 1128.8 L372.5 1128.3 L372.6 1128.0 L372.8 1127.8 L373.0 1127.3 L373.2 1127.0 L373.4 1126.8 L373.5 1126.5 L373.8 1126.2 L374.0 1125.9 L374.2 1125.7 L374.5 1125.4 L374.8 1125.2 L375.0 1125.0 L375.3 1124.8 L375.7 1124.5 L376.0 1124.3 L376.2 1124.2 L376.6 1124.0 L377.0 1123.8 L377.2 1123.7 L377.8 1123.5 L378.0 1123.5 L378.5 1123.4 L379.0 1123.3 L379.5 1123.3 L380.0 1123.3 L380.5 1123.3 L381.0 1123.4 L381.5 1123.5 L381.8 1123.5 L382.2 1123.7 L382.5 1123.8 L383.0 1124.0 L383.2 1124.1 L383.5 1124.2 L383.9 1124.5 L384.2 1124.7 L384.5 1124.9 L384.8 1125.1 L385.0 1125.3 L385.2 1125.6 L385.5 1125.8 L385.8 1126.1 L386.0 1126.4 L386.2 1126.8 L386.4 1127.0 L386.6 1127.2 L386.8 1127.6 L387.0 1128.0 L387.1 1128.2 L387.2 1128.7 L387.4 1129.0 L387.5 1129.4 L387.6 1129.8 L387.7 1130.2 L387.8 1130.5 L387.8 1131.0 L387.9 1131.5 L387.9 1132.0 L387.9 1132.5 L387.8 1133.0 L387.8 1133.5 L387.7 1133.8 L387.6 1134.2 L387.5 1134.6 L387.4 1135.0 L387.2 1135.3 L387.1 1135.8 L387.0 1136.0 L386.8 1136.4 L386.6 1136.8 L386.4 1137.0 L386.2 1137.2 L386.0 1137.6 L385.8 1137.9 L385.5 1138.2 L385.2 1138.4 L385.0 1138.7 L384.8 1138.9 L384.5 1139.1 L384.2 1139.3 L383.9 1139.5 L383.5 1139.8 L383.2 1139.9 L383.0 1140.0 L382.5 1140.2 L382.2 1140.3 L381.8 1140.5 L381.5 1140.5Z" fill="#000" fill-opacity="0.110" fill-rule="evenodd" stroke="none" clip-path="url(#cp2)"/><path d="M418.2 1089.5 L417.8 1089.7 L417.2 1089.7 L416.8 1089.6 L416.3 1089.5 L416.0 1089.3 L415.8 1089.2 L415.5 1088.9 L415.2 1088.6 L415.1 1088.2 L415.0 1088.0 L414.9 1087.5 L415.0 1087.0 L415.1 1086.8 L415.2 1086.4 L415.5 1086.1 L415.8 1085.8 L416.0 1085.7 L416.3 1085.5 L416.8 1085.4 L417.2 1085.3 L417.8 1085.3 L418.2 1085.5 L418.5 1085.6 L418.8 1085.8 L419.0 1086.0 L419.2 1086.3 L419.5 1086.7 L419.6 1087.0 L419.7 1087.5 L419.6 1088.0 L419.5 1088.3 L419.2 1088.7 L419.0 1089.0 L418.8 1089.2 L418.5 1089.4 L418.2 1089.5Z M409.0 1137.3 L408.5 1137.3 L408.0 1137.3 L407.5 1137.3 L407.2 1137.2 L406.8 1137.1 L406.3 1137.0 L406.0 1136.9 L405.7 1136.8 L405.3 1136.5 L405.0 1136.3 L404.8 1136.1 L404.5 1135.9 L404.2 1135.7 L404.0 1135.4 L403.8 1135.1 L403.5 1134.8 L403.4 1134.5 L403.2 1134.2 L403.1 1133.8 L403.0 1133.5 L402.9 1133.0 L402.8 1132.5 L402.8 1132.0 L402.8 1131.9 L402.8 1131.5 L402.8 1131.0 L402.9 1130.5 L403.0 1130.2 L403.2 1129.8 L403.3 1129.5 L403.5 1129.1 L403.7 1128.8 L403.9 1128.5 L404.1 1128.2 L404.3 1128.0 L404.5 1127.7 L404.8 1127.3 L405.0 1127.0 L405.2 1126.8 L405.4 1126.5 L405.5 1126.2 L405.8 1125.9 L406.0 1125.6 L406.2 1125.2 L406.4 1125.0 L406.6 1124.8 L406.8 1124.5 L407.0 1124.1 L407.2 1123.8 L407.4 1123.5 L407.6 1123.2 L407.8 1123.0 L408.0 1122.7 L408.2 1122.3 L408.5 1122.0 L408.6 1121.8 L408.8 1121.5 L409.0 1121.2 L409.2 1120.9 L409.5 1120.6 L409.7 1120.2 L409.9 1120.0 L410.1 1119.8 L410.3 1119.5 L410.5 1119.2 L410.8 1118.9 L411.0 1118.6 L411.2 1118.3 L411.5 1118.0 L411.7 1117.8 L411.9 1117.5 L412.1 1117.2 L412.3 1117.0 L412.5 1116.8 L412.8 1116.5 L413.0 1116.2 L413.2 1116.0 L413.5 1115.7 L413.8 1115.4 L414.0 1115.2 L414.2 1114.9 L414.5 1114.7 L414.8 1114.4 L415.0 1114.2 L415.2 1113.9 L415.5 1113.7 L415.8 1113.4 L416.0 1113.2 L416.2 1113.0 L416.5 1112.7 L416.8 1112.5 L417.0 1112.2 L417.3 1112.0 L417.6 1111.8 L417.9 1111.5 L418.1 1111.2 L418.4 1111.0 L418.7 1110.8 L419.0 1110.5 L419.2 1110.3 L419.5 1110.2 L419.8 1110.0 L420.2 1109.8 L420.5 1109.7 L420.9 1109.5 L421.2 1109.4 L421.8 1109.3 L422.0 1109.2 L422.5 1109.2 L423.0 1109.1 L423.5 1109.1 L424.0 1109.2 L424.3 1109.2 L424.8 1109.4 L425.2 1109.5 L425.5 1109.6 L425.8 1109.8 L426.2 1110.0 L426.5 1110.2 L426.8 1110.4 L427.0 1110.6 L427.2 1110.8 L427.5 1111.1 L427.8 1111.4 L428.0 1111.7 L428.2 1112.0 L428.3 1112.2 L428.5 1112.6 L428.7 1113.0 L428.8 1113.2 L428.9 1113.8 L429.0 1114.2 L429.0 1114.5 L429.1 1115.0 L429.1 1115.5 L429.0 1116.0 L429.0 1116.3 L428.9 1116.8 L428.8 1117.2 L428.7 1117.5 L428.5 1118.0 L428.4 1118.2 L428.2 1118.7 L428.1 1119.0 L427.9 1119.2 L427.8 1119.6 L427.5 1120.0 L427.4 1120.2 L427.2 1120.5 L427.0 1120.8 L426.8 1121.2 L426.6 1121.5 L426.4 1121.8 L426.2 1122.0 L426.0 1122.4 L425.8 1122.8 L425.6 1123.0 L425.5 1123.2 L425.2 1123.6 L425.0 1123.9 L424.8 1124.2 L424.6 1124.5 L424.4 1124.8 L424.2 1125.0 L424.0 1125.3 L423.8 1125.6 L423.5 1125.9 L423.2 1126.2 L423.0 1126.5 L422.8 1126.8 L422.5 1127.0 L422.3 1127.2 L422.1 1127.5 L421.8 1127.8 L421.6 1128.0 L421.3 1128.2 L421.1 1128.5 L420.8 1128.8 L420.5 1129.0 L420.3 1129.2 L420.0 1129.5 L419.8 1129.7 L419.5 1129.9 L419.2 1130.1 L419.0 1130.3 L418.8 1130.6 L418.5 1130.8 L418.2 1131.0 L417.9 1131.2 L417.6 1131.5 L417.2 1131.7 L417.0 1131.9 L416.8 1132.1 L416.5 1132.3 L416.2 1132.5 L416.0 1132.8 L415.6 1133.0 L415.3 1133.2 L415.0 1133.5 L414.8 1133.7 L414.5 1133.9 L414.2 1134.1 L414.0 1134.3 L413.7 1134.5 L413.4 1134.8 L413.1 1135.0 L412.8 1135.2 L412.5 1135.5 L412.2 1135.7 L412.0 1135.9 L411.8 1136.1 L411.5 1136.3 L411.2 1136.5 L410.8 1136.7 L410.5 1136.8 L410.1 1137.0 L409.8 1137.1 L409.2 1137.2 L409.0 1137.3Z M380.8 1140.0 L380.2 1140.1 L379.8 1140.1 L379.2 1140.1 L378.8 1140.0 L378.5 1140.0 L378.0 1139.9 L377.6 1139.8 L377.2 1139.6 L377.0 1139.5 L376.5 1139.3 L376.2 1139.1 L376.0 1139.0 L375.7 1138.8 L375.3 1138.5 L375.0 1138.2 L374.8 1138.0 L374.5 1137.8 L374.3 1137.5 L374.1 1137.2 L373.9 1137.0 L373.7 1136.8 L373.5 1136.4 L373.3 1136.0 L373.2 1135.8 L373.0 1135.4 L372.8 1135.0 L372.8 1134.7 L372.6 1134.2 L372.5 1133.8 L372.4 1133.5 L372.4 1133.0 L372.3 1132.5 L372.3 1132.0 L372.3 1131.5 L372.4 1131.0 L372.4 1130.5 L372.5 1130.2 L372.6 1129.8 L372.8 1129.3 L372.8 1129.0 L373.0 1128.6 L373.2 1128.2 L373.3 1128.0 L373.5 1127.6 L373.7 1127.2 L373.9 1127.0 L374.1 1126.8 L374.3 1126.5 L374.5 1126.2 L374.8 1126.0 L375.0 1125.8 L375.3 1125.5 L375.7 1125.2 L376.0 1125.0 L376.2 1124.9 L376.5 1124.7 L377.0 1124.5 L377.2 1124.4 L377.6 1124.2 L378.0 1124.1 L378.5 1124.0 L378.8 1124.0 L379.2 1123.9 L379.8 1123.9 L380.2 1123.9 L380.8 1124.0 L381.0 1124.0 L381.5 1124.1 L382.0 1124.2 L382.2 1124.3 L382.6 1124.5 L383.0 1124.7 L383.2 1124.8 L383.6 1125.0 L383.9 1125.2 L384.2 1125.5 L384.5 1125.7 L384.8 1125.9 L385.0 1126.2 L385.2 1126.4 L385.5 1126.8 L385.7 1127.0 L385.9 1127.2 L386.0 1127.5 L386.2 1127.9 L386.4 1128.2 L386.5 1128.5 L386.7 1129.0 L386.8 1129.2 L387.0 1129.8 L387.1 1130.0 L387.2 1130.5 L387.2 1131.0 L387.2 1131.3 L387.3 1131.8 L387.3 1132.2 L387.2 1132.7 L387.2 1133.0 L387.2 1133.5 L387.1 1134.0 L387.0 1134.2 L386.8 1134.8 L386.7 1135.0 L386.5 1135.5 L386.4 1135.8 L386.2 1136.1 L386.0 1136.5 L385.9 1136.8 L385.7 1137.0 L385.5 1137.2 L385.2 1137.6 L385.0 1137.8 L384.8 1138.1 L384.5 1138.3 L384.2 1138.5 L383.9 1138.8 L383.6 1139.0 L383.2 1139.2 L383.0 1139.3 L382.6 1139.5 L382.2 1139.7 L382.0 1139.8 L381.5 1139.9 L381.0 1140.0 L380.8 1140.0Z" fill="#000" fill-opacity="0.110" fill-rule="evenodd" stroke="none" clip-path="url(#cp2)"/><path d="M417.5 1088.3 L417.2 1088.3 L417.0 1088.2 L417.0 1088.2 L416.8 1088.1 L416.6 1088.0 L416.5 1087.8 L416.5 1087.8 L416.4 1087.5 L416.5 1087.2 L416.5 1087.2 L416.6 1087.0 L416.8 1086.9 L417.0 1086.8 L417.0 1086.8 L417.2 1086.7 L417.5 1086.7 L417.6 1086.8 L417.8 1086.8 L418.0 1087.0 L418.0 1087.1 L418.1 1087.2 L418.2 1087.5 L418.1 1087.8 L418.0 1087.9 L418.0 1088.0 L417.8 1088.2 L417.6 1088.2 L417.5 1088.3Z M409.5 1136.3 L409.0 1136.4 L408.5 1136.5 L408.0 1136.5 L407.5 1136.4 L407.0 1136.3 L406.7 1136.2 L406.2 1136.1 L406.0 1135.9 L405.7 1135.8 L405.3 1135.5 L405.0 1135.2 L404.8 1135.0 L404.6 1134.8 L404.4 1134.5 L404.2 1134.2 L404.0 1133.8 L403.9 1133.5 L403.8 1133.1 L403.7 1132.8 L403.6 1132.2 L403.6 1131.8 L403.6 1131.2 L403.7 1130.8 L403.8 1130.5 L404.0 1130.0 L404.1 1129.8 L404.3 1129.5 L404.5 1129.1 L404.8 1128.8 L405.0 1128.5 L405.1 1128.2 L405.3 1128.0 L405.5 1127.7 L405.8 1127.4 L406.0 1127.0 L406.2 1126.8 L406.4 1126.5 L406.5 1126.2 L406.8 1126.0 L407.0 1125.6 L407.2 1125.2 L407.4 1125.0 L407.6 1124.8 L407.8 1124.5 L408.0 1124.1 L408.2 1123.8 L408.4 1123.5 L408.6 1123.2 L408.8 1123.0 L409.0 1122.7 L409.2 1122.3 L409.5 1122.0 L409.6 1121.8 L409.8 1121.5 L410.0 1121.2 L410.2 1120.9 L410.5 1120.6 L410.7 1120.2 L410.9 1120.0 L411.1 1119.8 L411.3 1119.5 L411.5 1119.2 L411.8 1118.9 L412.0 1118.6 L412.2 1118.3 L412.5 1118.0 L412.7 1117.8 L413.0 1117.5 L413.2 1117.2 L413.4 1117.0 L413.6 1116.8 L413.9 1116.5 L414.1 1116.2 L414.3 1116.0 L414.6 1115.8 L414.8 1115.5 L415.1 1115.2 L415.3 1115.0 L415.6 1114.8 L415.8 1114.5 L416.1 1114.2 L416.3 1114.0 L416.6 1113.8 L416.9 1113.5 L417.1 1113.2 L417.4 1113.0 L417.7 1112.8 L418.0 1112.5 L418.2 1112.3 L418.5 1112.0 L418.8 1111.8 L419.0 1111.6 L419.2 1111.4 L419.5 1111.2 L419.8 1111.0 L420.2 1110.8 L420.5 1110.6 L420.8 1110.5 L421.2 1110.3 L421.5 1110.2 L422.0 1110.1 L422.5 1110.0 L422.8 1110.0 L423.2 1110.0 L423.5 1110.0 L424.0 1110.1 L424.5 1110.2 L424.8 1110.3 L425.2 1110.5 L425.5 1110.6 L425.8 1110.8 L426.1 1111.0 L426.4 1111.2 L426.7 1111.5 L426.9 1111.8 L427.1 1112.0 L427.3 1112.2 L427.5 1112.5 L427.7 1113.0 L427.8 1113.2 L428.0 1113.7 L428.1 1114.0 L428.2 1114.5 L428.2 1115.0 L428.2 1115.5 L428.2 1116.0 L428.1 1116.5 L428.0 1116.9 L427.9 1117.2 L427.8 1117.7 L427.6 1118.0 L427.5 1118.2 L427.2 1118.7 L427.1 1119.0 L426.9 1119.2 L426.8 1119.5 L426.5 1119.9 L426.3 1120.2 L426.2 1120.5 L426.0 1120.8 L425.8 1121.2 L425.5 1121.5 L425.4 1121.8 L425.2 1122.0 L425.0 1122.3 L424.8 1122.7 L424.5 1123.0 L424.4 1123.2 L424.2 1123.5 L424.0 1123.8 L423.8 1124.1 L423.5 1124.4 L423.2 1124.7 L423.0 1125.0 L422.8 1125.2 L422.6 1125.5 L422.4 1125.8 L422.2 1126.0 L422.0 1126.2 L421.8 1126.5 L421.5 1126.8 L421.2 1127.0 L421.0 1127.3 L420.8 1127.5 L420.5 1127.8 L420.2 1128.0 L420.0 1128.3 L419.7 1128.5 L419.5 1128.8 L419.2 1129.0 L418.9 1129.2 L418.6 1129.5 L418.3 1129.8 L418.0 1130.0 L417.8 1130.2 L417.5 1130.4 L417.2 1130.6 L417.0 1130.8 L416.8 1131.0 L416.4 1131.2 L416.1 1131.5 L415.8 1131.8 L415.5 1132.0 L415.2 1132.2 L415.0 1132.4 L414.8 1132.6 L414.5 1132.8 L414.2 1133.0 L413.9 1133.2 L413.5 1133.5 L413.2 1133.7 L413.0 1133.9 L412.8 1134.1 L412.5 1134.4 L412.2 1134.6 L412.0 1134.8 L411.7 1135.0 L411.4 1135.2 L411.1 1135.5 L410.8 1135.7 L410.5 1135.9 L410.2 1136.0 L409.8 1136.2 L409.5 1136.3Z M381.0 1139.3 L380.5 1139.4 L380.0 1139.4 L379.5 1139.4 L379.0 1139.4 L378.5 1139.3 L378.2 1139.2 L377.8 1139.1 L377.5 1139.0 L377.0 1138.8 L376.8 1138.6 L376.5 1138.5 L376.1 1138.2 L375.8 1138.0 L375.5 1137.8 L375.2 1137.5 L375.0 1137.3 L374.8 1137.0 L374.5 1136.8 L374.4 1136.5 L374.2 1136.2 L374.0 1135.9 L373.8 1135.5 L373.6 1135.2 L373.5 1134.9 L373.4 1134.5 L373.2 1134.2 L373.1 1133.8 L373.1 1133.2 L373.0 1132.8 L373.0 1132.5 L373.0 1132.0 L373.0 1131.5 L373.0 1131.2 L373.1 1130.8 L373.1 1130.2 L373.2 1129.8 L373.4 1129.5 L373.5 1129.1 L373.6 1128.8 L373.8 1128.5 L374.0 1128.1 L374.2 1127.8 L374.4 1127.5 L374.5 1127.2 L374.8 1127.0 L375.0 1126.7 L375.2 1126.5 L375.5 1126.2 L375.8 1126.0 L376.1 1125.8 L376.5 1125.5 L376.8 1125.4 L377.0 1125.2 L377.5 1125.0 L377.8 1124.9 L378.2 1124.8 L378.5 1124.7 L379.0 1124.6 L379.5 1124.6 L380.0 1124.6 L380.5 1124.6 L381.0 1124.7 L381.2 1124.8 L381.8 1124.9 L382.1 1125.0 L382.5 1125.2 L382.8 1125.3 L383.1 1125.5 L383.5 1125.8 L383.8 1125.9 L384.0 1126.1 L384.2 1126.4 L384.5 1126.6 L384.8 1126.9 L385.0 1127.2 L385.2 1127.5 L385.4 1127.8 L385.6 1128.0 L385.8 1128.3 L386.0 1128.8 L386.1 1129.0 L386.2 1129.5 L386.3 1129.8 L386.5 1130.2 L386.5 1130.5 L386.6 1131.0 L386.6 1131.5 L386.6 1132.0 L386.6 1132.5 L386.6 1133.0 L386.5 1133.5 L386.5 1133.8 L386.3 1134.2 L386.2 1134.5 L386.1 1135.0 L386.0 1135.2 L385.8 1135.7 L385.6 1136.0 L385.4 1136.2 L385.2 1136.5 L385.0 1136.8 L384.8 1137.1 L384.5 1137.4 L384.2 1137.6 L384.0 1137.9 L383.8 1138.1 L383.5 1138.2 L383.1 1138.5 L382.8 1138.7 L382.5 1138.8 L382.1 1139.0 L381.8 1139.1 L381.2 1139.2 L381.0 1139.3Z" fill="#000" fill-opacity="0.110" fill-rule="evenodd" stroke="none" clip-path="url(#cp2)"/><path d="M409.2 1135.3 L408.8 1135.4 L408.2 1135.4 L407.8 1135.4 L407.2 1135.3 L407.0 1135.2 L406.5 1135.0 L406.2 1134.9 L406.0 1134.7 L405.8 1134.5 L405.5 1134.2 L405.2 1133.9 L405.0 1133.5 L404.9 1133.2 L404.8 1132.8 L404.7 1132.5 L404.6 1132.0 L404.7 1131.5 L404.8 1131.0 L404.8 1130.8 L405.0 1130.3 L405.2 1130.0 L405.3 1129.8 L405.5 1129.5 L405.8 1129.2 L406.0 1128.8 L406.2 1128.5 L406.4 1128.2 L406.6 1128.0 L406.8 1127.7 L407.0 1127.3 L407.2 1127.0 L407.4 1126.8 L407.6 1126.5 L407.8 1126.2 L408.0 1125.8 L408.2 1125.5 L408.4 1125.2 L408.6 1125.0 L408.8 1124.7 L409.0 1124.3 L409.2 1124.0 L409.4 1123.8 L409.6 1123.5 L409.8 1123.2 L410.0 1122.9 L410.2 1122.5 L410.4 1122.2 L410.6 1122.0 L410.8 1121.8 L411.0 1121.4 L411.2 1121.1 L411.5 1120.8 L411.7 1120.5 L411.9 1120.2 L412.1 1120.0 L412.3 1119.8 L412.5 1119.5 L412.8 1119.2 L413.0 1118.9 L413.2 1118.6 L413.5 1118.3 L413.7 1118.0 L414.0 1117.8 L414.2 1117.5 L414.4 1117.2 L414.6 1117.0 L414.9 1116.8 L415.1 1116.5 L415.4 1116.2 L415.6 1116.0 L415.9 1115.8 L416.1 1115.5 L416.4 1115.2 L416.6 1115.0 L416.9 1114.8 L417.2 1114.5 L417.4 1114.2 L417.7 1114.0 L418.0 1113.8 L418.2 1113.5 L418.5 1113.3 L418.8 1113.1 L419.0 1112.9 L419.2 1112.7 L419.5 1112.4 L419.8 1112.2 L420.0 1112.0 L420.4 1111.8 L420.8 1111.5 L421.0 1111.4 L421.4 1111.2 L421.8 1111.1 L422.2 1111.0 L422.5 1111.0 L423.0 1111.0 L423.5 1111.0 L423.8 1111.0 L424.2 1111.2 L424.5 1111.2 L425.0 1111.5 L425.2 1111.6 L425.5 1111.8 L425.8 1112.0 L426.0 1112.2 L426.3 1112.5 L426.5 1112.8 L426.7 1113.2 L426.9 1113.5 L427.0 1113.9 L427.1 1114.2 L427.2 1114.8 L427.2 1115.2 L427.2 1115.8 L427.1 1116.2 L427.0 1116.8 L426.9 1117.0 L426.8 1117.5 L426.6 1117.8 L426.5 1118.0 L426.2 1118.4 L426.0 1118.8 L425.9 1119.0 L425.7 1119.2 L425.5 1119.7 L425.3 1120.0 L425.1 1120.2 L425.0 1120.5 L424.8 1120.9 L424.5 1121.2 L424.3 1121.5 L424.2 1121.8 L424.0 1122.0 L423.8 1122.4 L423.5 1122.7 L423.3 1123.0 L423.1 1123.2 L422.9 1123.5 L422.7 1123.8 L422.5 1124.1 L422.2 1124.4 L422.0 1124.7 L421.8 1125.0 L421.5 1125.2 L421.3 1125.5 L421.1 1125.8 L420.8 1126.0 L420.6 1126.2 L420.4 1126.5 L420.1 1126.8 L419.9 1127.0 L419.6 1127.2 L419.3 1127.5 L419.1 1127.8 L418.8 1128.0 L418.5 1128.2 L418.2 1128.5 L418.0 1128.7 L417.8 1128.9 L417.5 1129.1 L417.2 1129.3 L417.0 1129.5 L416.7 1129.8 L416.4 1130.0 L416.1 1130.2 L415.8 1130.5 L415.5 1130.7 L415.2 1130.9 L415.0 1131.1 L414.8 1131.3 L414.4 1131.5 L414.1 1131.8 L413.8 1132.0 L413.5 1132.2 L413.2 1132.4 L413.0 1132.6 L412.8 1132.8 L412.5 1133.0 L412.2 1133.2 L411.9 1133.5 L411.6 1133.8 L411.3 1134.0 L411.0 1134.2 L410.8 1134.4 L410.5 1134.6 L410.2 1134.8 L409.9 1135.0 L409.5 1135.2 L409.2 1135.3Z M381.0 1138.5 L380.5 1138.6 L380.0 1138.7 L379.5 1138.7 L379.0 1138.6 L378.5 1138.5 L378.2 1138.4 L377.8 1138.3 L377.5 1138.2 L377.1 1138.0 L376.8 1137.8 L376.5 1137.6 L376.2 1137.4 L376.0 1137.2 L375.7 1137.0 L375.5 1136.8 L375.2 1136.5 L375.0 1136.2 L374.8 1135.8 L374.6 1135.5 L374.4 1135.2 L374.2 1134.9 L374.1 1134.5 L374.0 1134.2 L373.9 1133.8 L373.8 1133.2 L373.7 1133.0 L373.7 1132.5 L373.7 1132.0 L373.7 1131.5 L373.7 1131.0 L373.8 1130.8 L373.9 1130.2 L374.0 1129.8 L374.1 1129.5 L374.2 1129.1 L374.4 1128.8 L374.6 1128.5 L374.8 1128.2 L375.0 1127.8 L375.2 1127.5 L375.5 1127.2 L375.7 1127.0 L376.0 1126.8 L376.2 1126.6 L376.5 1126.4 L376.8 1126.2 L377.1 1126.0 L377.5 1125.8 L377.8 1125.7 L378.2 1125.6 L378.5 1125.5 L379.0 1125.4 L379.5 1125.3 L380.0 1125.3 L380.5 1125.4 L381.0 1125.5 L381.2 1125.5 L381.8 1125.7 L382.0 1125.8 L382.5 1126.0 L382.8 1126.2 L383.0 1126.3 L383.3 1126.5 L383.6 1126.8 L383.9 1127.0 L384.1 1127.2 L384.3 1127.5 L384.5 1127.8 L384.8 1128.1 L385.0 1128.5 L385.2 1128.8 L385.3 1129.0 L385.5 1129.5 L385.6 1129.8 L385.7 1130.2 L385.8 1130.5 L385.9 1131.0 L385.9 1131.5 L385.9 1132.0 L385.9 1132.5 L385.9 1133.0 L385.8 1133.5 L385.7 1133.8 L385.6 1134.2 L385.5 1134.5 L385.3 1135.0 L385.2 1135.2 L385.0 1135.5 L384.8 1135.9 L384.5 1136.2 L384.3 1136.5 L384.1 1136.8 L383.9 1137.0 L383.6 1137.2 L383.3 1137.5 L383.0 1137.7 L382.8 1137.8 L382.5 1138.0 L382.0 1138.2 L381.8 1138.3 L381.2 1138.5 L381.0 1138.5Z" fill="#000" fill-opacity="0.110" fill-rule="evenodd" stroke="none" clip-path="url(#cp2)"/><path d="M409.0 1133.8 L408.5 1133.9 L408.0 1133.9 L407.5 1133.8 L407.2 1133.7 L407.0 1133.5 L406.7 1133.2 L406.5 1133.0 L406.3 1132.5 L406.2 1132.2 L406.2 1131.8 L406.2 1131.3 L406.3 1131.0 L406.5 1130.7 L406.8 1130.3 L406.9 1130.0 L407.1 1129.8 L407.3 1129.5 L407.5 1129.1 L407.7 1128.8 L407.9 1128.5 L408.0 1128.2 L408.2 1127.9 L408.5 1127.5 L408.6 1127.2 L408.8 1127.0 L409.0 1126.6 L409.2 1126.2 L409.4 1126.0 L409.5 1125.8 L409.8 1125.4 L410.0 1125.0 L410.2 1124.8 L410.3 1124.5 L410.5 1124.2 L410.8 1123.8 L411.0 1123.5 L411.1 1123.2 L411.3 1123.0 L411.5 1122.7 L411.8 1122.3 L412.0 1122.0 L412.2 1121.8 L412.3 1121.5 L412.5 1121.2 L412.8 1120.9 L413.0 1120.6 L413.2 1120.3 L413.5 1120.0 L413.7 1119.8 L413.9 1119.5 L414.1 1119.2 L414.3 1119.0 L414.5 1118.8 L414.8 1118.5 L415.0 1118.2 L415.2 1118.0 L415.5 1117.7 L415.8 1117.4 L416.0 1117.2 L416.2 1116.9 L416.5 1116.7 L416.8 1116.4 L417.0 1116.2 L417.2 1116.0 L417.5 1115.7 L417.8 1115.5 L418.0 1115.2 L418.3 1115.0 L418.6 1114.8 L418.9 1114.5 L419.2 1114.2 L419.5 1114.0 L419.8 1113.8 L420.0 1113.6 L420.2 1113.4 L420.5 1113.2 L420.8 1113.0 L421.1 1112.8 L421.5 1112.5 L421.8 1112.4 L422.2 1112.3 L422.5 1112.2 L423.0 1112.2 L423.4 1112.2 L423.8 1112.3 L424.2 1112.5 L424.5 1112.7 L424.8 1112.8 L425.0 1113.0 L425.2 1113.3 L425.5 1113.6 L425.7 1114.0 L425.8 1114.2 L425.9 1114.8 L426.0 1115.2 L426.0 1115.8 L425.9 1116.2 L425.8 1116.6 L425.6 1117.0 L425.5 1117.2 L425.2 1117.6 L425.0 1118.0 L424.9 1118.2 L424.8 1118.5 L424.5 1119.0 L424.3 1119.2 L424.2 1119.5 L424.0 1119.8 L423.8 1120.2 L423.6 1120.5 L423.4 1120.8 L423.2 1121.0 L423.0 1121.4 L422.8 1121.7 L422.6 1122.0 L422.4 1122.2 L422.2 1122.5 L422.0 1122.8 L421.8 1123.1 L421.5 1123.4 L421.2 1123.7 L421.0 1124.0 L420.8 1124.2 L420.6 1124.5 L420.4 1124.8 L420.1 1125.0 L419.9 1125.2 L419.7 1125.5 L419.4 1125.8 L419.2 1126.0 L418.9 1126.2 L418.6 1126.5 L418.4 1126.8 L418.1 1127.0 L417.8 1127.2 L417.5 1127.5 L417.2 1127.7 L417.0 1127.9 L416.8 1128.1 L416.5 1128.3 L416.2 1128.5 L416.0 1128.8 L415.6 1129.0 L415.3 1129.2 L415.0 1129.5 L414.8 1129.7 L414.5 1129.8 L414.2 1130.0 L413.9 1130.2 L413.6 1130.5 L413.2 1130.7 L413.0 1130.9 L412.8 1131.1 L412.5 1131.3 L412.2 1131.5 L411.8 1131.8 L411.5 1132.0 L411.2 1132.2 L411.0 1132.4 L410.8 1132.5 L410.5 1132.8 L410.1 1133.0 L409.8 1133.2 L409.5 1133.5 L409.2 1133.6 L409.0 1133.8Z M380.5 1137.8 L380.0 1137.8 L379.5 1137.8 L379.1 1137.8 L378.8 1137.7 L378.2 1137.6 L378.0 1137.5 L377.5 1137.2 L377.2 1137.1 L377.0 1136.9 L376.7 1136.8 L376.4 1136.5 L376.2 1136.2 L375.9 1136.0 L375.7 1135.8 L375.5 1135.5 L375.2 1135.1 L375.1 1134.8 L375.0 1134.5 L374.8 1134.0 L374.7 1133.8 L374.6 1133.2 L374.5 1132.8 L374.5 1132.5 L374.4 1132.0 L374.5 1131.5 L374.5 1131.2 L374.6 1130.8 L374.7 1130.2 L374.8 1130.0 L375.0 1129.5 L375.1 1129.2 L375.2 1128.9 L375.5 1128.5 L375.7 1128.2 L375.9 1128.0 L376.2 1127.8 L376.4 1127.5 L376.7 1127.2 L377.0 1127.1 L377.2 1126.9 L377.5 1126.8 L378.0 1126.5 L378.2 1126.4 L378.8 1126.3 L379.1 1126.2 L379.5 1126.2 L380.0 1126.2 L380.5 1126.2 L380.8 1126.3 L381.2 1126.4 L381.5 1126.5 L382.0 1126.7 L382.2 1126.8 L382.5 1127.0 L382.9 1127.2 L383.2 1127.5 L383.4 1127.8 L383.7 1128.0 L383.9 1128.2 L384.1 1128.5 L384.2 1128.8 L384.5 1129.2 L384.6 1129.5 L384.8 1129.8 L384.9 1130.2 L385.0 1130.6 L385.1 1131.0 L385.1 1131.5 L385.2 1132.0 L385.1 1132.5 L385.1 1133.0 L385.0 1133.4 L384.9 1133.8 L384.8 1134.2 L384.6 1134.5 L384.5 1134.8 L384.2 1135.2 L384.1 1135.5 L383.9 1135.8 L383.7 1136.0 L383.4 1136.2 L383.2 1136.5 L382.9 1136.8 L382.5 1137.0 L382.2 1137.2 L382.0 1137.3 L381.5 1137.5 L381.2 1137.6 L380.8 1137.7 L380.5 1137.8Z" fill="#000" fill-opacity="0.110" fill-rule="evenodd" stroke="none" clip-path="url(#cp2)"/><path d="M412.0 1128.5 L411.8 1128.5 L411.4 1128.2 L411.2 1128.0 L411.2 1127.5 L411.3 1127.2 L411.4 1126.8 L411.5 1126.4 L411.6 1126.0 L411.8 1125.7 L412.0 1125.2 L412.1 1125.0 L412.2 1124.7 L412.5 1124.2 L412.6 1124.0 L412.8 1123.8 L413.0 1123.4 L413.2 1123.0 L413.4 1122.8 L413.5 1122.5 L413.8 1122.2 L414.0 1121.8 L414.2 1121.5 L414.4 1121.2 L414.6 1121.0 L414.8 1120.8 L415.0 1120.5 L415.2 1120.2 L415.5 1119.9 L415.8 1119.6 L416.0 1119.4 L416.2 1119.1 L416.5 1118.8 L416.8 1118.6 L417.0 1118.3 L417.2 1118.1 L417.5 1117.9 L417.8 1117.6 L418.0 1117.4 L418.2 1117.2 L418.5 1117.0 L418.8 1116.8 L419.1 1116.5 L419.5 1116.2 L419.8 1116.0 L420.0 1115.9 L420.2 1115.7 L420.5 1115.5 L421.0 1115.2 L421.2 1115.1 L421.5 1115.0 L421.9 1114.8 L422.2 1114.6 L422.8 1114.5 L423.2 1114.6 L423.5 1114.9 L423.7 1115.2 L423.7 1115.8 L423.6 1116.2 L423.5 1116.5 L423.3 1117.0 L423.2 1117.3 L423.1 1117.8 L422.9 1118.0 L422.8 1118.4 L422.6 1118.8 L422.5 1119.0 L422.2 1119.4 L422.1 1119.8 L421.9 1120.0 L421.8 1120.3 L421.5 1120.7 L421.3 1121.0 L421.1 1121.2 L421.0 1121.5 L420.8 1121.8 L420.5 1122.1 L420.2 1122.5 L420.0 1122.8 L419.8 1123.0 L419.6 1123.2 L419.4 1123.5 L419.2 1123.8 L418.9 1124.0 L418.7 1124.2 L418.4 1124.5 L418.2 1124.8 L417.9 1125.0 L417.6 1125.2 L417.3 1125.5 L417.0 1125.8 L416.8 1126.0 L416.5 1126.2 L416.2 1126.4 L416.0 1126.5 L415.7 1126.8 L415.3 1127.0 L415.0 1127.2 L414.8 1127.4 L414.5 1127.5 L414.1 1127.8 L413.8 1127.9 L413.5 1128.0 L413.0 1128.2 L412.8 1128.3 L412.2 1128.5 L412.0 1128.5Z M380.2 1136.8 L379.8 1136.8 L379.2 1136.8 L379.0 1136.7 L378.5 1136.6 L378.2 1136.5 L377.8 1136.3 L377.5 1136.1 L377.2 1135.9 L377.0 1135.7 L376.8 1135.5 L376.5 1135.2 L376.2 1134.9 L376.0 1134.5 L375.9 1134.2 L375.8 1133.9 L375.6 1133.5 L375.5 1133.1 L375.4 1132.8 L375.4 1132.2 L375.4 1131.8 L375.4 1131.2 L375.5 1130.9 L375.6 1130.5 L375.8 1130.1 L375.9 1129.8 L376.0 1129.5 L376.2 1129.1 L376.5 1128.8 L376.8 1128.5 L377.0 1128.3 L377.2 1128.1 L377.5 1127.9 L377.8 1127.7 L378.2 1127.5 L378.5 1127.4 L379.0 1127.3 L379.2 1127.2 L379.8 1127.2 L380.2 1127.2 L380.5 1127.3 L381.0 1127.4 L381.3 1127.5 L381.8 1127.7 L382.0 1127.8 L382.2 1128.0 L382.6 1128.2 L382.8 1128.5 L383.1 1128.8 L383.3 1129.0 L383.5 1129.4 L383.7 1129.8 L383.8 1130.0 L384.0 1130.5 L384.1 1130.8 L384.2 1131.2 L384.2 1131.8 L384.2 1132.2 L384.2 1132.8 L384.1 1133.2 L384.0 1133.5 L383.8 1134.0 L383.7 1134.2 L383.5 1134.6 L383.3 1135.0 L383.1 1135.2 L382.8 1135.5 L382.6 1135.8 L382.2 1136.0 L382.0 1136.2 L381.8 1136.3 L381.3 1136.5 L381.0 1136.6 L380.5 1136.7 L380.2 1136.8Z" fill="#000" fill-opacity="0.110" fill-rule="evenodd" stroke="none" clip-path="url(#cp2)"/><path d="M380.0 1135.5 L379.6 1135.5 L379.2 1135.5 L378.8 1135.3 L378.5 1135.2 L378.1 1135.0 L377.8 1134.8 L377.5 1134.5 L377.3 1134.2 L377.1 1134.0 L377.0 1133.8 L376.8 1133.2 L376.7 1133.0 L376.6 1132.5 L376.6 1132.0 L376.6 1131.5 L376.7 1131.0 L376.8 1130.8 L377.0 1130.2 L377.1 1130.0 L377.3 1129.8 L377.5 1129.5 L377.8 1129.2 L378.1 1129.0 L378.5 1128.8 L378.8 1128.7 L379.2 1128.5 L379.6 1128.5 L380.0 1128.5 L380.2 1128.5 L380.8 1128.6 L381.0 1128.8 L381.5 1129.0 L381.8 1129.2 L382.0 1129.4 L382.2 1129.7 L382.5 1130.0 L382.6 1130.2 L382.8 1130.5 L382.9 1131.0 L383.0 1131.4 L383.0 1131.8 L383.0 1132.2 L383.0 1132.6 L382.9 1133.0 L382.8 1133.5 L382.6 1133.8 L382.5 1134.0 L382.2 1134.3 L382.0 1134.6 L381.8 1134.8 L381.5 1135.0 L381.0 1135.2 L380.8 1135.4 L380.2 1135.5 L380.0 1135.5Z" fill="#000" fill-opacity="0.110" fill-rule="evenodd" stroke="none" clip-path="url(#cp2)"/><path d="M380.0 1133.3 L379.5 1133.2 L379.2 1133.1 L379.0 1133.0 L378.8 1132.6 L378.6 1132.2 L378.6 1131.8 L378.8 1131.4 L379.0 1131.0 L379.2 1130.9 L379.5 1130.8 L380.0 1130.7 L380.2 1130.8 L380.5 1131.0 L380.8 1131.2 L381.0 1131.8 L381.0 1132.2 L380.8 1132.8 L380.5 1133.0 L380.2 1133.2 L380.0 1133.3Z" fill="#000" fill-opacity="0.110" fill-rule="evenodd" stroke="none" clip-path="url(#cp2)"/><path d="M419.2 1096.5 L418.8 1096.6 L418.2 1096.7 L417.8 1096.7 L417.2 1096.7 L416.8 1096.7 L416.2 1096.7 L415.8 1096.6 L415.2 1096.5 L415.0 1096.5 L414.5 1096.3 L414.2 1096.2 L413.8 1096.1 L413.5 1096.0 L413.0 1095.8 L412.8 1095.7 L412.4 1095.5 L412.0 1095.3 L411.8 1095.1 L411.5 1095.0 L411.2 1094.8 L410.9 1094.5 L410.6 1094.2 L410.3 1094.0 L410.0 1093.8 L409.8 1093.5 L409.6 1093.2 L409.4 1093.0 L409.2 1092.8 L409.0 1092.5 L408.8 1092.1 L408.5 1091.8 L408.4 1091.5 L408.2 1091.2 L408.0 1090.8 L407.9 1090.5 L407.8 1090.0 L407.7 1089.8 L407.6 1089.2 L407.5 1088.8 L407.5 1088.5 L407.4 1088.0 L407.4 1087.5 L407.4 1087.0 L407.5 1086.5 L407.5 1086.2 L407.6 1085.8 L407.7 1085.2 L407.8 1085.0 L407.9 1084.5 L408.0 1084.2 L408.2 1083.8 L408.4 1083.5 L408.5 1083.2 L408.8 1082.9 L409.0 1082.5 L409.2 1082.2 L409.4 1082.0 L409.6 1081.8 L409.8 1081.5 L410.0 1081.2 L410.3 1081.0 L410.6 1080.8 L410.9 1080.5 L411.2 1080.2 L411.5 1080.0 L411.8 1079.9 L412.0 1079.7 L412.4 1079.5 L412.8 1079.3 L413.0 1079.2 L413.5 1079.0 L413.8 1078.9 L414.2 1078.8 L414.5 1078.7 L415.0 1078.5 L415.2 1078.5 L415.8 1078.4 L416.2 1078.3 L416.8 1078.3 L417.2 1078.3 L417.8 1078.3 L418.2 1078.3 L418.8 1078.4 L419.2 1078.5 L419.5 1078.5 L420.0 1078.6 L420.4 1078.8 L420.8 1078.9 L421.1 1079.0 L421.5 1079.2 L421.8 1079.3 L422.2 1079.5 L422.5 1079.7 L422.8 1079.8 L423.0 1080.0 L423.4 1080.2 L423.7 1080.5 L424.0 1080.7 L424.2 1080.9 L424.5 1081.2 L424.8 1081.4 L425.0 1081.7 L425.2 1082.0 L425.4 1082.2 L425.6 1082.5 L425.8 1082.8 L426.0 1083.1 L426.2 1083.5 L426.3 1083.8 L426.5 1084.1 L426.7 1084.5 L426.8 1084.8 L426.9 1085.2 L427.0 1085.7 L427.1 1086.0 L427.1 1086.5 L427.2 1087.0 L427.2 1087.5 L427.2 1088.0 L427.1 1088.5 L427.1 1089.0 L427.0 1089.3 L426.9 1089.8 L426.8 1090.2 L426.7 1090.5 L426.5 1090.9 L426.3 1091.2 L426.2 1091.5 L426.0 1091.9 L425.8 1092.2 L425.6 1092.5 L425.4 1092.8 L425.2 1093.0 L425.0 1093.3 L424.8 1093.6 L424.5 1093.8 L424.2 1094.1 L424.0 1094.3 L423.7 1094.5 L423.4 1094.8 L423.1 1095.0 L422.8 1095.2 L422.5 1095.3 L422.2 1095.5 L421.8 1095.7 L421.5 1095.8 L421.1 1096.0 L420.8 1096.1 L420.4 1096.2 L420.0 1096.4 L419.5 1096.5 L419.2 1096.5Z M410.0 1140.3 L409.5 1140.4 L409.0 1140.4 L408.5 1140.5 L408.0 1140.5 L407.5 1140.4 L407.0 1140.4 L406.5 1140.3 L406.2 1140.2 L405.8 1140.1 L405.4 1140.0 L405.0 1139.9 L404.8 1139.7 L404.2 1139.5 L404.0 1139.4 L403.8 1139.2 L403.4 1139.0 L403.0 1138.8 L402.8 1138.5 L402.5 1138.3 L402.2 1138.1 L402.0 1137.8 L401.8 1137.5 L401.5 1137.2 L401.3 1137.0 L401.1 1136.8 L401.0 1136.5 L400.8 1136.1 L400.6 1135.8 L400.4 1135.5 L400.2 1135.0 L400.1 1134.8 L400.0 1134.3 L399.9 1134.0 L399.8 1133.5 L399.8 1133.0 L399.7 1132.8 L399.7 1132.2 L399.7 1131.8 L399.7 1131.2 L399.8 1130.9 L399.8 1130.5 L399.9 1130.0 L400.0 1129.6 L400.1 1129.2 L400.2 1128.8 L400.4 1128.5 L400.5 1128.2 L400.7 1127.8 L400.9 1127.5 L401.0 1127.2 L401.2 1126.9 L401.5 1126.5 L401.7 1126.2 L401.9 1126.0 L402.0 1125.8 L402.2 1125.5 L402.5 1125.1 L402.7 1124.8 L402.9 1124.5 L403.1 1124.2 L403.3 1124.0 L403.5 1123.6 L403.8 1123.3 L403.9 1123.0 L404.1 1122.8 L404.3 1122.5 L404.5 1122.1 L404.7 1121.8 L404.9 1121.5 L405.1 1121.2 L405.2 1121.0 L405.5 1120.6 L405.7 1120.2 L405.9 1120.0 L406.1 1119.8 L406.3 1119.5 L406.5 1119.1 L406.8 1118.8 L407.0 1118.5 L407.1 1118.2 L407.3 1118.0 L407.5 1117.7 L407.8 1117.4 L408.0 1117.1 L408.2 1116.8 L408.4 1116.5 L408.6 1116.2 L408.8 1116.0 L409.0 1115.8 L409.2 1115.5 L409.5 1115.2 L409.8 1114.9 L410.0 1114.6 L410.2 1114.3 L410.5 1114.0 L410.8 1113.8 L411.0 1113.5 L411.2 1113.2 L411.5 1113.0 L411.7 1112.8 L411.9 1112.5 L412.2 1112.2 L412.4 1112.0 L412.7 1111.8 L412.9 1111.5 L413.2 1111.2 L413.5 1111.0 L413.7 1110.8 L414.0 1110.5 L414.2 1110.3 L414.5 1110.0 L414.8 1109.8 L415.0 1109.6 L415.2 1109.4 L415.5 1109.1 L415.8 1108.9 L416.0 1108.7 L416.2 1108.5 L416.5 1108.2 L416.9 1108.0 L417.2 1107.8 L417.5 1107.5 L417.8 1107.4 L418.0 1107.2 L418.4 1107.0 L418.8 1106.8 L419.0 1106.7 L419.4 1106.5 L419.8 1106.4 L420.1 1106.2 L420.5 1106.1 L420.9 1106.0 L421.2 1105.9 L421.8 1105.8 L422.1 1105.8 L422.5 1105.7 L423.0 1105.7 L423.5 1105.6 L424.0 1105.6 L424.5 1105.7 L425.0 1105.7 L425.2 1105.8 L425.8 1105.9 L426.2 1106.0 L426.5 1106.1 L427.0 1106.2 L427.2 1106.4 L427.6 1106.5 L428.0 1106.7 L428.2 1106.9 L428.5 1107.0 L428.9 1107.2 L429.2 1107.5 L429.5 1107.7 L429.8 1108.0 L430.0 1108.2 L430.2 1108.5 L430.5 1108.7 L430.7 1109.0 L430.9 1109.2 L431.1 1109.5 L431.2 1109.8 L431.5 1110.2 L431.6 1110.5 L431.8 1110.8 L431.9 1111.2 L432.0 1111.5 L432.0 1112.0 L432.0 1112.5 L432.0 1113.0 L432.1 1113.5 L432.1 1114.0 L432.1 1114.5 L432.1 1115.0 L432.1 1115.5 L432.1 1116.0 L432.1 1116.5 L432.0 1117.0 L432.0 1117.5 L432.0 1118.0 L432.0 1118.5 L432.0 1118.8 L431.8 1119.2 L431.7 1119.5 L431.5 1120.0 L431.4 1120.2 L431.2 1120.5 L431.0 1121.0 L430.9 1121.2 L430.8 1121.6 L430.5 1122.0 L430.4 1122.2 L430.2 1122.5 L430.0 1122.9 L429.8 1123.2 L429.7 1123.5 L429.5 1123.8 L429.2 1124.2 L429.1 1124.5 L428.9 1124.8 L428.8 1125.0 L428.5 1125.4 L428.3 1125.8 L428.1 1126.0 L427.9 1126.2 L427.8 1126.5 L427.5 1126.9 L427.2 1127.2 L427.0 1127.5 L426.8 1127.8 L426.6 1128.0 L426.4 1128.2 L426.2 1128.5 L426.0 1128.8 L425.8 1129.1 L425.5 1129.3 L425.2 1129.6 L425.0 1129.9 L424.8 1130.2 L424.5 1130.4 L424.2 1130.7 L424.0 1130.9 L423.8 1131.2 L423.5 1131.4 L423.2 1131.6 L423.0 1131.9 L422.8 1132.1 L422.5 1132.3 L422.2 1132.5 L422.0 1132.8 L421.7 1133.0 L421.4 1133.2 L421.1 1133.5 L420.8 1133.7 L420.5 1133.9 L420.2 1134.1 L420.0 1134.3 L419.7 1134.5 L419.4 1134.8 L419.0 1135.0 L418.8 1135.2 L418.5 1135.4 L418.2 1135.6 L418.0 1135.8 L417.6 1136.0 L417.2 1136.2 L417.0 1136.4 L416.8 1136.6 L416.5 1136.8 L416.2 1137.0 L415.8 1137.2 L415.5 1137.5 L415.2 1137.7 L415.0 1137.8 L414.8 1138.0 L414.5 1138.2 L414.1 1138.5 L413.8 1138.7 L413.5 1138.9 L413.2 1139.0 L412.9 1139.2 L412.5 1139.4 L412.2 1139.6 L411.8 1139.8 L411.5 1139.9 L411.1 1140.0 L410.8 1140.1 L410.2 1140.2 L410.0 1140.3Z M381.5 1142.8 L381.0 1142.8 L380.5 1142.9 L380.0 1142.9 L379.5 1142.9 L379.0 1142.9 L378.5 1142.8 L378.1 1142.8 L377.8 1142.7 L377.2 1142.6 L377.0 1142.5 L376.5 1142.3 L376.2 1142.2 L375.8 1142.0 L375.5 1141.9 L375.2 1141.7 L374.8 1141.5 L374.5 1141.3 L374.2 1141.1 L374.0 1140.9 L373.8 1140.7 L373.5 1140.5 L373.2 1140.2 L373.0 1140.0 L372.7 1139.8 L372.5 1139.5 L372.2 1139.2 L372.0 1138.9 L371.8 1138.6 L371.5 1138.2 L371.4 1138.0 L371.2 1137.8 L371.0 1137.3 L370.8 1137.0 L370.7 1136.8 L370.5 1136.2 L370.4 1136.0 L370.3 1135.5 L370.2 1135.2 L370.1 1134.8 L370.0 1134.5 L369.9 1134.0 L369.8 1133.5 L369.8 1133.0 L369.8 1132.7 L369.7 1132.2 L369.7 1131.8 L369.8 1131.3 L369.8 1131.0 L369.8 1130.5 L369.9 1130.0 L370.0 1129.5 L370.1 1129.2 L370.2 1128.8 L370.3 1128.5 L370.4 1128.0 L370.5 1127.8 L370.7 1127.2 L370.8 1127.0 L371.0 1126.7 L371.2 1126.2 L371.4 1126.0 L371.5 1125.8 L371.8 1125.4 L372.0 1125.1 L372.2 1124.8 L372.5 1124.5 L372.7 1124.2 L373.0 1124.0 L373.2 1123.8 L373.5 1123.5 L373.8 1123.3 L374.0 1123.1 L374.2 1122.9 L374.5 1122.7 L374.8 1122.5 L375.2 1122.3 L375.5 1122.1 L375.8 1122.0 L376.2 1121.8 L376.5 1121.7 L377.0 1121.5 L377.2 1121.4 L377.8 1121.3 L378.1 1121.2 L378.5 1121.2 L379.0 1121.1 L379.5 1121.1 L380.0 1121.1 L380.5 1121.1 L381.0 1121.2 L381.5 1121.2 L381.8 1121.3 L382.2 1121.4 L382.5 1121.5 L383.0 1121.7 L383.2 1121.8 L383.8 1122.0 L384.0 1122.1 L384.3 1122.2 L384.8 1122.5 L385.0 1122.7 L385.2 1122.8 L385.5 1123.0 L385.8 1123.2 L386.1 1123.5 L386.4 1123.8 L386.6 1124.0 L386.9 1124.2 L387.1 1124.5 L387.3 1124.8 L387.5 1125.0 L387.8 1125.3 L388.0 1125.7 L388.2 1126.0 L388.4 1126.2 L388.5 1126.5 L388.7 1127.0 L388.9 1127.2 L389.0 1127.6 L389.2 1128.0 L389.3 1128.2 L389.4 1128.8 L389.5 1129.1 L389.6 1129.5 L389.7 1130.0 L389.8 1130.3 L389.8 1130.8 L389.9 1131.2 L389.9 1131.8 L389.9 1132.2 L389.9 1132.8 L389.8 1133.2 L389.8 1133.7 L389.7 1134.0 L389.6 1134.5 L389.5 1134.9 L389.4 1135.2 L389.3 1135.8 L389.2 1136.0 L389.0 1136.4 L388.9 1136.8 L388.7 1137.0 L388.5 1137.5 L388.4 1137.8 L388.2 1138.0 L388.0 1138.3 L387.8 1138.7 L387.5 1139.0 L387.3 1139.2 L387.1 1139.5 L386.9 1139.8 L386.6 1140.0 L386.4 1140.2 L386.1 1140.5 L385.8 1140.8 L385.5 1141.0 L385.2 1141.2 L385.0 1141.3 L384.7 1141.5 L384.3 1141.8 L384.0 1141.9 L383.8 1142.0 L383.2 1142.2 L383.0 1142.3 L382.5 1142.5 L382.2 1142.6 L381.8 1142.7 L381.5 1142.8Z M418.2 1095.3 L417.8 1095.3 L417.2 1095.3 L416.8 1095.3 L416.3 1095.2 L416.0 1095.2 L415.5 1095.1 L415.0 1095.0 L414.8 1094.9 L414.2 1094.8 L414.0 1094.7 L413.6 1094.5 L413.2 1094.3 L413.0 1094.2 L412.7 1094.0 L412.3 1093.8 L412.0 1093.6 L411.8 1093.4 L411.5 1093.1 L411.2 1092.9 L411.0 1092.7 L410.8 1092.4 L410.5 1092.1 L410.3 1091.8 L410.1 1091.5 L409.9 1091.2 L409.8 1090.9 L409.6 1090.5 L409.4 1090.2 L409.3 1089.8 L409.2 1089.5 L409.1 1089.0 L409.0 1088.7 L408.9 1088.2 L408.9 1087.8 L408.9 1087.2 L408.9 1086.8 L409.0 1086.3 L409.1 1086.0 L409.2 1085.5 L409.3 1085.2 L409.4 1084.8 L409.6 1084.5 L409.8 1084.1 L409.9 1083.8 L410.1 1083.5 L410.3 1083.2 L410.5 1082.9 L410.8 1082.6 L411.0 1082.3 L411.2 1082.1 L411.5 1081.9 L411.8 1081.6 L412.0 1081.4 L412.3 1081.2 L412.7 1081.0 L413.0 1080.8 L413.2 1080.7 L413.6 1080.5 L414.0 1080.3 L414.2 1080.2 L414.8 1080.1 L415.0 1080.0 L415.5 1079.9 L416.0 1079.8 L416.3 1079.8 L416.8 1079.7 L417.2 1079.7 L417.8 1079.7 L418.2 1079.7 L418.5 1079.8 L419.0 1079.9 L419.5 1080.0 L419.8 1080.0 L420.2 1080.2 L420.5 1080.3 L421.0 1080.5 L421.2 1080.6 L421.5 1080.8 L421.9 1081.0 L422.2 1081.2 L422.5 1081.4 L422.8 1081.6 L423.0 1081.8 L423.3 1082.0 L423.5 1082.2 L423.8 1082.5 L424.0 1082.8 L424.2 1083.1 L424.5 1083.5 L424.7 1083.8 L424.8 1084.0 L425.0 1084.4 L425.2 1084.8 L425.3 1085.0 L425.4 1085.5 L425.5 1085.8 L425.6 1086.2 L425.7 1086.8 L425.7 1087.2 L425.7 1087.8 L425.7 1088.2 L425.6 1088.8 L425.5 1089.2 L425.4 1089.5 L425.3 1090.0 L425.2 1090.2 L425.0 1090.6 L424.8 1091.0 L424.7 1091.2 L424.5 1091.5 L424.2 1091.9 L424.0 1092.2 L423.8 1092.5 L423.5 1092.8 L423.3 1093.0 L423.0 1093.2 L422.8 1093.4 L422.5 1093.6 L422.2 1093.8 L422.0 1094.0 L421.5 1094.2 L421.2 1094.4 L421.0 1094.5 L420.5 1094.7 L420.2 1094.8 L419.8 1095.0 L419.5 1095.0 L419.0 1095.1 L418.5 1095.2 L418.2 1095.3Z M409.8 1139.8 L409.2 1139.9 L408.8 1139.9 L408.2 1139.9 L407.8 1139.9 L407.2 1139.9 L406.8 1139.8 L406.5 1139.7 L406.0 1139.6 L405.6 1139.5 L405.2 1139.4 L405.0 1139.2 L404.5 1139.0 L404.2 1138.9 L404.0 1138.8 L403.6 1138.5 L403.3 1138.2 L403.0 1138.0 L402.8 1137.8 L402.5 1137.6 L402.2 1137.3 L402.0 1137.0 L401.8 1136.8 L401.6 1136.5 L401.4 1136.2 L401.2 1135.9 L401.0 1135.5 L400.9 1135.2 L400.8 1134.9 L400.6 1134.5 L400.5 1134.1 L400.4 1133.8 L400.3 1133.2 L400.2 1132.8 L400.2 1132.5 L400.2 1132.0 L400.2 1131.5 L400.2 1131.1 L400.3 1130.8 L400.4 1130.2 L400.5 1129.8 L400.6 1129.5 L400.7 1129.0 L400.8 1128.8 L401.0 1128.4 L401.2 1128.0 L401.3 1127.8 L401.5 1127.5 L401.8 1127.1 L402.0 1126.8 L402.2 1126.5 L402.3 1126.2 L402.5 1126.0 L402.8 1125.7 L403.0 1125.3 L403.2 1125.0 L403.4 1124.8 L403.6 1124.5 L403.8 1124.2 L404.0 1123.9 L404.2 1123.5 L404.4 1123.2 L404.6 1123.0 L404.8 1122.8 L405.0 1122.4 L405.2 1122.0 L405.4 1121.8 L405.6 1121.5 L405.8 1121.2 L406.0 1120.9 L406.2 1120.5 L406.4 1120.2 L406.6 1120.0 L406.8 1119.8 L407.0 1119.5 L407.2 1119.1 L407.5 1118.8 L407.7 1118.5 L407.9 1118.2 L408.0 1118.0 L408.2 1117.7 L408.5 1117.4 L408.8 1117.1 L409.0 1116.8 L409.2 1116.5 L409.4 1116.2 L409.6 1116.0 L409.8 1115.8 L410.0 1115.5 L410.2 1115.2 L410.5 1115.0 L410.8 1114.7 L411.0 1114.4 L411.2 1114.1 L411.5 1113.8 L411.8 1113.6 L412.0 1113.3 L412.2 1113.1 L412.5 1112.8 L412.8 1112.6 L413.0 1112.3 L413.2 1112.1 L413.5 1111.8 L413.8 1111.6 L414.0 1111.3 L414.2 1111.1 L414.5 1110.9 L414.8 1110.6 L415.0 1110.4 L415.2 1110.2 L415.5 1110.0 L415.8 1109.7 L416.0 1109.5 L416.3 1109.2 L416.6 1109.0 L416.9 1108.8 L417.2 1108.5 L417.5 1108.3 L417.8 1108.1 L418.0 1107.9 L418.3 1107.8 L418.8 1107.5 L419.0 1107.4 L419.3 1107.2 L419.8 1107.0 L420.0 1106.9 L420.5 1106.8 L420.8 1106.7 L421.2 1106.6 L421.6 1106.5 L422.0 1106.4 L422.5 1106.4 L423.0 1106.3 L423.5 1106.3 L424.0 1106.3 L424.5 1106.4 L425.0 1106.5 L425.2 1106.5 L425.8 1106.6 L426.2 1106.8 L426.5 1106.9 L426.9 1107.0 L427.2 1107.2 L427.5 1107.3 L427.9 1107.5 L428.2 1107.7 L428.5 1107.9 L428.8 1108.1 L429.0 1108.3 L429.2 1108.5 L429.5 1108.8 L429.8 1109.0 L430.0 1109.3 L430.2 1109.6 L430.5 1110.0 L430.7 1110.2 L430.8 1110.5 L431.0 1110.9 L431.2 1111.2 L431.3 1111.5 L431.5 1112.0 L431.5 1112.2 L431.7 1112.8 L431.8 1113.1 L431.8 1113.5 L431.9 1114.0 L431.9 1114.5 L431.9 1115.0 L431.9 1115.5 L431.9 1116.0 L431.8 1116.5 L431.8 1117.0 L431.7 1117.2 L431.6 1117.8 L431.5 1118.1 L431.4 1118.5 L431.2 1118.9 L431.1 1119.2 L431.0 1119.5 L430.8 1120.0 L430.7 1120.2 L430.5 1120.6 L430.3 1121.0 L430.2 1121.2 L430.0 1121.6 L429.8 1122.0 L429.6 1122.2 L429.5 1122.5 L429.2 1122.9 L429.0 1123.2 L428.9 1123.5 L428.7 1123.8 L428.5 1124.2 L428.3 1124.5 L428.1 1124.8 L428.0 1125.0 L427.8 1125.3 L427.5 1125.7 L427.3 1126.0 L427.1 1126.2 L426.9 1126.5 L426.7 1126.8 L426.5 1127.1 L426.2 1127.4 L426.0 1127.7 L425.8 1128.0 L425.5 1128.2 L425.3 1128.5 L425.1 1128.8 L424.9 1129.0 L424.7 1129.2 L424.4 1129.5 L424.2 1129.8 L424.0 1130.0 L423.7 1130.2 L423.5 1130.5 L423.2 1130.8 L422.9 1131.0 L422.7 1131.2 L422.4 1131.5 L422.1 1131.8 L421.8 1132.0 L421.5 1132.2 L421.2 1132.5 L421.0 1132.7 L420.8 1132.9 L420.5 1133.1 L420.2 1133.3 L420.0 1133.5 L419.6 1133.8 L419.3 1134.0 L419.0 1134.2 L418.8 1134.4 L418.5 1134.6 L418.2 1134.8 L417.9 1135.0 L417.5 1135.2 L417.2 1135.5 L417.0 1135.6 L416.8 1135.8 L416.5 1136.0 L416.1 1136.2 L415.8 1136.5 L415.5 1136.7 L415.2 1136.9 L415.0 1137.1 L414.8 1137.3 L414.5 1137.5 L414.1 1137.8 L413.8 1138.0 L413.5 1138.2 L413.2 1138.4 L413.0 1138.5 L412.6 1138.8 L412.2 1138.9 L412.0 1139.1 L411.6 1139.2 L411.2 1139.4 L410.9 1139.5 L410.5 1139.6 L410.0 1139.7 L409.8 1139.8Z M381.2 1142.3 L380.8 1142.4 L380.2 1142.4 L379.8 1142.4 L379.2 1142.4 L378.8 1142.4 L378.2 1142.3 L378.0 1142.2 L377.5 1142.1 L377.1 1142.0 L376.8 1141.9 L376.4 1141.8 L376.0 1141.6 L375.8 1141.4 L375.4 1141.2 L375.0 1141.0 L374.8 1140.9 L374.5 1140.7 L374.2 1140.5 L373.9 1140.2 L373.7 1140.0 L373.4 1139.8 L373.1 1139.5 L372.9 1139.2 L372.7 1139.0 L372.5 1138.8 L372.2 1138.4 L372.0 1138.1 L371.8 1137.8 L371.6 1137.5 L371.5 1137.2 L371.3 1136.8 L371.1 1136.5 L371.0 1136.2 L370.8 1135.8 L370.8 1135.5 L370.6 1135.0 L370.5 1134.6 L370.4 1134.2 L370.3 1133.8 L370.3 1133.2 L370.2 1133.0 L370.2 1132.5 L370.2 1132.0 L370.2 1131.5 L370.2 1131.0 L370.3 1130.8 L370.3 1130.2 L370.4 1129.8 L370.5 1129.4 L370.6 1129.0 L370.8 1128.5 L370.8 1128.2 L371.0 1127.8 L371.1 1127.5 L371.3 1127.2 L371.5 1126.8 L371.6 1126.5 L371.8 1126.2 L372.0 1125.9 L372.2 1125.6 L372.5 1125.2 L372.7 1125.0 L372.9 1124.8 L373.1 1124.5 L373.4 1124.2 L373.7 1124.0 L373.9 1123.8 L374.2 1123.5 L374.5 1123.3 L374.8 1123.1 L375.0 1123.0 L375.4 1122.8 L375.8 1122.6 L376.0 1122.4 L376.4 1122.2 L376.8 1122.1 L377.1 1122.0 L377.5 1121.9 L378.0 1121.8 L378.2 1121.7 L378.8 1121.6 L379.2 1121.6 L379.8 1121.6 L380.2 1121.6 L380.8 1121.6 L381.2 1121.7 L381.5 1121.8 L382.0 1121.9 L382.5 1122.0 L382.8 1122.1 L383.2 1122.2 L383.5 1122.4 L383.8 1122.5 L384.2 1122.8 L384.5 1122.9 L384.8 1123.1 L385.0 1123.2 L385.3 1123.5 L385.7 1123.8 L385.9 1124.0 L386.2 1124.2 L386.5 1124.5 L386.7 1124.8 L386.9 1125.0 L387.1 1125.2 L387.3 1125.5 L387.5 1125.8 L387.8 1126.2 L388.0 1126.5 L388.1 1126.8 L388.2 1127.0 L388.5 1127.5 L388.6 1127.8 L388.8 1128.2 L388.9 1128.5 L389.0 1129.0 L389.1 1129.2 L389.2 1129.8 L389.2 1130.1 L389.3 1130.5 L389.4 1131.0 L389.4 1131.5 L389.4 1132.0 L389.4 1132.5 L389.4 1133.0 L389.3 1133.5 L389.2 1133.9 L389.2 1134.2 L389.1 1134.8 L389.0 1135.0 L388.9 1135.5 L388.8 1135.8 L388.6 1136.2 L388.5 1136.5 L388.2 1137.0 L388.1 1137.2 L388.0 1137.5 L387.8 1137.8 L387.5 1138.2 L387.3 1138.5 L387.1 1138.8 L386.9 1139.0 L386.7 1139.2 L386.5 1139.5 L386.2 1139.8 L385.9 1140.0 L385.7 1140.2 L385.3 1140.5 L385.0 1140.8 L384.8 1140.9 L384.5 1141.1 L384.2 1141.2 L383.8 1141.5 L383.5 1141.6 L383.2 1141.8 L382.8 1141.9 L382.5 1142.0 L382.0 1142.1 L381.5 1142.2 L381.2 1142.3Z M418.8 1093.8 L418.2 1093.8 L417.8 1093.9 L417.2 1093.9 L416.8 1093.9 L416.2 1093.8 L415.8 1093.8 L415.5 1093.7 L415.0 1093.5 L414.8 1093.5 L414.3 1093.2 L414.0 1093.1 L413.8 1093.0 L413.4 1092.8 L413.0 1092.5 L412.8 1092.3 L412.5 1092.1 L412.2 1091.9 L412.0 1091.6 L411.8 1091.3 L411.5 1091.0 L411.4 1090.8 L411.2 1090.5 L411.0 1090.1 L410.9 1089.8 L410.8 1089.5 L410.6 1089.0 L410.5 1088.5 L410.5 1088.2 L410.4 1087.8 L410.4 1087.2 L410.5 1086.8 L410.5 1086.5 L410.6 1086.0 L410.8 1085.5 L410.9 1085.2 L411.0 1084.9 L411.2 1084.5 L411.4 1084.2 L411.5 1084.0 L411.8 1083.7 L412.0 1083.4 L412.2 1083.1 L412.5 1082.9 L412.8 1082.7 L413.0 1082.5 L413.4 1082.2 L413.8 1082.0 L414.0 1081.9 L414.3 1081.8 L414.8 1081.5 L415.0 1081.5 L415.5 1081.3 L415.8 1081.2 L416.2 1081.2 L416.8 1081.1 L417.2 1081.1 L417.8 1081.1 L418.2 1081.2 L418.8 1081.2 L419.0 1081.3 L419.5 1081.4 L419.8 1081.5 L420.2 1081.7 L420.5 1081.8 L420.8 1082.0 L421.2 1082.2 L421.5 1082.4 L421.8 1082.6 L422.0 1082.8 L422.2 1083.0 L422.5 1083.3 L422.8 1083.6 L423.0 1083.9 L423.2 1084.2 L423.4 1084.5 L423.5 1084.8 L423.7 1085.2 L423.8 1085.5 L424.0 1086.0 L424.1 1086.2 L424.1 1086.8 L424.2 1087.2 L424.2 1087.8 L424.1 1088.2 L424.1 1088.8 L424.0 1089.0 L423.8 1089.5 L423.7 1089.8 L423.5 1090.2 L423.4 1090.5 L423.2 1090.8 L423.0 1091.1 L422.8 1091.4 L422.5 1091.7 L422.2 1092.0 L422.0 1092.2 L421.8 1092.4 L421.5 1092.6 L421.2 1092.8 L420.8 1093.0 L420.5 1093.2 L420.2 1093.3 L419.8 1093.5 L419.5 1093.6 L419.0 1093.7 L418.8 1093.8Z M409.2 1139.3 L408.8 1139.3 L408.2 1139.4 L407.8 1139.3 L407.2 1139.3 L407.0 1139.2 L406.5 1139.2 L406.0 1139.0 L405.8 1139.0 L405.2 1138.8 L405.0 1138.6 L404.7 1138.5 L404.3 1138.2 L404.0 1138.1 L403.8 1137.9 L403.5 1137.7 L403.2 1137.5 L403.0 1137.2 L402.7 1137.0 L402.5 1136.7 L402.2 1136.4 L402.0 1136.1 L401.8 1135.8 L401.7 1135.5 L401.5 1135.2 L401.3 1134.8 L401.2 1134.5 L401.0 1134.0 L401.0 1133.8 L400.9 1133.2 L400.8 1132.8 L400.8 1132.2 L400.8 1131.8 L400.8 1131.2 L400.9 1130.8 L401.0 1130.2 L401.0 1130.0 L401.2 1129.5 L401.3 1129.2 L401.5 1128.8 L401.6 1128.5 L401.8 1128.2 L402.0 1127.8 L402.1 1127.5 L402.3 1127.2 L402.5 1127.0 L402.8 1126.7 L403.0 1126.3 L403.2 1126.0 L403.4 1125.8 L403.6 1125.5 L403.8 1125.2 L404.0 1124.9 L404.2 1124.6 L404.5 1124.2 L404.6 1124.0 L404.8 1123.8 L405.0 1123.5 L405.2 1123.1 L405.5 1122.8 L405.6 1122.5 L405.8 1122.2 L406.0 1122.0 L406.2 1121.6 L406.5 1121.2 L406.7 1121.0 L406.8 1120.8 L407.0 1120.5 L407.2 1120.2 L407.5 1119.8 L407.7 1119.5 L407.9 1119.2 L408.1 1119.0 L408.3 1118.8 L408.5 1118.4 L408.8 1118.1 L409.0 1117.8 L409.2 1117.5 L409.4 1117.2 L409.6 1117.0 L409.8 1116.8 L410.0 1116.5 L410.2 1116.2 L410.5 1115.9 L410.8 1115.6 L411.0 1115.3 L411.2 1115.1 L411.5 1114.8 L411.8 1114.5 L412.0 1114.2 L412.2 1114.0 L412.5 1113.8 L412.7 1113.5 L412.9 1113.2 L413.2 1113.0 L413.4 1112.8 L413.7 1112.5 L414.0 1112.2 L414.2 1112.0 L414.5 1111.8 L414.8 1111.5 L415.0 1111.3 L415.2 1111.0 L415.5 1110.8 L415.8 1110.6 L416.0 1110.4 L416.2 1110.1 L416.5 1109.9 L416.8 1109.7 L417.0 1109.5 L417.3 1109.2 L417.6 1109.0 L417.9 1108.8 L418.2 1108.5 L418.5 1108.4 L418.8 1108.2 L419.2 1108.0 L419.5 1107.8 L419.8 1107.7 L420.2 1107.5 L420.5 1107.4 L421.0 1107.3 L421.2 1107.2 L421.8 1107.1 L422.2 1107.0 L422.8 1107.0 L423.0 1107.0 L423.5 1107.0 L423.8 1107.0 L424.2 1107.0 L424.8 1107.1 L425.2 1107.2 L425.5 1107.3 L426.0 1107.4 L426.2 1107.5 L426.8 1107.7 L427.0 1107.8 L427.3 1108.0 L427.7 1108.2 L428.0 1108.5 L428.2 1108.6 L428.5 1108.8 L428.8 1109.1 L429.0 1109.3 L429.2 1109.6 L429.5 1109.9 L429.8 1110.2 L430.0 1110.5 L430.1 1110.8 L430.3 1111.0 L430.5 1111.5 L430.6 1111.8 L430.8 1112.1 L430.9 1112.5 L431.0 1112.9 L431.1 1113.2 L431.2 1113.8 L431.2 1114.2 L431.2 1114.5 L431.3 1115.0 L431.3 1115.5 L431.2 1115.8 L431.2 1116.2 L431.1 1116.8 L431.0 1117.2 L431.0 1117.5 L430.8 1118.0 L430.8 1118.3 L430.6 1118.8 L430.5 1119.0 L430.3 1119.5 L430.2 1119.8 L430.0 1120.1 L429.8 1120.5 L429.7 1120.8 L429.5 1121.1 L429.3 1121.5 L429.1 1121.8 L429.0 1122.0 L428.8 1122.4 L428.5 1122.8 L428.4 1123.0 L428.2 1123.2 L428.0 1123.6 L427.8 1124.0 L427.6 1124.2 L427.4 1124.5 L427.2 1124.8 L427.0 1125.2 L426.8 1125.5 L426.6 1125.8 L426.4 1126.0 L426.2 1126.2 L426.0 1126.5 L425.8 1126.9 L425.5 1127.2 L425.2 1127.5 L425.0 1127.8 L424.8 1128.0 L424.6 1128.2 L424.4 1128.5 L424.2 1128.8 L423.9 1129.0 L423.7 1129.2 L423.4 1129.5 L423.2 1129.8 L422.9 1130.0 L422.7 1130.2 L422.4 1130.5 L422.2 1130.8 L421.9 1131.0 L421.6 1131.2 L421.3 1131.5 L421.0 1131.8 L420.8 1132.0 L420.5 1132.2 L420.2 1132.4 L420.0 1132.6 L419.8 1132.8 L419.4 1133.0 L419.1 1133.2 L418.8 1133.5 L418.5 1133.7 L418.2 1133.9 L418.0 1134.1 L417.8 1134.3 L417.4 1134.5 L417.1 1134.8 L416.8 1135.0 L416.5 1135.2 L416.2 1135.3 L416.0 1135.5 L415.7 1135.8 L415.4 1136.0 L415.0 1136.2 L414.8 1136.5 L414.5 1136.7 L414.2 1136.9 L414.0 1137.1 L413.8 1137.3 L413.4 1137.5 L413.1 1137.8 L412.8 1138.0 L412.5 1138.1 L412.2 1138.3 L411.8 1138.5 L411.5 1138.6 L411.2 1138.8 L410.8 1138.9 L410.5 1139.0 L410.0 1139.1 L409.5 1139.2 L409.2 1139.3Z M381.2 1141.8 L380.8 1141.8 L380.2 1141.9 L379.8 1141.9 L379.2 1141.9 L378.8 1141.8 L378.3 1141.8 L378.0 1141.7 L377.5 1141.6 L377.2 1141.5 L376.8 1141.3 L376.5 1141.2 L376.0 1141.0 L375.8 1140.9 L375.5 1140.7 L375.1 1140.5 L374.8 1140.2 L374.5 1140.0 L374.2 1139.8 L374.0 1139.6 L373.8 1139.4 L373.5 1139.2 L373.2 1138.9 L373.0 1138.6 L372.8 1138.3 L372.5 1138.0 L372.4 1137.8 L372.2 1137.5 L372.0 1137.1 L371.8 1136.8 L371.7 1136.5 L371.5 1136.1 L371.4 1135.8 L371.2 1135.4 L371.1 1135.0 L371.0 1134.6 L370.9 1134.2 L370.8 1133.8 L370.8 1133.2 L370.7 1133.0 L370.7 1132.5 L370.7 1132.0 L370.7 1131.5 L370.7 1131.0 L370.8 1130.8 L370.8 1130.2 L370.9 1129.8 L371.0 1129.4 L371.1 1129.0 L371.2 1128.6 L371.4 1128.2 L371.5 1127.9 L371.7 1127.5 L371.8 1127.2 L372.0 1126.9 L372.2 1126.5 L372.4 1126.2 L372.5 1126.0 L372.8 1125.7 L373.0 1125.4 L373.2 1125.1 L373.5 1124.8 L373.8 1124.6 L374.0 1124.4 L374.2 1124.2 L374.5 1124.0 L374.8 1123.8 L375.1 1123.5 L375.5 1123.3 L375.8 1123.1 L376.0 1123.0 L376.5 1122.8 L376.8 1122.7 L377.2 1122.5 L377.5 1122.4 L378.0 1122.3 L378.3 1122.2 L378.8 1122.2 L379.2 1122.1 L379.8 1122.1 L380.2 1122.1 L380.8 1122.2 L381.2 1122.2 L381.5 1122.3 L382.0 1122.4 L382.3 1122.5 L382.8 1122.6 L383.0 1122.8 L383.5 1123.0 L383.8 1123.1 L384.0 1123.2 L384.5 1123.5 L384.8 1123.7 L385.0 1123.9 L385.2 1124.1 L385.5 1124.3 L385.8 1124.5 L386.0 1124.8 L386.2 1125.0 L386.5 1125.3 L386.8 1125.6 L387.0 1125.9 L387.2 1126.2 L387.4 1126.5 L387.5 1126.8 L387.8 1127.2 L387.9 1127.5 L388.0 1127.8 L388.2 1128.2 L388.3 1128.5 L388.5 1129.0 L388.6 1129.2 L388.7 1129.8 L388.8 1130.1 L388.8 1130.5 L388.9 1131.0 L388.9 1131.5 L388.9 1132.0 L388.9 1132.5 L388.9 1133.0 L388.8 1133.5 L388.8 1133.9 L388.7 1134.2 L388.6 1134.8 L388.5 1135.0 L388.3 1135.5 L388.2 1135.8 L388.0 1136.2 L387.9 1136.5 L387.8 1136.8 L387.5 1137.2 L387.4 1137.5 L387.2 1137.8 L387.0 1138.1 L386.8 1138.4 L386.5 1138.7 L386.2 1139.0 L386.0 1139.2 L385.8 1139.5 L385.5 1139.7 L385.2 1139.9 L385.0 1140.1 L384.8 1140.3 L384.5 1140.5 L384.0 1140.8 L383.8 1140.9 L383.5 1141.0 L383.0 1141.2 L382.8 1141.4 L382.3 1141.5 L382.0 1141.6 L381.5 1141.7 L381.2 1141.8Z M417.2 1092.5 L417.0 1092.5 L416.5 1092.4 L416.0 1092.4 L415.6 1092.2 L415.2 1092.1 L415.0 1092.0 L414.5 1091.8 L414.2 1091.6 L414.0 1091.5 L413.7 1091.2 L413.5 1091.0 L413.2 1090.8 L413.0 1090.5 L412.8 1090.2 L412.5 1089.8 L412.4 1089.5 L412.2 1089.2 L412.1 1088.8 L412.0 1088.3 L411.9 1088.0 L411.9 1087.5 L411.9 1087.0 L412.0 1086.7 L412.1 1086.2 L412.2 1085.8 L412.4 1085.5 L412.5 1085.2 L412.8 1084.8 L413.0 1084.5 L413.2 1084.2 L413.5 1084.0 L413.7 1083.8 L414.0 1083.5 L414.2 1083.4 L414.5 1083.2 L415.0 1083.0 L415.2 1082.9 L415.6 1082.8 L416.0 1082.6 L416.5 1082.6 L417.0 1082.5 L417.2 1082.5 L417.5 1082.5 L418.0 1082.5 L418.5 1082.6 L419.0 1082.8 L419.2 1082.8 L419.6 1083.0 L420.0 1083.2 L420.2 1083.3 L420.5 1083.5 L420.9 1083.8 L421.1 1084.0 L421.4 1084.2 L421.6 1084.5 L421.8 1084.8 L422.0 1085.1 L422.2 1085.5 L422.3 1085.8 L422.5 1086.2 L422.6 1086.5 L422.7 1087.0 L422.7 1087.5 L422.7 1088.0 L422.6 1088.5 L422.5 1088.8 L422.3 1089.2 L422.2 1089.5 L422.0 1089.9 L421.8 1090.2 L421.6 1090.5 L421.4 1090.8 L421.1 1091.0 L420.9 1091.2 L420.5 1091.5 L420.2 1091.7 L420.0 1091.8 L419.6 1092.0 L419.2 1092.2 L419.0 1092.2 L418.5 1092.4 L418.0 1092.5 L417.5 1092.5 L417.2 1092.5Z M410.0 1138.5 L409.5 1138.6 L409.0 1138.7 L408.5 1138.7 L408.0 1138.7 L407.5 1138.7 L407.0 1138.6 L406.5 1138.5 L406.2 1138.5 L405.8 1138.3 L405.5 1138.2 L405.1 1138.0 L404.8 1137.8 L404.5 1137.7 L404.2 1137.5 L403.9 1137.2 L403.6 1137.0 L403.3 1136.8 L403.1 1136.5 L402.9 1136.2 L402.7 1136.0 L402.5 1135.7 L402.2 1135.3 L402.1 1135.0 L402.0 1134.8 L401.8 1134.2 L401.7 1134.0 L401.5 1133.5 L401.5 1133.2 L401.4 1132.8 L401.4 1132.2 L401.4 1131.8 L401.4 1131.2 L401.5 1130.8 L401.5 1130.5 L401.6 1130.0 L401.8 1129.6 L401.9 1129.2 L402.0 1129.0 L402.2 1128.5 L402.4 1128.2 L402.5 1128.0 L402.8 1127.7 L403.0 1127.4 L403.2 1127.0 L403.4 1126.8 L403.6 1126.5 L403.8 1126.2 L404.0 1126.0 L404.2 1125.6 L404.5 1125.3 L404.7 1125.0 L404.9 1124.8 L405.0 1124.5 L405.2 1124.2 L405.5 1123.8 L405.7 1123.5 L405.9 1123.2 L406.1 1123.0 L406.2 1122.7 L406.5 1122.4 L406.8 1122.0 L406.9 1121.8 L407.1 1121.5 L407.3 1121.2 L407.5 1120.9 L407.8 1120.6 L408.0 1120.2 L408.1 1120.0 L408.3 1119.8 L408.5 1119.5 L408.8 1119.2 L409.0 1118.8 L409.2 1118.5 L409.4 1118.2 L409.6 1118.0 L409.8 1117.8 L410.0 1117.5 L410.2 1117.2 L410.5 1116.9 L410.8 1116.6 L411.0 1116.3 L411.2 1116.0 L411.5 1115.8 L411.7 1115.5 L412.0 1115.2 L412.2 1115.0 L412.4 1114.8 L412.6 1114.5 L412.9 1114.2 L413.1 1114.0 L413.4 1113.8 L413.6 1113.5 L413.9 1113.2 L414.1 1113.0 L414.4 1112.8 L414.6 1112.5 L414.9 1112.2 L415.2 1112.0 L415.4 1111.8 L415.7 1111.5 L416.0 1111.2 L416.2 1111.0 L416.5 1110.8 L416.8 1110.6 L417.0 1110.3 L417.2 1110.1 L417.5 1109.9 L417.8 1109.7 L418.0 1109.5 L418.3 1109.2 L418.7 1109.0 L419.0 1108.8 L419.2 1108.7 L419.6 1108.5 L420.0 1108.3 L420.2 1108.2 L420.8 1108.0 L421.0 1108.0 L421.5 1107.8 L422.0 1107.8 L422.2 1107.7 L422.8 1107.7 L423.2 1107.7 L423.8 1107.7 L424.2 1107.7 L424.5 1107.8 L425.0 1107.9 L425.5 1108.0 L425.8 1108.1 L426.1 1108.2 L426.5 1108.4 L426.8 1108.5 L427.1 1108.8 L427.5 1109.0 L427.8 1109.2 L428.0 1109.4 L428.2 1109.6 L428.5 1109.8 L428.8 1110.1 L429.0 1110.4 L429.2 1110.8 L429.4 1111.0 L429.6 1111.2 L429.8 1111.6 L429.9 1112.0 L430.0 1112.2 L430.2 1112.8 L430.3 1113.0 L430.4 1113.5 L430.5 1114.0 L430.5 1114.2 L430.6 1114.8 L430.6 1115.2 L430.6 1115.8 L430.5 1116.2 L430.5 1116.5 L430.4 1117.0 L430.3 1117.5 L430.2 1117.8 L430.1 1118.2 L430.0 1118.5 L429.8 1119.0 L429.7 1119.2 L429.5 1119.6 L429.3 1120.0 L429.1 1120.2 L429.0 1120.5 L428.8 1120.9 L428.6 1121.2 L428.4 1121.5 L428.2 1121.8 L428.0 1122.2 L427.8 1122.5 L427.7 1122.8 L427.5 1123.0 L427.2 1123.4 L427.1 1123.8 L426.9 1124.0 L426.7 1124.2 L426.5 1124.6 L426.2 1124.9 L426.0 1125.2 L425.9 1125.5 L425.7 1125.8 L425.5 1126.0 L425.2 1126.3 L425.0 1126.6 L424.8 1126.9 L424.5 1127.2 L424.3 1127.5 L424.0 1127.8 L423.8 1128.0 L423.6 1128.2 L423.4 1128.5 L423.1 1128.8 L422.9 1129.0 L422.6 1129.2 L422.4 1129.5 L422.1 1129.8 L421.9 1130.0 L421.6 1130.2 L421.3 1130.5 L421.0 1130.8 L420.8 1131.0 L420.5 1131.2 L420.2 1131.4 L420.0 1131.6 L419.8 1131.8 L419.5 1132.0 L419.2 1132.2 L418.9 1132.5 L418.6 1132.8 L418.2 1133.0 L418.0 1133.2 L417.8 1133.4 L417.5 1133.5 L417.2 1133.8 L416.9 1134.0 L416.6 1134.2 L416.2 1134.5 L416.0 1134.7 L415.8 1134.9 L415.5 1135.0 L415.2 1135.2 L414.9 1135.5 L414.6 1135.8 L414.3 1136.0 L414.0 1136.2 L413.8 1136.4 L413.5 1136.6 L413.2 1136.8 L413.0 1137.0 L412.7 1137.2 L412.3 1137.5 L412.0 1137.7 L411.8 1137.8 L411.4 1138.0 L411.0 1138.2 L410.8 1138.3 L410.2 1138.4 L410.0 1138.5Z M380.8 1141.3 L380.2 1141.3 L379.8 1141.3 L379.2 1141.3 L378.8 1141.3 L378.5 1141.2 L378.0 1141.1 L377.5 1141.0 L377.2 1140.9 L376.8 1140.8 L376.5 1140.6 L376.2 1140.5 L375.8 1140.2 L375.5 1140.1 L375.2 1139.9 L375.0 1139.7 L374.7 1139.5 L374.4 1139.2 L374.1 1139.0 L373.9 1138.8 L373.6 1138.5 L373.4 1138.2 L373.2 1138.0 L373.0 1137.7 L372.8 1137.4 L372.5 1137.0 L372.4 1136.8 L372.2 1136.5 L372.0 1136.0 L371.9 1135.8 L371.8 1135.3 L371.6 1135.0 L371.5 1134.5 L371.4 1134.2 L371.3 1133.8 L371.3 1133.2 L371.2 1133.0 L371.2 1132.5 L371.2 1132.0 L371.2 1131.5 L371.2 1131.0 L371.3 1130.8 L371.3 1130.2 L371.4 1129.8 L371.5 1129.5 L371.6 1129.0 L371.8 1128.7 L371.9 1128.2 L372.0 1128.0 L372.2 1127.5 L372.4 1127.2 L372.5 1127.0 L372.8 1126.6 L373.0 1126.3 L373.2 1126.0 L373.4 1125.8 L373.6 1125.5 L373.9 1125.2 L374.1 1125.0 L374.4 1124.8 L374.7 1124.5 L375.0 1124.3 L375.2 1124.1 L375.5 1123.9 L375.8 1123.8 L376.2 1123.5 L376.5 1123.4 L376.8 1123.2 L377.2 1123.1 L377.5 1123.0 L378.0 1122.9 L378.5 1122.8 L378.8 1122.7 L379.2 1122.7 L379.8 1122.7 L380.2 1122.7 L380.8 1122.7 L381.0 1122.8 L381.5 1122.9 L382.0 1123.0 L382.2 1123.1 L382.8 1123.2 L383.0 1123.3 L383.3 1123.5 L383.8 1123.7 L384.0 1123.9 L384.2 1124.0 L384.6 1124.2 L384.9 1124.5 L385.2 1124.8 L385.5 1125.0 L385.7 1125.2 L386.0 1125.5 L386.2 1125.8 L386.4 1126.0 L386.6 1126.2 L386.8 1126.5 L387.0 1126.9 L387.2 1127.2 L387.3 1127.5 L387.5 1127.8 L387.7 1128.2 L387.8 1128.5 L388.0 1129.0 L388.0 1129.2 L388.2 1129.8 L388.2 1130.2 L388.3 1130.5 L388.4 1131.0 L388.4 1131.5 L388.4 1132.0 L388.4 1132.5 L388.4 1133.0 L388.3 1133.5 L388.2 1133.8 L388.2 1134.2 L388.0 1134.8 L388.0 1135.0 L387.8 1135.5 L387.7 1135.8 L387.5 1136.2 L387.3 1136.5 L387.2 1136.8 L387.0 1137.1 L386.8 1137.5 L386.6 1137.8 L386.4 1138.0 L386.2 1138.2 L386.0 1138.5 L385.7 1138.8 L385.5 1139.0 L385.2 1139.2 L384.9 1139.5 L384.6 1139.8 L384.2 1140.0 L384.0 1140.1 L383.8 1140.3 L383.3 1140.5 L383.0 1140.7 L382.8 1140.8 L382.2 1140.9 L382.0 1141.0 L381.5 1141.1 L381.0 1141.2 L380.8 1141.3Z M418.0 1091.0 L417.5 1091.1 L417.0 1091.1 L416.5 1091.0 L416.2 1091.0 L415.8 1090.8 L415.5 1090.7 L415.2 1090.5 L414.8 1090.2 L414.5 1090.0 L414.3 1089.8 L414.1 1089.5 L413.9 1089.2 L413.8 1088.9 L413.6 1088.5 L413.5 1088.2 L413.4 1087.8 L413.4 1087.2 L413.5 1086.8 L413.6 1086.5 L413.8 1086.1 L413.9 1085.8 L414.1 1085.5 L414.3 1085.2 L414.5 1085.0 L414.8 1084.8 L415.2 1084.5 L415.5 1084.3 L415.8 1084.2 L416.2 1084.0 L416.5 1084.0 L417.0 1083.9 L417.5 1083.9 L418.0 1084.0 L418.2 1084.0 L418.8 1084.2 L419.0 1084.3 L419.4 1084.5 L419.8 1084.7 L420.0 1084.9 L420.2 1085.2 L420.5 1085.5 L420.7 1085.8 L420.8 1086.0 L421.0 1086.4 L421.1 1086.8 L421.2 1087.2 L421.2 1087.8 L421.1 1088.2 L421.0 1088.6 L420.8 1089.0 L420.7 1089.2 L420.5 1089.5 L420.2 1089.8 L420.0 1090.1 L419.8 1090.3 L419.4 1090.5 L419.0 1090.7 L418.8 1090.8 L418.2 1091.0 L418.0 1091.0Z M409.0 1138.0 L408.5 1138.1 L408.0 1138.1 L407.5 1138.0 L407.2 1138.0 L406.8 1137.9 L406.2 1137.8 L406.0 1137.7 L405.6 1137.5 L405.2 1137.3 L405.0 1137.2 L404.7 1137.0 L404.3 1136.8 L404.0 1136.5 L403.8 1136.2 L403.5 1136.0 L403.3 1135.8 L403.1 1135.5 L403.0 1135.2 L402.8 1134.9 L402.6 1134.5 L402.5 1134.2 L402.3 1133.8 L402.2 1133.5 L402.1 1133.0 L402.0 1132.5 L402.0 1132.0 L402.0 1131.5 L402.1 1131.0 L402.2 1130.5 L402.2 1130.2 L402.4 1129.8 L402.5 1129.5 L402.7 1129.0 L402.9 1128.8 L403.0 1128.5 L403.2 1128.1 L403.5 1127.8 L403.7 1127.5 L403.9 1127.2 L404.1 1127.0 L404.3 1126.8 L404.5 1126.4 L404.8 1126.1 L405.0 1125.8 L405.2 1125.5 L405.3 1125.2 L405.5 1125.0 L405.8 1124.7 L406.0 1124.3 L406.2 1124.0 L406.4 1123.8 L406.5 1123.5 L406.8 1123.2 L407.0 1122.8 L407.2 1122.5 L407.4 1122.2 L407.6 1122.0 L407.8 1121.7 L408.0 1121.4 L408.2 1121.0 L408.5 1120.8 L408.6 1120.5 L408.8 1120.2 L409.0 1120.0 L409.2 1119.7 L409.5 1119.3 L409.7 1119.0 L409.9 1118.8 L410.1 1118.5 L410.3 1118.2 L410.5 1118.0 L410.8 1117.7 L411.0 1117.4 L411.2 1117.1 L411.5 1116.8 L411.8 1116.5 L412.0 1116.2 L412.2 1116.0 L412.4 1115.8 L412.7 1115.5 L412.9 1115.2 L413.1 1115.0 L413.4 1114.8 L413.6 1114.5 L413.9 1114.2 L414.1 1114.0 L414.4 1113.8 L414.6 1113.5 L414.9 1113.2 L415.1 1113.0 L415.4 1112.8 L415.7 1112.5 L415.9 1112.2 L416.2 1112.0 L416.5 1111.8 L416.7 1111.5 L417.0 1111.3 L417.2 1111.0 L417.5 1110.8 L417.8 1110.6 L418.0 1110.4 L418.2 1110.2 L418.5 1110.0 L418.8 1109.8 L419.2 1109.5 L419.5 1109.3 L419.8 1109.2 L420.2 1109.0 L420.5 1108.9 L420.8 1108.8 L421.2 1108.6 L421.8 1108.5 L422.0 1108.5 L422.5 1108.4 L423.0 1108.4 L423.5 1108.4 L424.0 1108.4 L424.5 1108.5 L424.8 1108.6 L425.2 1108.7 L425.5 1108.8 L426.0 1109.0 L426.2 1109.1 L426.5 1109.3 L426.9 1109.5 L427.2 1109.7 L427.5 1110.0 L427.8 1110.2 L428.0 1110.4 L428.2 1110.7 L428.5 1111.0 L428.7 1111.2 L428.8 1111.5 L429.0 1111.8 L429.2 1112.2 L429.3 1112.5 L429.5 1112.9 L429.6 1113.2 L429.7 1113.8 L429.8 1114.0 L429.8 1114.5 L429.9 1115.0 L429.9 1115.5 L429.8 1116.0 L429.8 1116.5 L429.7 1116.8 L429.6 1117.2 L429.5 1117.6 L429.4 1118.0 L429.2 1118.3 L429.1 1118.8 L429.0 1119.0 L428.8 1119.4 L428.6 1119.8 L428.4 1120.0 L428.2 1120.3 L428.0 1120.7 L427.8 1121.0 L427.7 1121.2 L427.5 1121.6 L427.2 1122.0 L427.1 1122.2 L426.9 1122.5 L426.8 1122.8 L426.5 1123.2 L426.3 1123.5 L426.1 1123.8 L426.0 1124.0 L425.8 1124.3 L425.5 1124.7 L425.2 1125.0 L425.1 1125.2 L424.9 1125.5 L424.7 1125.8 L424.5 1126.0 L424.2 1126.3 L424.0 1126.6 L423.8 1126.9 L423.5 1127.2 L423.2 1127.5 L423.0 1127.7 L422.8 1128.0 L422.5 1128.2 L422.3 1128.5 L422.0 1128.8 L421.8 1129.0 L421.5 1129.2 L421.2 1129.5 L421.0 1129.7 L420.8 1129.9 L420.5 1130.2 L420.2 1130.4 L420.0 1130.6 L419.8 1130.8 L419.5 1131.0 L419.2 1131.2 L418.9 1131.5 L418.6 1131.8 L418.3 1132.0 L418.0 1132.2 L417.8 1132.4 L417.5 1132.6 L417.2 1132.8 L417.0 1133.0 L416.6 1133.2 L416.3 1133.5 L416.0 1133.7 L415.8 1133.9 L415.5 1134.1 L415.2 1134.3 L415.0 1134.5 L414.7 1134.8 L414.4 1135.0 L414.0 1135.2 L413.8 1135.5 L413.5 1135.7 L413.2 1135.9 L413.0 1136.1 L412.8 1136.3 L412.5 1136.5 L412.2 1136.8 L411.8 1137.0 L411.5 1137.2 L411.2 1137.3 L410.9 1137.5 L410.5 1137.6 L410.2 1137.8 L409.8 1137.9 L409.2 1138.0 L409.0 1138.0Z M381.5 1140.5 L381.0 1140.6 L380.5 1140.7 L380.0 1140.7 L379.5 1140.7 L379.0 1140.7 L378.5 1140.6 L378.0 1140.5 L377.8 1140.5 L377.2 1140.3 L377.0 1140.2 L376.6 1140.0 L376.2 1139.8 L376.0 1139.7 L375.7 1139.5 L375.3 1139.2 L375.0 1139.0 L374.8 1138.8 L374.5 1138.6 L374.2 1138.3 L374.0 1138.1 L373.8 1137.8 L373.5 1137.5 L373.4 1137.2 L373.2 1137.0 L373.0 1136.7 L372.8 1136.2 L372.6 1136.0 L372.5 1135.7 L372.3 1135.2 L372.2 1135.0 L372.1 1134.5 L372.0 1134.2 L371.9 1133.8 L371.8 1133.2 L371.8 1132.8 L371.7 1132.5 L371.7 1132.0 L371.7 1131.5 L371.8 1131.2 L371.8 1130.8 L371.9 1130.2 L372.0 1129.8 L372.1 1129.5 L372.2 1129.0 L372.3 1128.8 L372.5 1128.3 L372.6 1128.0 L372.8 1127.8 L373.0 1127.3 L373.2 1127.0 L373.4 1126.8 L373.5 1126.5 L373.8 1126.2 L374.0 1125.9 L374.2 1125.7 L374.5 1125.4 L374.8 1125.2 L375.0 1125.0 L375.3 1124.8 L375.7 1124.5 L376.0 1124.3 L376.2 1124.2 L376.6 1124.0 L377.0 1123.8 L377.2 1123.7 L377.8 1123.5 L378.0 1123.5 L378.5 1123.4 L379.0 1123.3 L379.5 1123.3 L380.0 1123.3 L380.5 1123.3 L381.0 1123.4 L381.5 1123.5 L381.8 1123.5 L382.2 1123.7 L382.5 1123.8 L383.0 1124.0 L383.2 1124.1 L383.5 1124.2 L383.9 1124.5 L384.2 1124.7 L384.5 1124.9 L384.8 1125.1 L385.0 1125.3 L385.2 1125.6 L385.5 1125.8 L385.8 1126.1 L386.0 1126.4 L386.2 1126.8 L386.4 1127.0 L386.6 1127.2 L386.8 1127.6 L387.0 1128.0 L387.1 1128.2 L387.2 1128.7 L387.4 1129.0 L387.5 1129.4 L387.6 1129.8 L387.7 1130.2 L387.8 1130.5 L387.8 1131.0 L387.9 1131.5 L387.9 1132.0 L387.9 1132.5 L387.8 1133.0 L387.8 1133.5 L387.7 1133.8 L387.6 1134.2 L387.5 1134.6 L387.4 1135.0 L387.2 1135.3 L387.1 1135.8 L387.0 1136.0 L386.8 1136.4 L386.6 1136.8 L386.4 1137.0 L386.2 1137.2 L386.0 1137.6 L385.8 1137.9 L385.5 1138.2 L385.2 1138.4 L385.0 1138.7 L384.8 1138.9 L384.5 1139.1 L384.2 1139.3 L383.9 1139.5 L383.5 1139.8 L383.2 1139.9 L383.0 1140.0 L382.5 1140.2 L382.2 1140.3 L381.8 1140.5 L381.5 1140.5Z M418.2 1089.5 L417.8 1089.7 L417.2 1089.7 L416.8 1089.6 L416.3 1089.5 L416.0 1089.3 L415.8 1089.2 L415.5 1088.9 L415.2 1088.6 L415.1 1088.2 L415.0 1088.0 L414.9 1087.5 L415.0 1087.0 L415.1 1086.8 L415.2 1086.4 L415.5 1086.1 L415.8 1085.8 L416.0 1085.7 L416.3 1085.5 L416.8 1085.4 L417.2 1085.3 L417.8 1085.3 L418.2 1085.5 L418.5 1085.6 L418.8 1085.8 L419.0 1086.0 L419.2 1086.3 L419.5 1086.7 L419.6 1087.0 L419.7 1087.5 L419.6 1088.0 L419.5 1088.3 L419.2 1088.7 L419.0 1089.0 L418.8 1089.2 L418.5 1089.4 L418.2 1089.5Z M409.0 1137.3 L408.5 1137.3 L408.0 1137.3 L407.5 1137.3 L407.2 1137.2 L406.8 1137.1 L406.3 1137.0 L406.0 1136.9 L405.7 1136.8 L405.3 1136.5 L405.0 1136.3 L404.8 1136.1 L404.5 1135.9 L404.2 1135.7 L404.0 1135.4 L403.8 1135.1 L403.5 1134.8 L403.4 1134.5 L403.2 1134.2 L403.1 1133.8 L403.0 1133.5 L402.9 1133.0 L402.8 1132.5 L402.8 1132.0 L402.8 1131.9 L402.8 1131.5 L402.8 1131.0 L402.9 1130.5 L403.0 1130.2 L403.2 1129.8 L403.3 1129.5 L403.5 1129.1 L403.7 1128.8 L403.9 1128.5 L404.1 1128.2 L404.3 1128.0 L404.5 1127.7 L404.8 1127.3 L405.0 1127.0 L405.2 1126.8 L405.4 1126.5 L405.5 1126.2 L405.8 1125.9 L406.0 1125.6 L406.2 1125.2 L406.4 1125.0 L406.6 1124.8 L406.8 1124.5 L407.0 1124.1 L407.2 1123.8 L407.4 1123.5 L407.6 1123.2 L407.8 1123.0 L408.0 1122.7 L408.2 1122.3 L408.5 1122.0 L408.6 1121.8 L408.8 1121.5 L409.0 1121.2 L409.2 1120.9 L409.5 1120.6 L409.7 1120.2 L409.9 1120.0 L410.1 1119.8 L410.3 1119.5 L410.5 1119.2 L410.8 1118.9 L411.0 1118.6 L411.2 1118.3 L411.5 1118.0 L411.7 1117.8 L411.9 1117.5 L412.1 1117.2 L412.3 1117.0 L412.5 1116.8 L412.8 1116.5 L413.0 1116.2 L413.2 1116.0 L413.5 1115.7 L413.8 1115.4 L414.0 1115.2 L414.2 1114.9 L414.5 1114.7 L414.8 1114.4 L415.0 1114.2 L415.2 1113.9 L415.5 1113.7 L415.8 1113.4 L416.0 1113.2 L416.2 1113.0 L416.5 1112.7 L416.8 1112.5 L417.0 1112.2 L417.3 1112.0 L417.6 1111.8 L417.9 1111.5 L418.1 1111.2 L418.4 1111.0 L418.7 1110.8 L419.0 1110.5 L419.2 1110.3 L419.5 1110.2 L419.8 1110.0 L420.2 1109.8 L420.5 1109.7 L420.9 1109.5 L421.2 1109.4 L421.8 1109.3 L422.0 1109.2 L422.5 1109.2 L423.0 1109.1 L423.5 1109.1 L424.0 1109.2 L424.3 1109.2 L424.8 1109.4 L425.2 1109.5 L425.5 1109.6 L425.8 1109.8 L426.2 1110.0 L426.5 1110.2 L426.8 1110.4 L427.0 1110.6 L427.2 1110.8 L427.5 1111.1 L427.8 1111.4 L428.0 1111.7 L428.2 1112.0 L428.3 1112.2 L428.5 1112.6 L428.7 1113.0 L428.8 1113.2 L428.9 1113.8 L429.0 1114.2 L429.0 1114.5 L429.1 1115.0 L429.1 1115.5 L429.0 1116.0 L429.0 1116.3 L428.9 1116.8 L428.8 1117.2 L428.7 1117.5 L428.5 1118.0 L428.4 1118.2 L428.2 1118.7 L428.1 1119.0 L427.9 1119.2 L427.8 1119.6 L427.5 1120.0 L427.4 1120.2 L427.2 1120.5 L427.0 1120.8 L426.8 1121.2 L426.6 1121.5 L426.4 1121.8 L426.2 1122.0 L426.0 1122.4 L425.8 1122.8 L425.6 1123.0 L425.5 1123.2 L425.2 1123.6 L425.0 1123.9 L424.8 1124.2 L424.6 1124.5 L424.4 1124.8 L424.2 1125.0 L424.0 1125.3 L423.8 1125.6 L423.5 1125.9 L423.2 1126.2 L423.0 1126.5 L422.8 1126.8 L422.5 1127.0 L422.3 1127.2 L422.1 1127.5 L421.8 1127.8 L421.6 1128.0 L421.3 1128.2 L421.1 1128.5 L420.8 1128.8 L420.5 1129.0 L420.3 1129.2 L420.0 1129.5 L419.8 1129.7 L419.5 1129.9 L419.2 1130.1 L419.0 1130.3 L418.8 1130.6 L418.5 1130.8 L418.2 1131.0 L417.9 1131.2 L417.6 1131.5 L417.2 1131.7 L417.0 1131.9 L416.8 1132.1 L416.5 1132.3 L416.2 1132.5 L416.0 1132.8 L415.6 1133.0 L415.3 1133.2 L415.0 1133.5 L414.8 1133.7 L414.5 1133.9 L414.2 1134.1 L414.0 1134.3 L413.7 1134.5 L413.4 1134.8 L413.1 1135.0 L412.8 1135.2 L412.5 1135.5 L412.2 1135.7 L412.0 1135.9 L411.8 1136.1 L411.5 1136.3 L411.2 1136.5 L410.8 1136.7 L410.5 1136.8 L410.1 1137.0 L409.8 1137.1 L409.2 1137.2 L409.0 1137.3Z M380.8 1140.0 L380.2 1140.1 L379.8 1140.1 L379.2 1140.1 L378.8 1140.0 L378.5 1140.0 L378.0 1139.9 L377.6 1139.8 L377.2 1139.6 L377.0 1139.5 L376.5 1139.3 L376.2 1139.1 L376.0 1139.0 L375.7 1138.8 L375.3 1138.5 L375.0 1138.2 L374.8 1138.0 L374.5 1137.8 L374.3 1137.5 L374.1 1137.2 L373.9 1137.0 L373.7 1136.8 L373.5 1136.4 L373.3 1136.0 L373.2 1135.8 L373.0 1135.4 L372.8 1135.0 L372.8 1134.7 L372.6 1134.2 L372.5 1133.8 L372.4 1133.5 L372.4 1133.0 L372.3 1132.5 L372.3 1132.0 L372.3 1131.5 L372.4 1131.0 L372.4 1130.5 L372.5 1130.2 L372.6 1129.8 L372.8 1129.3 L372.8 1129.0 L373.0 1128.6 L373.2 1128.2 L373.3 1128.0 L373.5 1127.6 L373.7 1127.2 L373.9 1127.0 L374.1 1126.8 L374.3 1126.5 L374.5 1126.2 L374.8 1126.0 L375.0 1125.8 L375.3 1125.5 L375.7 1125.2 L376.0 1125.0 L376.2 1124.9 L376.5 1124.7 L377.0 1124.5 L377.2 1124.4 L377.6 1124.2 L378.0 1124.1 L378.5 1124.0 L378.8 1124.0 L379.2 1123.9 L379.8 1123.9 L380.2 1123.9 L380.8 1124.0 L381.0 1124.0 L381.5 1124.1 L382.0 1124.2 L382.2 1124.3 L382.6 1124.5 L383.0 1124.7 L383.2 1124.8 L383.6 1125.0 L383.9 1125.2 L384.2 1125.5 L384.5 1125.7 L384.8 1125.9 L385.0 1126.2 L385.2 1126.4 L385.5 1126.8 L385.7 1127.0 L385.9 1127.2 L386.0 1127.5 L386.2 1127.9 L386.4 1128.2 L386.5 1128.5 L386.7 1129.0 L386.8 1129.2 L387.0 1129.8 L387.1 1130.0 L387.2 1130.5 L387.2 1131.0 L387.2 1131.3 L387.3 1131.8 L387.3 1132.2 L387.2 1132.7 L387.2 1133.0 L387.2 1133.5 L387.1 1134.0 L387.0 1134.2 L386.8 1134.8 L386.7 1135.0 L386.5 1135.5 L386.4 1135.8 L386.2 1136.1 L386.0 1136.5 L385.9 1136.8 L385.7 1137.0 L385.5 1137.2 L385.2 1137.6 L385.0 1137.8 L384.8 1138.1 L384.5 1138.3 L384.2 1138.5 L383.9 1138.8 L383.6 1139.0 L383.2 1139.2 L383.0 1139.3 L382.6 1139.5 L382.2 1139.7 L382.0 1139.8 L381.5 1139.9 L381.0 1140.0 L380.8 1140.0Z M417.5 1088.3 L417.2 1088.3 L417.0 1088.2 L417.0 1088.2 L416.8 1088.1 L416.6 1088.0 L416.5 1087.8 L416.5 1087.8 L416.4 1087.5 L416.5 1087.2 L416.5 1087.2 L416.6 1087.0 L416.8 1086.9 L417.0 1086.8 L417.0 1086.8 L417.2 1086.7 L417.5 1086.7 L417.6 1086.8 L417.8 1086.8 L418.0 1087.0 L418.0 1087.1 L418.1 1087.2 L418.2 1087.5 L418.1 1087.8 L418.0 1087.9 L418.0 1088.0 L417.8 1088.2 L417.6 1088.2 L417.5 1088.3Z M409.5 1136.3 L409.0 1136.4 L408.5 1136.5 L408.0 1136.5 L407.5 1136.4 L407.0 1136.3 L406.7 1136.2 L406.2 1136.1 L406.0 1135.9 L405.7 1135.8 L405.3 1135.5 L405.0 1135.2 L404.8 1135.0 L404.6 1134.8 L404.4 1134.5 L404.2 1134.2 L404.0 1133.8 L403.9 1133.5 L403.8 1133.1 L403.7 1132.8 L403.6 1132.2 L403.6 1131.8 L403.6 1131.2 L403.7 1130.8 L403.8 1130.5 L404.0 1130.0 L404.1 1129.8 L404.3 1129.5 L404.5 1129.1 L404.8 1128.8 L405.0 1128.5 L405.1 1128.2 L405.3 1128.0 L405.5 1127.7 L405.8 1127.4 L406.0 1127.0 L406.2 1126.8 L406.4 1126.5 L406.5 1126.2 L406.8 1126.0 L407.0 1125.6 L407.2 1125.2 L407.4 1125.0 L407.6 1124.8 L407.8 1124.5 L408.0 1124.1 L408.2 1123.8 L408.4 1123.5 L408.6 1123.2 L408.8 1123.0 L409.0 1122.7 L409.2 1122.3 L409.5 1122.0 L409.6 1121.8 L409.8 1121.5 L410.0 1121.2 L410.2 1120.9 L410.5 1120.6 L410.7 1120.2 L410.9 1120.0 L411.1 1119.8 L411.3 1119.5 L411.5 1119.2 L411.8 1118.9 L412.0 1118.6 L412.2 1118.3 L412.5 1118.0 L412.7 1117.8 L413.0 1117.5 L413.2 1117.2 L413.4 1117.0 L413.6 1116.8 L413.9 1116.5 L414.1 1116.2 L414.3 1116.0 L414.6 1115.8 L414.8 1115.5 L415.1 1115.2 L415.3 1115.0 L415.6 1114.8 L415.8 1114.5 L416.1 1114.2 L416.3 1114.0 L416.6 1113.8 L416.9 1113.5 L417.1 1113.2 L417.4 1113.0 L417.7 1112.8 L418.0 1112.5 L418.2 1112.3 L418.5 1112.0 L418.8 1111.8 L419.0 1111.6 L419.2 1111.4 L419.5 1111.2 L419.8 1111.0 L420.2 1110.8 L420.5 1110.6 L420.8 1110.5 L421.2 1110.3 L421.5 1110.2 L422.0 1110.1 L422.5 1110.0 L422.8 1110.0 L423.2 1110.0 L423.5 1110.0 L424.0 1110.1 L424.5 1110.2 L424.8 1110.3 L425.2 1110.5 L425.5 1110.6 L425.8 1110.8 L426.1 1111.0 L426.4 1111.2 L426.7 1111.5 L426.9 1111.8 L427.1 1112.0 L427.3 1112.2 L427.5 1112.5 L427.7 1113.0 L427.8 1113.2 L428.0 1113.7 L428.1 1114.0 L428.2 1114.5 L428.2 1115.0 L428.2 1115.5 L428.2 1116.0 L428.1 1116.5 L428.0 1116.9 L427.9 1117.2 L427.8 1117.7 L427.6 1118.0 L427.5 1118.2 L427.2 1118.7 L427.1 1119.0 L426.9 1119.2 L426.8 1119.5 L426.5 1119.9 L426.3 1120.2 L426.2 1120.5 L426.0 1120.8 L425.8 1121.2 L425.5 1121.5 L425.4 1121.8 L425.2 1122.0 L425.0 1122.3 L424.8 1122.7 L424.5 1123.0 L424.4 1123.2 L424.2 1123.5 L424.0 1123.8 L423.8 1124.1 L423.5 1124.4 L423.2 1124.7 L423.0 1125.0 L422.8 1125.2 L422.6 1125.5 L422.4 1125.8 L422.2 1126.0 L422.0 1126.2 L421.8 1126.5 L421.5 1126.8 L421.2 1127.0 L421.0 1127.3 L420.8 1127.5 L420.5 1127.8 L420.2 1128.0 L420.0 1128.3 L419.7 1128.5 L419.5 1128.8 L419.2 1129.0 L418.9 1129.2 L418.6 1129.5 L418.3 1129.8 L418.0 1130.0 L417.8 1130.2 L417.5 1130.4 L417.2 1130.6 L417.0 1130.8 L416.8 1131.0 L416.4 1131.2 L416.1 1131.5 L415.8 1131.8 L415.5 1132.0 L415.2 1132.2 L415.0 1132.4 L414.8 1132.6 L414.5 1132.8 L414.2 1133.0 L413.9 1133.2 L413.5 1133.5 L413.2 1133.7 L413.0 1133.9 L412.8 1134.1 L412.5 1134.4 L412.2 1134.6 L412.0 1134.8 L411.7 1135.0 L411.4 1135.2 L411.1 1135.5 L410.8 1135.7 L410.5 1135.9 L410.2 1136.0 L409.8 1136.2 L409.5 1136.3Z M381.0 1139.3 L380.5 1139.4 L380.0 1139.4 L379.5 1139.4 L379.0 1139.4 L378.5 1139.3 L378.2 1139.2 L377.8 1139.1 L377.5 1139.0 L377.0 1138.8 L376.8 1138.6 L376.5 1138.5 L376.1 1138.2 L375.8 1138.0 L375.5 1137.8 L375.2 1137.5 L375.0 1137.3 L374.8 1137.0 L374.5 1136.8 L374.4 1136.5 L374.2 1136.2 L374.0 1135.9 L373.8 1135.5 L373.6 1135.2 L373.5 1134.9 L373.4 1134.5 L373.2 1134.2 L373.1 1133.8 L373.1 1133.2 L373.0 1132.8 L373.0 1132.5 L373.0 1132.0 L373.0 1131.5 L373.0 1131.2 L373.1 1130.8 L373.1 1130.2 L373.2 1129.8 L373.4 1129.5 L373.5 1129.1 L373.6 1128.8 L373.8 1128.5 L374.0 1128.1 L374.2 1127.8 L374.4 1127.5 L374.5 1127.2 L374.8 1127.0 L375.0 1126.7 L375.2 1126.5 L375.5 1126.2 L375.8 1126.0 L376.1 1125.8 L376.5 1125.5 L376.8 1125.4 L377.0 1125.2 L377.5 1125.0 L377.8 1124.9 L378.2 1124.8 L378.5 1124.7 L379.0 1124.6 L379.5 1124.6 L380.0 1124.6 L380.5 1124.6 L381.0 1124.7 L381.2 1124.8 L381.8 1124.9 L382.1 1125.0 L382.5 1125.2 L382.8 1125.3 L383.1 1125.5 L383.5 1125.8 L383.8 1125.9 L384.0 1126.1 L384.2 1126.4 L384.5 1126.6 L384.8 1126.9 L385.0 1127.2 L385.2 1127.5 L385.4 1127.8 L385.6 1128.0 L385.8 1128.3 L386.0 1128.8 L386.1 1129.0 L386.2 1129.5 L386.3 1129.8 L386.5 1130.2 L386.5 1130.5 L386.6 1131.0 L386.6 1131.5 L386.6 1132.0 L386.6 1132.5 L386.6 1133.0 L386.5 1133.5 L386.5 1133.8 L386.3 1134.2 L386.2 1134.5 L386.1 1135.0 L386.0 1135.2 L385.8 1135.7 L385.6 1136.0 L385.4 1136.2 L385.2 1136.5 L385.0 1136.8 L384.8 1137.1 L384.5 1137.4 L384.2 1137.6 L384.0 1137.9 L383.8 1138.1 L383.5 1138.2 L383.1 1138.5 L382.8 1138.7 L382.5 1138.8 L382.1 1139.0 L381.8 1139.1 L381.2 1139.2 L381.0 1139.3Z M409.2 1135.3 L408.8 1135.4 L408.2 1135.4 L407.8 1135.4 L407.2 1135.3 L407.0 1135.2 L406.5 1135.0 L406.2 1134.9 L406.0 1134.7 L405.8 1134.5 L405.5 1134.2 L405.2 1133.9 L405.0 1133.5 L404.9 1133.2 L404.8 1132.8 L404.7 1132.5 L404.6 1132.0 L404.7 1131.5 L404.8 1131.0 L404.8 1130.8 L405.0 1130.3 L405.2 1130.0 L405.3 1129.8 L405.5 1129.5 L405.8 1129.2 L406.0 1128.8 L406.2 1128.5 L406.4 1128.2 L406.6 1128.0 L406.8 1127.7 L407.0 1127.3 L407.2 1127.0 L407.4 1126.8 L407.6 1126.5 L407.8 1126.2 L408.0 1125.8 L408.2 1125.5 L408.4 1125.2 L408.6 1125.0 L408.8 1124.7 L409.0 1124.3 L409.2 1124.0 L409.4 1123.8 L409.6 1123.5 L409.8 1123.2 L410.0 1122.9 L410.2 1122.5 L410.4 1122.2 L410.6 1122.0 L410.8 1121.8 L411.0 1121.4 L411.2 1121.1 L411.5 1120.8 L411.7 1120.5 L411.9 1120.2 L412.1 1120.0 L412.3 1119.8 L412.5 1119.5 L412.8 1119.2 L413.0 1118.9 L413.2 1118.6 L413.5 1118.3 L413.7 1118.0 L414.0 1117.8 L414.2 1117.5 L414.4 1117.2 L414.6 1117.0 L414.9 1116.8 L415.1 1116.5 L415.4 1116.2 L415.6 1116.0 L415.9 1115.8 L416.1 1115.5 L416.4 1115.2 L416.6 1115.0 L416.9 1114.8 L417.2 1114.5 L417.4 1114.2 L417.7 1114.0 L418.0 1113.8 L418.2 1113.5 L418.5 1113.3 L418.8 1113.1 L419.0 1112.9 L419.2 1112.7 L419.5 1112.4 L419.8 1112.2 L420.0 1112.0 L420.4 1111.8 L420.8 1111.5 L421.0 1111.4 L421.4 1111.2 L421.8 1111.1 L422.2 1111.0 L422.5 1111.0 L423.0 1111.0 L423.5 1111.0 L423.8 1111.0 L424.2 1111.2 L424.5 1111.2 L425.0 1111.5 L425.2 1111.6 L425.5 1111.8 L425.8 1112.0 L426.0 1112.2 L426.3 1112.5 L426.5 1112.8 L426.7 1113.2 L426.9 1113.5 L427.0 1113.9 L427.1 1114.2 L427.2 1114.8 L427.2 1115.2 L427.2 1115.8 L427.1 1116.2 L427.0 1116.8 L426.9 1117.0 L426.8 1117.5 L426.6 1117.8 L426.5 1118.0 L426.2 1118.4 L426.0 1118.8 L425.9 1119.0 L425.7 1119.2 L425.5 1119.7 L425.3 1120.0 L425.1 1120.2 L425.0 1120.5 L424.8 1120.9 L424.5 1121.2 L424.3 1121.5 L424.2 1121.8 L424.0 1122.0 L423.8 1122.4 L423.5 1122.7 L423.3 1123.0 L423.1 1123.2 L422.9 1123.5 L422.7 1123.8 L422.5 1124.1 L422.2 1124.4 L422.0 1124.7 L421.8 1125.0 L421.5 1125.2 L421.3 1125.5 L421.1 1125.8 L420.8 1126.0 L420.6 1126.2 L420.4 1126.5 L420.1 1126.8 L419.9 1127.0 L419.6 1127.2 L419.3 1127.5 L419.1 1127.8 L418.8 1128.0 L418.5 1128.2 L418.2 1128.5 L418.0 1128.7 L417.8 1128.9 L417.5 1129.1 L417.2 1129.3 L417.0 1129.5 L416.7 1129.8 L416.4 1130.0 L416.1 1130.2 L415.8 1130.5 L415.5 1130.7 L415.2 1130.9 L415.0 1131.1 L414.8 1131.3 L414.4 1131.5 L414.1 1131.8 L413.8 1132.0 L413.5 1132.2 L413.2 1132.4 L413.0 1132.6 L412.8 1132.8 L412.5 1133.0 L412.2 1133.2 L411.9 1133.5 L411.6 1133.8 L411.3 1134.0 L411.0 1134.2 L410.8 1134.4 L410.5 1134.6 L410.2 1134.8 L409.9 1135.0 L409.5 1135.2 L409.2 1135.3Z M381.0 1138.5 L380.5 1138.6 L380.0 1138.7 L379.5 1138.7 L379.0 1138.6 L378.5 1138.5 L378.2 1138.4 L377.8 1138.3 L377.5 1138.2 L377.1 1138.0 L376.8 1137.8 L376.5 1137.6 L376.2 1137.4 L376.0 1137.2 L375.7 1137.0 L375.5 1136.8 L375.2 1136.5 L375.0 1136.2 L374.8 1135.8 L374.6 1135.5 L374.4 1135.2 L374.2 1134.9 L374.1 1134.5 L374.0 1134.2 L373.9 1133.8 L373.8 1133.2 L373.7 1133.0 L373.7 1132.5 L373.7 1132.0 L373.7 1131.5 L373.7 1131.0 L373.8 1130.8 L373.9 1130.2 L374.0 1129.8 L374.1 1129.5 L374.2 1129.1 L374.4 1128.8 L374.6 1128.5 L374.8 1128.2 L375.0 1127.8 L375.2 1127.5 L375.5 1127.2 L375.7 1127.0 L376.0 1126.8 L376.2 1126.6 L376.5 1126.4 L376.8 1126.2 L377.1 1126.0 L377.5 1125.8 L377.8 1125.7 L378.2 1125.6 L378.5 1125.5 L379.0 1125.4 L379.5 1125.3 L380.0 1125.3 L380.5 1125.4 L381.0 1125.5 L381.2 1125.5 L381.8 1125.7 L382.0 1125.8 L382.5 1126.0 L382.8 1126.2 L383.0 1126.3 L383.3 1126.5 L383.6 1126.8 L383.9 1127.0 L384.1 1127.2 L384.3 1127.5 L384.5 1127.8 L384.8 1128.1 L385.0 1128.5 L385.2 1128.8 L385.3 1129.0 L385.5 1129.5 L385.6 1129.8 L385.7 1130.2 L385.8 1130.5 L385.9 1131.0 L385.9 1131.5 L385.9 1132.0 L385.9 1132.5 L385.9 1133.0 L385.8 1133.5 L385.7 1133.8 L385.6 1134.2 L385.5 1134.5 L385.3 1135.0 L385.2 1135.2 L385.0 1135.5 L384.8 1135.9 L384.5 1136.2 L384.3 1136.5 L384.1 1136.8 L383.9 1137.0 L383.6 1137.2 L383.3 1137.5 L383.0 1137.7 L382.8 1137.8 L382.5 1138.0 L382.0 1138.2 L381.8 1138.3 L381.2 1138.5 L381.0 1138.5Z M409.0 1133.8 L408.5 1133.9 L408.0 1133.9 L407.5 1133.8 L407.2 1133.7 L407.0 1133.5 L406.7 1133.2 L406.5 1133.0 L406.3 1132.5 L406.2 1132.2 L406.2 1131.8 L406.2 1131.3 L406.3 1131.0 L406.5 1130.7 L406.8 1130.3 L406.9 1130.0 L407.1 1129.8 L407.3 1129.5 L407.5 1129.1 L407.7 1128.8 L407.9 1128.5 L408.0 1128.2 L408.2 1127.9 L408.5 1127.5 L408.6 1127.2 L408.8 1127.0 L409.0 1126.6 L409.2 1126.2 L409.4 1126.0 L409.5 1125.8 L409.8 1125.4 L410.0 1125.0 L410.2 1124.8 L410.3 1124.5 L410.5 1124.2 L410.8 1123.8 L411.0 1123.5 L411.1 1123.2 L411.3 1123.0 L411.5 1122.7 L411.8 1122.3 L412.0 1122.0 L412.2 1121.8 L412.3 1121.5 L412.5 1121.2 L412.8 1120.9 L413.0 1120.6 L413.2 1120.3 L413.5 1120.0 L413.7 1119.8 L413.9 1119.5 L414.1 1119.2 L414.3 1119.0 L414.5 1118.8 L414.8 1118.5 L415.0 1118.2 L415.2 1118.0 L415.5 1117.7 L415.8 1117.4 L416.0 1117.2 L416.2 1116.9 L416.5 1116.7 L416.8 1116.4 L417.0 1116.2 L417.2 1116.0 L417.5 1115.7 L417.8 1115.5 L418.0 1115.2 L418.3 1115.0 L418.6 1114.8 L418.9 1114.5 L419.2 1114.2 L419.5 1114.0 L419.8 1113.8 L420.0 1113.6 L420.2 1113.4 L420.5 1113.2 L420.8 1113.0 L421.1 1112.8 L421.5 1112.5 L421.8 1112.4 L422.2 1112.3 L422.5 1112.2 L423.0 1112.2 L423.4 1112.2 L423.8 1112.3 L424.2 1112.5 L424.5 1112.7 L424.8 1112.8 L425.0 1113.0 L425.2 1113.3 L425.5 1113.6 L425.7 1114.0 L425.8 1114.2 L425.9 1114.8 L426.0 1115.2 L426.0 1115.8 L425.9 1116.2 L425.8 1116.6 L425.6 1117.0 L425.5 1117.2 L425.2 1117.6 L425.0 1118.0 L424.9 1118.2 L424.8 1118.5 L424.5 1119.0 L424.3 1119.2 L424.2 1119.5 L424.0 1119.8 L423.8 1120.2 L423.6 1120.5 L423.4 1120.8 L423.2 1121.0 L423.0 1121.4 L422.8 1121.7 L422.6 1122.0 L422.4 1122.2 L422.2 1122.5 L422.0 1122.8 L421.8 1123.1 L421.5 1123.4 L421.2 1123.7 L421.0 1124.0 L420.8 1124.2 L420.6 1124.5 L420.4 1124.8 L420.1 1125.0 L419.9 1125.2 L419.7 1125.5 L419.4 1125.8 L419.2 1126.0 L418.9 1126.2 L418.6 1126.5 L418.4 1126.8 L418.1 1127.0 L417.8 1127.2 L417.5 1127.5 L417.2 1127.7 L417.0 1127.9 L416.8 1128.1 L416.5 1128.3 L416.2 1128.5 L416.0 1128.8 L415.6 1129.0 L415.3 1129.2 L415.0 1129.5 L414.8 1129.7 L414.5 1129.8 L414.2 1130.0 L413.9 1130.2 L413.6 1130.5 L413.2 1130.7 L413.0 1130.9 L412.8 1131.1 L412.5 1131.3 L412.2 1131.5 L411.8 1131.8 L411.5 1132.0 L411.2 1132.2 L411.0 1132.4 L410.8 1132.5 L410.5 1132.8 L410.1 1133.0 L409.8 1133.2 L409.5 1133.5 L409.2 1133.6 L409.0 1133.8Z M380.5 1137.8 L380.0 1137.8 L379.5 1137.8 L379.1 1137.8 L378.8 1137.7 L378.2 1137.6 L378.0 1137.5 L377.5 1137.2 L377.2 1137.1 L377.0 1136.9 L376.7 1136.8 L376.4 1136.5 L376.2 1136.2 L375.9 1136.0 L375.7 1135.8 L375.5 1135.5 L375.2 1135.1 L375.1 1134.8 L375.0 1134.5 L374.8 1134.0 L374.7 1133.8 L374.6 1133.2 L374.5 1132.8 L374.5 1132.5 L374.4 1132.0 L374.5 1131.5 L374.5 1131.2 L374.6 1130.8 L374.7 1130.2 L374.8 1130.0 L375.0 1129.5 L375.1 1129.2 L375.2 1128.9 L375.5 1128.5 L375.7 1128.2 L375.9 1128.0 L376.2 1127.8 L376.4 1127.5 L376.7 1127.2 L377.0 1127.1 L377.2 1126.9 L377.5 1126.8 L378.0 1126.5 L378.2 1126.4 L378.8 1126.3 L379.1 1126.2 L379.5 1126.2 L380.0 1126.2 L380.5 1126.2 L380.8 1126.3 L381.2 1126.4 L381.5 1126.5 L382.0 1126.7 L382.2 1126.8 L382.5 1127.0 L382.9 1127.2 L383.2 1127.5 L383.4 1127.8 L383.7 1128.0 L383.9 1128.2 L384.1 1128.5 L384.2 1128.8 L384.5 1129.2 L384.6 1129.5 L384.8 1129.8 L384.9 1130.2 L385.0 1130.6 L385.1 1131.0 L385.1 1131.5 L385.2 1132.0 L385.1 1132.5 L385.1 1133.0 L385.0 1133.4 L384.9 1133.8 L384.8 1134.2 L384.6 1134.5 L384.5 1134.8 L384.2 1135.2 L384.1 1135.5 L383.9 1135.8 L383.7 1136.0 L383.4 1136.2 L383.2 1136.5 L382.9 1136.8 L382.5 1137.0 L382.2 1137.2 L382.0 1137.3 L381.5 1137.5 L381.2 1137.6 L380.8 1137.7 L380.5 1137.8Z M412.0 1128.5 L411.8 1128.5 L411.4 1128.2 L411.2 1128.0 L411.2 1127.5 L411.3 1127.2 L411.4 1126.8 L411.5 1126.4 L411.6 1126.0 L411.8 1125.7 L412.0 1125.2 L412.1 1125.0 L412.2 1124.7 L412.5 1124.2 L412.6 1124.0 L412.8 1123.8 L413.0 1123.4 L413.2 1123.0 L413.4 1122.8 L413.5 1122.5 L413.8 1122.2 L414.0 1121.8 L414.2 1121.5 L414.4 1121.2 L414.6 1121.0 L414.8 1120.8 L415.0 1120.5 L415.2 1120.2 L415.5 1119.9 L415.8 1119.6 L416.0 1119.4 L416.2 1119.1 L416.5 1118.8 L416.8 1118.6 L417.0 1118.3 L417.2 1118.1 L417.5 1117.9 L417.8 1117.6 L418.0 1117.4 L418.2 1117.2 L418.5 1117.0 L418.8 1116.8 L419.1 1116.5 L419.5 1116.2 L419.8 1116.0 L420.0 1115.9 L420.2 1115.7 L420.5 1115.5 L421.0 1115.2 L421.2 1115.1 L421.5 1115.0 L421.9 1114.8 L422.2 1114.6 L422.8 1114.5 L423.2 1114.6 L423.5 1114.9 L423.7 1115.2 L423.7 1115.8 L423.6 1116.2 L423.5 1116.5 L423.3 1117.0 L423.2 1117.3 L423.1 1117.8 L422.9 1118.0 L422.8 1118.4 L422.6 1118.8 L422.5 1119.0 L422.2 1119.4 L422.1 1119.8 L421.9 1120.0 L421.8 1120.3 L421.5 1120.7 L421.3 1121.0 L421.1 1121.2 L421.0 1121.5 L420.8 1121.8 L420.5 1122.1 L420.2 1122.5 L420.0 1122.8 L419.8 1123.0 L419.6 1123.2 L419.4 1123.5 L419.2 1123.8 L418.9 1124.0 L418.7 1124.2 L418.4 1124.5 L418.2 1124.8 L417.9 1125.0 L417.6 1125.2 L417.3 1125.5 L417.0 1125.8 L416.8 1126.0 L416.5 1126.2 L416.2 1126.4 L416.0 1126.5 L415.7 1126.8 L415.3 1127.0 L415.0 1127.2 L414.8 1127.4 L414.5 1127.5 L414.1 1127.8 L413.8 1127.9 L413.5 1128.0 L413.0 1128.2 L412.8 1128.3 L412.2 1128.5 L412.0 1128.5Z M380.2 1136.8 L379.8 1136.8 L379.2 1136.8 L379.0 1136.7 L378.5 1136.6 L378.2 1136.5 L377.8 1136.3 L377.5 1136.1 L377.2 1135.9 L377.0 1135.7 L376.8 1135.5 L376.5 1135.2 L376.2 1134.9 L376.0 1134.5 L375.9 1134.2 L375.8 1133.9 L375.6 1133.5 L375.5 1133.1 L375.4 1132.8 L375.4 1132.2 L375.4 1131.8 L375.4 1131.2 L375.5 1130.9 L375.6 1130.5 L375.8 1130.1 L375.9 1129.8 L376.0 1129.5 L376.2 1129.1 L376.5 1128.8 L376.8 1128.5 L377.0 1128.3 L377.2 1128.1 L377.5 1127.9 L377.8 1127.7 L378.2 1127.5 L378.5 1127.4 L379.0 1127.3 L379.2 1127.2 L379.8 1127.2 L380.2 1127.2 L380.5 1127.3 L381.0 1127.4 L381.3 1127.5 L381.8 1127.7 L382.0 1127.8 L382.2 1128.0 L382.6 1128.2 L382.8 1128.5 L383.1 1128.8 L383.3 1129.0 L383.5 1129.4 L383.7 1129.8 L383.8 1130.0 L384.0 1130.5 L384.1 1130.8 L384.2 1131.2 L384.2 1131.8 L384.2 1132.2 L384.2 1132.8 L384.1 1133.2 L384.0 1133.5 L383.8 1134.0 L383.7 1134.2 L383.5 1134.6 L383.3 1135.0 L383.1 1135.2 L382.8 1135.5 L382.6 1135.8 L382.2 1136.0 L382.0 1136.2 L381.8 1136.3 L381.3 1136.5 L381.0 1136.6 L380.5 1136.7 L380.2 1136.8Z M380.0 1135.5 L379.6 1135.5 L379.2 1135.5 L378.8 1135.3 L378.5 1135.2 L378.1 1135.0 L377.8 1134.8 L377.5 1134.5 L377.3 1134.2 L377.1 1134.0 L377.0 1133.8 L376.8 1133.2 L376.7 1133.0 L376.6 1132.5 L376.6 1132.0 L376.6 1131.5 L376.7 1131.0 L376.8 1130.8 L377.0 1130.2 L377.1 1130.0 L377.3 1129.8 L377.5 1129.5 L377.8 1129.2 L378.1 1129.0 L378.5 1128.8 L378.8 1128.7 L379.2 1128.5 L379.6 1128.5 L380.0 1128.5 L380.2 1128.5 L380.8 1128.6 L381.0 1128.8 L381.5 1129.0 L381.8 1129.2 L382.0 1129.4 L382.2 1129.7 L382.5 1130.0 L382.6 1130.2 L382.8 1130.5 L382.9 1131.0 L383.0 1131.4 L383.0 1131.8 L383.0 1132.2 L383.0 1132.6 L382.9 1133.0 L382.8 1133.5 L382.6 1133.8 L382.5 1134.0 L382.2 1134.3 L382.0 1134.6 L381.8 1134.8 L381.5 1135.0 L381.0 1135.2 L380.8 1135.4 L380.2 1135.5 L380.0 1135.5Z M380.0 1133.3 L379.5 1133.2 L379.2 1133.1 L379.0 1133.0 L378.8 1132.6 L378.6 1132.2 L378.6 1131.8 L378.8 1131.4 L379.0 1131.0 L379.2 1130.9 L379.5 1130.8 L380.0 1130.7 L380.2 1130.8 L380.5 1131.0 L380.8 1131.2 L381.0 1131.8 L381.0 1132.2 L380.8 1132.8 L380.5 1133.0 L380.2 1133.2 L380.0 1133.3Z" fill="none" stroke="#000" stroke-width="0.6" stroke-linejoin="round" clip-path="url(#cp2)"/>
<ellipse cx="416.8" cy="967.6" rx="1.6" ry="1.3" fill="#fff" fill-opacity="0.9"/>
<path d="M415.2 980 L412 1001" stroke="#fff" stroke-width="0.9" stroke-opacity="0.55" stroke-linecap="round"/>
<ellipse cx="379.7" cy="1131.4" rx="1.5" ry="1.7" fill="#fff"/>
<ellipse cx="417.5" cy="1086.9" rx="1.4" ry="0.8" fill="#fff" fill-opacity="0.9"/>
</svg>
</body></html>
